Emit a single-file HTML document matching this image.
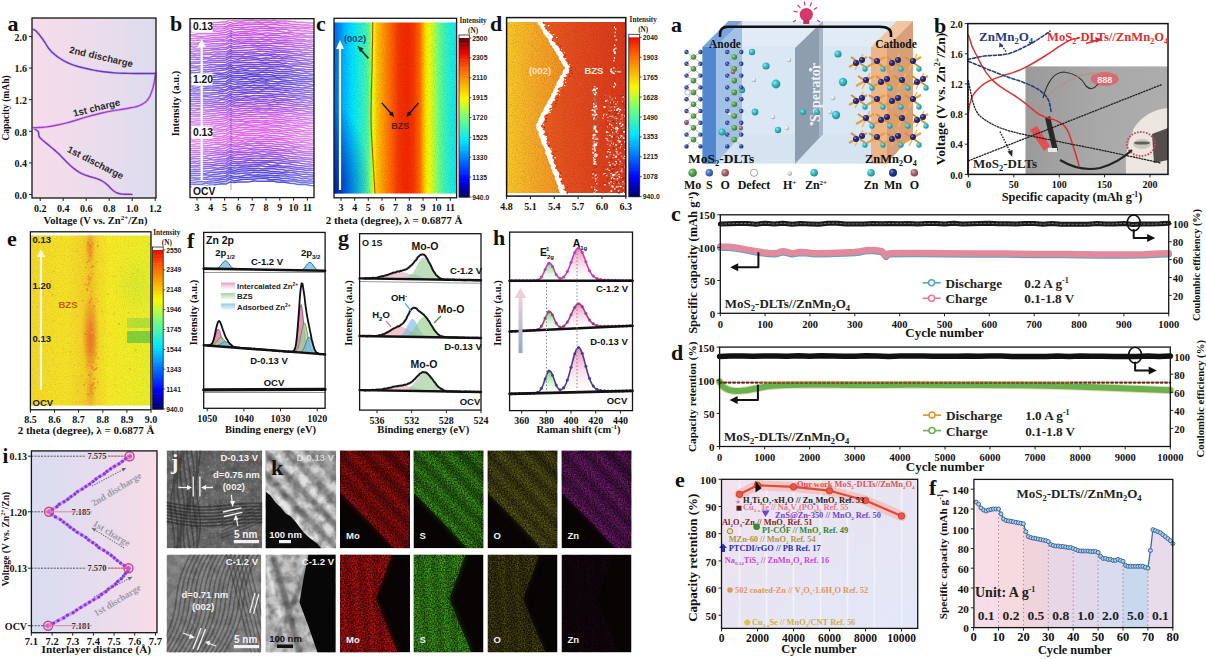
<!DOCTYPE html>
<html><head><meta charset="utf-8"><style>
html,body{margin:0;padding:0;background:#fff;width:1206px;height:659px;overflow:hidden}
svg{display:block}
</style></head><body>
<svg width="1206" height="659" viewBox="0 0 1206 659">
<defs><linearGradient id="ga" x1="0" y1="0" x2="1" y2="0"><stop offset="0.0000" stop-color="#f6dcea"/><stop offset="0.5000" stop-color="#ecdcec"/><stop offset="1.0000" stop-color="#dcdcee"/></linearGradient><clipPath id="cpb"><rect x="190" y="18.7" width="124" height="178.9"/></clipPath><linearGradient id="gbw" x1="0" y1="0" x2="1" y2="0"><stop offset="0" stop-color="#fff" stop-opacity="0.32"/><stop offset="0.4" stop-color="#fff" stop-opacity="0.05"/><stop offset="0.7" stop-color="#fff" stop-opacity="0.05"/><stop offset="1" stop-color="#fff" stop-opacity="0.3"/></linearGradient><filter id="nz" x="0" y="0" width="100%" height="100%"><feTurbulence type="fractalNoise" baseFrequency="0.9" numOctaves="2" seed="3"/><feColorMatrix type="matrix" values="0 0 0 0 0  0 0 0 0 0  0 0 0 0 0  0 0 0 1.2 -0.55"/></filter><filter id="nzw" x="0" y="0" width="100%" height="100%"><feTurbulence type="fractalNoise" baseFrequency="0.9" numOctaves="2" seed="5"/><feColorMatrix type="matrix" values="0 0 0 0 1  0 0 0 0 1  0 0 0 0 1  0 0 0 1.2 -0.6"/></filter><linearGradient id="gc" x1="0" y1="0" x2="1" y2="0"><stop offset="0.0000" stop-color="#007fff"/><stop offset="0.0250" stop-color="#0090ff"/><stop offset="0.0500" stop-color="#00a0ff"/><stop offset="0.0750" stop-color="#00b1ff"/><stop offset="0.1000" stop-color="#00c1ff"/><stop offset="0.1250" stop-color="#00d2ff"/><stop offset="0.1500" stop-color="#00e2ff"/><stop offset="0.1750" stop-color="#0ce8f1"/><stop offset="0.2000" stop-color="#1cebdf"/><stop offset="0.2250" stop-color="#2cefcc"/><stop offset="0.2500" stop-color="#3cf2ba"/><stop offset="0.2750" stop-color="#4cf6a8"/><stop offset="0.3000" stop-color="#8ffe61"/><stop offset="0.3250" stop-color="#faf800"/><stop offset="0.3500" stop-color="#fbc500"/><stop offset="0.3750" stop-color="#fcb000"/><stop offset="0.4000" stop-color="#fc9a00"/><stop offset="0.4250" stop-color="#fd8500"/><stop offset="0.4500" stop-color="#fe7000"/><stop offset="0.4750" stop-color="#fe5d00"/><stop offset="0.5000" stop-color="#fa4a00"/><stop offset="0.5250" stop-color="#f53600"/><stop offset="0.5500" stop-color="#f33000"/><stop offset="0.5750" stop-color="#f22b00"/><stop offset="0.6000" stop-color="#f12a00"/><stop offset="0.6250" stop-color="#f33000"/><stop offset="0.6500" stop-color="#f53800"/><stop offset="0.6750" stop-color="#fc5000"/><stop offset="0.7000" stop-color="#fe6700"/><stop offset="0.7250" stop-color="#fca800"/><stop offset="0.7500" stop-color="#fae400"/><stop offset="0.7750" stop-color="#f2fa06"/><stop offset="0.8000" stop-color="#cefb28"/><stop offset="0.8250" stop-color="#a5fd4e"/><stop offset="0.8500" stop-color="#75fe7a"/><stop offset="0.8750" stop-color="#54f79f"/><stop offset="0.9000" stop-color="#42f3b3"/><stop offset="0.9250" stop-color="#30f0c8"/><stop offset="0.9500" stop-color="#1fecdb"/><stop offset="0.9750" stop-color="#16eae5"/><stop offset="1.0000" stop-color="#0de8ef"/></linearGradient><linearGradient id="gcl" x1="0" y1="0" x2="1" y2="0"><stop offset="0.0000" stop-color="#0020c0"/><stop offset="1.0000" stop-color="#0030d0"/></linearGradient><linearGradient id="gcv" x1="0" y1="0" x2="0" y2="1"><stop offset="0.0000" stop-color="#000080"/><stop offset="0.5000" stop-color="#000080"/><stop offset="1.0000" stop-color="#000080"/></linearGradient><linearGradient id="gcle" x1="0" y1="0" x2="1" y2="0"><stop offset="0" stop-color="#0030d0" stop-opacity="0.35"/><stop offset="1" stop-color="#0030d0" stop-opacity="0"/></linearGradient><linearGradient id="gcb" x1="0" y1="0" x2="0" y2="1"><stop offset="0" stop-color="#0000c0" stop-opacity="0"/><stop offset="1" stop-color="#0000c0" stop-opacity="0.5"/></linearGradient><radialGradient id="gcbl" cx="0" cy="1" r="1"><stop offset="0" stop-color="#0010b0" stop-opacity="0.85"/><stop offset="1" stop-color="#0010b0" stop-opacity="0"/></radialGradient><linearGradient id="gdl" x1="0" y1="0" x2="1" y2="0"><stop offset="0.0000" stop-color="#f8c828"/><stop offset="0.4500" stop-color="#f4aa28"/><stop offset="1.0000" stop-color="#f08c22"/></linearGradient><linearGradient id="gdr" x1="0" y1="0" x2="1" y2="0"><stop offset="0.0000" stop-color="#ea6020"/><stop offset="0.3500" stop-color="#e44e1e"/><stop offset="1.0000" stop-color="#d8381a"/></linearGradient><radialGradient id="bg_3cc8d0" cx="0.35" cy="0.35" r="0.7"><stop offset="0" stop-color="#a7e6e9"/><stop offset="0.35" stop-color="#3cc8d0"/><stop offset="1" stop-color="#278287"/></radialGradient><radialGradient id="bg_e8eef4" cx="0.35" cy="0.35" r="0.7"><stop offset="0" stop-color="#f4f7fa"/><stop offset="0.35" stop-color="#e8eef4"/><stop offset="1" stop-color="#969a9e"/></radialGradient><radialGradient id="bg_2e4eb0" cx="0.35" cy="0.35" r="0.7"><stop offset="0" stop-color="#a0afdb"/><stop offset="0.35" stop-color="#2e4eb0"/><stop offset="1" stop-color="#1d3272"/></radialGradient><radialGradient id="bg_5cb04c" cx="0.35" cy="0.35" r="0.7"><stop offset="0" stop-color="#b5dbae"/><stop offset="0.35" stop-color="#5cb04c"/><stop offset="1" stop-color="#3b7231"/></radialGradient><radialGradient id="bg_b0707a" cx="0.35" cy="0.35" r="0.7"><stop offset="0" stop-color="#dbbec3"/><stop offset="0.35" stop-color="#b0707a"/><stop offset="1" stop-color="#72484f"/></radialGradient><radialGradient id="bg_2a2a8a" cx="0.35" cy="0.35" r="0.7"><stop offset="0" stop-color="#9f9fca"/><stop offset="0.35" stop-color="#2a2a8a"/><stop offset="1" stop-color="#1b1b59"/></radialGradient><radialGradient id="bg_4a78d0" cx="0.35" cy="0.35" r="0.7"><stop offset="0" stop-color="#adc2e9"/><stop offset="0.35" stop-color="#4a78d0"/><stop offset="1" stop-color="#304e87"/></radialGradient><radialGradient id="bg_b86a74" cx="0.35" cy="0.35" r="0.7"><stop offset="0" stop-color="#dfbbc0"/><stop offset="0.35" stop-color="#b86a74"/><stop offset="1" stop-color="#77444b"/></radialGradient><radialGradient id="bg_e0e6ec" cx="0.35" cy="0.35" r="0.7"><stop offset="0" stop-color="#f1f3f6"/><stop offset="0.35" stop-color="#e0e6ec"/><stop offset="1" stop-color="#919599"/></radialGradient><radialGradient id="bg_1e3c9a" cx="0.35" cy="0.35" r="0.7"><stop offset="0" stop-color="#99a7d1"/><stop offset="0.35" stop-color="#1e3c9a"/><stop offset="1" stop-color="#132764"/></radialGradient><linearGradient id="gph" x1="0" y1="0" x2="1" y2="0"><stop offset="0.0000" stop-color="#a2a2a2"/><stop offset="0.5000" stop-color="#b0b0b0"/><stop offset="1.0000" stop-color="#b6b6b6"/></linearGradient><linearGradient id="gph2" x1="0" y1="0" x2="0" y2="1"><stop offset="0" stop-color="#000" stop-opacity="0.05"/><stop offset="1" stop-color="#000" stop-opacity="0.04"/></linearGradient><linearGradient id="gel" x1="0" y1="0" x2="1" y2="0"><stop offset="0.0000" stop-color="#f4d82a"/><stop offset="0.3000" stop-color="#f6e228"/><stop offset="0.4500" stop-color="#f4d028"/><stop offset="0.5000" stop-color="#f2c02a"/><stop offset="0.5500" stop-color="#f4d828"/><stop offset="0.6500" stop-color="#f6ea26"/><stop offset="1.0000" stop-color="#eaee2a"/></linearGradient><radialGradient id="gep" cx="0.5" cy="0.5" r="0.5"><stop offset="0" stop-color="#e8702a" stop-opacity="0.85"/><stop offset="1" stop-color="#e8702a" stop-opacity="0"/></radialGradient><radialGradient id="geg" cx="0.5" cy="0.5" r="0.5"><stop offset="0" stop-color="#a8e040" stop-opacity="0.8"/><stop offset="1" stop-color="#a8e040" stop-opacity="0"/></radialGradient><linearGradient id="lgf0" x1="0" y1="0" x2="0" y2="1"><stop offset="0.0000" stop-color="#e8a0c0"/><stop offset="1.0000" stop-color="#ffffff"/></linearGradient><linearGradient id="lgf1" x1="0" y1="0" x2="0" y2="1"><stop offset="0.0000" stop-color="#a8d0a0"/><stop offset="1.0000" stop-color="#ffffff"/></linearGradient><linearGradient id="lgf2" x1="0" y1="0" x2="0" y2="1"><stop offset="0.0000" stop-color="#90c8e8"/><stop offset="1.0000" stop-color="#ffffff"/></linearGradient><linearGradient id="lh58cc58280" x1="0" y1="0" x2="0" y2="1"><stop offset="0" stop-color="#58cc58"/><stop offset="1" stop-color="#ffffff" stop-opacity="0.3"/></linearGradient><linearGradient id="lhe880b0280" x1="0" y1="0" x2="0" y2="1"><stop offset="0" stop-color="#e880b0"/><stop offset="1" stop-color="#ffffff" stop-opacity="0.3"/></linearGradient><linearGradient id="lh58cc58331" x1="0" y1="0" x2="0" y2="1"><stop offset="0" stop-color="#58cc58"/><stop offset="1" stop-color="#ffffff" stop-opacity="0.3"/></linearGradient><linearGradient id="lhe880b0331" x1="0" y1="0" x2="0" y2="1"><stop offset="0" stop-color="#e880b0"/><stop offset="1" stop-color="#ffffff" stop-opacity="0.3"/></linearGradient><linearGradient id="lh58cc58393" x1="0" y1="0" x2="0" y2="1"><stop offset="0" stop-color="#58cc58"/><stop offset="1" stop-color="#ffffff" stop-opacity="0.3"/></linearGradient><linearGradient id="lhe880b0393" x1="0" y1="0" x2="0" y2="1"><stop offset="0" stop-color="#e880b0"/><stop offset="1" stop-color="#ffffff" stop-opacity="0.3"/></linearGradient><linearGradient id="harr" x1="0" y1="1" x2="0" y2="0"><stop offset="0" stop-color="#90a8d0"/><stop offset="1" stop-color="#f0d0d8"/></linearGradient><linearGradient id="gi" x1="0" y1="0" x2="1" y2="0"><stop offset="0.0000" stop-color="#d8dcf0"/><stop offset="0.5000" stop-color="#e6dcee"/><stop offset="1.0000" stop-color="#f8dce6"/></linearGradient><filter id="temn" x="0" y="0" width="100%" height="100%"><feTurbulence type="fractalNoise" baseFrequency="0.35" numOctaves="3" seed="11"/><feColorMatrix type="matrix" values="0 0 0 0 0.5  0 0 0 0 0.5  0 0 0 0 0.5  0.9 0.9 0 0 -0.9"/></filter><filter id="temw" x="0" y="0" width="100%" height="100%"><feTurbulence type="fractalNoise" baseFrequency="0.12" numOctaves="3" seed="4"/><feColorMatrix type="matrix" values="0 0 0 0 0  0 0 0 0 0  0 0 0 0 0  1.6 0 0 0 -0.55"/></filter><filter id="speck" x="0" y="0" width="100%" height="100%"><feTurbulence type="fractalNoise" baseFrequency="0.7" numOctaves="2" seed="9" result="n"/><feColorMatrix in="n" type="matrix" values="0 0 0 0 0  0 0 0 0 0  0 0 0 0 0  2.0 0 0 0 -0.6" result="a"/><feComposite in="SourceGraphic" in2="a" operator="in"/></filter><filter id="blur1"><feGaussianBlur stdDeviation="1.2"/></filter><filter id="blur07"><feGaussianBlur stdDeviation="0.6"/></filter><filter id="blur3"><feGaussianBlur stdDeviation="3"/></filter><clipPath id="cjt"><rect x="166.7" y="450.4" width="95.5" height="97.8"/></clipPath><clipPath id="cjb"><rect x="166.6" y="554.6" width="94.6" height="97.9"/></clipPath><clipPath id="ckt"><rect x="265.5" y="450.4" width="70.6" height="97.8"/></clipPath><clipPath id="ckb"><rect x="265.5" y="554.6" width="70.1" height="97.9"/></clipPath><clipPath id="ce00"><rect x="340" y="450.5" width="70" height="97.8"/></clipPath><clipPath id="ce01"><rect x="340" y="554.6" width="70" height="97.8"/></clipPath><clipPath id="ce10"><rect x="413.5" y="450.5" width="70" height="97.8"/></clipPath><clipPath id="ce11"><rect x="413.5" y="554.6" width="70" height="97.8"/></clipPath><clipPath id="ce20"><rect x="487.5" y="450.5" width="70" height="97.8"/></clipPath><clipPath id="ce21"><rect x="487.5" y="554.6" width="70" height="97.8"/></clipPath><clipPath id="ce30"><rect x="561.5" y="450.5" width="70" height="97.8"/></clipPath><clipPath id="ce31"><rect x="561.5" y="554.6" width="70" height="97.8"/></clipPath><linearGradient id="ger" x1="0" y1="0" x2="1" y2="1"><stop offset="0" stop-color="#f2e2ee"/><stop offset="0.45" stop-color="#e8e4f2"/><stop offset="1" stop-color="#e2e8f8"/></linearGradient></defs>
<rect width="1206" height="659" fill="#ffffff"/>
<rect x="32" y="18" width="124" height="180" fill="url(#ga)"/>
<polyline points="33.4,127.9 34.4,128.6 35.8,129.6 37.3,130.7 38.4,131.9 38.8,133.1 38.7,134.3 38.8,135.6 39.4,137 40.7,138.5 42.4,140 44.5,141.7 46.8,143.6 49.4,145.8 52.4,148.3 55.5,150.9 58.5,153.6 61.4,156.5 64.3,159.6 67.2,162.6 70.1,165.3 72.9,167.7 75.7,169.9 78.6,171.9 81.8,173.7 85.5,175.2 89.6,176.5 93.5,177.6 96.9,178.7 99.4,179.7 101.3,180.5 103,181.5 105.2,183 107.8,185.3 110.6,188.2 113.7,191 116.9,193 120.8,194 125.1,194.3 129.1,194.3 131.9,194.4" fill="none" stroke="#f0a8f4" stroke-width="2.8" stroke-linejoin="round" stroke-linecap="round" opacity="0.8"/>
<polyline points="33.4,127.9 34.4,128.6 35.8,129.6 37.3,130.7 38.4,131.9 38.8,133.1 38.7,134.3 38.8,135.6 39.4,137 40.7,138.5 42.4,140 44.5,141.7 46.8,143.6 49.4,145.8 52.4,148.3 55.5,150.9 58.5,153.6 61.4,156.5 64.3,159.6 67.2,162.6 70.1,165.3 72.9,167.7 75.7,169.9 78.6,171.9 81.8,173.7 85.5,175.2 89.6,176.5 93.5,177.6 96.9,178.7 99.4,179.7 101.3,180.5 103,181.5 105.2,183 107.8,185.3 110.6,188.2 113.7,191 116.9,193 120.8,194 125.1,194.3 129.1,194.3 131.9,194.4" fill="none" stroke="#6a40b8" stroke-width="1.4" stroke-linejoin="round" stroke-linecap="round"/>
<polyline points="33.4,127.6 35.7,127.6 38.9,127.5 42.7,127.3 46.8,126.9 51.3,126.2 56.4,125.2 61.6,124.1 66.8,122.9 71.8,121.5 76.8,120 81.8,118.4 86.8,116.9 91.8,115.5 96.9,114.2 101.9,113 106.9,111.9 112.1,110.9 117.3,110.1 122.4,109.3 126.9,108.5 130.8,107.7 134.3,107.1 137.5,106.3 140.3,105.2 142.8,103.9 145,102.5 146.9,100.7 148.6,98.5 150.2,95.6 151.5,92.2 152.7,88.6 153.6,85.2 154.3,81.9 154.8,78.5 155.1,75.6 155.3,73.5" fill="none" stroke="#f0a8f4" stroke-width="2.8" stroke-linejoin="round" stroke-linecap="round" opacity="0.8"/>
<polyline points="33.4,127.6 35.7,127.6 38.9,127.5 42.7,127.3 46.8,126.9 51.3,126.2 56.4,125.2 61.6,124.1 66.8,122.9 71.8,121.5 76.8,120 81.8,118.4 86.8,116.9 91.8,115.5 96.9,114.2 101.9,113 106.9,111.9 112.1,110.9 117.3,110.1 122.4,109.3 126.9,108.5 130.8,107.7 134.3,107.1 137.5,106.3 140.3,105.2 142.8,103.9 145,102.5 146.9,100.7 148.6,98.5 150.2,95.6 151.5,92.2 152.7,88.6 153.6,85.2 154.3,81.9 154.8,78.5 155.1,75.6 155.3,73.5" fill="none" stroke="#9448d0" stroke-width="1.4" stroke-linejoin="round" stroke-linecap="round"/>
<polyline points="33.4,29.4 33.9,29.7 34.6,30 35.6,30.6 36.7,31.7 38.1,33.3 39.8,35.4 41.6,37.7 43.4,40.1 45,42.5 46.5,45.1 48.2,47.7 50.1,50.1 52.3,52.4 54.7,54.5 57.3,56.6 60.1,58.5 63.1,60.3 66.2,62 69.6,63.6 73.5,65.1 78,66.5 83.1,67.8 88.3,69 93.5,70.1 98.5,71 103.5,71.7 108.6,72.3 113.6,72.8 118.6,73.1 123.5,73.3 128.5,73.4 133.6,73.5 139.4,73.5 145.7,73.5 151.4,73.5 155.3,73.5" fill="none" stroke="#f0a8f4" stroke-width="2.8" stroke-linejoin="round" stroke-linecap="round" opacity="0.8"/>
<polyline points="33.4,29.4 33.9,29.7 34.6,30 35.6,30.6 36.7,31.7 38.1,33.3 39.8,35.4 41.6,37.7 43.4,40.1 45,42.5 46.5,45.1 48.2,47.7 50.1,50.1 52.3,52.4 54.7,54.5 57.3,56.6 60.1,58.5 63.1,60.3 66.2,62 69.6,63.6 73.5,65.1 78,66.5 83.1,67.8 88.3,69 93.5,70.1 98.5,71 103.5,71.7 108.6,72.3 113.6,72.8 118.6,73.1 123.5,73.3 128.5,73.4 133.6,73.5 139.4,73.5 145.7,73.5 151.4,73.5 155.3,73.5" fill="none" stroke="#4c48b8" stroke-width="1.4" stroke-linejoin="round" stroke-linecap="round"/>
<text x="100.4" y="60" font-family="'Liberation Sans', sans-serif" font-size="9.6" font-weight="bold" text-anchor="middle" fill="#2a2a2a" transform="rotate(13 100.4 60)">2nd discharge</text>
<text x="97.4" y="111" font-family="'Liberation Sans', sans-serif" font-size="9.6" font-weight="bold" text-anchor="middle" fill="#2a2a2a" transform="rotate(-14 97.4 111)">1st charge</text>
<text x="94" y="165.5" font-family="'Liberation Sans', sans-serif" font-size="9.6" font-weight="bold" text-anchor="middle" fill="#2a2a2a" transform="rotate(27 94 165.5)">1st discharge</text>
<rect x="32" y="18" width="124" height="180" fill="none" stroke="#151515" stroke-width="1.3"/>
<line x1="29" y1="194.5" x2="32" y2="194.5" stroke="#222" stroke-width="1"/>
<text x="27" y="198.7" font-family="'Liberation Serif', serif" font-size="10" font-weight="bold" text-anchor="end" fill="#111">0.0</text>
<line x1="29" y1="162.9" x2="32" y2="162.9" stroke="#222" stroke-width="1"/>
<text x="27" y="167.1" font-family="'Liberation Serif', serif" font-size="10" font-weight="bold" text-anchor="end" fill="#111">0.4</text>
<line x1="29" y1="131.3" x2="32" y2="131.3" stroke="#222" stroke-width="1"/>
<text x="27" y="135.5" font-family="'Liberation Serif', serif" font-size="10" font-weight="bold" text-anchor="end" fill="#111">0.8</text>
<line x1="29" y1="99.7" x2="32" y2="99.7" stroke="#222" stroke-width="1"/>
<text x="27" y="103.9" font-family="'Liberation Serif', serif" font-size="10" font-weight="bold" text-anchor="end" fill="#111">1.2</text>
<line x1="29" y1="68.1" x2="32" y2="68.1" stroke="#222" stroke-width="1"/>
<text x="27" y="72.3" font-family="'Liberation Serif', serif" font-size="10" font-weight="bold" text-anchor="end" fill="#111">1.6</text>
<line x1="29" y1="36.5" x2="32" y2="36.5" stroke="#222" stroke-width="1"/>
<text x="27" y="40.7" font-family="'Liberation Serif', serif" font-size="10" font-weight="bold" text-anchor="end" fill="#111">2.0</text>
<line x1="40.2" y1="198" x2="40.2" y2="201" stroke="#222" stroke-width="1"/>
<text x="40.2" y="211.5" font-family="'Liberation Serif', serif" font-size="10" font-weight="bold" text-anchor="middle" fill="#111">0.2</text>
<line x1="63.2" y1="198" x2="63.2" y2="201" stroke="#222" stroke-width="1"/>
<text x="63.2" y="211.5" font-family="'Liberation Serif', serif" font-size="10" font-weight="bold" text-anchor="middle" fill="#111">0.4</text>
<line x1="86.2" y1="198" x2="86.2" y2="201" stroke="#222" stroke-width="1"/>
<text x="86.2" y="211.5" font-family="'Liberation Serif', serif" font-size="10" font-weight="bold" text-anchor="middle" fill="#111">0.6</text>
<line x1="109.2" y1="198" x2="109.2" y2="201" stroke="#222" stroke-width="1"/>
<text x="109.2" y="211.5" font-family="'Liberation Serif', serif" font-size="10" font-weight="bold" text-anchor="middle" fill="#111">0.8</text>
<line x1="132.2" y1="198" x2="132.2" y2="201" stroke="#222" stroke-width="1"/>
<text x="132.2" y="211.5" font-family="'Liberation Serif', serif" font-size="10" font-weight="bold" text-anchor="middle" fill="#111">1.0</text>
<line x1="155.2" y1="198" x2="155.2" y2="201" stroke="#222" stroke-width="1"/>
<text x="155.2" y="211.5" font-family="'Liberation Serif', serif" font-size="10" font-weight="bold" text-anchor="middle" fill="#111">1.2</text>
<text x="95.5" y="223.5" font-family="'Liberation Serif', serif" font-size="10.5" font-weight="bold" text-anchor="middle" fill="#111">Voltage (V vs. Zn<tspan font-size="7" dy="-4">2+</tspan><tspan dy="4">/Zn)</tspan></text>
<text x="9" y="108" font-family="'Liberation Serif', serif" font-size="9.5" font-weight="bold" text-anchor="middle" fill="#111" transform="rotate(-90 9 108)">Capacity (mAh)</text>
<text x="7.5" y="30.5" font-family="'Liberation Serif', serif" font-size="22" font-weight="bold" text-anchor="start" fill="#111">a</text>
<rect x="190" y="18.7" width="124" height="178.9" fill="#ffffff"/>
<g clip-path="url(#cpb)">
<polyline points="190,23.5 194,23.3 198,23.7 202,22.9 206,23.3 210,22.9 214,22.4 218,22.6 222,21.9 226,22 230,19.6 234,21 238,21.1 242,21.3 246,20.4 250,20.3 254,20.6 258,20.9 262,20.5 266,20.4 270,21 274,20.3 278,21.3 282,21 286,21.1 290,21.3 294,21.8 298,22.6 302,22.2 306,22.8 310,23.1 314,23" fill="none" stroke="#d858e0" stroke-width="1.5" stroke-linejoin="round" stroke-linecap="round"/>
<polyline points="190,25.9 194,25.3 198,25.2 202,25.2 206,25.5 210,25.1 214,24.7 218,24.8 222,24.4 226,23.9 230,22.4 234,23.7 238,23.1 242,23.1 246,22.9 250,23.1 254,22.8 258,22.3 262,23 266,22.2 270,22.6 274,23.1 278,22.7 282,23.2 286,23.1 290,24 294,24.3 298,24.4 302,25 306,24.7 310,25.3 314,25.4" fill="none" stroke="#d456e0" stroke-width="1.5" stroke-linejoin="round" stroke-linecap="round"/>
<polyline points="190,28 194,27.8 198,28.1 202,28 206,27.4 210,27.4 214,26.6 218,27 222,26.7 226,26.7 230,24.5 234,25.4 238,25.3 242,25.3 246,24.5 250,24.7 254,24.3 258,24.2 262,24.1 266,24.9 270,24.4 274,24.6 278,25 282,25.7 286,25.2 290,25.8 294,26.2 298,26.8 302,27 306,27.3 310,27 314,27.3" fill="none" stroke="#d155e0" stroke-width="1.5" stroke-linejoin="round" stroke-linecap="round"/>
<polyline points="190,29.9 194,30.4 198,30.3 202,29.4 206,29.2 210,29.1 214,28.9 218,28.9 222,28.7 226,28.1 230,25.8 234,27.6 238,27.4 242,27.3 246,27.5 250,27 254,26.8 258,26.8 262,26.8 266,26.3 270,27.2 274,27.3 278,27.6 282,27.7 286,27.6 290,27.9 294,27.9 298,28.7 302,28.4 306,28.6 310,29 314,29.2" fill="none" stroke="#ce54e0" stroke-width="1.5" stroke-linejoin="round" stroke-linecap="round"/>
<polyline points="190,32 194,31.6 198,31.5 202,31.5 206,31.3 210,31.3 214,30.8 218,31.4 222,30.8 226,30.1 230,28.2 234,29.7 238,29.5 242,29 246,29.5 250,29.4 254,28.8 258,28.7 262,28.3 266,28.4 270,28.8 274,28.8 278,29.6 282,29.2 286,29.3 290,30.5 294,30.4 298,30.3 302,31 306,30.7 310,31.4 314,32.1" fill="none" stroke="#cb53e0" stroke-width="1.5" stroke-linejoin="round" stroke-linecap="round"/>
<polyline points="190,34.7 194,34.4 198,33.8 202,33.8 206,33.4 210,33.8 214,33.4 218,33.4 222,32.7 226,32.3 230,30.8 234,32.4 238,32 242,31.7 246,31.5 250,31.3 254,30.6 258,30.9 262,30.7 266,30.4 270,30.5 274,30.9 278,31.1 282,31.8 286,32.4 290,32.1 294,32.9 298,33.2 302,33.5 306,33.2 310,33.2 314,33.4" fill="none" stroke="#c852e0" stroke-width="1.5" stroke-linejoin="round" stroke-linecap="round"/>
<polyline points="190,36.1 194,36 198,36.3 202,36.4 206,36.2 210,35.7 214,35.6 218,35.5 222,34.5 226,34.8 230,33 234,34.3 238,34 242,33.5 246,33 250,33.4 254,32.8 258,33.2 262,33.4 266,32.9 270,33 274,33.7 278,33.7 282,33.4 286,33.6 290,33.9 294,35 298,35.2 302,34.8 306,35.7 310,36.1 314,36" fill="none" stroke="#c551e0" stroke-width="1.5" stroke-linejoin="round" stroke-linecap="round"/>
<polyline points="190,38.4 194,38.5 198,37.9 202,37.7 206,38.5 210,37.9 214,37.6 218,37.7 222,37 226,37.1 230,35 234,35.8 238,35.6 242,35.4 246,35.1 250,35.3 254,34.8 258,34.9 262,34.6 266,35.5 270,35 274,35.3 278,35.6 282,36.2 286,36 290,36.8 294,36.7 298,37 302,37.3 306,37 310,37.7 314,37.6" fill="none" stroke="#c250e0" stroke-width="1.5" stroke-linejoin="round" stroke-linecap="round"/>
<polyline points="190,40.1 194,40.8 198,40.1 202,40.2 206,40.3 210,39.9 214,39.5 218,39.4 222,39.2 226,39.1 230,36.4 234,38.3 238,37.7 242,37.5 246,37.8 250,37.3 254,37.2 258,37.4 262,37.5 266,37.1 270,37.4 274,37.4 278,37.7 282,38.1 286,38.1 290,38.5 294,38.7 298,39.5 302,39.5 306,40 310,40.3 314,39.8" fill="none" stroke="#bd4fdf" stroke-width="1.5" stroke-linejoin="round" stroke-linecap="round"/>
<polyline points="190,42.8 194,43.1 198,42.9 202,42 206,41.8 210,41.9 214,41.3 218,41.3 222,40.8 226,41.1 230,39.2 234,40.7 238,39.7 242,40 246,39.7 250,39 254,39.6 258,39.7 262,38.9 266,39.7 270,39.2 274,39.5 278,40.2 282,40.3 286,39.9 290,40.5 294,40.9 298,41 302,41.1 306,41.5 310,42.2 314,41.7" fill="none" stroke="#b64dde" stroke-width="1.5" stroke-linejoin="round" stroke-linecap="round"/>
<polyline points="190,44.9 194,44.7 198,44.2 202,44.3 206,44.4 210,44.1 214,43.4 218,44.1 222,43.6 226,43.5 230,40.6 234,42.2 238,41.7 242,42.2 246,41.4 250,41.1 254,41.3 258,41.7 262,41.6 266,41.1 270,41.1 274,42 278,41.9 282,42.3 286,42 290,42.2 294,43.2 298,43.2 302,43.1 306,44.3 310,44.2 314,44.6" fill="none" stroke="#b04cde" stroke-width="1.5" stroke-linejoin="round" stroke-linecap="round"/>
<polyline points="190,46.6 194,47.2 198,46.3 202,47 206,46.4 210,46.1 214,46 218,46.1 222,45.2 226,44.8 230,43.1 234,44.2 238,43.9 242,43.6 246,43.3 250,43.3 254,43.2 258,43.2 262,43.6 266,43.2 270,43.5 274,43.4 278,43.8 282,43.7 286,44.2 290,44.3 294,45.3 298,45.4 302,45.3 306,45.9 310,46.6 314,46" fill="none" stroke="#a94add" stroke-width="1.5" stroke-linejoin="round" stroke-linecap="round"/>
<polyline points="190,49.4 194,48.9 198,48.9 202,49 206,48.4 210,48.3 214,48.3 218,48.3 222,47.4 226,47.6 230,45.4 234,46.7 238,46.2 242,45.9 246,45.4 250,45.3 254,45.1 258,45.7 262,45.2 266,45.2 270,45.2 274,46.1 278,46.4 282,46.4 286,46.3 290,46.6 294,47 298,47.4 302,47.4 306,48 310,48 314,48.9" fill="none" stroke="#a248dc" stroke-width="1.5" stroke-linejoin="round" stroke-linecap="round"/>
<polyline points="190,51.7 194,51.2 198,50.7 202,51.3 206,50.5 210,50.3 214,49.7 218,49.8 222,49.6 226,49.3 230,47 234,48.7 238,47.9 242,47.9 246,47.5 250,47.6 254,47.1 258,47 262,47.3 266,47.3 270,47.8 274,47.9 278,48.3 282,48.5 286,48.9 290,49.3 294,49.2 298,49.4 302,50.3 306,49.8 310,50.6 314,50.7" fill="none" stroke="#9b46db" stroke-width="1.5" stroke-linejoin="round" stroke-linecap="round"/>
<polyline points="190,52.9 194,53.6 198,53.5 202,53.1 206,53 210,52.9 214,51.9 218,52.1 222,51.8 226,51.8 230,49.7 234,51.1 238,50.6 242,50.6 246,50.2 250,50 254,49.4 258,49.1 262,49.2 266,49.5 270,49.4 274,50.3 278,50.2 282,50.6 286,50.9 290,51.2 294,51.4 298,51.2 302,52.3 306,52.5 310,52.5 314,52.7" fill="none" stroke="#9445da" stroke-width="1.5" stroke-linejoin="round" stroke-linecap="round"/>
<polyline points="190,55.6 194,54.9 198,55.4 202,54.8 206,54.4 210,54.4 214,54.6 218,53.8 222,54.1 226,54 230,51.5 234,52.7 238,52.6 242,52.5 246,52.4 250,52 254,51.9 258,51.3 262,51.3 266,51.5 270,52.1 274,51.9 278,52.3 282,52.1 286,52.4 290,52.9 294,53.6 298,54 302,54.2 306,54.1 310,54.6 314,54.8" fill="none" stroke="#8d43d9" stroke-width="1.5" stroke-linejoin="round" stroke-linecap="round"/>
<polyline points="190,57.5 194,57.1 198,57.7 202,56.9 206,57.5 210,57.2 214,56 218,56.2 222,56.3 226,56.1 230,53.5 234,54.7 238,54.4 242,54.9 246,53.9 250,54.1 254,53.5 258,53.8 262,54.2 266,53.5 270,54.3 274,54.1 278,54.8 282,54.8 286,54.7 290,55.6 294,55.6 298,55.4 302,55.7 306,56.4 310,56.7 314,56.7" fill="none" stroke="#8641d8" stroke-width="1.5" stroke-linejoin="round" stroke-linecap="round"/>
<polyline points="190,59.3 194,59.4 198,59.2 202,59.6 206,58.6 210,59.1 214,59 218,58 222,58.5 226,58 230,56.1 234,56.8 238,56.7 242,56.4 246,56.8 250,56.2 254,55.8 258,55.8 262,55.6 266,55.5 270,55.6 274,56.6 278,56.2 282,57.2 286,56.8 290,57.1 294,57.7 298,57.7 302,58.2 306,59 310,59.2 314,59.3" fill="none" stroke="#7f3fd7" stroke-width="1.5" stroke-linejoin="round" stroke-linecap="round"/>
<polyline points="190,61.9 194,62.1 198,62 202,61.4 206,61.4 210,60.5 214,61 218,60.4 222,60.4 226,60 230,57.6 234,58.7 238,59.3 242,58.2 246,58.3 250,58 254,57.8 258,58.2 262,58.4 266,57.8 270,58.3 274,58.1 278,58.6 282,58.7 286,58.8 290,59.1 294,59.5 298,60.5 302,60.4 306,60.4 310,61.3 314,61.6" fill="none" stroke="#7a3fd7" stroke-width="1.5" stroke-linejoin="round" stroke-linecap="round"/>
<polyline points="190,63.8 194,63.4 198,63.3 202,63.1 206,63.1 210,62.7 214,62.6 218,62.3 222,62.3 226,62.3 230,60.1 234,61.2 238,60.9 242,60.7 246,60.3 250,60.1 254,59.7 258,59.8 262,60.5 266,59.7 270,60.2 274,60.5 278,61 282,60.6 286,61 290,61.3 294,61.8 298,62.1 302,62.9 306,63.1 310,63.4 314,62.8" fill="none" stroke="#763ed6" stroke-width="1.5" stroke-linejoin="round" stroke-linecap="round"/>
<polyline points="190,65.5 194,66.1 198,66.2 202,65.6 206,65.5 210,64.7 214,64.8 218,65.1 222,64.7 226,64.4 230,62.5 234,63.1 238,62.7 242,62.4 246,62.6 250,62.5 254,62.6 258,62.3 262,62.3 266,62.4 270,62.3 274,62.5 278,62.3 282,63.3 286,63 290,64.1 294,64.1 298,64.1 302,64.2 306,64.6 310,65.3 314,65.6" fill="none" stroke="#713dd5" stroke-width="1.5" stroke-linejoin="round" stroke-linecap="round"/>
<polyline points="190,67.7 194,67.6 198,67.9 202,67.8 206,67.4 210,67 214,67.2 218,66.3 222,66.3 226,66.1 230,64.5 234,65.6 238,65.6 242,64.9 246,64.4 250,64.2 254,64.8 258,64.4 262,64 266,63.8 270,64.4 274,64.8 278,64.7 282,64.9 286,65.6 290,66.2 294,65.8 298,65.9 302,66.5 306,66.9 310,67.4 314,67.2" fill="none" stroke="#6c3cd4" stroke-width="1.5" stroke-linejoin="round" stroke-linecap="round"/>
<polyline points="190,70.5 194,70.4 198,70 202,69.5 206,70.1 210,69.2 214,69.5 218,68.6 222,68.3 226,68.5 230,66 234,68 238,67.3 242,66.7 246,66.4 250,66.4 254,66.5 258,66.7 262,65.9 266,66.2 270,66.2 274,67.1 278,66.6 282,66.7 286,67.1 290,67.7 294,68.6 298,68.9 302,69 306,69.6 310,69.8 314,69.4" fill="none" stroke="#673bd3" stroke-width="1.5" stroke-linejoin="round" stroke-linecap="round"/>
<polyline points="190,72 194,72.7 198,72.4 202,71.5 206,71.9 210,71.4 214,71.1 218,70.8 222,70.3 226,69.8 230,68.1 234,69.5 238,69.8 242,68.7 246,69.3 250,68.3 254,68.3 258,68.7 262,68.7 266,68.4 270,68.1 274,68.7 278,68.9 282,69.7 286,69.3 290,69.8 294,70.7 298,70.1 302,70.8 306,71.5 310,71.7 314,71.2" fill="none" stroke="#623bd3" stroke-width="1.5" stroke-linejoin="round" stroke-linecap="round"/>
<polyline points="190,74 194,73.9 198,74.6 202,73.8 206,74.1 210,74 214,73.2 218,72.9 222,73.2 226,72.6 230,70.1 234,71.9 238,71.3 242,70.9 246,70.4 250,71 254,71 258,70.6 262,70.9 266,70 270,70.4 274,70.8 278,71.5 282,71.8 286,71.6 290,71.8 294,72.3 298,72.7 302,73.4 306,73 310,73.9 314,74" fill="none" stroke="#5e3ad2" stroke-width="1.5" stroke-linejoin="round" stroke-linecap="round"/>
<polyline points="190,76.9 194,76.7 198,76.4 202,76 206,75.8 210,75.6 214,75.8 218,74.8 222,74.6 226,74.8 230,72.2 234,73.4 238,73.1 242,73.3 246,72.8 250,73.3 254,73 258,73 262,72.3 266,72.2 270,72.3 274,72.9 278,73.4 282,73.4 286,73.5 290,74 294,74.6 298,75 302,75.4 306,75.8 310,75.8 314,75.5" fill="none" stroke="#5939d1" stroke-width="1.5" stroke-linejoin="round" stroke-linecap="round"/>
<polyline points="190,79 194,78.4 198,78.5 202,78.1 206,78.3 210,77.5 214,77.3 218,77 222,76.6 226,77 230,74.6 234,75.7 238,75.5 242,75.8 246,75.1 250,74.6 254,75 258,74.8 262,75.1 266,74.3 270,74.8 274,75.3 278,75.6 282,76 286,75.4 290,76 294,76.2 298,76.6 302,77.7 306,77.6 310,78.2 314,77.9" fill="none" stroke="#5438d0" stroke-width="1.5" stroke-linejoin="round" stroke-linecap="round"/>
<polyline points="190,81.2 194,80.6 198,80.3 202,80.7 206,80.6 210,79.6 214,79.8 218,79.5 222,78.8 226,78.6 230,76.3 234,77.7 238,77.5 242,77.5 246,77.3 250,76.7 254,76.3 258,76.6 262,76.9 266,76.5 270,76.7 274,76.8 278,77.7 282,77.7 286,77.5 290,77.9 294,78.6 298,79 302,79.5 306,79.2 310,79.6 314,80.3" fill="none" stroke="#5038d0" stroke-width="1.5" stroke-linejoin="round" stroke-linecap="round"/>
<polyline points="190,82.8 194,82.6 198,82.5 202,83 206,82.1 210,82.1 214,81.7 218,81.4 222,81.5 226,81.3 230,78.6 234,79.8 238,80 242,79.2 246,78.8 250,79.4 254,78.8 258,79.1 262,78.7 266,79.3 270,79 274,78.9 278,79 282,79.8 286,80.2 290,80.8 294,80.3 298,81.2 302,81.3 306,81.7 310,81.6 314,82" fill="none" stroke="#5438d0" stroke-width="1.5" stroke-linejoin="round" stroke-linecap="round"/>
<polyline points="190,85.1 194,85.3 198,84.4 202,84.6 206,84.7 210,84.6 214,83.6 218,83.2 222,83.7 226,83.4 230,80.8 234,81.7 238,82.3 242,81.5 246,81.7 250,81.3 254,81.3 258,80.6 262,81.2 266,80.7 270,81 274,81.6 278,81.9 282,81.5 286,81.9 290,82.4 294,82.9 298,83.1 302,83.2 306,83.6 310,84.3 314,84.8" fill="none" stroke="#5839d1" stroke-width="1.5" stroke-linejoin="round" stroke-linecap="round"/>
<polyline points="190,86.7 194,87.1 198,87.2 202,86.3 206,86.9 210,85.9 214,86.1 218,85.8 222,85.5 226,84.8 230,82.9 234,84.4 238,83.9 242,83.9 246,83.4 250,83.2 254,82.6 258,83.1 262,83 266,82.8 270,83.4 274,83.7 278,83.6 282,83.6 286,84.2 290,84.2 294,84.6 298,85.2 302,85.2 306,85.9 310,86.2 314,86" fill="none" stroke="#5c3ad2" stroke-width="1.5" stroke-linejoin="round" stroke-linecap="round"/>
<polyline points="190,89.4 194,88.7 198,89.2 202,89.1 206,88.6 210,87.9 214,88.1 218,87.7 222,87.9 226,86.8 230,85.4 234,86.9 238,86.3 242,86.1 246,85.2 250,85.8 254,85.1 258,85.5 262,85.5 266,84.8 270,85.6 274,85.9 278,85.3 282,85.9 286,86.6 290,86.4 294,87.5 298,87.2 302,88.1 306,87.7 310,88.3 314,89" fill="none" stroke="#603bd3" stroke-width="1.5" stroke-linejoin="round" stroke-linecap="round"/>
<polyline points="190,91.1 194,91 198,91.1 202,90.8 206,90.3 210,90.2 214,89.9 218,90.4 222,89.8 226,89.6 230,86.8 234,88.8 238,87.8 242,87.9 246,87.7 250,87.3 254,87.6 258,87.2 262,87.2 266,87.6 270,87 274,88 278,87.9 282,88 286,88.7 290,88.6 294,89.6 298,89.6 302,89.7 306,90.4 310,90.4 314,90.4" fill="none" stroke="#653cd4" stroke-width="1.5" stroke-linejoin="round" stroke-linecap="round"/>
<polyline points="190,93.7 194,92.9 198,93.6 202,92.8 206,93 210,93.1 214,92.4 218,92.2 222,91.5 226,90.8 230,88.8 234,90.2 238,90.4 242,89.9 246,89.7 250,89.9 254,89 258,89 262,89.4 266,88.8 270,88.9 274,89.5 278,89.5 282,90.1 286,90.3 290,91 294,91.3 298,91.3 302,92.1 306,92.2 310,92.2 314,93.2" fill="none" stroke="#693cd4" stroke-width="1.5" stroke-linejoin="round" stroke-linecap="round"/>
<polyline points="190,95.4 194,95.1 198,94.9 202,95.3 206,95.3 210,95 214,94.3 218,93.9 222,93.3 226,93.6 230,91.4 234,92.5 238,92.5 242,92 246,92.2 250,91.8 254,91.2 258,91.7 262,90.9 266,91.4 270,91.4 274,91.5 278,91.6 282,92.6 286,92.1 290,93 294,93.8 298,93.4 302,93.7 306,94.5 310,94.7 314,95" fill="none" stroke="#6d3dd5" stroke-width="1.5" stroke-linejoin="round" stroke-linecap="round"/>
<polyline points="190,98 194,97.3 198,97.3 202,97.1 206,96.6 210,97.2 214,96.8 218,96.4 222,95.4 226,95.9 230,93.7 234,94.7 238,94.7 242,94.1 246,93.6 250,93.3 254,93.2 258,93 262,93.2 266,93.7 270,93.8 274,94.2 278,94.3 282,94.2 286,94.8 290,95 294,95.7 298,95.8 302,95.9 306,96.6 310,97.2 314,96.7" fill="none" stroke="#713ed6" stroke-width="1.5" stroke-linejoin="round" stroke-linecap="round"/>
<polyline points="190,100.2 194,99.2 198,99.3 202,99.1 206,99.4 210,99.4 214,98.9 218,98.2 222,98.4 226,97.5 230,95.3 234,97.3 238,96.7 242,96.4 246,96.1 250,96.2 254,95.6 258,95.8 262,95.7 266,95.9 270,95.6 274,96.1 278,96.2 282,96.3 286,96.5 290,97.3 294,97.1 298,98.3 302,97.9 306,98.1 310,98.5 314,99.5" fill="none" stroke="#753fd7" stroke-width="1.5" stroke-linejoin="round" stroke-linecap="round"/>
<polyline points="190,101.8 194,101.5 198,101.2 202,101 206,101.5 210,101.2 214,101 218,100.7 222,99.7 226,99.8 230,97.5 234,99.3 238,99 242,98.7 246,97.6 250,98.2 254,98.1 258,98 262,97.2 266,97.4 270,97.4 274,97.5 278,98.6 282,98.9 286,99.1 290,99.6 294,99.8 298,99.8 302,100 306,100.3 310,101.2 314,100.9" fill="none" stroke="#7a40d8" stroke-width="1.5" stroke-linejoin="round" stroke-linecap="round"/>
<polyline points="190,103.9 194,103.9 198,103.3 202,103.4 206,103.2 210,103.4 214,102.7 218,102.4 222,102.7 226,101.8 230,100.1 234,101.2 238,100.3 242,100.3 246,100.1 250,100.2 254,99.6 258,99.9 262,99.7 266,99.4 270,100.2 274,99.7 278,100.7 282,100.3 286,100.5 290,101.1 294,102 298,102.6 302,102 306,102.8 310,103.1 314,103.6" fill="none" stroke="#8342d9" stroke-width="1.5" stroke-linejoin="round" stroke-linecap="round"/>
<polyline points="190,105.9 194,106.1 198,105.8 202,106.1 206,105.3 210,105.7 214,104.8 218,104.4 222,104.5 226,103.9 230,101.4 234,103.3 238,102.4 242,102.8 246,102.4 250,102.3 254,102 258,101.6 262,101.6 266,101.7 270,102.4 274,101.8 278,102.8 282,102.3 286,102.8 290,103.2 294,104.3 298,104.2 302,104.4 306,105.3 310,104.9 314,105.4" fill="none" stroke="#8c45db" stroke-width="1.5" stroke-linejoin="round" stroke-linecap="round"/>
<polyline points="190,108.3 194,108.4 198,108.3 202,108 206,107.5 210,107.2 214,106.7 218,107.1 222,106.6 226,106.3 230,103.6 234,105.2 238,105.2 242,104.7 246,103.9 250,104.1 254,104.3 258,103.6 262,103.5 266,103.7 270,104.3 274,104.6 278,104.2 282,104.5 286,105 290,105.4 294,106 298,106 302,106.5 306,106.7 310,107.8 314,107.8" fill="none" stroke="#9647dd" stroke-width="1.5" stroke-linejoin="round" stroke-linecap="round"/>
<polyline points="190,110 194,110.7 198,109.7 202,109.8 206,110.2 210,109.8 214,109.4 218,108.8 222,108.2 226,108.3 230,105.6 234,107 238,106.9 242,106.2 246,106.3 250,106.5 254,106.2 258,105.9 262,106.1 266,106 270,105.8 274,106.5 278,106.5 282,107.2 286,107.7 290,107.6 294,108.1 298,108.7 302,108.7 306,108.8 310,109.6 314,110" fill="none" stroke="#9f4ade" stroke-width="1.5" stroke-linejoin="round" stroke-linecap="round"/>
<polyline points="190,112.8 194,112.6 198,112.6 202,112.2 206,112 210,111.5 214,111.1 218,111.1 222,110.2 226,110.2 230,108.4 234,109.6 238,109.3 242,108.5 246,108.4 250,108.2 254,108.2 258,107.9 262,108.2 266,108.5 270,107.9 274,108.6 278,109 282,108.9 286,109.4 290,110.2 294,109.7 298,110.6 302,110.5 306,111.5 310,112 314,111.8" fill="none" stroke="#a84de0" stroke-width="1.5" stroke-linejoin="round" stroke-linecap="round"/>
<polyline points="190,114.2 194,114.6 198,114.4 202,114.4 206,114 210,113.8 214,113.7 218,113.1 222,112.6 226,112.8 230,109.9 234,111.7 238,111.1 242,111.1 246,110.2 250,110.8 254,110 258,109.7 262,109.9 266,110.1 270,109.8 274,110.4 278,110.7 282,111.3 286,111.3 290,111.6 294,112 298,112.9 302,113.4 306,113.3 310,113.3 314,114.2" fill="none" stroke="#b24fe2" stroke-width="1.5" stroke-linejoin="round" stroke-linecap="round"/>
<polyline points="190,116.6 194,116.3 198,116.1 202,116.6 206,116.4 210,115.9 214,115.5 218,115.2 222,114.5 226,114.9 230,112.2 234,113.8 238,113.6 242,113.3 246,112.6 250,112.2 254,112.3 258,111.8 262,112.5 266,112.1 270,112.7 274,112.4 278,112.8 282,113 286,113.5 290,113.6 294,113.9 298,114.9 302,114.9 306,115.2 310,115.5 314,116" fill="none" stroke="#bb52e4" stroke-width="1.5" stroke-linejoin="round" stroke-linecap="round"/>
<polyline points="190,118.8 194,118.9 198,118.7 202,118.3 206,118.6 210,118.3 214,117.2 218,117.6 222,117.3 226,116.8 230,114.1 234,116 238,115.5 242,114.6 246,114.3 250,115 254,114.5 258,114 262,113.9 266,114 270,114.2 274,115 278,114.8 282,115 286,116.1 290,116.4 294,116.1 298,117.2 302,117.3 306,117.8 310,118 314,118.5" fill="none" stroke="#c454e5" stroke-width="1.5" stroke-linejoin="round" stroke-linecap="round"/>
<polyline points="190,121.3 194,121.2 198,120.4 202,120.7 206,120.3 210,120.3 214,119.7 218,119.8 222,119.1 226,118.4 230,116.3 234,117.4 238,117.5 242,116.7 246,116.8 250,116.3 254,116.4 258,116.4 262,116.4 266,116.8 270,116.1 274,117.1 278,117 282,117.5 286,117.9 290,118.5 294,118.4 298,118.8 302,119.8 306,119.2 310,120.1 314,120.4" fill="none" stroke="#ce57e7" stroke-width="1.5" stroke-linejoin="round" stroke-linecap="round"/>
<polyline points="190,122.6 194,123.1 198,123 202,123 206,122.2 210,122.6 214,121.8 218,121.5 222,121.5 226,120.3 230,118.8 234,120 238,119.4 242,119.6 246,118.8 250,118.7 254,118.6 258,118.7 262,118.1 266,118.4 270,118.6 274,118.9 278,119.5 282,119.3 286,120.2 290,120.2 294,120.7 298,120.8 302,121.4 306,122.2 310,122.2 314,122.6" fill="none" stroke="#d158e8" stroke-width="1.5" stroke-linejoin="round" stroke-linecap="round"/>
<polyline points="190,125 194,124.9 198,124.7 202,124.8 206,124.6 210,124.5 214,123.5 218,123.8 222,123.6 226,122.9 230,120.3 234,121.8 238,121.2 242,121 246,121.5 250,120.9 254,120.8 258,120.8 262,120.9 266,120.7 270,120.9 274,121.1 278,121.5 282,121.7 286,122.1 290,122.1 294,122.9 298,123.1 302,123.8 306,123.5 310,123.8 314,124" fill="none" stroke="#d359e8" stroke-width="1.5" stroke-linejoin="round" stroke-linecap="round"/>
<polyline points="190,127.6 194,127.6 198,127.2 202,126.7 206,126.9 210,126.6 214,126.1 218,125.5 222,125.1 226,124.9 230,122.6 234,124 238,123.9 242,123.9 246,122.7 250,122.9 254,122.2 258,122.2 262,122.9 266,122.8 270,123.3 274,123 278,122.9 282,123.6 286,124.1 290,124.9 294,125.3 298,125.2 302,125.5 306,125.6 310,126.4 314,126.3" fill="none" stroke="#d45ae8" stroke-width="1.5" stroke-linejoin="round" stroke-linecap="round"/>
<polyline points="190,129.1 194,128.8 198,128.7 202,129.1 206,128.3 210,128.9 214,127.7 218,128.2 222,127.1 226,126.6 230,125.1 234,125.9 238,126.1 242,125.2 246,124.8 250,125.2 254,125 258,125.1 262,124.9 266,124.3 270,125 274,125.4 278,125.4 282,126.2 286,125.9 290,127 294,127.2 298,126.8 302,127.2 306,128.2 310,128.7 314,128.2" fill="none" stroke="#d65be8" stroke-width="1.5" stroke-linejoin="round" stroke-linecap="round"/>
<polyline points="190,131.4 194,131.7 198,130.9 202,131.4 206,130.8 210,130.1 214,130.1 218,130 222,129.5 226,129.3 230,126.7 234,128.6 238,127.8 242,127.8 246,127.4 250,127 254,126.8 258,127.1 262,127.2 266,127.1 270,127.1 274,127 278,127.1 282,128.3 286,128.4 290,129 294,128.9 298,129.5 302,130.3 306,130.5 310,130.6 314,130.6" fill="none" stroke="#d85ce8" stroke-width="1.5" stroke-linejoin="round" stroke-linecap="round"/>
<polyline points="190,133.6 194,133.9 198,133.2 202,133.4 206,133 210,133.1 214,132.7 218,131.8 222,131.1 226,131 230,129 234,130.5 238,130.4 242,130.1 246,128.9 250,129.5 254,129.3 258,129.2 262,128.9 266,128.7 270,129.4 274,129.6 278,129.8 282,130.4 286,130.2 290,130.3 294,131.2 298,131.8 302,131.6 306,132.5 310,133 314,132.6" fill="none" stroke="#da5de8" stroke-width="1.5" stroke-linejoin="round" stroke-linecap="round"/>
<polyline points="190,135.9 194,135.8 198,135.5 202,135 206,134.8 210,135 214,134.8 218,134.1 222,133.3 226,133.6 230,131.5 234,132.2 238,132.2 242,132.2 246,131.9 250,131.3 254,131 258,131 262,130.6 266,130.7 270,130.9 274,131.6 278,131.6 282,132.1 286,132.3 290,132.9 294,132.9 298,133.2 302,134.5 306,134.3 310,134.3 314,135.1" fill="none" stroke="#db5de8" stroke-width="1.5" stroke-linejoin="round" stroke-linecap="round"/>
<polyline points="190,138.2 194,137.4 198,137.7 202,137.2 206,137.2 210,136.4 214,136.1 218,136.7 222,136.2 226,135.4 230,133.4 234,134.3 238,134.5 242,133.8 246,134 250,133.6 254,133.5 258,133.5 262,132.8 266,132.6 270,133 274,133.2 278,133.4 282,133.7 286,134.6 290,135.3 294,135.3 298,136.2 302,136.5 306,136.1 310,136.9 314,137" fill="none" stroke="#dd5ee8" stroke-width="1.5" stroke-linejoin="round" stroke-linecap="round"/>
<polyline points="190,139.6 194,140.3 198,139.5 202,139.6 206,139.4 210,139.4 214,138.8 218,138.2 222,137.9 226,137.2 230,135.9 234,137.2 238,136 242,135.5 246,135.4 250,135.3 254,135.6 258,135.5 262,135.5 266,134.7 270,135.6 274,135.8 278,136 282,136.7 286,136.2 290,136.7 294,137.7 298,138.3 302,138.4 306,138.4 310,139 314,139.5" fill="none" stroke="#df5fe8" stroke-width="1.5" stroke-linejoin="round" stroke-linecap="round"/>
<polyline points="190,141.7 194,141.8 198,141.6 202,141.2 206,141.4 210,140.8 214,140.5 218,140.1 222,140.2 226,139.2 230,137.7 234,138.5 238,138 242,138.5 246,137.5 250,137.9 254,137.7 258,137.6 262,136.8 266,137.2 270,137 274,138.1 278,138.3 282,138.5 286,138.7 290,139 294,139.9 298,139.9 302,140.5 306,140.3 310,140.7 314,140.9" fill="none" stroke="#db5ee7" stroke-width="1.5" stroke-linejoin="round" stroke-linecap="round"/>
<polyline points="190,144.5 194,144.2 198,143.6 202,144.1 206,143.3 210,143.1 214,142.5 218,142.3 222,142.5 226,141.6 230,139.3 234,140.8 238,140.3 242,140.6 246,139.4 250,140.1 254,139 258,139.7 262,139.5 266,139.1 270,139.5 274,139.6 278,139.8 282,140.1 286,140.7 290,141.7 294,142.1 298,142.5 302,142 306,142.6 310,143.5 314,143" fill="none" stroke="#d35be6" stroke-width="1.5" stroke-linejoin="round" stroke-linecap="round"/>
<polyline points="190,146.6 194,146 198,146.5 202,145.4 206,145.9 210,145.2 214,144.6 218,144.1 222,144.6 226,143.9 230,141.4 234,142.9 238,143 242,142 246,142 250,141.3 254,141.2 258,141.7 262,141.6 266,141.2 270,141.2 274,141.4 278,142.3 282,142.5 286,142.7 290,143 294,143.9 298,144.4 302,144.9 306,145 310,144.9 314,145.1" fill="none" stroke="#ca58e5" stroke-width="1.5" stroke-linejoin="round" stroke-linecap="round"/>
<polyline points="190,148.7 194,148.2 198,148.4 202,147.5 206,148 210,147.3 214,147.4 218,147.1 222,146.3 226,145.5 230,144.2 234,145 238,145.1 242,144.1 246,143.7 250,144.1 254,143.4 258,143.1 262,143.3 266,143.6 270,143.2 274,144 278,144.2 282,144.6 286,144.6 290,145.6 294,146.2 298,146.6 302,146.5 306,147.2 310,147.2 314,147.9" fill="none" stroke="#c254e4" stroke-width="1.5" stroke-linejoin="round" stroke-linecap="round"/>
<polyline points="190,150.1 194,150.8 198,150.7 202,150.1 206,149.8 210,149.6 214,149.2 218,148.4 222,148.9 226,147.8 230,145.6 234,146.7 238,146.5 242,146.7 246,145.6 250,145.4 254,145.9 258,145.3 262,145.1 266,145.7 270,145.9 274,146.1 278,146.5 282,146.3 286,147.5 290,147.7 294,147.5 298,148 302,148.7 306,149.1 310,149.2 314,149.4" fill="none" stroke="#ba51e3" stroke-width="1.5" stroke-linejoin="round" stroke-linecap="round"/>
<polyline points="190,152.6 194,152.2 198,152.5 202,152.5 206,151.6 210,151.7 214,151.6 218,150.6 222,150.9 226,150.6 230,147.9 234,149.2 238,149.2 242,148.5 246,148.1 250,148.4 254,148 258,147.5 262,147.4 266,147.5 270,147.8 274,148.6 278,148.7 282,149.2 286,149.5 290,150 294,149.6 298,150.5 302,151.3 306,151.7 310,151.3 314,151.8" fill="none" stroke="#b14ee2" stroke-width="1.5" stroke-linejoin="round" stroke-linecap="round"/>
<polyline points="190,154.9 194,154.5 198,154.5 202,153.9 206,154 210,153.8 214,152.9 218,152.7 222,153.1 226,152.5 230,150.5 234,151.5 238,151.3 242,151 246,150.7 250,149.6 254,150 258,149.5 262,149.9 266,149.6 270,150 274,150.6 278,150.6 282,150.6 286,151.3 290,151.6 294,152.6 298,152.3 302,152.8 306,153.5 310,153.3 314,154.1" fill="none" stroke="#a94be1" stroke-width="1.5" stroke-linejoin="round" stroke-linecap="round"/>
<polyline points="190,157.4 194,156.8 198,156.4 202,156.4 206,156.2 210,155.5 214,155.2 218,154.8 222,154.6 226,154.2 230,152 234,153.2 238,152.7 242,152.7 246,152.7 250,152.2 254,152 258,152 262,151.5 266,152.1 270,152 274,152.3 278,152.7 282,152.9 286,153.2 290,153.5 294,154 298,154.7 302,154.9 306,155.5 310,155.3 314,155.9" fill="none" stroke="#a148e0" stroke-width="1.5" stroke-linejoin="round" stroke-linecap="round"/>
<polyline points="190,159.4 194,158.6 198,158.8 202,158.5 206,158 210,158.5 214,157.4 218,157.5 222,156.5 226,156 230,154.6 234,155.5 238,154.7 242,154.7 246,154.4 250,154.4 254,153.6 258,153.6 262,154.4 266,154.2 270,153.8 274,154.2 278,154.6 282,155.2 286,155.6 290,156.3 294,156.7 298,156.8 302,157.4 306,157.8 310,158.1 314,158.2" fill="none" stroke="#9747df" stroke-width="1.5" stroke-linejoin="round" stroke-linecap="round"/>
<polyline points="190,161.4 194,161.2 198,161.3 202,160.3 206,160.7 210,159.6 214,160 218,159.5 222,159 226,159 230,156.4 234,157.5 238,157.5 242,157.2 246,156.7 250,156.2 254,156 258,155.9 262,156.2 266,155.9 270,156.1 274,156.5 278,156.7 282,157 286,157.9 290,158.3 294,158.4 298,158.8 302,159 306,159.5 310,159.6 314,160.4" fill="none" stroke="#8e46de" stroke-width="1.5" stroke-linejoin="round" stroke-linecap="round"/>
<polyline points="190,163.4 194,162.7 198,163.4 202,162.6 206,162.8 210,162.5 214,162.3 218,161.2 222,161 226,161 230,158 234,159.3 238,159.4 242,159 246,159.1 250,158.6 254,158.2 258,158.6 262,158.1 266,158.2 270,158.5 274,158.5 278,158.7 282,159.3 286,159.5 290,160.5 294,160.7 298,161 302,161 306,161.6 310,162 314,162.5" fill="none" stroke="#8545dd" stroke-width="1.5" stroke-linejoin="round" stroke-linecap="round"/>
<polyline points="190,165.5 194,165.6 198,165.5 202,164.8 206,164.5 210,164.4 214,164.4 218,163.4 222,163.2 226,163.1 230,160.2 234,161.6 238,161.9 242,161.4 246,160.7 250,160.1 254,160.7 258,160.4 262,160.5 266,160.7 270,160.8 274,160.6 278,160.6 282,161.1 286,161.8 290,162.2 294,162.3 298,162.7 302,163.6 306,164 310,164.1 314,165" fill="none" stroke="#7b43db" stroke-width="1.5" stroke-linejoin="round" stroke-linecap="round"/>
<polyline points="190,167.6 194,166.9 198,167.1 202,167.2 206,166.5 210,166.6 214,165.6 218,165.5 222,165.6 226,164.9 230,162.8 234,163.6 238,163.5 242,163.2 246,162.6 250,162.7 254,162.4 258,162.7 262,162.3 266,162.2 270,162.1 274,162.4 278,163.3 282,163 286,163.5 290,164 294,164.8 298,165.5 302,165.7 306,166.3 310,165.9 314,166.1" fill="none" stroke="#7242da" stroke-width="1.5" stroke-linejoin="round" stroke-linecap="round"/>
<polyline points="190,169.9 194,169.3 198,169.5 202,168.9 206,168.5 210,168.3 214,167.8 218,168.2 222,167.5 226,166.8 230,164.7 234,165.9 238,165.2 242,165.6 246,165 250,165.1 254,164.4 258,164.5 262,164.1 266,163.9 270,165 274,165.2 278,165 282,165.9 286,166.3 290,166.2 294,166.9 298,167.7 302,167.7 306,168.5 310,168.2 314,168.6" fill="none" stroke="#6941d9" stroke-width="1.5" stroke-linejoin="round" stroke-linecap="round"/>
<polyline points="190,171.9 194,171.3 198,171.2 202,171.6 206,170.9 210,170.9 214,170 218,169.6 222,169.3 226,168.7 230,167.3 234,167.9 238,167.8 242,166.9 246,167 250,166.6 254,166.4 258,166 262,166 266,166.8 270,166.5 274,166.7 278,166.9 282,167.4 286,167.8 290,168 294,169.1 298,169.2 302,169.4 306,170.4 310,170.1 314,170.6" fill="none" stroke="#5f40d8" stroke-width="1.5" stroke-linejoin="round" stroke-linecap="round"/>
<polyline points="190,174.2 194,173.3 198,173.5 202,173.6 206,173.3 210,172.4 214,172.2 218,172.2 222,171.5 226,171.6 230,168.7 234,170.6 238,169.8 242,169.1 246,169 250,168.4 254,168.8 258,168.3 262,168.9 266,168.7 270,168.6 274,168.8 278,169.4 282,169.4 286,170.5 290,170.2 294,171 298,171.5 302,171.7 306,172.6 310,172.5 314,173.1" fill="none" stroke="#5740d8" stroke-width="1.5" stroke-linejoin="round" stroke-linecap="round"/>
<polyline points="190,176 194,175.6 198,175.5 202,175 206,174.8 210,175.2 214,174.3 218,174.3 222,173.3 226,173.3 230,170.9 234,172.3 238,171.7 242,171.1 246,171 250,170.6 254,170.3 258,170.8 262,170.4 266,170.6 270,171.2 274,171.4 278,171.8 282,172.2 286,171.9 290,172.5 294,172.7 298,173.8 302,174.2 306,174.2 310,174.7 314,175.2" fill="none" stroke="#5441d8" stroke-width="1.5" stroke-linejoin="round" stroke-linecap="round"/>
<polyline points="190,178.3 194,177.7 198,178.1 202,177.4 206,177.4 210,176.6 214,176.2 218,176.6 222,176 226,175.6 230,172.7 234,173.9 238,173.7 242,173.3 246,173.1 250,172.9 254,172.3 258,172.5 262,172.8 266,172.4 270,173.3 274,173.3 278,173.7 282,173.7 286,174.3 290,175 294,175.1 298,175.2 302,176.4 306,176.8 310,176.6 314,176.7" fill="none" stroke="#5242d8" stroke-width="1.5" stroke-linejoin="round" stroke-linecap="round"/>
<polyline points="190,180.5 194,180.1 198,179.4 202,179.4 206,179 210,179.3 214,178.4 218,178.7 222,178.1 226,177 230,175.4 234,176.4 238,176.3 242,176 246,175.1 250,174.7 254,175.3 258,174.7 262,175.2 266,175 270,175.2 274,175.6 278,175.7 282,175.9 286,176 290,177.1 294,177.3 298,177.8 302,178.6 306,178.2 310,179.2 314,178.8" fill="none" stroke="#4f44d8" stroke-width="1.5" stroke-linejoin="round" stroke-linecap="round"/>
<polyline points="190,182.5 194,182.5 198,181.7 202,181.8 206,181.9 210,181.3 214,180.8 218,180.2 222,179.5 226,179.4 230,177.3 234,178.3 238,178 242,177.4 246,177.6 250,177.3 254,176.7 258,176.6 262,176.9 266,176.9 270,177.5 274,177.2 278,177.5 282,178.5 286,178.2 290,179 294,179.3 298,180.2 302,180.4 306,181 310,180.7 314,181.6" fill="none" stroke="#4d45d8" stroke-width="1.5" stroke-linejoin="round" stroke-linecap="round"/>
<polyline points="190,184.5 194,184.2 198,184.3 202,184.2 206,183.2 210,183.1 214,182.8 218,182.2 222,181.7 226,181.4 230,179.1 234,180.9 238,180.2 242,179.5 246,179.3 250,179.2 254,178.9 258,178.6 262,178.5 266,178.5 270,179.7 274,179.7 278,179.4 282,180.4 286,181.1 290,181.1 294,181.1 298,182 302,182.4 306,182.5 310,183.2 314,183" fill="none" stroke="#4a46d8" stroke-width="1.5" stroke-linejoin="round" stroke-linecap="round"/>
<polyline points="190,186.9 194,186.5 198,186.3 202,186.4 206,185.8 210,185.1 214,184.8 218,184.3 222,183.7 226,184 230,181.9 234,182.6 238,182.1 242,182.1 246,182 250,181.8 254,180.8 258,181.3 262,181.3 266,181.3 270,181.1 274,181.2 278,182.2 282,182.1 286,182.6 290,183.2 294,183.5 298,184.4 302,184.3 306,184.5 310,185.4 314,185.7" fill="none" stroke="#4848d8" stroke-width="1.5" stroke-linejoin="round" stroke-linecap="round"/>
<polygon points="190,197.6 190,193.5 194,193.3 198,193.1 202,192.9 206,192.6 210,192.2 214,191.9 218,191.4 222,191 226,190.5 230,190 234,189.5 238,189 242,188.5 246,188.2 250,187.9 254,187.6 258,187.5 262,187.5 266,187.6 270,187.8 274,188.1 278,188.4 282,188.9 286,189.3 290,189.8 294,190.3 298,190.8 302,191.3 306,191.8 310,192.2 314,192.5 314,192.5 314,197.6" fill="#ffffff"/>
<polygon points="190,18.7 190,22.2 194,22.1 198,22 202,21.9 206,21.7 210,21.6 214,21.3 218,21.1 222,20.9 226,20.6 230,20.3 234,20.1 238,19.8 242,19.6 246,19.4 250,19.2 254,19.1 258,19 262,19 266,19.1 270,19.2 274,19.3 278,19.5 282,19.7 286,20 290,20.3 294,20.5 298,20.8 302,21.1 306,21.3 310,21.5 314,21.7 314,21.7 314,18.7" fill="#ffffff"/>
<line x1="231" y1="30" x2="231" y2="190" stroke="#3020a0" stroke-width="0.8" opacity="0.6"/>
<rect x="190" y="18.7" width="124" height="178.9" fill="url(#gbw)"/>
</g>
<line x1="201.7" y1="180" x2="201.7" y2="46" stroke="#ffffff" stroke-width="2.2"/>
<polygon points="197.7,47 205.7,47 201.7,39" fill="#ffffff"/>
<rect x="191.5" y="20" width="21" height="12" fill="#ffffff"/>
<text x="193" y="29.9" font-family="'Liberation Sans', sans-serif" font-size="10.3" font-weight="bold" text-anchor="start" fill="#111">0.13</text>
<rect x="191.5" y="73.4" width="21" height="12" fill="#ffffff"/>
<text x="193" y="83.3" font-family="'Liberation Sans', sans-serif" font-size="10.3" font-weight="bold" text-anchor="start" fill="#111">1.20</text>
<rect x="191.5" y="126.5" width="21" height="12" fill="#ffffff"/>
<text x="193" y="136.4" font-family="'Liberation Sans', sans-serif" font-size="10.3" font-weight="bold" text-anchor="start" fill="#111">0.13</text>
<rect x="191.5" y="185.5" width="22" height="12" fill="#ffffff"/>
<text x="193" y="195.4" font-family="'Liberation Sans', sans-serif" font-size="10.3" font-weight="bold" text-anchor="start" fill="#111">OCV</text>
<rect x="190" y="18.7" width="124" height="178.9" fill="none" stroke="#151515" stroke-width="1.3"/>
<line x1="197" y1="197.6" x2="197" y2="200.6" stroke="#222" stroke-width="1"/>
<text x="197" y="211.1" font-family="'Liberation Serif', serif" font-size="10" font-weight="bold" text-anchor="middle" fill="#111">3</text>
<line x1="210.8" y1="197.6" x2="210.8" y2="200.6" stroke="#222" stroke-width="1"/>
<text x="210.8" y="211.1" font-family="'Liberation Serif', serif" font-size="10" font-weight="bold" text-anchor="middle" fill="#111">4</text>
<line x1="224.6" y1="197.6" x2="224.6" y2="200.6" stroke="#222" stroke-width="1"/>
<text x="224.6" y="211.1" font-family="'Liberation Serif', serif" font-size="10" font-weight="bold" text-anchor="middle" fill="#111">5</text>
<line x1="238.4" y1="197.6" x2="238.4" y2="200.6" stroke="#222" stroke-width="1"/>
<text x="238.4" y="211.1" font-family="'Liberation Serif', serif" font-size="10" font-weight="bold" text-anchor="middle" fill="#111">6</text>
<line x1="252.2" y1="197.6" x2="252.2" y2="200.6" stroke="#222" stroke-width="1"/>
<text x="252.2" y="211.1" font-family="'Liberation Serif', serif" font-size="10" font-weight="bold" text-anchor="middle" fill="#111">7</text>
<line x1="266" y1="197.6" x2="266" y2="200.6" stroke="#222" stroke-width="1"/>
<text x="266" y="211.1" font-family="'Liberation Serif', serif" font-size="10" font-weight="bold" text-anchor="middle" fill="#111">8</text>
<line x1="279.8" y1="197.6" x2="279.8" y2="200.6" stroke="#222" stroke-width="1"/>
<text x="279.8" y="211.1" font-family="'Liberation Serif', serif" font-size="10" font-weight="bold" text-anchor="middle" fill="#111">9</text>
<line x1="293.6" y1="197.6" x2="293.6" y2="200.6" stroke="#222" stroke-width="1"/>
<text x="293.6" y="211.1" font-family="'Liberation Serif', serif" font-size="10" font-weight="bold" text-anchor="middle" fill="#111">10</text>
<line x1="307.4" y1="197.6" x2="307.4" y2="200.6" stroke="#222" stroke-width="1"/>
<text x="307.4" y="211.1" font-family="'Liberation Serif', serif" font-size="10" font-weight="bold" text-anchor="middle" fill="#111">11</text>
<text x="178.5" y="103.5" font-family="'Liberation Serif', serif" font-size="10.5" font-weight="bold" text-anchor="middle" fill="#111" transform="rotate(-90 178.5 103.5)">Intensity (a.u.)</text>
<text x="170" y="31" font-family="'Liberation Serif', serif" font-size="22" font-weight="bold" text-anchor="start" fill="#111">b</text>
<rect x="334" y="18.3" width="122.6" height="179.5" fill="#ffffff"/>
<rect x="334" y="22.5" width="122.6" height="171" fill="url(#gc)"/>
<rect x="334" y="22.5" width="10" height="171" fill="url(#gcle)"/>
<rect x="334" y="103.5" width="36" height="90" fill="url(#gcbl)"/>
<rect x="334" y="22.5" width="122.6" height="1.6" fill="#fff" opacity="0"/>
<rect x="334" y="27" width="122.6" height="1.3" fill="#fff" opacity="0"/>
<rect x="334" y="31.6" width="122.6" height="1.4" fill="#000" opacity="0"/>
<rect x="334" y="35" width="122.6" height="0.9" fill="#fff" opacity="0"/>
<rect x="334" y="38" width="122.6" height="1.2" fill="#000" opacity="0"/>
<rect x="334" y="41.6" width="122.6" height="0.8" fill="#fff" opacity="0"/>
<rect x="334" y="44.7" width="122.6" height="0.9" fill="#fff" opacity="0"/>
<rect x="334" y="47.8" width="122.6" height="0.8" fill="#000" opacity="0"/>
<rect x="334" y="51.1" width="122.6" height="1.1" fill="#fff" opacity="0"/>
<rect x="334" y="55.2" width="122.6" height="1.4" fill="#fff" opacity="0"/>
<rect x="334" y="58.7" width="122.6" height="1.3" fill="#000" opacity="0"/>
<rect x="334" y="63.2" width="122.6" height="1.4" fill="#000" opacity="0"/>
<rect x="334" y="66.8" width="122.6" height="1.5" fill="#fff" opacity="0"/>
<rect x="334" y="70.5" width="122.6" height="1.4" fill="#fff" opacity="0"/>
<rect x="334" y="74.4" width="122.6" height="1.4" fill="#000" opacity="0"/>
<rect x="334" y="78.6" width="122.6" height="1.5" fill="#000" opacity="0"/>
<rect x="334" y="82.2" width="122.6" height="1.4" fill="#fff" opacity="0"/>
<rect x="334" y="85.6" width="122.6" height="1.2" fill="#fff" opacity="0"/>
<rect x="334" y="88.8" width="122.6" height="1.7" fill="#000" opacity="0"/>
<rect x="334" y="93.2" width="122.6" height="1.4" fill="#000" opacity="0"/>
<rect x="334" y="96.6" width="122.6" height="1.3" fill="#fff" opacity="0"/>
<rect x="334" y="100.5" width="122.6" height="0.9" fill="#000" opacity="0"/>
<rect x="334" y="104.6" width="122.6" height="1.6" fill="#000" opacity="0"/>
<rect x="334" y="108.5" width="122.6" height="1.5" fill="#000" opacity="0"/>
<rect x="334" y="113" width="122.6" height="1.3" fill="#fff" opacity="0"/>
<rect x="334" y="116.6" width="122.6" height="1" fill="#000" opacity="0"/>
<rect x="334" y="120.9" width="122.6" height="0.9" fill="#000" opacity="0"/>
<rect x="334" y="124" width="122.6" height="0.8" fill="#000" opacity="0"/>
<rect x="334" y="127.1" width="122.6" height="0.9" fill="#000" opacity="0"/>
<rect x="334" y="131.5" width="122.6" height="1.4" fill="#fff" opacity="0"/>
<rect x="334" y="135.7" width="122.6" height="1.1" fill="#000" opacity="0"/>
<rect x="334" y="138.9" width="122.6" height="1.2" fill="#fff" opacity="0"/>
<rect x="334" y="142" width="122.6" height="1.4" fill="#000" opacity="0"/>
<rect x="334" y="145.5" width="122.6" height="1.4" fill="#000" opacity="0"/>
<rect x="334" y="149.6" width="122.6" height="1.1" fill="#000" opacity="0"/>
<rect x="334" y="152.6" width="122.6" height="1.8" fill="#fff" opacity="0"/>
<rect x="334" y="155.7" width="122.6" height="0.9" fill="#fff" opacity="0"/>
<rect x="334" y="159.6" width="122.6" height="1.1" fill="#fff" opacity="0"/>
<rect x="334" y="163.5" width="122.6" height="1.1" fill="#fff" opacity="0"/>
<rect x="334" y="166.5" width="122.6" height="1.1" fill="#000" opacity="0"/>
<rect x="334" y="170.3" width="122.6" height="0.8" fill="#000" opacity="0"/>
<rect x="334" y="174.3" width="122.6" height="1.4" fill="#fff" opacity="0"/>
<rect x="334" y="178.8" width="122.6" height="1.5" fill="#fff" opacity="0"/>
<rect x="334" y="183.2" width="122.6" height="1.4" fill="#000" opacity="0"/>
<rect x="334" y="187.1" width="122.6" height="1.1" fill="#000" opacity="0"/>
<rect x="334" y="190.1" width="122.6" height="1" fill="#fff" opacity="0"/>
<rect x="334" y="22.5" width="122.6" height="171" filter="url(#nz)" opacity="0.25"/>
<polyline points="372.8,22.5 372.7,29.2 372.6,38.8 372.4,49.6 372.2,60 372,70.2 371.7,80.8 371.4,91 371.2,100 371.1,107.1 371,112.8 371,118.4 371.1,125 371.4,133.1 371.9,142 372.5,151.2 373,160 373.5,169.2 374.1,178.7 374.6,187.1 375,193" fill="none" stroke="#a03a10" stroke-width="1.1" stroke-linejoin="round" stroke-linecap="round" opacity="0.85"/>
<rect x="334" y="18.3" width="122.6" height="179.5" fill="none" stroke="#151515" stroke-width="1.3"/>
<line x1="340" y1="190" x2="340" y2="48" stroke="#ffffff" stroke-width="2.2"/>
<polygon points="336,49 344,49 340,40" fill="#ffffff"/>
<text x="355" y="41.5" font-family="'Liberation Sans', sans-serif" font-size="9.5" font-weight="bold" text-anchor="middle" fill="#1a4a70">(002)</text>
<line x1="360.5" y1="49.5" x2="368.4" y2="58.4" stroke="#103010" stroke-width="1.6"/>
<polygon points="357.5,46 363.5,48.5 360,52" fill="#103010"/>
<text x="400.2" y="129" font-family="'Liberation Sans', sans-serif" font-size="9" font-weight="bold" text-anchor="middle" fill="#5a1a10">BZS</text>
<line x1="381.8" y1="102.9" x2="392" y2="114.5" stroke="#111" stroke-width="1.4"/>
<polygon points="394.1,117 389,114.5 392.5,111.5" fill="#111"/>
<line x1="418.5" y1="102.9" x2="408.5" y2="114.5" stroke="#111" stroke-width="1.4"/>
<polygon points="406.3,117 411.5,114.5 408,111.5" fill="#111"/>
<line x1="341" y1="197.8" x2="341" y2="200.8" stroke="#222" stroke-width="1"/>
<text x="341" y="211.3" font-family="'Liberation Serif', serif" font-size="10" font-weight="bold" text-anchor="middle" fill="#111">3</text>
<line x1="354.7" y1="197.8" x2="354.7" y2="200.8" stroke="#222" stroke-width="1"/>
<text x="354.7" y="211.3" font-family="'Liberation Serif', serif" font-size="10" font-weight="bold" text-anchor="middle" fill="#111">4</text>
<line x1="368.3" y1="197.8" x2="368.3" y2="200.8" stroke="#222" stroke-width="1"/>
<text x="368.3" y="211.3" font-family="'Liberation Serif', serif" font-size="10" font-weight="bold" text-anchor="middle" fill="#111">5</text>
<line x1="382" y1="197.8" x2="382" y2="200.8" stroke="#222" stroke-width="1"/>
<text x="382" y="211.3" font-family="'Liberation Serif', serif" font-size="10" font-weight="bold" text-anchor="middle" fill="#111">6</text>
<line x1="395.6" y1="197.8" x2="395.6" y2="200.8" stroke="#222" stroke-width="1"/>
<text x="395.6" y="211.3" font-family="'Liberation Serif', serif" font-size="10" font-weight="bold" text-anchor="middle" fill="#111">7</text>
<line x1="409.3" y1="197.8" x2="409.3" y2="200.8" stroke="#222" stroke-width="1"/>
<text x="409.3" y="211.3" font-family="'Liberation Serif', serif" font-size="10" font-weight="bold" text-anchor="middle" fill="#111">8</text>
<line x1="423" y1="197.8" x2="423" y2="200.8" stroke="#222" stroke-width="1"/>
<text x="423" y="211.3" font-family="'Liberation Serif', serif" font-size="10" font-weight="bold" text-anchor="middle" fill="#111">9</text>
<line x1="436.6" y1="197.8" x2="436.6" y2="200.8" stroke="#222" stroke-width="1"/>
<text x="436.6" y="211.3" font-family="'Liberation Serif', serif" font-size="10" font-weight="bold" text-anchor="middle" fill="#111">10</text>
<line x1="450.3" y1="197.8" x2="450.3" y2="200.8" stroke="#222" stroke-width="1"/>
<text x="450.3" y="211.3" font-family="'Liberation Serif', serif" font-size="10" font-weight="bold" text-anchor="middle" fill="#111">11</text>
<text x="394" y="224" font-family="'Liberation Serif', serif" font-size="11" font-weight="bold" text-anchor="middle" fill="#111">2 theta (degree), &#955; = 0.6877 &#197;</text>
<rect x="459" y="35" width="10.3" height="3" fill="#ffffff"/>
<rect x="459" y="38" width="10.3" height="3.2" fill="#6e0000"/>
<rect x="459" y="40.6" width="10.3" height="3.2" fill="#870000"/>
<rect x="459" y="43.3" width="10.3" height="3.2" fill="#a00000"/>
<rect x="459" y="46" width="10.3" height="3.2" fill="#ba0000"/>
<rect x="459" y="48.6" width="10.3" height="3.2" fill="#d30000"/>
<rect x="459" y="51.2" width="10.3" height="3.2" fill="#e70400"/>
<rect x="459" y="53.9" width="10.3" height="3.2" fill="#eb1300"/>
<rect x="459" y="56.5" width="10.3" height="3.2" fill="#ef2200"/>
<rect x="459" y="59.2" width="10.3" height="3.2" fill="#f33200"/>
<rect x="459" y="61.8" width="10.3" height="3.2" fill="#f84100"/>
<rect x="459" y="64.5" width="10.3" height="3.2" fill="#fc5000"/>
<rect x="459" y="67.2" width="10.3" height="3.2" fill="#fe5f00"/>
<rect x="459" y="69.8" width="10.3" height="3.2" fill="#fe6c00"/>
<rect x="459" y="72.4" width="10.3" height="3.2" fill="#fd7a00"/>
<rect x="459" y="75.1" width="10.3" height="3.2" fill="#fd8700"/>
<rect x="459" y="77.8" width="10.3" height="3.2" fill="#fd9500"/>
<rect x="459" y="80.4" width="10.3" height="3.2" fill="#fca200"/>
<rect x="459" y="83" width="10.3" height="3.2" fill="#fcb000"/>
<rect x="459" y="85.7" width="10.3" height="3.2" fill="#fbbe00"/>
<rect x="459" y="88.3" width="10.3" height="3.2" fill="#fbcb00"/>
<rect x="459" y="91" width="10.3" height="3.2" fill="#fbd900"/>
<rect x="459" y="93.7" width="10.3" height="3.2" fill="#fae600"/>
<rect x="459" y="96.3" width="10.3" height="3.2" fill="#faf400"/>
<rect x="459" y="98.9" width="10.3" height="3.2" fill="#effa09"/>
<rect x="459" y="101.6" width="10.3" height="3.2" fill="#dcfb1a"/>
<rect x="459" y="104.2" width="10.3" height="3.2" fill="#cafb2b"/>
<rect x="459" y="106.9" width="10.3" height="3.2" fill="#b8fc3c"/>
<rect x="459" y="109.5" width="10.3" height="3.2" fill="#a5fd4d"/>
<rect x="459" y="112.2" width="10.3" height="3.2" fill="#93fd5e"/>
<rect x="459" y="114.8" width="10.3" height="3.2" fill="#81fe6f"/>
<rect x="459" y="117.5" width="10.3" height="3.2" fill="#71fd7f"/>
<rect x="459" y="120.1" width="10.3" height="3.2" fill="#63fa8e"/>
<rect x="459" y="122.8" width="10.3" height="3.2" fill="#56f79e"/>
<rect x="459" y="125.5" width="10.3" height="3.2" fill="#48f5ad"/>
<rect x="459" y="128.1" width="10.3" height="3.2" fill="#3af2bc"/>
<rect x="459" y="130.8" width="10.3" height="3.2" fill="#2defcb"/>
<rect x="459" y="133.4" width="10.3" height="3.2" fill="#1fecdb"/>
<rect x="459" y="136.1" width="10.3" height="3.2" fill="#12e9ea"/>
<rect x="459" y="138.7" width="10.3" height="3.2" fill="#04e6f9"/>
<rect x="459" y="141.3" width="10.3" height="3.2" fill="#00dbff"/>
<rect x="459" y="144" width="10.3" height="3.2" fill="#00ccff"/>
<rect x="459" y="146.6" width="10.3" height="3.2" fill="#00bcff"/>
<rect x="459" y="149.3" width="10.3" height="3.2" fill="#00adff"/>
<rect x="459" y="151.9" width="10.3" height="3.2" fill="#009dff"/>
<rect x="459" y="154.6" width="10.3" height="3.2" fill="#008dff"/>
<rect x="459" y="157.2" width="10.3" height="3.2" fill="#007eff"/>
<rect x="459" y="159.9" width="10.3" height="3.2" fill="#006eff"/>
<rect x="459" y="162.6" width="10.3" height="3.2" fill="#005fff"/>
<rect x="459" y="165.2" width="10.3" height="3.2" fill="#004fff"/>
<rect x="459" y="167.8" width="10.3" height="3.2" fill="#003fff"/>
<rect x="459" y="170.5" width="10.3" height="3.2" fill="#0030ff"/>
<rect x="459" y="173.2" width="10.3" height="3.2" fill="#0020ff"/>
<rect x="459" y="175.8" width="10.3" height="3.2" fill="#0011ff"/>
<rect x="459" y="178.4" width="10.3" height="3.2" fill="#0001ff"/>
<rect x="459" y="181.1" width="10.3" height="3.2" fill="#0000e8"/>
<rect x="459" y="183.8" width="10.3" height="3.2" fill="#0000d0"/>
<rect x="459" y="186.4" width="10.3" height="3.2" fill="#0000b7"/>
<rect x="459" y="189" width="10.3" height="3.2" fill="#00009f"/>
<rect x="459" y="191.7" width="10.3" height="3.2" fill="#000086"/>
<rect x="459" y="194.3" width="10.3" height="3.2" fill="#00006e"/>
<rect x="459" y="35" width="10.3" height="162" fill="none" stroke="#222" stroke-width="0.8"/>
<line x1="469.3" y1="38" x2="471.3" y2="38" stroke="#222" stroke-width="0.8"/>
<text x="472.3" y="40.5" font-family="'Liberation Sans', sans-serif" font-size="6.8" font-weight="bold" text-anchor="start" fill="#222">2500</text>
<line x1="469.3" y1="57.9" x2="471.3" y2="57.9" stroke="#222" stroke-width="0.8"/>
<text x="472.3" y="60.4" font-family="'Liberation Sans', sans-serif" font-size="6.8" font-weight="bold" text-anchor="start" fill="#222">2305</text>
<line x1="469.3" y1="77.8" x2="471.3" y2="77.8" stroke="#222" stroke-width="0.8"/>
<text x="472.3" y="80.2" font-family="'Liberation Sans', sans-serif" font-size="6.8" font-weight="bold" text-anchor="start" fill="#222">2110</text>
<line x1="469.3" y1="97.6" x2="471.3" y2="97.6" stroke="#222" stroke-width="0.8"/>
<text x="472.3" y="100.1" font-family="'Liberation Sans', sans-serif" font-size="6.8" font-weight="bold" text-anchor="start" fill="#222">1915</text>
<line x1="469.3" y1="117.5" x2="471.3" y2="117.5" stroke="#222" stroke-width="0.8"/>
<text x="472.3" y="120" font-family="'Liberation Sans', sans-serif" font-size="6.8" font-weight="bold" text-anchor="start" fill="#222">1720</text>
<line x1="469.3" y1="137.4" x2="471.3" y2="137.4" stroke="#222" stroke-width="0.8"/>
<text x="472.3" y="139.9" font-family="'Liberation Sans', sans-serif" font-size="6.8" font-weight="bold" text-anchor="start" fill="#222">1525</text>
<line x1="469.3" y1="157.2" x2="471.3" y2="157.2" stroke="#222" stroke-width="0.8"/>
<text x="472.3" y="159.8" font-family="'Liberation Sans', sans-serif" font-size="6.8" font-weight="bold" text-anchor="start" fill="#222">1330</text>
<line x1="469.3" y1="177.1" x2="471.3" y2="177.1" stroke="#222" stroke-width="0.8"/>
<text x="472.3" y="179.6" font-family="'Liberation Sans', sans-serif" font-size="6.8" font-weight="bold" text-anchor="start" fill="#222">1135</text>
<line x1="469.3" y1="197" x2="471.3" y2="197" stroke="#222" stroke-width="0.8"/>
<text x="472.3" y="199.5" font-family="'Liberation Sans', sans-serif" font-size="6.8" font-weight="bold" text-anchor="start" fill="#222">940.0</text>
<text x="473.1" y="22.7" font-family="'Liberation Serif', serif" font-size="7.2" font-weight="bold" text-anchor="middle" fill="#222">Intensity</text>
<text x="473.1" y="32.5" font-family="'Liberation Serif', serif" font-size="7.2" font-weight="bold" text-anchor="middle" fill="#222">(N)</text>
<text x="316" y="31" font-family="'Liberation Serif', serif" font-size="22" font-weight="bold" text-anchor="start" fill="#111">c</text>
<rect x="506.6" y="17.6" width="119.2" height="178.5" fill="#ffffff"/>
<polygon points="506.6,22 539.5,22 566.9,67.7 538,125.5 562.3,193 506.6,193" fill="url(#gdl)"/>
<polygon points="539.5,22 566.9,67.7 538,125.5 562.3,193 625.8,193 625.8,22" fill="url(#gdr)"/>
<rect x="506.6" y="22" width="119.2" height="1.3" fill="#fff" opacity="0"/>
<rect x="506.6" y="25.5" width="119.2" height="1.3" fill="#000" opacity="0"/>
<rect x="506.6" y="29.3" width="119.2" height="1.8" fill="#000" opacity="0"/>
<rect x="506.6" y="33.4" width="119.2" height="0.9" fill="#fff" opacity="0"/>
<rect x="506.6" y="37.2" width="119.2" height="1.1" fill="#000" opacity="0"/>
<rect x="506.6" y="40.3" width="119.2" height="1.4" fill="#000" opacity="0"/>
<rect x="506.6" y="44.5" width="119.2" height="1.4" fill="#000" opacity="0"/>
<rect x="506.6" y="48" width="119.2" height="1.6" fill="#000" opacity="0"/>
<rect x="506.6" y="51.5" width="119.2" height="1.6" fill="#fff" opacity="0"/>
<rect x="506.6" y="55.5" width="119.2" height="1.2" fill="#fff" opacity="0"/>
<rect x="506.6" y="59.6" width="119.2" height="1.5" fill="#fff" opacity="0"/>
<rect x="506.6" y="64" width="119.2" height="1.6" fill="#fff" opacity="0"/>
<rect x="506.6" y="67.4" width="119.2" height="1.7" fill="#fff" opacity="0"/>
<rect x="506.6" y="71" width="119.2" height="1.6" fill="#000" opacity="0"/>
<rect x="506.6" y="74.2" width="119.2" height="1.5" fill="#fff" opacity="0"/>
<rect x="506.6" y="78.1" width="119.2" height="1.7" fill="#fff" opacity="0"/>
<rect x="506.6" y="81.4" width="119.2" height="1.7" fill="#000" opacity="0"/>
<rect x="506.6" y="85" width="119.2" height="1.3" fill="#fff" opacity="0"/>
<rect x="506.6" y="89.5" width="119.2" height="1.6" fill="#fff" opacity="0"/>
<rect x="506.6" y="92.9" width="119.2" height="1.1" fill="#000" opacity="0"/>
<rect x="506.6" y="96.9" width="119.2" height="1" fill="#000" opacity="0"/>
<rect x="506.6" y="100.5" width="119.2" height="1" fill="#fff" opacity="0"/>
<rect x="506.6" y="104.6" width="119.2" height="1" fill="#000" opacity="0"/>
<rect x="506.6" y="108.5" width="119.2" height="0.9" fill="#fff" opacity="0"/>
<rect x="506.6" y="111.5" width="119.2" height="1.1" fill="#000" opacity="0"/>
<rect x="506.6" y="116" width="119.2" height="1" fill="#fff" opacity="0"/>
<rect x="506.6" y="119.1" width="119.2" height="1.3" fill="#fff" opacity="0"/>
<rect x="506.6" y="123.4" width="119.2" height="1.6" fill="#000" opacity="0"/>
<rect x="506.6" y="127" width="119.2" height="1.3" fill="#fff" opacity="0"/>
<rect x="506.6" y="130.7" width="119.2" height="0.8" fill="#fff" opacity="0"/>
<rect x="506.6" y="135.3" width="119.2" height="0.9" fill="#fff" opacity="0"/>
<rect x="506.6" y="138.3" width="119.2" height="1" fill="#000" opacity="0"/>
<rect x="506.6" y="141.9" width="119.2" height="1.1" fill="#000" opacity="0"/>
<rect x="506.6" y="145.9" width="119.2" height="1.1" fill="#fff" opacity="0"/>
<rect x="506.6" y="149.6" width="119.2" height="0.8" fill="#fff" opacity="0"/>
<rect x="506.6" y="153.5" width="119.2" height="1.5" fill="#fff" opacity="0"/>
<rect x="506.6" y="157.4" width="119.2" height="1.1" fill="#fff" opacity="0"/>
<rect x="506.6" y="161.1" width="119.2" height="1.5" fill="#fff" opacity="0"/>
<rect x="506.6" y="165.1" width="119.2" height="1.2" fill="#000" opacity="0"/>
<rect x="506.6" y="169.1" width="119.2" height="0.9" fill="#000" opacity="0"/>
<rect x="506.6" y="172.4" width="119.2" height="1.7" fill="#fff" opacity="0"/>
<rect x="506.6" y="176.9" width="119.2" height="1.7" fill="#000" opacity="0"/>
<rect x="506.6" y="180.4" width="119.2" height="1.5" fill="#fff" opacity="0"/>
<rect x="506.6" y="184.2" width="119.2" height="1.4" fill="#fff" opacity="0"/>
<rect x="506.6" y="187.9" width="119.2" height="1" fill="#000" opacity="0"/>
<rect x="506.6" y="192" width="119.2" height="0.9" fill="#fff" opacity="0"/>
<rect x="506.6" y="22" width="119.2" height="171" filter="url(#nz)" opacity="0.3"/>
<polygon points="537.7,22 537.5,23.5 538.8,25 540.7,26.5 540.6,28 542,29.5 542.8,31 543,32.5 543.7,34 545.4,35.5 545.9,37 547.8,38.5 548.8,40 548.4,41.5 550.2,43 550.1,44.5 552.4,46 552,47.5 554.2,49 554.5,50.5 555.9,52 555.9,53.5 557.6,55 558.6,56.5 558.9,58 559.4,59.5 560.8,61 561.4,62.5 562.6,64 562.7,65.5 564.8,67 565.1,68.5 563.4,70 562.5,71.5 562.8,73 562,74.5 559.8,76 559.8,77.5 559.5,79 558.1,80.5 556.8,82 556.3,83.5 556.7,85 554.7,86.5 555,88 553.5,89.5 553.4,91 552.8,92.5 551.1,94 551.2,95.5 550.8,97 549.6,98.5 548.7,100 547.4,101.5 547.2,103 546.5,104.5 545.1,106 544.3,107.5 543.8,109 543.3,110.5 542.2,112 541,113.5 540.8,115 540.1,116.5 539.2,118 538.7,119.5 538.1,121 537.4,122.5 536.6,124 535.8,125.5 536.3,127 536.4,128.5 536.8,130 538.7,131.5 538.9,133 538.5,134.5 539.1,136 539.4,137.5 541,139 540.6,140.5 541.6,142 541.5,143.5 542.4,145 543.8,146.5 544.1,148 545,149.5 545.5,151 545,152.5 545.4,154 546.8,155.5 547.3,157 547.4,158.5 548.4,160 548.7,161.5 549,163 550.2,164.5 551,166 550.6,167.5 551.4,169 552.6,170.5 552.3,172 553,173.5 554,175 555,176.5 554.6,178 555.2,179.5 556.2,181 556.4,182.5 556.9,184 558,185.5 558.3,187 557.8,188.5 559.2,190 559.2,191.5 560.2,193 565.9,193 566.7,191.5 562.8,190 564.7,188.5 564.4,187 564.5,185.5 560.8,184 561.8,182.5 560.3,181 562.1,179.5 559.4,178 558.7,176.5 559.2,175 559.6,173.5 558.4,172 557.4,170.5 555.1,169 555.1,167.5 556.3,166 555,164.5 553.9,163 553.4,161.5 554.2,160 552.6,158.5 552.2,157 553.3,155.5 550.8,154 551.5,152.5 552,151 550.4,149.5 549.9,148 547.6,146.5 547.7,145 546.1,143.5 547.4,142 546.1,140.5 547.3,139 546.5,137.5 545.6,136 542.9,134.5 544.5,133 545.1,131.5 542.3,130 543.3,128.5 541.3,127 540.6,125.5 542.5,124 543,122.5 544.1,121 544.9,119.5 544.6,118 544,116.5 545,115 548.4,113.5 548.8,112 550.5,110.5 548.5,109 551.6,107.5 552.3,106 550.4,104.5 552.6,103 552.4,101.5 555.7,100 554.1,98.5 555.3,97 555.6,95.5 558.6,94 556.1,92.5 560.1,91 557.5,89.5 558.4,88 562.4,86.5 563.1,85 563.8,83.5 563.1,82 563.9,80.5 564.6,79 563.4,77.5 567.6,76 565.3,74.5 568.9,73 569,71.5 569.2,70 568.4,68.5 570.1,67 569.1,65.5 567.3,64 567.6,62.5 565.8,61 565.1,59.5 563.8,58 562.7,56.5 564,55 562.7,53.5 562.3,52 559.6,50.5 559.9,49 558.8,47.5 558.1,46 555.2,44.5 555.7,43 553.5,41.5 551.7,40 551.9,38.5 553.3,37 552.4,35.5 550.9,34 549,32.5 547.3,31 546.6,29.5 545.4,28 543.7,26.5 545.8,25 543.2,23.5 542.3,22" fill="#ffffff"/>
<rect x="543" y="22" width="0.9" height="1.3" fill="#a01c10"/>
<rect x="547.7" y="25" width="1.6" height="1.3" fill="#ffffff"/>
<rect x="545.6" y="28" width="0.9" height="1.3" fill="#a01c10"/>
<rect x="548.6" y="31" width="1.1" height="1" fill="#ffffff"/>
<rect x="552.9" y="34" width="1.4" height="0.8" fill="#ffffff"/>
<rect x="556.1" y="37" width="1.3" height="1" fill="#ffffff"/>
<rect x="552.2" y="40" width="0.8" height="1" fill="#a01c10"/>
<rect x="557.9" y="43" width="0.7" height="0.9" fill="#a01c10"/>
<rect x="559.7" y="46" width="1.5" height="0.9" fill="#a01c10"/>
<rect x="561" y="49" width="1.1" height="0.8" fill="#ffffff"/>
<rect x="564" y="52" width="0.7" height="1" fill="#ffffff"/>
<rect x="564.6" y="55" width="1.1" height="1.3" fill="#a01c10"/>
<rect x="564.8" y="58" width="1.5" height="1.1" fill="#ffffff"/>
<rect x="568.3" y="61" width="0.8" height="1" fill="#a01c10"/>
<rect x="569.2" y="64" width="1" height="0.8" fill="#ffffff"/>
<rect x="570.7" y="67" width="1.2" height="1.1" fill="#a01c10"/>
<rect x="570.4" y="70" width="1.3" height="0.9" fill="#a01c10"/>
<rect x="571.5" y="73" width="1.3" height="0.9" fill="#a01c10"/>
<rect x="568.8" y="76" width="1.1" height="1.1" fill="#a01c10"/>
<rect x="565" y="79" width="0.9" height="1.2" fill="#ffffff"/>
<rect x="565" y="82" width="1.3" height="0.8" fill="#ffffff"/>
<rect x="564.2" y="85" width="1.1" height="1.2" fill="#ffffff"/>
<rect x="560.6" y="88" width="0.7" height="0.7" fill="#ffffff"/>
<rect x="562.6" y="91" width="0.7" height="0.9" fill="#a01c10"/>
<rect x="559.2" y="94" width="0.9" height="1.4" fill="#ffffff"/>
<rect x="556.5" y="97" width="1.4" height="0.8" fill="#a01c10"/>
<rect x="556.3" y="100" width="1.5" height="0.8" fill="#a01c10"/>
<rect x="555.2" y="103" width="1.4" height="1" fill="#a01c10"/>
<rect x="554.5" y="106" width="1.4" height="0.8" fill="#a01c10"/>
<rect x="550.7" y="109" width="1.4" height="1.3" fill="#ffffff"/>
<rect x="549.3" y="112" width="1.4" height="1.2" fill="#ffffff"/>
<rect x="546.4" y="115" width="0.9" height="0.8" fill="#a01c10"/>
<rect x="545.3" y="118" width="1.5" height="1.2" fill="#a01c10"/>
<rect x="545.3" y="121" width="1.5" height="1.3" fill="#a01c10"/>
<rect x="543" y="124" width="1.1" height="1.2" fill="#ffffff"/>
<rect x="543.7" y="127" width="1.3" height="1.2" fill="#a01c10"/>
<rect x="543.1" y="130" width="1.2" height="0.9" fill="#ffffff"/>
<rect x="546.5" y="133" width="0.9" height="1.4" fill="#a01c10"/>
<rect x="546" y="136" width="1" height="1.2" fill="#ffffff"/>
<rect x="547.9" y="139" width="0.8" height="0.8" fill="#a01c10"/>
<rect x="548.6" y="142" width="0.7" height="0.9" fill="#ffffff"/>
<rect x="548.4" y="145" width="1.3" height="1.1" fill="#a01c10"/>
<rect x="551.4" y="148" width="0.7" height="1.2" fill="#ffffff"/>
<rect x="554.7" y="151" width="0.9" height="0.9" fill="#a01c10"/>
<rect x="552.6" y="154" width="1.4" height="0.8" fill="#a01c10"/>
<rect x="554.5" y="157" width="1.4" height="1.3" fill="#ffffff"/>
<rect x="555.1" y="160" width="1.2" height="0.8" fill="#a01c10"/>
<rect x="554.5" y="163" width="0.8" height="0.9" fill="#a01c10"/>
<rect x="557.3" y="166" width="1.1" height="0.9" fill="#a01c10"/>
<rect x="555.4" y="169" width="1.4" height="1.3" fill="#ffffff"/>
<rect x="559.7" y="172" width="1.4" height="0.8" fill="#a01c10"/>
<rect x="560.4" y="175" width="0.7" height="0.7" fill="#ffffff"/>
<rect x="560.6" y="178" width="1.3" height="1" fill="#ffffff"/>
<rect x="560.6" y="181" width="1.4" height="1.2" fill="#a01c10"/>
<rect x="562.8" y="184" width="0.8" height="0.7" fill="#ffffff"/>
<rect x="566.9" y="187" width="1" height="0.9" fill="#a01c10"/>
<rect x="563.5" y="190" width="0.8" height="0.9" fill="#ffffff"/>
<rect x="566.9" y="193" width="0.9" height="1.1" fill="#a01c10"/>
<rect x="595" y="106.2" width="1.6" height="1.8" fill="#9a8080"/>
<rect x="593.7" y="143.4" width="1.5" height="1" fill="#ffffff"/>
<rect x="596.2" y="94.4" width="1.8" height="1" fill="#9a8080"/>
<rect x="594.8" y="92.9" width="1" height="1.6" fill="#9a8080"/>
<rect x="593.6" y="119.5" width="1.6" height="0.9" fill="#9a8080"/>
<rect x="593.6" y="103.2" width="1.1" height="1.6" fill="#ffffff"/>
<rect x="594.2" y="150.7" width="1.3" height="0.9" fill="#ffffff"/>
<rect x="593.5" y="147.1" width="1" height="1.1" fill="#ffffff"/>
<rect x="593.3" y="146" width="1.2" height="1.7" fill="#9a8080"/>
<rect x="593.5" y="88.5" width="1.9" height="0.9" fill="#ffffff"/>
<rect x="594.7" y="99.2" width="1.1" height="1.7" fill="#9a8080"/>
<rect x="591.9" y="142" width="0.9" height="0.8" fill="#9a8080"/>
<rect x="592.9" y="89" width="0.9" height="1.4" fill="#ffffff"/>
<rect x="593.8" y="154.5" width="0.9" height="1.2" fill="#ffffff"/>
<rect x="595.7" y="137.4" width="1.9" height="1.3" fill="#9a8080"/>
<rect x="593.7" y="125.2" width="1.2" height="1.5" fill="#ffffff"/>
<rect x="591.8" y="90.2" width="1.8" height="1" fill="#ffffff"/>
<rect x="594.5" y="136.5" width="2.1" height="1.3" fill="#9a8080"/>
<rect x="593" y="132.9" width="0.9" height="1.6" fill="#9a8080"/>
<rect x="592.5" y="145.3" width="2" height="1" fill="#ffffff"/>
<rect x="595.2" y="130.4" width="2.1" height="1.7" fill="#ffffff"/>
<rect x="592.8" y="138.4" width="1.4" height="1.4" fill="#9a8080"/>
<rect x="591.7" y="113.1" width="1.1" height="1.5" fill="#9a8080"/>
<rect x="596.2" y="138.4" width="2.1" height="1.2" fill="#ffffff"/>
<rect x="591.5" y="109.7" width="2" height="1.3" fill="#ffffff"/>
<rect x="592.1" y="109.7" width="1" height="1.3" fill="#ffffff"/>
<rect x="593.7" y="117.1" width="1.3" height="1.8" fill="#ffffff"/>
<rect x="594.1" y="156.3" width="1.4" height="1.3" fill="#ffffff"/>
<rect x="593.1" y="103.1" width="2.1" height="1.2" fill="#ffffff"/>
<rect x="593.1" y="97.9" width="1" height="1.2" fill="#9a8080"/>
<rect x="595.1" y="155.7" width="1.2" height="1.7" fill="#9a8080"/>
<rect x="593.7" y="133.9" width="2" height="1.8" fill="#ffffff"/>
<rect x="594.4" y="86.7" width="1.1" height="1.4" fill="#9a8080"/>
<rect x="593.5" y="144.2" width="1.7" height="1.8" fill="#9a8080"/>
<rect x="593.6" y="145.5" width="1.9" height="1.1" fill="#ffffff"/>
<rect x="593.4" y="126.6" width="1.3" height="1.1" fill="#ffffff"/>
<rect x="593.5" y="110.1" width="2.1" height="1.6" fill="#ffffff"/>
<rect x="592.1" y="137.7" width="1.5" height="1.5" fill="#ffffff"/>
<rect x="594.5" y="155.1" width="1.3" height="1.1" fill="#ffffff"/>
<rect x="593.6" y="98" width="1.6" height="1.3" fill="#9a8080"/>
<rect x="597" y="124.1" width="1.2" height="1" fill="#9a8080"/>
<rect x="594.1" y="126.1" width="2.2" height="1" fill="#ffffff"/>
<rect x="593.3" y="163.6" width="1.9" height="0.8" fill="#ffffff"/>
<rect x="593.3" y="118.2" width="0.9" height="1.8" fill="#ffffff"/>
<rect x="595.2" y="124.9" width="2.1" height="1.1" fill="#9a8080"/>
<rect x="593.8" y="125.2" width="0.9" height="1.3" fill="#9a8080"/>
<rect x="594.2" y="101.9" width="1.2" height="1.3" fill="#9a8080"/>
<rect x="593.6" y="157.7" width="1.6" height="1.8" fill="#9a8080"/>
<rect x="593.6" y="114.4" width="2" height="1.3" fill="#ffffff"/>
<rect x="593" y="159.3" width="1.4" height="1.5" fill="#ffffff"/>
<rect x="594.4" y="111.3" width="1" height="1.7" fill="#ffffff"/>
<rect x="592.6" y="125.6" width="1.4" height="1" fill="#9a8080"/>
<rect x="593.7" y="89.5" width="1.7" height="1.6" fill="#ffffff"/>
<rect x="595.6" y="92" width="1.3" height="1.5" fill="#ffffff"/>
<rect x="594.4" y="150.1" width="1.4" height="0.8" fill="#ffffff"/>
<rect x="593.5" y="141.1" width="1.2" height="1.4" fill="#ffffff"/>
<rect x="596" y="163.5" width="0.9" height="1.4" fill="#9a8080"/>
<rect x="592.3" y="151.9" width="1.8" height="1.7" fill="#ffffff"/>
<rect x="593.6" y="99.9" width="1" height="1.2" fill="#9a8080"/>
<rect x="591.9" y="148.4" width="2" height="1.2" fill="#ffffff"/>
<rect x="595.4" y="112.6" width="1" height="1.5" fill="#ffffff"/>
<rect x="592.5" y="159.3" width="1.2" height="1" fill="#9a8080"/>
<rect x="594.1" y="159" width="1.6" height="1" fill="#ffffff"/>
<rect x="594" y="102.9" width="1.8" height="1.6" fill="#9a8080"/>
<rect x="594.6" y="153.4" width="2" height="1" fill="#ffffff"/>
<rect x="594.7" y="108.3" width="0.8" height="1.8" fill="#9a8080"/>
<rect x="593.6" y="116.1" width="2" height="1.2" fill="#9a8080"/>
<rect x="595.8" y="142.2" width="1.9" height="1.4" fill="#ffffff"/>
<rect x="594.9" y="134" width="1.3" height="1.4" fill="#9a8080"/>
<rect x="593.4" y="92.2" width="0.8" height="1.3" fill="#ffffff"/>
<rect x="594.3" y="161.4" width="1.9" height="1.2" fill="#ffffff"/>
<rect x="595.4" y="163.2" width="1.6" height="1.4" fill="#ffffff"/>
<rect x="592.5" y="128.5" width="1.2" height="1.7" fill="#9a8080"/>
<rect x="594.3" y="127.9" width="1.1" height="1.4" fill="#9a8080"/>
<rect x="595.7" y="108.3" width="1.8" height="1" fill="#ffffff"/>
<rect x="593.7" y="150.1" width="1.2" height="1.2" fill="#9a8080"/>
<rect x="594.5" y="107.6" width="1.3" height="1.8" fill="#ffffff"/>
<rect x="594.3" y="138.7" width="2" height="0.9" fill="#ffffff"/>
<rect x="593.5" y="128" width="1.7" height="1.4" fill="#ffffff"/>
<rect x="593.2" y="162.6" width="2" height="1.4" fill="#ffffff"/>
<rect x="594.6" y="134.6" width="1.9" height="0.9" fill="#9a8080"/>
<rect x="594.5" y="87.3" width="1.9" height="1.6" fill="#9a8080"/>
<rect x="594.7" y="147.1" width="2" height="1.1" fill="#9a8080"/>
<rect x="596.1" y="87.8" width="1.8" height="1.4" fill="#ffffff"/>
<rect x="591.9" y="114" width="1.7" height="1.5" fill="#ffffff"/>
<rect x="595.2" y="130.1" width="1.7" height="1.4" fill="#ffffff"/>
<rect x="595.7" y="114" width="1.8" height="1.2" fill="#ffffff"/>
<rect x="595.3" y="142.3" width="1.9" height="1.1" fill="#9a8080"/>
<rect x="595.1" y="114.7" width="0.9" height="1.1" fill="#ffffff"/>
<rect x="593" y="156.9" width="2.2" height="1.6" fill="#ffffff"/>
<rect x="593.1" y="105.8" width="1.7" height="1.7" fill="#ffffff"/>
<rect x="594.8" y="108" width="1.9" height="1.3" fill="#9a8080"/>
<rect x="595.5" y="143.3" width="1.4" height="0.9" fill="#ffffff"/>
<rect x="596.3" y="143.5" width="1.5" height="0.8" fill="#9a8080"/>
<rect x="595.9" y="162.9" width="1.1" height="1.4" fill="#9a8080"/>
<rect x="595.2" y="153.8" width="1.3" height="1.4" fill="#ffffff"/>
<rect x="594.1" y="146.7" width="1.1" height="1.2" fill="#9a8080"/>
<rect x="593.9" y="93.7" width="2" height="1.7" fill="#ffffff"/>
<rect x="595.7" y="131.2" width="2.1" height="1.6" fill="#ffffff"/>
<rect x="593.1" y="142.8" width="2" height="1" fill="#9a8080"/>
<rect x="596.1" y="154.1" width="1.5" height="1.7" fill="#ffffff"/>
<rect x="593.9" y="95.4" width="1.5" height="1.2" fill="#9a8080"/>
<rect x="594.1" y="149.2" width="1.6" height="1.5" fill="#ffffff"/>
<rect x="593.9" y="144.3" width="1.7" height="1" fill="#9a8080"/>
<rect x="595.5" y="101.8" width="1.4" height="1.7" fill="#9a8080"/>
<rect x="594" y="147.3" width="0.9" height="1.4" fill="#ffffff"/>
<rect x="595.4" y="118.7" width="1.5" height="1.8" fill="#9a8080"/>
<rect x="594.4" y="155.7" width="0.9" height="0.9" fill="#ffffff"/>
<rect x="593.3" y="134.7" width="2.1" height="1.2" fill="#9a8080"/>
<rect x="595.4" y="91.7" width="0.8" height="1.4" fill="#ffffff"/>
<rect x="592.3" y="130.4" width="1.6" height="1.5" fill="#9a8080"/>
<rect x="592.5" y="134.6" width="1.4" height="1.5" fill="#ffffff"/>
<rect x="594.6" y="102.5" width="2" height="1" fill="#9a8080"/>
<rect x="595.4" y="144.1" width="1.7" height="1.8" fill="#ffffff"/>
<rect x="592.1" y="92.8" width="0.9" height="1" fill="#9a8080"/>
<rect x="593.8" y="163.7" width="0.9" height="1.1" fill="#ffffff"/>
<rect x="592.3" y="109.4" width="1.3" height="1" fill="#ffffff"/>
<rect x="594.1" y="89.4" width="1.8" height="1.6" fill="#ffffff"/>
<rect x="596.9" y="116.4" width="1.6" height="1" fill="#9a8080"/>
<rect x="593.7" y="145.4" width="0.9" height="0.8" fill="#ffffff"/>
<rect x="593.7" y="143.6" width="2.1" height="1.6" fill="#ffffff"/>
<rect x="593.4" y="134.9" width="1.2" height="1.1" fill="#ffffff"/>
<rect x="594.2" y="148.2" width="1.3" height="1" fill="#ffffff"/>
<rect x="593.7" y="160.8" width="1.7" height="1.3" fill="#ffffff"/>
<rect x="594" y="145.5" width="1.9" height="0.8" fill="#ffffff"/>
<rect x="592.8" y="112.9" width="1.6" height="1.2" fill="#9a8080"/>
<rect x="594.1" y="86.1" width="1.3" height="0.9" fill="#ffffff"/>
<rect x="593" y="88.8" width="2" height="1.2" fill="#ffffff"/>
<rect x="595" y="91.1" width="1.1" height="0.9" fill="#9a8080"/>
<rect x="595" y="105.4" width="2.1" height="1.7" fill="#ffffff"/>
<rect x="592.7" y="147.3" width="1.1" height="1.6" fill="#9a8080"/>
<rect x="592.6" y="142.4" width="1.4" height="0.9" fill="#9a8080"/>
<rect x="593.4" y="134.2" width="2.1" height="1.1" fill="#ffffff"/>
<rect x="593.5" y="113" width="2.1" height="0.9" fill="#9a8080"/>
<rect x="592.6" y="136.6" width="1.8" height="0.9" fill="#ffffff"/>
<rect x="592.7" y="91.4" width="1.3" height="0.9" fill="#9a8080"/>
<rect x="594.5" y="128.3" width="1.6" height="1.5" fill="#ffffff"/>
<rect x="594.2" y="126.3" width="2" height="1.7" fill="#ffffff"/>
<rect x="594" y="157.1" width="1.8" height="1" fill="#9a8080"/>
<rect x="595.3" y="155.4" width="2" height="1.3" fill="#ffffff"/>
<rect x="594.4" y="187" width="0.8" height="0.8" fill="#ffffff"/>
<rect x="595.4" y="174.4" width="1.3" height="1.3" fill="#ffffff"/>
<rect x="596.2" y="183.5" width="1" height="0.9" fill="#ffffff"/>
<rect x="595.4" y="178.5" width="1.5" height="0.7" fill="#ffffff"/>
<rect x="595.7" y="166.7" width="1" height="0.9" fill="#8a2a20"/>
<rect x="595.1" y="191.2" width="1" height="1.1" fill="#ffffff"/>
<rect x="592.3" y="175.4" width="0.8" height="1.2" fill="#8a2a20"/>
<rect x="595.8" y="190.5" width="0.8" height="1.2" fill="#8a2a20"/>
<rect x="596.1" y="189.8" width="1.4" height="1.3" fill="#ffffff"/>
<rect x="594.4" y="190" width="0.9" height="0.7" fill="#ffffff"/>
<rect x="593" y="172.9" width="1.1" height="1" fill="#ffffff"/>
<rect x="595" y="180.5" width="1.1" height="1" fill="#ffffff"/>
<rect x="596.9" y="176.9" width="0.8" height="0.8" fill="#ffffff"/>
<rect x="592.5" y="177.4" width="0.9" height="0.9" fill="#ffffff"/>
<rect x="592.3" y="171" width="1.3" height="1.4" fill="#8a2a20"/>
<rect x="593.9" y="175.5" width="0.8" height="1" fill="#ffffff"/>
<rect x="592.2" y="173.9" width="0.8" height="1" fill="#ffffff"/>
<rect x="593.8" y="191.5" width="1.4" height="0.8" fill="#8a2a20"/>
<rect x="593.5" y="172.9" width="1.4" height="0.7" fill="#8a2a20"/>
<rect x="593.5" y="178.3" width="0.9" height="1.1" fill="#8a2a20"/>
<rect x="595.2" y="183" width="1.3" height="0.7" fill="#8a2a20"/>
<rect x="591" y="186.6" width="1.3" height="0.8" fill="#ffffff"/>
<rect x="591.6" y="174" width="0.7" height="1.3" fill="#8a2a20"/>
<rect x="596" y="183.2" width="1.3" height="0.7" fill="#ffffff"/>
<rect x="593.7" y="188.8" width="1" height="1.4" fill="#8a2a20"/>
<rect x="592.4" y="173.5" width="1" height="0.8" fill="#ffffff"/>
<rect x="594.9" y="175.1" width="1.1" height="0.7" fill="#ffffff"/>
<rect x="594.1" y="188.9" width="1.4" height="1.2" fill="#ffffff"/>
<rect x="594.8" y="178.2" width="1" height="1.2" fill="#ffffff"/>
<rect x="593.5" y="192.3" width="1.4" height="0.7" fill="#ffffff"/>
<rect x="614.4" y="164.5" width="1.4" height="1.4" fill="#ffffff"/>
<rect x="622.2" y="95" width="1.5" height="0.9" fill="#8a2a1a"/>
<rect x="615.7" y="148.7" width="1.2" height="0.9" fill="#ffffff"/>
<rect x="611.3" y="135.8" width="1.9" height="1.6" fill="#ffffff"/>
<rect x="617.7" y="181.9" width="0.8" height="0.9" fill="#ffffff"/>
<rect x="605.9" y="175.3" width="1.7" height="0.9" fill="#ffffff"/>
<rect x="622.7" y="188.8" width="1" height="1.5" fill="#8a2a1a"/>
<rect x="606.4" y="137.7" width="1.8" height="1.6" fill="#b09090"/>
<rect x="605.6" y="168.8" width="0.9" height="0.8" fill="#ffffff"/>
<rect x="616.7" y="178.2" width="1.7" height="1.3" fill="#ffffff"/>
<rect x="615.1" y="144" width="1.4" height="1.3" fill="#b09090"/>
<rect x="623.3" y="189.3" width="1" height="0.8" fill="#b09090"/>
<rect x="617.5" y="112.8" width="1.6" height="0.9" fill="#ffffff"/>
<rect x="614.4" y="188.7" width="1" height="1.4" fill="#ffffff"/>
<rect x="618.5" y="141.2" width="1.6" height="1.4" fill="#ffffff"/>
<rect x="615" y="128.3" width="1.7" height="1.6" fill="#ffffff"/>
<rect x="615.5" y="126.8" width="2" height="1.6" fill="#ffffff"/>
<rect x="624.3" y="115.3" width="1.2" height="1.6" fill="#ffffff"/>
<rect x="613.5" y="164.4" width="1.2" height="1.1" fill="#b09090"/>
<rect x="607.4" y="116.8" width="1" height="0.9" fill="#ffffff"/>
<rect x="616.4" y="181.7" width="1.5" height="1.3" fill="#8a2a1a"/>
<rect x="617.8" y="187.4" width="1.5" height="1" fill="#8a2a1a"/>
<rect x="612.2" y="174.5" width="1.6" height="1.3" fill="#ffffff"/>
<rect x="614" y="106.5" width="1.5" height="1" fill="#ffffff"/>
<rect x="618.7" y="164.1" width="2" height="0.9" fill="#b09090"/>
<rect x="619" y="111" width="0.8" height="1.1" fill="#ffffff"/>
<rect x="609.4" y="96.5" width="1.4" height="1.4" fill="#b09090"/>
<rect x="603.9" y="173.2" width="1.8" height="0.8" fill="#ffffff"/>
<rect x="602.5" y="117.5" width="1" height="1.3" fill="#ffffff"/>
<rect x="603.5" y="106.2" width="1.9" height="1.6" fill="#ffffff"/>
<rect x="615.6" y="102.2" width="1.2" height="1" fill="#8a2a1a"/>
<rect x="622.9" y="127.6" width="1.9" height="0.9" fill="#b09090"/>
<rect x="606.3" y="156.2" width="1.6" height="0.9" fill="#b09090"/>
<rect x="612.8" y="143.2" width="0.9" height="1.5" fill="#ffffff"/>
<rect x="620.8" y="177.2" width="1.2" height="1" fill="#ffffff"/>
<rect x="610.2" y="173.1" width="1.7" height="0.8" fill="#ffffff"/>
<rect x="609.2" y="164.4" width="1.7" height="1.4" fill="#ffffff"/>
<rect x="618.5" y="175.8" width="1.3" height="1.1" fill="#ffffff"/>
<rect x="609.3" y="152.1" width="0.8" height="1.3" fill="#ffffff"/>
<rect x="620.8" y="144.1" width="1.4" height="1" fill="#ffffff"/>
<rect x="604" y="166" width="1" height="1" fill="#8a2a1a"/>
<rect x="618.4" y="183.4" width="1" height="1" fill="#b09090"/>
<rect x="607.6" y="101.1" width="1.3" height="1" fill="#b09090"/>
<rect x="614" y="146.2" width="1.1" height="1.4" fill="#b09090"/>
<rect x="606.2" y="99.8" width="1.4" height="0.8" fill="#ffffff"/>
<rect x="615.4" y="114.4" width="0.9" height="1.2" fill="#b09090"/>
<rect x="619.7" y="141.7" width="1.1" height="0.8" fill="#ffffff"/>
<rect x="618.5" y="137.9" width="0.8" height="1.4" fill="#ffffff"/>
<rect x="615.1" y="178.5" width="1.9" height="1.1" fill="#b09090"/>
<rect x="616.8" y="171.4" width="1.6" height="1" fill="#ffffff"/>
<rect x="606.7" y="139.7" width="1.5" height="1" fill="#ffffff"/>
<rect x="622.7" y="187.5" width="1.4" height="0.8" fill="#ffffff"/>
<rect x="611.9" y="101.7" width="1.7" height="1.4" fill="#8a2a1a"/>
<rect x="616.5" y="109.2" width="1.6" height="1.3" fill="#ffffff"/>
<rect x="604.1" y="184.2" width="1.6" height="1.2" fill="#ffffff"/>
<rect x="612.3" y="175.2" width="1.5" height="1.1" fill="#ffffff"/>
<rect x="608.8" y="170" width="1.3" height="1" fill="#ffffff"/>
<rect x="623.2" y="139.9" width="1.4" height="0.8" fill="#8a2a1a"/>
<rect x="615.6" y="188.7" width="1.5" height="1" fill="#8a2a1a"/>
<rect x="614" y="114.8" width="1.7" height="1.4" fill="#8a2a1a"/>
<rect x="606.8" y="174.7" width="1.1" height="0.9" fill="#b09090"/>
<rect x="616.4" y="174.8" width="1.6" height="1.6" fill="#b09090"/>
<rect x="612.2" y="166.5" width="1.8" height="1.3" fill="#8a2a1a"/>
<rect x="605.1" y="95" width="1" height="1" fill="#b09090"/>
<rect x="618.2" y="183.1" width="1.9" height="1" fill="#b09090"/>
<rect x="622" y="121.1" width="1.2" height="1" fill="#b09090"/>
<rect x="614" y="122.8" width="1.9" height="0.7" fill="#8a2a1a"/>
<rect x="620.9" y="170.4" width="1.4" height="1.5" fill="#ffffff"/>
<rect x="624.8" y="166.4" width="1.7" height="1.4" fill="#b09090"/>
<rect x="616.2" y="126.9" width="1.3" height="1" fill="#ffffff"/>
<rect x="616.9" y="128" width="1.8" height="1" fill="#ffffff"/>
<rect x="622.5" y="181.1" width="0.9" height="1.5" fill="#ffffff"/>
<rect x="621.6" y="177.6" width="2" height="1.6" fill="#8a2a1a"/>
<rect x="621.4" y="171.7" width="1.8" height="0.9" fill="#b09090"/>
<rect x="613.3" y="101.3" width="0.9" height="1.5" fill="#ffffff"/>
<rect x="610.1" y="101.9" width="0.8" height="1.4" fill="#ffffff"/>
<rect x="622.7" y="157.7" width="1.1" height="1.1" fill="#8a2a1a"/>
<rect x="612.1" y="157" width="1.9" height="1.1" fill="#b09090"/>
<rect x="620.5" y="125.5" width="1.8" height="1.2" fill="#ffffff"/>
<rect x="618.1" y="192.8" width="1.9" height="0.8" fill="#8a2a1a"/>
<rect x="614.5" y="181.3" width="1.6" height="0.9" fill="#b09090"/>
<rect x="617" y="185.9" width="1.6" height="1.5" fill="#ffffff"/>
<rect x="615.4" y="150.8" width="0.7" height="0.8" fill="#ffffff"/>
<rect x="609" y="123.5" width="1.4" height="1.4" fill="#ffffff"/>
<rect x="610" y="168" width="1.7" height="0.9" fill="#8a2a1a"/>
<rect x="608.3" y="157.4" width="0.8" height="1.1" fill="#b09090"/>
<rect x="611.9" y="127.2" width="1.7" height="0.9" fill="#ffffff"/>
<rect x="619.3" y="109" width="1.9" height="1.6" fill="#ffffff"/>
<rect x="609" y="184.2" width="1.4" height="1.4" fill="#b09090"/>
<rect x="605" y="100.4" width="1.4" height="1.5" fill="#ffffff"/>
<rect x="616.4" y="186.4" width="1.4" height="0.8" fill="#8a2a1a"/>
<rect x="621.7" y="136.5" width="1.5" height="0.9" fill="#b09090"/>
<rect x="610.3" y="116.2" width="1.5" height="0.7" fill="#ffffff"/>
<rect x="621.7" y="183.5" width="0.9" height="1.4" fill="#b09090"/>
<rect x="610.3" y="175.5" width="1" height="0.9" fill="#ffffff"/>
<rect x="624.6" y="165.7" width="0.8" height="1.1" fill="#ffffff"/>
<rect x="611.3" y="177.2" width="1.9" height="0.7" fill="#ffffff"/>
<rect x="615" y="103.5" width="0.8" height="1.4" fill="#8a2a1a"/>
<rect x="607.9" y="140.1" width="1.5" height="1.6" fill="#b09090"/>
<rect x="614.3" y="165.7" width="2" height="0.9" fill="#8a2a1a"/>
<rect x="613.2" y="137.7" width="1.1" height="1.3" fill="#8a2a1a"/>
<rect x="606.1" y="113.9" width="1.1" height="1.2" fill="#ffffff"/>
<rect x="614.5" y="177.3" width="1.7" height="1.2" fill="#8a2a1a"/>
<rect x="624.1" y="141.2" width="1" height="1.2" fill="#ffffff"/>
<rect x="616.2" y="117.8" width="1.2" height="1" fill="#ffffff"/>
<rect x="614.2" y="129.7" width="1.3" height="1" fill="#8a2a1a"/>
<rect x="618.9" y="140.6" width="1.8" height="1.2" fill="#ffffff"/>
<rect x="622.5" y="166.4" width="1.2" height="1.3" fill="#8a2a1a"/>
<rect x="624.2" y="155.7" width="0.9" height="1.3" fill="#ffffff"/>
<rect x="624.2" y="109.2" width="1.2" height="1.5" fill="#b09090"/>
<rect x="617.9" y="161.4" width="1.1" height="1.6" fill="#8a2a1a"/>
<rect x="619" y="123" width="0.9" height="1.5" fill="#ffffff"/>
<rect x="618.4" y="174" width="1.3" height="0.9" fill="#ffffff"/>
<rect x="613" y="147.1" width="1.9" height="1.3" fill="#8a2a1a"/>
<rect x="607.1" y="119.9" width="1.5" height="1.2" fill="#b09090"/>
<rect x="603.3" y="173.4" width="0.8" height="1.4" fill="#ffffff"/>
<rect x="611.3" y="127.6" width="1.8" height="0.8" fill="#8a2a1a"/>
<rect x="603.6" y="113.9" width="0.8" height="1.4" fill="#ffffff"/>
<rect x="612.2" y="116.5" width="1.3" height="0.8" fill="#ffffff"/>
<rect x="624.1" y="149" width="1.9" height="0.8" fill="#ffffff"/>
<rect x="614.8" y="113.9" width="1.7" height="1.5" fill="#8a2a1a"/>
<rect x="614.6" y="156.7" width="1.6" height="0.9" fill="#ffffff"/>
<rect x="624.6" y="98.7" width="0.8" height="0.8" fill="#ffffff"/>
<rect x="612.5" y="163.1" width="0.9" height="1.1" fill="#ffffff"/>
<rect x="608.9" y="154.7" width="1.6" height="1.6" fill="#b09090"/>
<rect x="607.2" y="179" width="1.1" height="1.1" fill="#8a2a1a"/>
<rect x="610.3" y="190.5" width="2" height="1.3" fill="#ffffff"/>
<rect x="608.5" y="182.5" width="1.7" height="1.3" fill="#ffffff"/>
<rect x="615.1" y="156" width="1.9" height="1.4" fill="#ffffff"/>
<rect x="615.2" y="181.4" width="1.5" height="1" fill="#8a2a1a"/>
<rect x="616.4" y="109.5" width="0.8" height="1.4" fill="#ffffff"/>
<rect x="616.1" y="162.5" width="0.9" height="1.3" fill="#ffffff"/>
<rect x="622.4" y="130.5" width="1.6" height="0.9" fill="#8a2a1a"/>
<rect x="620.4" y="135.1" width="1.9" height="1.6" fill="#ffffff"/>
<rect x="612.3" y="131.9" width="1" height="1.5" fill="#ffffff"/>
<rect x="624.9" y="162.4" width="1.1" height="1.4" fill="#b09090"/>
<rect x="621.7" y="128" width="1.4" height="1.2" fill="#b09090"/>
<rect x="622.7" y="191.9" width="1.3" height="1.4" fill="#ffffff"/>
<rect x="608.1" y="169.6" width="1.4" height="1.5" fill="#8a2a1a"/>
<rect x="620" y="95.4" width="1.5" height="0.8" fill="#8a2a1a"/>
<rect x="611.4" y="106.1" width="1.8" height="1.1" fill="#b09090"/>
<rect x="606" y="139" width="1.2" height="0.7" fill="#b09090"/>
<rect x="609.8" y="159.1" width="1.1" height="1" fill="#8a2a1a"/>
<rect x="621.1" y="162.9" width="1.5" height="0.9" fill="#b09090"/>
<rect x="614.1" y="188.1" width="1.3" height="0.8" fill="#ffffff"/>
<rect x="621.9" y="123.9" width="1.5" height="1.5" fill="#ffffff"/>
<rect x="613.1" y="178.4" width="1.8" height="0.9" fill="#ffffff"/>
<rect x="615" y="97.5" width="0.8" height="1.4" fill="#ffffff"/>
<rect x="609.9" y="153.9" width="1.8" height="0.8" fill="#b09090"/>
<rect x="612.9" y="186.4" width="0.9" height="0.8" fill="#ffffff"/>
<rect x="618.9" y="177.2" width="1" height="0.8" fill="#ffffff"/>
<rect x="615.6" y="172" width="1" height="1.5" fill="#ffffff"/>
<rect x="608.4" y="192.7" width="1.1" height="1.6" fill="#ffffff"/>
<rect x="618.7" y="147.2" width="1.8" height="1.1" fill="#ffffff"/>
<rect x="614.5" y="141" width="1.1" height="0.8" fill="#8a2a1a"/>
<rect x="610.3" y="140.4" width="1.8" height="1.6" fill="#b09090"/>
<rect x="608.4" y="162" width="1.4" height="1.1" fill="#ffffff"/>
<rect x="623.6" y="183.1" width="1.3" height="1.5" fill="#b09090"/>
<rect x="606.6" y="143.8" width="2" height="1" fill="#b09090"/>
<rect x="623.1" y="131" width="1.9" height="1.6" fill="#ffffff"/>
<rect x="616.1" y="122.7" width="1.1" height="1.2" fill="#ffffff"/>
<rect x="612.2" y="97.8" width="1" height="0.8" fill="#b09090"/>
<rect x="615.3" y="131.2" width="1.7" height="1.5" fill="#b09090"/>
<rect x="615.8" y="186.1" width="1" height="1.6" fill="#ffffff"/>
<rect x="613.3" y="154.3" width="1.1" height="1.6" fill="#ffffff"/>
<rect x="620.1" y="152.5" width="1.2" height="0.9" fill="#ffffff"/>
<rect x="609.6" y="144.7" width="0.9" height="1.5" fill="#ffffff"/>
<rect x="619.6" y="185.8" width="2" height="1.3" fill="#ffffff"/>
<rect x="611.1" y="190.5" width="0.8" height="1" fill="#ffffff"/>
<rect x="616.5" y="129.3" width="1.6" height="1.2" fill="#ffffff"/>
<rect x="603.1" y="114.9" width="0.9" height="1.4" fill="#ffffff"/>
<rect x="609.7" y="106.9" width="1.5" height="1.4" fill="#b09090"/>
<rect x="619.5" y="132.6" width="2" height="0.7" fill="#8a2a1a"/>
<rect x="606.9" y="168.1" width="1.1" height="0.8" fill="#b09090"/>
<rect x="622.9" y="97.2" width="0.7" height="0.7" fill="#8a2a1a"/>
<rect x="618.5" y="159" width="0.9" height="1.4" fill="#ffffff"/>
<rect x="613.2" y="183.2" width="1" height="0.8" fill="#ffffff"/>
<rect x="608.1" y="105.8" width="1.7" height="0.8" fill="#b09090"/>
<rect x="616.2" y="151.3" width="1.4" height="1.1" fill="#ffffff"/>
<rect x="620.4" y="118.1" width="0.9" height="1.5" fill="#ffffff"/>
<rect x="610.5" y="175.7" width="1" height="0.8" fill="#8a2a1a"/>
<rect x="617.9" y="137.1" width="1.3" height="0.7" fill="#ffffff"/>
<rect x="615.2" y="144.3" width="1.9" height="1.2" fill="#ffffff"/>
<rect x="609.4" y="120.5" width="1.7" height="1.4" fill="#b09090"/>
<rect x="619" y="136.5" width="1.1" height="1.2" fill="#8a2a1a"/>
<rect x="610.6" y="110.2" width="1.1" height="1" fill="#ffffff"/>
<rect x="620" y="137" width="0.9" height="0.7" fill="#ffffff"/>
<rect x="624.8" y="167" width="1.7" height="1.4" fill="#ffffff"/>
<rect x="611.6" y="98.9" width="0.8" height="1.2" fill="#ffffff"/>
<rect x="616.4" y="111.5" width="1.6" height="1.1" fill="#8a2a1a"/>
<rect x="606.3" y="183.5" width="0.7" height="0.9" fill="#8a2a1a"/>
<rect x="606.6" y="135" width="1.4" height="1" fill="#b09090"/>
<rect x="612.7" y="121.1" width="1.6" height="0.9" fill="#8a2a1a"/>
<rect x="614.5" y="177.8" width="0.8" height="0.8" fill="#ffffff"/>
<rect x="617" y="192.1" width="1.9" height="0.8" fill="#8a2a1a"/>
<rect x="610.8" y="104.7" width="1.9" height="1.2" fill="#8a2a1a"/>
<rect x="611.7" y="186.5" width="1.8" height="1.1" fill="#ffffff"/>
<rect x="605.5" y="137.9" width="1.6" height="0.7" fill="#ffffff"/>
<rect x="617.7" y="190.7" width="0.8" height="1.3" fill="#ffffff"/>
<rect x="607" y="126.6" width="0.8" height="1.2" fill="#b09090"/>
<rect x="613" y="163.2" width="1.2" height="1.3" fill="#b09090"/>
<rect x="608.4" y="137.9" width="0.9" height="0.8" fill="#8a2a1a"/>
<rect x="622.8" y="157.4" width="0.9" height="1.5" fill="#ffffff"/>
<rect x="607.1" y="132.3" width="1.6" height="0.7" fill="#ffffff"/>
<rect x="622.9" y="103.3" width="1.1" height="1.2" fill="#8a2a1a"/>
<rect x="624.5" y="158.1" width="1.9" height="1.2" fill="#ffffff"/>
<rect x="612.2" y="115" width="1.6" height="0.8" fill="#b09090"/>
<rect x="616.4" y="152.6" width="1" height="0.9" fill="#ffffff"/>
<rect x="616.2" y="136" width="1.6" height="0.9" fill="#b09090"/>
<rect x="611.3" y="170.5" width="1.6" height="1.4" fill="#8a2a1a"/>
<rect x="610.7" y="185.7" width="1.4" height="1" fill="#b09090"/>
<rect x="611.7" y="176.3" width="0.7" height="0.9" fill="#b09090"/>
<rect x="620.5" y="115.9" width="1.3" height="1" fill="#b09090"/>
<rect x="615.3" y="103.4" width="1.2" height="1.3" fill="#ffffff"/>
<rect x="624.7" y="137.4" width="1.7" height="0.9" fill="#b09090"/>
<rect x="619.8" y="121.7" width="0.8" height="1" fill="#ffffff"/>
<rect x="614.9" y="154.6" width="1.9" height="1.5" fill="#b09090"/>
<rect x="621.7" y="117.5" width="1.1" height="0.8" fill="#ffffff"/>
<rect x="615.9" y="131.2" width="1.1" height="1.1" fill="#ffffff"/>
<rect x="623.3" y="178.2" width="1.8" height="1.1" fill="#8a2a1a"/>
<rect x="608.2" y="110.1" width="1.5" height="1.3" fill="#b09090"/>
<rect x="611.5" y="185.4" width="1.8" height="1" fill="#ffffff"/>
<rect x="623.2" y="136.9" width="0.9" height="1.4" fill="#b09090"/>
<rect x="616.3" y="105.9" width="1.1" height="1.2" fill="#b09090"/>
<rect x="624.8" y="133.4" width="0.9" height="1.4" fill="#b09090"/>
<rect x="607" y="126.5" width="0.9" height="0.7" fill="#ffffff"/>
<rect x="609.6" y="151.8" width="1.4" height="0.9" fill="#ffffff"/>
<rect x="609.5" y="178.8" width="1.9" height="0.9" fill="#b09090"/>
<rect x="607.3" y="151" width="1.4" height="1.5" fill="#ffffff"/>
<rect x="616.4" y="107" width="1" height="1" fill="#8a2a1a"/>
<rect x="623.6" y="96.5" width="1" height="1" fill="#8a2a1a"/>
<rect x="610.5" y="178.9" width="1" height="1.2" fill="#8a2a1a"/>
<rect x="618.7" y="145.9" width="1.4" height="1" fill="#8a2a1a"/>
<rect x="621.3" y="142" width="2" height="0.7" fill="#8a2a1a"/>
<rect x="615.4" y="153.7" width="0.9" height="1.2" fill="#8a2a1a"/>
<rect x="617.1" y="132.9" width="1.7" height="0.8" fill="#b09090"/>
<rect x="621" y="168.3" width="1.9" height="1.5" fill="#b09090"/>
<rect x="615.4" y="115.8" width="0.7" height="0.8" fill="#ffffff"/>
<rect x="609" y="95.5" width="1.2" height="1.1" fill="#b09090"/>
<rect x="616.5" y="191.2" width="0.9" height="1.2" fill="#8a2a1a"/>
<rect x="607" y="123.4" width="1.4" height="0.9" fill="#8a2a1a"/>
<rect x="613.2" y="127.9" width="1.5" height="1.2" fill="#b09090"/>
<rect x="621" y="155.6" width="1.6" height="1.5" fill="#b09090"/>
<rect x="619.1" y="147.1" width="1.1" height="1" fill="#ffffff"/>
<rect x="612.8" y="135.9" width="1.9" height="1" fill="#8a2a1a"/>
<rect x="602.5" y="192.8" width="1" height="1.2" fill="#b09090"/>
<rect x="614.2" y="117.8" width="1.7" height="1.1" fill="#b09090"/>
<rect x="621.9" y="100.7" width="1.2" height="1.5" fill="#b09090"/>
<rect x="619.6" y="161.2" width="1.3" height="1.1" fill="#ffffff"/>
<rect x="617" y="101.6" width="0.9" height="0.9" fill="#ffffff"/>
<rect x="620" y="170.5" width="1.6" height="1.5" fill="#b09090"/>
<rect x="617.1" y="108.1" width="1.3" height="1.3" fill="#ffffff"/>
<rect x="611.3" y="124.5" width="1" height="1.6" fill="#ffffff"/>
<rect x="619.4" y="167.8" width="1.1" height="0.8" fill="#b09090"/>
<rect x="616" y="148.9" width="0.9" height="0.8" fill="#ffffff"/>
<rect x="606" y="156.2" width="1.5" height="1.3" fill="#ffffff"/>
<rect x="611.1" y="177.9" width="0.9" height="1.4" fill="#ffffff"/>
<rect x="603.3" y="182.2" width="1.3" height="1.4" fill="#8a2a1a"/>
<rect x="616.8" y="179.5" width="1" height="1.5" fill="#b09090"/>
<rect x="618.1" y="107.9" width="1.2" height="1.5" fill="#ffffff"/>
<rect x="618.5" y="106.8" width="0.9" height="1" fill="#b09090"/>
<rect x="611.9" y="167" width="0.8" height="0.9" fill="#8a2a1a"/>
<rect x="618.1" y="190.1" width="1.4" height="0.7" fill="#ffffff"/>
<rect x="620.5" y="117.3" width="0.8" height="1.5" fill="#8a2a1a"/>
<rect x="618.3" y="179.5" width="0.9" height="1.3" fill="#8a2a1a"/>
<rect x="613.6" y="174" width="1.8" height="1.5" fill="#ffffff"/>
<rect x="611.5" y="168" width="1.8" height="0.9" fill="#b09090"/>
<rect x="614" y="117" width="1" height="1.6" fill="#b09090"/>
<rect x="615.4" y="129.1" width="1.3" height="1.3" fill="#b09090"/>
<rect x="614.1" y="110.7" width="1.3" height="1.5" fill="#8a2a1a"/>
<rect x="608.3" y="169.9" width="1.3" height="0.9" fill="#ffffff"/>
<rect x="621.4" y="114.4" width="1.6" height="1" fill="#ffffff"/>
<rect x="611" y="129.2" width="0.9" height="1" fill="#ffffff"/>
<rect x="612.3" y="174.1" width="1.8" height="1" fill="#ffffff"/>
<rect x="617.2" y="153.9" width="1.5" height="0.8" fill="#ffffff"/>
<rect x="611.7" y="179.6" width="1.7" height="1.3" fill="#8a2a1a"/>
<rect x="614.9" y="161" width="1.9" height="0.9" fill="#ffffff"/>
<rect x="608.3" y="111.9" width="1.9" height="1" fill="#8a2a1a"/>
<rect x="613.9" y="109.6" width="0.9" height="1.2" fill="#ffffff"/>
<rect x="608.4" y="152.5" width="1" height="1.3" fill="#8a2a1a"/>
<rect x="622.3" y="96.6" width="1.9" height="0.9" fill="#ffffff"/>
<rect x="623.2" y="158.3" width="0.8" height="1.1" fill="#b09090"/>
<rect x="618.7" y="153.3" width="1.9" height="0.9" fill="#b09090"/>
<rect x="613.5" y="142" width="0.8" height="1.3" fill="#b09090"/>
<rect x="608.2" y="149" width="1.7" height="0.8" fill="#ffffff"/>
<rect x="609.4" y="115.2" width="1" height="1.5" fill="#b09090"/>
<rect x="615.9" y="119.5" width="1.1" height="1.1" fill="#b09090"/>
<rect x="610.5" y="181.1" width="1.2" height="1.4" fill="#ffffff"/>
<rect x="607" y="168.5" width="1.3" height="1.1" fill="#ffffff"/>
<rect x="624.9" y="115.5" width="0.7" height="1.4" fill="#8a2a1a"/>
<rect x="619" y="147.3" width="1" height="1.1" fill="#8a2a1a"/>
<rect x="619.5" y="152.3" width="1.4" height="1.4" fill="#b09090"/>
<rect x="608.9" y="134.8" width="1.9" height="1.1" fill="#ffffff"/>
<rect x="617.3" y="140.2" width="1.4" height="0.9" fill="#ffffff"/>
<rect x="605.9" y="131.2" width="1.8" height="1.6" fill="#ffffff"/>
<rect x="610.9" y="142.8" width="0.9" height="0.9" fill="#ffffff"/>
<rect x="622.9" y="137.5" width="1.5" height="1.5" fill="#ffffff"/>
<rect x="618.9" y="159.4" width="1.6" height="0.7" fill="#8a2a1a"/>
<rect x="620.3" y="145.9" width="1" height="0.8" fill="#ffffff"/>
<rect x="619.4" y="123.1" width="1.7" height="1" fill="#ffffff"/>
<rect x="615" y="28.4" width="1.2" height="1.5" fill="#ffffff"/>
<rect x="614.9" y="83.9" width="1.2" height="1.5" fill="#ffffff"/>
<rect x="615.3" y="47.6" width="1.2" height="1.5" fill="#ffffff"/>
<rect x="614.2" y="35.5" width="1.2" height="1.5" fill="#ffffff"/>
<rect x="613.3" y="50.6" width="1.2" height="1.5" fill="#ffffff"/>
<rect x="614.6" y="31.8" width="1.2" height="1.5" fill="#ffffff"/>
<rect x="613.3" y="85.9" width="1.2" height="1.5" fill="#ffffff"/>
<rect x="613.9" y="48.5" width="1.2" height="1.5" fill="#ffffff"/>
<rect x="613.5" y="86" width="1.2" height="1.5" fill="#ffffff"/>
<rect x="614.2" y="44.6" width="1.2" height="1.5" fill="#ffffff"/>
<rect x="613.1" y="49.2" width="1.2" height="1.5" fill="#ffffff"/>
<rect x="612.8" y="72.3" width="1.2" height="1.5" fill="#ffffff"/>
<rect x="613.9" y="26.7" width="1.2" height="1.5" fill="#ffffff"/>
<rect x="614.4" y="52.7" width="1.2" height="1.5" fill="#ffffff"/>
<rect x="614.4" y="52.2" width="1.2" height="1.5" fill="#ffffff"/>
<rect x="613.6" y="72.8" width="1.2" height="1.5" fill="#ffffff"/>
<rect x="613.9" y="57.2" width="1.2" height="1.5" fill="#ffffff"/>
<rect x="614.5" y="51.2" width="1.2" height="1.5" fill="#ffffff"/>
<rect x="615.6" y="39.2" width="1.2" height="1.5" fill="#ffffff"/>
<rect x="613.4" y="59.9" width="1.2" height="1.5" fill="#ffffff"/>
<rect x="613.8" y="52.4" width="1.2" height="1.5" fill="#ffffff"/>
<rect x="614.1" y="82.6" width="1.2" height="1.5" fill="#ffffff"/>
<rect x="613" y="67.3" width="1.5" height="1.2" fill="#ffffff"/>
<rect x="610.6" y="68.4" width="1.5" height="1.2" fill="#ffffff"/>
<rect x="619.2" y="71.3" width="1.5" height="1.2" fill="#ffffff"/>
<rect x="617.2" y="71.1" width="1.5" height="1.2" fill="#ffffff"/>
<rect x="610.2" y="69.3" width="1.5" height="1.2" fill="#ffffff"/>
<rect x="614.7" y="70.7" width="1.5" height="1.2" fill="#ffffff"/>
<rect x="610.2" y="70.8" width="1.5" height="1.2" fill="#ffffff"/>
<rect x="610.8" y="71.2" width="1.5" height="1.2" fill="#ffffff"/>
<rect x="610.9" y="70.8" width="1.5" height="1.2" fill="#ffffff"/>
<rect x="611.4" y="72.3" width="1.5" height="1.2" fill="#ffffff"/>
<rect x="506.6" y="17.6" width="119.2" height="178.5" fill="none" stroke="#151515" stroke-width="1.5"/>
<text x="540" y="73.5" font-family="'Liberation Sans', sans-serif" font-size="9.5" font-weight="bold" text-anchor="middle" fill="#ffe0c0">(002)</text>
<text x="593.9" y="73.5" font-family="'Liberation Sans', sans-serif" font-size="9.5" font-weight="bold" text-anchor="middle" fill="#ffe8e0">BZS</text>
<line x1="506.6" y1="196.1" x2="506.6" y2="199.1" stroke="#222" stroke-width="1"/>
<text x="506.6" y="209.6" font-family="'Liberation Serif', serif" font-size="10" font-weight="bold" text-anchor="middle" fill="#111">4.8</text>
<line x1="530.4" y1="196.1" x2="530.4" y2="199.1" stroke="#222" stroke-width="1"/>
<text x="530.4" y="209.6" font-family="'Liberation Serif', serif" font-size="10" font-weight="bold" text-anchor="middle" fill="#111">5.1</text>
<line x1="554.3" y1="196.1" x2="554.3" y2="199.1" stroke="#222" stroke-width="1"/>
<text x="554.3" y="209.6" font-family="'Liberation Serif', serif" font-size="10" font-weight="bold" text-anchor="middle" fill="#111">5.4</text>
<line x1="578.1" y1="196.1" x2="578.1" y2="199.1" stroke="#222" stroke-width="1"/>
<text x="578.1" y="209.6" font-family="'Liberation Serif', serif" font-size="10" font-weight="bold" text-anchor="middle" fill="#111">5.7</text>
<line x1="602" y1="196.1" x2="602" y2="199.1" stroke="#222" stroke-width="1"/>
<text x="602" y="209.6" font-family="'Liberation Serif', serif" font-size="10" font-weight="bold" text-anchor="middle" fill="#111">6.0</text>
<line x1="625.8" y1="196.1" x2="625.8" y2="199.1" stroke="#222" stroke-width="1"/>
<text x="625.8" y="209.6" font-family="'Liberation Serif', serif" font-size="10" font-weight="bold" text-anchor="middle" fill="#111">6.3</text>
<rect x="628.8" y="34.3" width="10.9" height="3" fill="#ffffff"/>
<rect x="628.8" y="37.3" width="10.9" height="3.3" fill="#eb1200"/>
<rect x="628.8" y="40" width="10.9" height="3.3" fill="#ee1f00"/>
<rect x="628.8" y="42.6" width="10.9" height="3.3" fill="#f22d00"/>
<rect x="628.8" y="45.3" width="10.9" height="3.3" fill="#f63b00"/>
<rect x="628.8" y="47.9" width="10.9" height="3.3" fill="#fa4800"/>
<rect x="628.8" y="50.6" width="10.9" height="3.3" fill="#fe5600"/>
<rect x="628.8" y="53.2" width="10.9" height="3.3" fill="#fe6300"/>
<rect x="628.8" y="55.9" width="10.9" height="3.3" fill="#fe6f00"/>
<rect x="628.8" y="58.5" width="10.9" height="3.3" fill="#fd7b00"/>
<rect x="628.8" y="61.2" width="10.9" height="3.3" fill="#fd8700"/>
<rect x="628.8" y="63.9" width="10.9" height="3.3" fill="#fd9400"/>
<rect x="628.8" y="66.5" width="10.9" height="3.3" fill="#fca000"/>
<rect x="628.8" y="69.2" width="10.9" height="3.3" fill="#fcac00"/>
<rect x="628.8" y="71.8" width="10.9" height="3.3" fill="#fcb800"/>
<rect x="628.8" y="74.5" width="10.9" height="3.3" fill="#fbc400"/>
<rect x="628.8" y="77.1" width="10.9" height="3.3" fill="#fbd100"/>
<rect x="628.8" y="79.8" width="10.9" height="3.3" fill="#fadd00"/>
<rect x="628.8" y="82.4" width="10.9" height="3.3" fill="#fae900"/>
<rect x="628.8" y="85.1" width="10.9" height="3.3" fill="#faf500"/>
<rect x="628.8" y="87.7" width="10.9" height="3.3" fill="#effa09"/>
<rect x="628.8" y="90.4" width="10.9" height="3.3" fill="#defb19"/>
<rect x="628.8" y="93.1" width="10.9" height="3.3" fill="#cefb28"/>
<rect x="628.8" y="95.7" width="10.9" height="3.3" fill="#bdfc37"/>
<rect x="628.8" y="98.4" width="10.9" height="3.3" fill="#adfc46"/>
<rect x="628.8" y="101" width="10.9" height="3.3" fill="#9cfd56"/>
<rect x="628.8" y="103.7" width="10.9" height="3.3" fill="#8cfe65"/>
<rect x="628.8" y="106.3" width="10.9" height="3.3" fill="#7bfe74"/>
<rect x="628.8" y="109" width="10.9" height="3.3" fill="#6efd82"/>
<rect x="628.8" y="111.6" width="10.9" height="3.3" fill="#62fa90"/>
<rect x="628.8" y="114.3" width="10.9" height="3.3" fill="#56f79e"/>
<rect x="628.8" y="117" width="10.9" height="3.3" fill="#49f5ab"/>
<rect x="628.8" y="119.6" width="10.9" height="3.3" fill="#3df2b9"/>
<rect x="628.8" y="122.3" width="10.9" height="3.3" fill="#31f0c7"/>
<rect x="628.8" y="124.9" width="10.9" height="3.3" fill="#25edd5"/>
<rect x="628.8" y="127.6" width="10.9" height="3.3" fill="#19ebe2"/>
<rect x="628.8" y="130.2" width="10.9" height="3.3" fill="#0ce8f0"/>
<rect x="628.8" y="132.9" width="10.9" height="3.3" fill="#00e6fe"/>
<rect x="628.8" y="135.5" width="10.9" height="3.3" fill="#00d8ff"/>
<rect x="628.8" y="138.2" width="10.9" height="3.3" fill="#00caff"/>
<rect x="628.8" y="140.8" width="10.9" height="3.3" fill="#00bcff"/>
<rect x="628.8" y="143.5" width="10.9" height="3.3" fill="#00aeff"/>
<rect x="628.8" y="146.2" width="10.9" height="3.3" fill="#00a0ff"/>
<rect x="628.8" y="148.8" width="10.9" height="3.3" fill="#0092ff"/>
<rect x="628.8" y="151.5" width="10.9" height="3.3" fill="#0084ff"/>
<rect x="628.8" y="154.1" width="10.9" height="3.3" fill="#0076ff"/>
<rect x="628.8" y="156.8" width="10.9" height="3.3" fill="#0068ff"/>
<rect x="628.8" y="159.4" width="10.9" height="3.3" fill="#005aff"/>
<rect x="628.8" y="162.1" width="10.9" height="3.3" fill="#004cff"/>
<rect x="628.8" y="164.7" width="10.9" height="3.3" fill="#003eff"/>
<rect x="628.8" y="167.4" width="10.9" height="3.3" fill="#0030ff"/>
<rect x="628.8" y="170.1" width="10.9" height="3.3" fill="#0022ff"/>
<rect x="628.8" y="172.7" width="10.9" height="3.3" fill="#0014ff"/>
<rect x="628.8" y="175.4" width="10.9" height="3.3" fill="#0006ff"/>
<rect x="628.8" y="178" width="10.9" height="3.3" fill="#0000f2"/>
<rect x="628.8" y="180.7" width="10.9" height="3.3" fill="#0000dc"/>
<rect x="628.8" y="183.3" width="10.9" height="3.3" fill="#0000c6"/>
<rect x="628.8" y="186" width="10.9" height="3.3" fill="#0000b0"/>
<rect x="628.8" y="188.6" width="10.9" height="3.3" fill="#00009a"/>
<rect x="628.8" y="191.3" width="10.9" height="3.3" fill="#000084"/>
<rect x="628.8" y="193.9" width="10.9" height="3.3" fill="#00006e"/>
<rect x="628.8" y="34.3" width="10.9" height="162.3" fill="none" stroke="#222" stroke-width="0.8"/>
<line x1="639.7" y1="37.3" x2="641.7" y2="37.3" stroke="#222" stroke-width="0.8"/>
<text x="642.7" y="39.8" font-family="'Liberation Sans', sans-serif" font-size="6.8" font-weight="bold" text-anchor="start" fill="#222">2040</text>
<line x1="639.7" y1="57.2" x2="641.7" y2="57.2" stroke="#222" stroke-width="0.8"/>
<text x="642.7" y="59.7" font-family="'Liberation Sans', sans-serif" font-size="6.8" font-weight="bold" text-anchor="start" fill="#222">1903</text>
<line x1="639.7" y1="77.1" x2="641.7" y2="77.1" stroke="#222" stroke-width="0.8"/>
<text x="642.7" y="79.6" font-family="'Liberation Sans', sans-serif" font-size="6.8" font-weight="bold" text-anchor="start" fill="#222">1765</text>
<line x1="639.7" y1="97" x2="641.7" y2="97" stroke="#222" stroke-width="0.8"/>
<text x="642.7" y="99.5" font-family="'Liberation Sans', sans-serif" font-size="6.8" font-weight="bold" text-anchor="start" fill="#222">1628</text>
<line x1="639.7" y1="117" x2="641.7" y2="117" stroke="#222" stroke-width="0.8"/>
<text x="642.7" y="119.5" font-family="'Liberation Sans', sans-serif" font-size="6.8" font-weight="bold" text-anchor="start" fill="#222">1490</text>
<line x1="639.7" y1="136.9" x2="641.7" y2="136.9" stroke="#222" stroke-width="0.8"/>
<text x="642.7" y="139.4" font-family="'Liberation Sans', sans-serif" font-size="6.8" font-weight="bold" text-anchor="start" fill="#222">1353</text>
<line x1="639.7" y1="156.8" x2="641.7" y2="156.8" stroke="#222" stroke-width="0.8"/>
<text x="642.7" y="159.3" font-family="'Liberation Sans', sans-serif" font-size="6.8" font-weight="bold" text-anchor="start" fill="#222">1215</text>
<line x1="639.7" y1="176.7" x2="641.7" y2="176.7" stroke="#222" stroke-width="0.8"/>
<text x="642.7" y="179.2" font-family="'Liberation Sans', sans-serif" font-size="6.8" font-weight="bold" text-anchor="start" fill="#222">1078</text>
<line x1="639.7" y1="196.6" x2="641.7" y2="196.6" stroke="#222" stroke-width="0.8"/>
<text x="642.7" y="199.1" font-family="'Liberation Sans', sans-serif" font-size="6.8" font-weight="bold" text-anchor="start" fill="#222">940.0</text>
<text x="643.2" y="22" font-family="'Liberation Serif', serif" font-size="7.2" font-weight="bold" text-anchor="middle" fill="#222">Intensity</text>
<text x="643.2" y="31.8" font-family="'Liberation Serif', serif" font-size="7.2" font-weight="bold" text-anchor="middle" fill="#222">(N)</text>
<text x="490" y="31" font-family="'Liberation Serif', serif" font-size="22" font-weight="bold" text-anchor="start" fill="#111">d</text>
<polygon points="702,47 728,21 913,21 887,47" fill="#e2ecf6"/>
<rect x="702" y="47" width="185" height="116.7" fill="#d6e4f2"/>
<polygon points="887,47 913,21 913,134 887,163.7" fill="#d0e0f0"/>
<rect x="742" y="21" width="171" height="113" fill="#dde9f5" opacity="0.5"/>
<polygon points="702.5,47 728.5,21 742,21 716,47" fill="#78a6dc"/>
<polygon points="716,47 742,21 742,134 716,163.7" fill="#9cbde4" opacity="0.9"/>
<rect x="702.5" y="47" width="13.5" height="116.7" fill="#5088d0"/>
<polygon points="795,48 823,21 823,134 795,163.7" fill="#8f9eae"/>
<polygon points="819,25 823,21 823,134 819,138" fill="#a8b6c4"/>
<text x="819.5" y="92.5" font-family="'Liberation Serif', serif" font-size="14" font-weight="bold" text-anchor="middle" fill="#eef2f6" transform="rotate(-90 819.5 92.5)">Seperator</text>
<polygon points="871,47 897,21 913,21 887,47" fill="#f2c4a0"/>
<polygon points="887,47 913,21 913,134 887,163.7" fill="#d8a07a"/>
<rect x="871" y="47" width="16" height="116.7" fill="#eeb48a"/>
<circle cx="752" cy="52" r="3.2" fill="url(#bg_3cc8d0)"/>
<circle cx="766" cy="66" r="3.6" fill="url(#bg_3cc8d0)"/>
<circle cx="776" cy="84" r="4.4" fill="url(#bg_3cc8d0)"/>
<circle cx="755" cy="112" r="3.4" fill="url(#bg_3cc8d0)"/>
<circle cx="778" cy="130" r="3.2" fill="url(#bg_3cc8d0)"/>
<circle cx="803" cy="112" r="3" fill="url(#bg_3cc8d0)"/>
<circle cx="838" cy="54" r="3.6" fill="url(#bg_3cc8d0)"/>
<circle cx="843" cy="82" r="4.2" fill="url(#bg_3cc8d0)"/>
<circle cx="836" cy="115" r="4.2" fill="url(#bg_3cc8d0)"/>
<circle cx="742" cy="90" r="3.2" fill="url(#bg_3cc8d0)"/>
<circle cx="722" cy="132" r="3.6" fill="url(#bg_3cc8d0)"/>
<circle cx="789" cy="60" r="2.2" fill="url(#bg_e8eef4)"/>
<circle cx="811" cy="70" r="2.2" fill="url(#bg_e8eef4)"/>
<circle cx="812" cy="124" r="2.2" fill="url(#bg_e8eef4)"/>
<circle cx="833" cy="98" r="2.2" fill="url(#bg_e8eef4)"/>
<circle cx="787" cy="128" r="2.2" fill="url(#bg_e8eef4)"/>
<circle cx="830" cy="112" r="2.2" fill="url(#bg_e8eef4)"/>
<circle cx="773" cy="117" r="2.2" fill="url(#bg_e8eef4)"/>
<circle cx="730" cy="114" r="2.2" fill="url(#bg_e8eef4)"/>
<circle cx="754" cy="80" r="2.2" fill="url(#bg_e8eef4)"/>
<circle cx="817" cy="112" r="3" fill="url(#bg_3cc8d0)"/>
<circle cx="686.5" cy="52" r="2.2" fill="url(#bg_2e4eb0)"/>
<circle cx="700.5" cy="52" r="2.2" fill="url(#bg_2e4eb0)"/>
<line x1="686.5" y1="52" x2="693.5" y2="57" stroke="#b8a0a8" stroke-width="0.8"/>
<line x1="700.5" y1="52" x2="693.5" y2="57" stroke="#b8a0a8" stroke-width="0.8"/>
<line x1="686.5" y1="63" x2="693.5" y2="57" stroke="#b8a0a8" stroke-width="0.8"/>
<line x1="700.5" y1="63" x2="693.5" y2="57" stroke="#b8a0a8" stroke-width="0.8"/>
<circle cx="693.5" cy="57" r="2.8" fill="url(#bg_5cb04c)"/>
<circle cx="686.5" cy="63.8" r="2.2" fill="url(#bg_2e4eb0)"/>
<circle cx="700.5" cy="63.8" r="2.2" fill="url(#bg_2e4eb0)"/>
<line x1="686.5" y1="63.8" x2="693.5" y2="68.8" stroke="#b8a0a8" stroke-width="0.8"/>
<line x1="700.5" y1="63.8" x2="693.5" y2="68.8" stroke="#b8a0a8" stroke-width="0.8"/>
<line x1="686.5" y1="74.8" x2="693.5" y2="68.8" stroke="#b8a0a8" stroke-width="0.8"/>
<line x1="700.5" y1="74.8" x2="693.5" y2="68.8" stroke="#b8a0a8" stroke-width="0.8"/>
<circle cx="693.5" cy="68.8" r="2.8" fill="url(#bg_5cb04c)"/>
<circle cx="686.5" cy="75.6" r="2.2" fill="url(#bg_2e4eb0)"/>
<circle cx="700.5" cy="75.6" r="2.2" fill="url(#bg_2e4eb0)"/>
<line x1="686.5" y1="75.6" x2="693.5" y2="80.6" stroke="#b8a0a8" stroke-width="0.8"/>
<line x1="700.5" y1="75.6" x2="693.5" y2="80.6" stroke="#b8a0a8" stroke-width="0.8"/>
<line x1="686.5" y1="86.6" x2="693.5" y2="80.6" stroke="#b8a0a8" stroke-width="0.8"/>
<line x1="700.5" y1="86.6" x2="693.5" y2="80.6" stroke="#b8a0a8" stroke-width="0.8"/>
<circle cx="693.5" cy="80.6" r="2.8" fill="url(#bg_5cb04c)"/>
<circle cx="687.5" cy="92.4" r="2.6" fill="#ffffff" stroke="#9aa" stroke-width="0.8"/>
<circle cx="686.5" cy="87.4" r="2.2" fill="url(#bg_2e4eb0)"/>
<circle cx="700.5" cy="87.4" r="2.2" fill="url(#bg_2e4eb0)"/>
<line x1="686.5" y1="87.4" x2="693.5" y2="92.4" stroke="#b8a0a8" stroke-width="0.8"/>
<line x1="700.5" y1="87.4" x2="693.5" y2="92.4" stroke="#b8a0a8" stroke-width="0.8"/>
<line x1="686.5" y1="98.4" x2="693.5" y2="92.4" stroke="#b8a0a8" stroke-width="0.8"/>
<line x1="700.5" y1="98.4" x2="693.5" y2="92.4" stroke="#b8a0a8" stroke-width="0.8"/>
<circle cx="693.5" cy="92.4" r="2.8" fill="url(#bg_5cb04c)"/>
<circle cx="686.5" cy="99.2" r="2.2" fill="url(#bg_2e4eb0)"/>
<circle cx="700.5" cy="99.2" r="2.2" fill="url(#bg_2e4eb0)"/>
<line x1="686.5" y1="99.2" x2="693.5" y2="104.2" stroke="#b8a0a8" stroke-width="0.8"/>
<line x1="700.5" y1="99.2" x2="693.5" y2="104.2" stroke="#b8a0a8" stroke-width="0.8"/>
<line x1="686.5" y1="110.2" x2="693.5" y2="104.2" stroke="#b8a0a8" stroke-width="0.8"/>
<line x1="700.5" y1="110.2" x2="693.5" y2="104.2" stroke="#b8a0a8" stroke-width="0.8"/>
<circle cx="693.5" cy="104.2" r="2.8" fill="url(#bg_5cb04c)"/>
<circle cx="686.5" cy="111" r="2.2" fill="url(#bg_2e4eb0)"/>
<circle cx="700.5" cy="111" r="2.2" fill="url(#bg_2e4eb0)"/>
<line x1="686.5" y1="111" x2="693.5" y2="116" stroke="#b8a0a8" stroke-width="0.8"/>
<line x1="700.5" y1="111" x2="693.5" y2="116" stroke="#b8a0a8" stroke-width="0.8"/>
<line x1="686.5" y1="122" x2="693.5" y2="116" stroke="#b8a0a8" stroke-width="0.8"/>
<line x1="700.5" y1="122" x2="693.5" y2="116" stroke="#b8a0a8" stroke-width="0.8"/>
<circle cx="693.5" cy="116" r="2.8" fill="url(#bg_5cb04c)"/>
<circle cx="686.5" cy="122.8" r="2.2" fill="url(#bg_2e4eb0)"/>
<circle cx="700.5" cy="122.8" r="2.2" fill="url(#bg_2e4eb0)"/>
<line x1="686.5" y1="122.8" x2="693.5" y2="127.8" stroke="#b8a0a8" stroke-width="0.8"/>
<line x1="700.5" y1="122.8" x2="693.5" y2="127.8" stroke="#b8a0a8" stroke-width="0.8"/>
<line x1="686.5" y1="133.8" x2="693.5" y2="127.8" stroke="#b8a0a8" stroke-width="0.8"/>
<line x1="700.5" y1="133.8" x2="693.5" y2="127.8" stroke="#b8a0a8" stroke-width="0.8"/>
<circle cx="693.5" cy="127.8" r="2.8" fill="url(#bg_5cb04c)"/>
<circle cx="686.5" cy="134.6" r="2.2" fill="url(#bg_2e4eb0)"/>
<circle cx="700.5" cy="134.6" r="2.2" fill="url(#bg_2e4eb0)"/>
<line x1="686.5" y1="134.6" x2="693.5" y2="139.6" stroke="#b8a0a8" stroke-width="0.8"/>
<line x1="700.5" y1="134.6" x2="693.5" y2="139.6" stroke="#b8a0a8" stroke-width="0.8"/>
<line x1="686.5" y1="145.6" x2="693.5" y2="139.6" stroke="#b8a0a8" stroke-width="0.8"/>
<line x1="700.5" y1="145.6" x2="693.5" y2="139.6" stroke="#b8a0a8" stroke-width="0.8"/>
<circle cx="693.5" cy="139.6" r="2.8" fill="url(#bg_5cb04c)"/>
<circle cx="686.5" cy="146.4" r="2.2" fill="url(#bg_2e4eb0)"/>
<circle cx="700.5" cy="146.4" r="2.2" fill="url(#bg_2e4eb0)"/>
<circle cx="727.3" cy="52" r="2.2" fill="url(#bg_2e4eb0)"/>
<circle cx="741.3" cy="52" r="2.2" fill="url(#bg_2e4eb0)"/>
<line x1="727.3" y1="52" x2="734.3" y2="57" stroke="#b8a0a8" stroke-width="0.8"/>
<line x1="741.3" y1="52" x2="734.3" y2="57" stroke="#b8a0a8" stroke-width="0.8"/>
<line x1="727.3" y1="63" x2="734.3" y2="57" stroke="#b8a0a8" stroke-width="0.8"/>
<line x1="741.3" y1="63" x2="734.3" y2="57" stroke="#b8a0a8" stroke-width="0.8"/>
<circle cx="734.3" cy="57" r="2.8" fill="url(#bg_5cb04c)"/>
<circle cx="727.3" cy="63.8" r="2.2" fill="url(#bg_2e4eb0)"/>
<circle cx="741.3" cy="63.8" r="2.2" fill="url(#bg_2e4eb0)"/>
<line x1="727.3" y1="63.8" x2="734.3" y2="68.8" stroke="#b8a0a8" stroke-width="0.8"/>
<line x1="741.3" y1="63.8" x2="734.3" y2="68.8" stroke="#b8a0a8" stroke-width="0.8"/>
<line x1="727.3" y1="74.8" x2="734.3" y2="68.8" stroke="#b8a0a8" stroke-width="0.8"/>
<line x1="741.3" y1="74.8" x2="734.3" y2="68.8" stroke="#b8a0a8" stroke-width="0.8"/>
<circle cx="734.3" cy="68.8" r="2.8" fill="url(#bg_5cb04c)"/>
<circle cx="727.3" cy="75.6" r="2.2" fill="url(#bg_2e4eb0)"/>
<circle cx="741.3" cy="75.6" r="2.2" fill="url(#bg_2e4eb0)"/>
<line x1="727.3" y1="75.6" x2="734.3" y2="80.6" stroke="#b8a0a8" stroke-width="0.8"/>
<line x1="741.3" y1="75.6" x2="734.3" y2="80.6" stroke="#b8a0a8" stroke-width="0.8"/>
<line x1="727.3" y1="86.6" x2="734.3" y2="80.6" stroke="#b8a0a8" stroke-width="0.8"/>
<line x1="741.3" y1="86.6" x2="734.3" y2="80.6" stroke="#b8a0a8" stroke-width="0.8"/>
<circle cx="734.3" cy="80.6" r="2.8" fill="url(#bg_5cb04c)"/>
<circle cx="727.3" cy="87.4" r="2.2" fill="url(#bg_2e4eb0)"/>
<circle cx="741.3" cy="87.4" r="2.2" fill="url(#bg_2e4eb0)"/>
<line x1="727.3" y1="87.4" x2="734.3" y2="92.4" stroke="#b8a0a8" stroke-width="0.8"/>
<line x1="741.3" y1="87.4" x2="734.3" y2="92.4" stroke="#b8a0a8" stroke-width="0.8"/>
<line x1="727.3" y1="98.4" x2="734.3" y2="92.4" stroke="#b8a0a8" stroke-width="0.8"/>
<line x1="741.3" y1="98.4" x2="734.3" y2="92.4" stroke="#b8a0a8" stroke-width="0.8"/>
<circle cx="734.3" cy="92.4" r="2.8" fill="url(#bg_5cb04c)"/>
<circle cx="727.3" cy="99.2" r="2.2" fill="url(#bg_2e4eb0)"/>
<circle cx="741.3" cy="99.2" r="2.2" fill="url(#bg_2e4eb0)"/>
<line x1="727.3" y1="99.2" x2="734.3" y2="104.2" stroke="#b8a0a8" stroke-width="0.8"/>
<line x1="741.3" y1="99.2" x2="734.3" y2="104.2" stroke="#b8a0a8" stroke-width="0.8"/>
<line x1="727.3" y1="110.2" x2="734.3" y2="104.2" stroke="#b8a0a8" stroke-width="0.8"/>
<line x1="741.3" y1="110.2" x2="734.3" y2="104.2" stroke="#b8a0a8" stroke-width="0.8"/>
<circle cx="734.3" cy="104.2" r="2.8" fill="url(#bg_5cb04c)"/>
<circle cx="727.3" cy="111" r="2.2" fill="url(#bg_2e4eb0)"/>
<circle cx="741.3" cy="111" r="2.2" fill="url(#bg_2e4eb0)"/>
<line x1="727.3" y1="111" x2="734.3" y2="116" stroke="#b8a0a8" stroke-width="0.8"/>
<line x1="741.3" y1="111" x2="734.3" y2="116" stroke="#b8a0a8" stroke-width="0.8"/>
<line x1="727.3" y1="122" x2="734.3" y2="116" stroke="#b8a0a8" stroke-width="0.8"/>
<line x1="741.3" y1="122" x2="734.3" y2="116" stroke="#b8a0a8" stroke-width="0.8"/>
<circle cx="734.3" cy="116" r="2.8" fill="url(#bg_5cb04c)"/>
<circle cx="727.3" cy="122.8" r="2.2" fill="url(#bg_2e4eb0)"/>
<circle cx="741.3" cy="122.8" r="2.2" fill="url(#bg_2e4eb0)"/>
<line x1="727.3" y1="122.8" x2="734.3" y2="127.8" stroke="#b8a0a8" stroke-width="0.8"/>
<line x1="741.3" y1="122.8" x2="734.3" y2="127.8" stroke="#b8a0a8" stroke-width="0.8"/>
<line x1="727.3" y1="133.8" x2="734.3" y2="127.8" stroke="#b8a0a8" stroke-width="0.8"/>
<line x1="741.3" y1="133.8" x2="734.3" y2="127.8" stroke="#b8a0a8" stroke-width="0.8"/>
<circle cx="734.3" cy="127.8" r="2.8" fill="url(#bg_5cb04c)"/>
<circle cx="727.3" cy="134.6" r="2.2" fill="url(#bg_2e4eb0)"/>
<circle cx="741.3" cy="134.6" r="2.2" fill="url(#bg_2e4eb0)"/>
<line x1="727.3" y1="134.6" x2="734.3" y2="139.6" stroke="#b8a0a8" stroke-width="0.8"/>
<line x1="741.3" y1="134.6" x2="734.3" y2="139.6" stroke="#b8a0a8" stroke-width="0.8"/>
<line x1="727.3" y1="145.6" x2="734.3" y2="139.6" stroke="#b8a0a8" stroke-width="0.8"/>
<line x1="741.3" y1="145.6" x2="734.3" y2="139.6" stroke="#b8a0a8" stroke-width="0.8"/>
<circle cx="734.3" cy="139.6" r="2.8" fill="url(#bg_5cb04c)"/>
<circle cx="727.3" cy="146.4" r="2.2" fill="url(#bg_2e4eb0)"/>
<circle cx="741.3" cy="146.4" r="2.2" fill="url(#bg_2e4eb0)"/>
<circle cx="686.5" cy="122" r="2.2" fill="url(#bg_b0707a)"/>
<circle cx="733" cy="72" r="2.2" fill="url(#bg_b0707a)"/>
<circle cx="741" cy="128" r="2.2" fill="url(#bg_b0707a)"/>
<line x1="849" y1="67" x2="867" y2="57" stroke="#e8a040" stroke-width="2.4"/>
<line x1="851" y1="57" x2="867" y2="68" stroke="#d89030" stroke-width="2"/>
<line x1="855" y1="70" x2="863" y2="54" stroke="#f0b860" stroke-width="1.6"/>
<circle cx="856" cy="63" r="3" fill="url(#bg_2a2a8a)"/>
<circle cx="862" cy="60" r="3" fill="url(#bg_2a2a8a)"/>
<circle cx="865" cy="69" r="2.7" fill="url(#bg_3cc8d0)"/>
<line x1="867" y1="67" x2="885" y2="57" stroke="#e8a040" stroke-width="2.4"/>
<line x1="869" y1="57" x2="885" y2="68" stroke="#d89030" stroke-width="2"/>
<line x1="873" y1="70" x2="881" y2="54" stroke="#f0b860" stroke-width="1.6"/>
<circle cx="877" cy="61" r="3" fill="url(#bg_2a2a8a)"/>
<circle cx="883" cy="69" r="2.7" fill="url(#bg_3cc8d0)"/>
<line x1="885" y1="67" x2="903" y2="57" stroke="#e8a040" stroke-width="2.4"/>
<line x1="887" y1="57" x2="903" y2="68" stroke="#d89030" stroke-width="2"/>
<line x1="891" y1="70" x2="899" y2="54" stroke="#f0b860" stroke-width="1.6"/>
<circle cx="892" cy="63" r="3" fill="url(#bg_2a2a8a)"/>
<circle cx="898" cy="60" r="3" fill="url(#bg_2a2a8a)"/>
<circle cx="901" cy="69" r="2.7" fill="url(#bg_3cc8d0)"/>
<line x1="903" y1="67" x2="921" y2="57" stroke="#e8a040" stroke-width="2.4"/>
<line x1="905" y1="57" x2="921" y2="68" stroke="#d89030" stroke-width="2"/>
<line x1="909" y1="70" x2="917" y2="54" stroke="#f0b860" stroke-width="1.6"/>
<circle cx="913" cy="61" r="3" fill="url(#bg_2a2a8a)"/>
<circle cx="919" cy="69" r="2.7" fill="url(#bg_3cc8d0)"/>
<line x1="856" y1="86" x2="874" y2="76" stroke="#e8a040" stroke-width="2.4"/>
<line x1="858" y1="76" x2="874" y2="87" stroke="#d89030" stroke-width="2"/>
<line x1="862" y1="89" x2="870" y2="73" stroke="#f0b860" stroke-width="1.6"/>
<circle cx="866" cy="80" r="3" fill="url(#bg_2a2a8a)"/>
<circle cx="872" cy="88" r="2.7" fill="url(#bg_3cc8d0)"/>
<line x1="874" y1="86" x2="892" y2="76" stroke="#e8a040" stroke-width="2.4"/>
<line x1="876" y1="76" x2="892" y2="87" stroke="#d89030" stroke-width="2"/>
<line x1="880" y1="89" x2="888" y2="73" stroke="#f0b860" stroke-width="1.6"/>
<circle cx="881" cy="82" r="3" fill="url(#bg_2a2a8a)"/>
<circle cx="887" cy="79" r="3" fill="url(#bg_2a2a8a)"/>
<circle cx="890" cy="88" r="2.7" fill="url(#bg_3cc8d0)"/>
<line x1="892" y1="86" x2="910" y2="76" stroke="#e8a040" stroke-width="2.4"/>
<line x1="894" y1="76" x2="910" y2="87" stroke="#d89030" stroke-width="2"/>
<line x1="898" y1="89" x2="906" y2="73" stroke="#f0b860" stroke-width="1.6"/>
<circle cx="902" cy="80" r="3" fill="url(#bg_2a2a8a)"/>
<circle cx="908" cy="88" r="2.7" fill="url(#bg_3cc8d0)"/>
<line x1="910" y1="86" x2="928" y2="76" stroke="#e8a040" stroke-width="2.4"/>
<line x1="912" y1="76" x2="928" y2="87" stroke="#d89030" stroke-width="2"/>
<line x1="916" y1="89" x2="924" y2="73" stroke="#f0b860" stroke-width="1.6"/>
<circle cx="917" cy="82" r="3" fill="url(#bg_2a2a8a)"/>
<circle cx="923" cy="79" r="3" fill="url(#bg_2a2a8a)"/>
<circle cx="926" cy="88" r="2.7" fill="url(#bg_3cc8d0)"/>
<line x1="849" y1="105" x2="867" y2="95" stroke="#e8a040" stroke-width="2.4"/>
<line x1="851" y1="95" x2="867" y2="106" stroke="#d89030" stroke-width="2"/>
<line x1="855" y1="108" x2="863" y2="92" stroke="#f0b860" stroke-width="1.6"/>
<circle cx="856" cy="101" r="3" fill="url(#bg_2a2a8a)"/>
<circle cx="862" cy="98" r="3" fill="url(#bg_2a2a8a)"/>
<circle cx="865" cy="107" r="2.7" fill="url(#bg_3cc8d0)"/>
<line x1="867" y1="105" x2="885" y2="95" stroke="#e8a040" stroke-width="2.4"/>
<line x1="869" y1="95" x2="885" y2="106" stroke="#d89030" stroke-width="2"/>
<line x1="873" y1="108" x2="881" y2="92" stroke="#f0b860" stroke-width="1.6"/>
<circle cx="877" cy="99" r="3" fill="url(#bg_2a2a8a)"/>
<circle cx="883" cy="107" r="2.7" fill="url(#bg_3cc8d0)"/>
<line x1="885" y1="105" x2="903" y2="95" stroke="#e8a040" stroke-width="2.4"/>
<line x1="887" y1="95" x2="903" y2="106" stroke="#d89030" stroke-width="2"/>
<line x1="891" y1="108" x2="899" y2="92" stroke="#f0b860" stroke-width="1.6"/>
<circle cx="892" cy="101" r="3" fill="url(#bg_2a2a8a)"/>
<circle cx="898" cy="98" r="3" fill="url(#bg_2a2a8a)"/>
<circle cx="901" cy="107" r="2.7" fill="url(#bg_3cc8d0)"/>
<line x1="903" y1="105" x2="921" y2="95" stroke="#e8a040" stroke-width="2.4"/>
<line x1="905" y1="95" x2="921" y2="106" stroke="#d89030" stroke-width="2"/>
<line x1="909" y1="108" x2="917" y2="92" stroke="#f0b860" stroke-width="1.6"/>
<circle cx="913" cy="99" r="3" fill="url(#bg_2a2a8a)"/>
<circle cx="919" cy="107" r="2.7" fill="url(#bg_3cc8d0)"/>
<line x1="856" y1="124" x2="874" y2="114" stroke="#e8a040" stroke-width="2.4"/>
<line x1="858" y1="114" x2="874" y2="125" stroke="#d89030" stroke-width="2"/>
<line x1="862" y1="127" x2="870" y2="111" stroke="#f0b860" stroke-width="1.6"/>
<circle cx="866" cy="118" r="3" fill="url(#bg_2a2a8a)"/>
<circle cx="872" cy="126" r="2.7" fill="url(#bg_3cc8d0)"/>
<line x1="874" y1="124" x2="892" y2="114" stroke="#e8a040" stroke-width="2.4"/>
<line x1="876" y1="114" x2="892" y2="125" stroke="#d89030" stroke-width="2"/>
<line x1="880" y1="127" x2="888" y2="111" stroke="#f0b860" stroke-width="1.6"/>
<circle cx="881" cy="120" r="3" fill="url(#bg_2a2a8a)"/>
<circle cx="887" cy="117" r="3" fill="url(#bg_2a2a8a)"/>
<circle cx="890" cy="126" r="2.7" fill="url(#bg_3cc8d0)"/>
<line x1="892" y1="124" x2="910" y2="114" stroke="#e8a040" stroke-width="2.4"/>
<line x1="894" y1="114" x2="910" y2="125" stroke="#d89030" stroke-width="2"/>
<line x1="898" y1="127" x2="906" y2="111" stroke="#f0b860" stroke-width="1.6"/>
<circle cx="902" cy="118" r="3" fill="url(#bg_2a2a8a)"/>
<circle cx="908" cy="126" r="2.7" fill="url(#bg_3cc8d0)"/>
<line x1="910" y1="124" x2="928" y2="114" stroke="#e8a040" stroke-width="2.4"/>
<line x1="912" y1="114" x2="928" y2="125" stroke="#d89030" stroke-width="2"/>
<line x1="916" y1="127" x2="924" y2="111" stroke="#f0b860" stroke-width="1.6"/>
<circle cx="917" cy="120" r="3" fill="url(#bg_2a2a8a)"/>
<circle cx="923" cy="117" r="3" fill="url(#bg_2a2a8a)"/>
<circle cx="926" cy="126" r="2.7" fill="url(#bg_3cc8d0)"/>
<line x1="849" y1="143" x2="867" y2="133" stroke="#e8a040" stroke-width="2.4"/>
<line x1="851" y1="133" x2="867" y2="144" stroke="#d89030" stroke-width="2"/>
<line x1="855" y1="146" x2="863" y2="130" stroke="#f0b860" stroke-width="1.6"/>
<circle cx="856" cy="139" r="3" fill="url(#bg_2a2a8a)"/>
<circle cx="862" cy="136" r="3" fill="url(#bg_2a2a8a)"/>
<circle cx="865" cy="145" r="2.7" fill="url(#bg_3cc8d0)"/>
<line x1="867" y1="143" x2="885" y2="133" stroke="#e8a040" stroke-width="2.4"/>
<line x1="869" y1="133" x2="885" y2="144" stroke="#d89030" stroke-width="2"/>
<line x1="873" y1="146" x2="881" y2="130" stroke="#f0b860" stroke-width="1.6"/>
<circle cx="877" cy="137" r="3" fill="url(#bg_2a2a8a)"/>
<circle cx="883" cy="145" r="2.7" fill="url(#bg_3cc8d0)"/>
<line x1="885" y1="143" x2="903" y2="133" stroke="#e8a040" stroke-width="2.4"/>
<line x1="887" y1="133" x2="903" y2="144" stroke="#d89030" stroke-width="2"/>
<line x1="891" y1="146" x2="899" y2="130" stroke="#f0b860" stroke-width="1.6"/>
<circle cx="892" cy="139" r="3" fill="url(#bg_2a2a8a)"/>
<circle cx="898" cy="136" r="3" fill="url(#bg_2a2a8a)"/>
<circle cx="901" cy="145" r="2.7" fill="url(#bg_3cc8d0)"/>
<line x1="903" y1="143" x2="921" y2="133" stroke="#e8a040" stroke-width="2.4"/>
<line x1="905" y1="133" x2="921" y2="144" stroke="#d89030" stroke-width="2"/>
<line x1="909" y1="146" x2="917" y2="130" stroke="#f0b860" stroke-width="1.6"/>
<circle cx="913" cy="137" r="3" fill="url(#bg_2a2a8a)"/>
<circle cx="919" cy="145" r="2.7" fill="url(#bg_3cc8d0)"/>
<path d="M720,37 L720,34 Q720,26.7 728,26.7 L880,26.7 Q891,26.7 891,34 L891,37" fill="none" stroke="#111" stroke-width="2.6"/>
<circle cx="806.3" cy="14.5" r="6.6" fill="#d83868"/>
<rect x="803.3" y="19.5" width="6" height="4.5" fill="#c03060"/>
<line x1="797.6" y1="12.2" x2="793.7" y2="11.1" stroke="#d83868" stroke-width="1.2"/>
<line x1="800.3" y1="7.8" x2="797.6" y2="4.8" stroke="#d83868" stroke-width="1.2"/>
<line x1="804.9" y1="5.6" x2="804.3" y2="1.7" stroke="#d83868" stroke-width="1.2"/>
<line x1="810" y1="6.3" x2="811.6" y2="2.6" stroke="#d83868" stroke-width="1.2"/>
<line x1="813.8" y1="9.6" x2="817.2" y2="7.4" stroke="#d83868" stroke-width="1.2"/>
<line x1="796" y1="20" x2="793" y2="22" stroke="#d83868" stroke-width="1.2"/>
<line x1="817" y1="20" x2="820" y2="22" stroke="#d83868" stroke-width="1.2"/>
<text x="725" y="48" font-family="'Liberation Serif', serif" font-size="11.5" font-weight="bold" text-anchor="middle" fill="#111">Anode</text>
<text x="896" y="48" font-family="'Liberation Serif', serif" font-size="11.5" font-weight="bold" text-anchor="middle" fill="#111">Cathode</text>
<text x="688" y="162.5" font-family="'Liberation Serif', serif" font-size="13.5" font-weight="bold" text-anchor="start" fill="#111">MoS<tspan font-size="8.5" dy="3">2</tspan><tspan dy="-3">-DLTs</tspan></text>
<text x="865" y="162.5" font-family="'Liberation Serif', serif" font-size="12.5" font-weight="bold" text-anchor="start" fill="#111">ZnMn<tspan font-size="8" dy="3">2</tspan><tspan dy="-3">O</tspan><tspan font-size="8" dy="3">4</tspan></text>
<circle cx="692.6" cy="172.8" r="4.3" fill="url(#bg_5cb04c)"/>
<circle cx="709.3" cy="172.8" r="3.8" fill="url(#bg_4a78d0)"/>
<circle cx="725.2" cy="172.8" r="3.8" fill="url(#bg_b86a74)"/>
<circle cx="754" cy="172.8" r="3.6" fill="#ffffff" stroke="#8a8a8a" stroke-width="0.8"/>
<circle cx="789.7" cy="173.5" r="2.2" fill="url(#bg_e0e6ec)"/>
<circle cx="814.1" cy="172.8" r="3.8" fill="url(#bg_3cc8d0)"/>
<circle cx="871" cy="172.8" r="3.8" fill="url(#bg_3cc8d0)"/>
<circle cx="893" cy="172.8" r="4" fill="url(#bg_1e3c9a)"/>
<circle cx="914.3" cy="172.8" r="3.8" fill="url(#bg_b86a74)"/>
<text x="692.6" y="188.8" font-family="'Liberation Serif', serif" font-size="12" font-weight="bold" text-anchor="middle" fill="#111">Mo</text>
<text x="709.3" y="188.8" font-family="'Liberation Serif', serif" font-size="12" font-weight="bold" text-anchor="middle" fill="#111">S</text>
<text x="725.2" y="188.8" font-family="'Liberation Serif', serif" font-size="12" font-weight="bold" text-anchor="middle" fill="#111">O</text>
<text x="754" y="188.8" font-family="'Liberation Serif', serif" font-size="12" font-weight="bold" text-anchor="middle" fill="#111">Defect</text>
<text x="789.7" y="188.8" font-family="'Liberation Serif', serif" font-size="12" font-weight="bold" text-anchor="middle" fill="#111">H<tspan font-size="7" dy="-4">+</tspan></text>
<text x="816" y="188.8" font-family="'Liberation Serif', serif" font-size="12" font-weight="bold" text-anchor="middle" fill="#111">Zn<tspan font-size="7" dy="-4">2+</tspan></text>
<text x="871" y="188.8" font-family="'Liberation Serif', serif" font-size="12" font-weight="bold" text-anchor="middle" fill="#111">Zn</text>
<text x="893" y="188.8" font-family="'Liberation Serif', serif" font-size="12" font-weight="bold" text-anchor="middle" fill="#111">Mn</text>
<text x="914.3" y="188.8" font-family="'Liberation Serif', serif" font-size="12" font-weight="bold" text-anchor="middle" fill="#111">O</text>
<path d="M689,195 Q694,191 698,196" fill="none" stroke="#333" stroke-width="1.2"/>
<text x="671" y="32" font-family="'Liberation Serif', serif" font-size="22" font-weight="bold" text-anchor="start" fill="#111">a</text>
<rect x="1025.5" y="66.4" width="142.5" height="108" fill="url(#gph)"/>
<rect x="1025.5" y="66.4" width="142.5" height="108" fill="url(#gph2)"/>
<path d="M1126,174 Q1124,150 1134,128 Q1146,110 1168,108 L1168,174 Z" fill="#ebe6df" stroke="none" stroke-width="0"/>
<path d="M1152,134 L1168,128 L1168,160 L1154,163 Z" fill="#3a3232" stroke="none" stroke-width="0" opacity="0.85"/>
<ellipse cx="1141" cy="144" rx="14" ry="12" fill="none" stroke="#d04858" stroke-width="1.9" stroke-dasharray="1.6 1.4"/>
<ellipse cx="1142" cy="144" rx="9" ry="5" fill="#c8c8c0"/>
<ellipse cx="1142" cy="143" rx="8" ry="1.6" fill="#606058"/>
<ellipse cx="1104.7" cy="79.1" rx="14" ry="7" fill="#e06068" opacity="0.85"/>
<text x="1104.7" y="82.5" font-family="'Liberation Sans', sans-serif" font-size="9" font-weight="bold" text-anchor="middle" fill="#ffe8e8">888</text>
<path d="M1043,98 Q1050,72 1064,72 Q1080,74 1086,86 Q1092,92 1098,84" fill="none" stroke="#303030" stroke-width="1.2"/>
<path d="M1032,132 Q1040,100 1057,88 Q1082,70 1102,74" fill="none" stroke="#b89080" stroke-width="2" opacity="0.6"/>
<path d="M1060,160 Q1080,172 1100,168 Q1118,163 1132,150" fill="none" stroke="#222222" stroke-width="2.2"/>
<polygon points="1030,130 1037,126 1050,146 1044,151" fill="#e05050"/>
<polygon points="1045,118 1050,116 1058,150 1053,152" fill="#282828"/>
<rect x="1048" y="148" width="9" height="4" fill="#e8e8e8"/>
<polyline points="968.4,34.9 968.7,35.7 969,36.8 969.5,38.3 970.2,40.2 970.8,42.2 971.4,44.4 972.5,47.4 974.6,51.5 977.6,57.5 981.5,64.9 986.2,72.6 991.6,79.4 998.2,85.1 1006,90.4 1013.8,95.2 1020.7,99.8 1026.3,104.1 1031.1,108.2 1035.6,111.8 1040,114.8 1044.6,116.9 1049.1,118.3 1053.3,119.4 1057,120.9 1060,122.5 1062.5,124.2 1064.7,126.2 1066.8,129.2 1068.9,133.3 1070.7,138.4 1072.4,143.8 1074,148.8 1075.5,153.5 1076.9,158.3 1078.1,162.4 1079,165.4" fill="none" stroke="#e03030" stroke-width="1.5" stroke-linejoin="round" stroke-linecap="round"/>
<polyline points="968.4,112.6 968.7,110.8 969,108.3 969.5,105.5 970.2,102.8 970.9,100.4 971.6,98 972.7,95.6 974.6,93 977.1,90.1 980.1,87 984,83.9 989.1,80.9 996,78.1 1004.3,75.3 1012.9,72.6 1020.7,69.6 1027.3,66.4 1033.4,63 1039.2,59.5 1044.9,56 1050.8,52.2 1056.6,48.2 1062.1,44.6 1066.8,41.7 1070.8,39.9 1074.2,38.9 1077,38.4 1078.9,37.9" fill="none" stroke="#e03030" stroke-width="1.5" stroke-linejoin="round" stroke-linecap="round"/>
<polyline points="968.4,172.9 968.4,112.6" fill="none" stroke="#e03030" stroke-width="1.4" stroke-linejoin="round" stroke-linecap="round"/>
<polyline points="968.4,59 968.3,59.1 968.1,59.2 968.4,59.3 969.7,59 972.2,58.5 975.6,57.7 979.7,56.8 984.3,56 989.7,55.6 995.9,55.3 1002.3,54.8 1008.4,53.8 1014.1,51.8 1019.8,49.3 1025.3,46.5 1030.1,44 1034.5,41.5 1038.4,39.1 1041.8,36.8 1044.7,34.9 1046.8,33.5 1048.3,32.5 1049.4,31.7 1050.1,31.1" fill="none" stroke="#283c7c" stroke-width="1.6" stroke-linejoin="round" stroke-linecap="round" stroke-dasharray="3.2 2"/>
<polyline points="968.4,61.3 970,62 972.3,62.9 975.4,64.2 979.3,65.8 984.5,68 990.9,70.5 997.6,73.2 1003.8,75.6 1009.6,77.7 1015.3,79.5 1020.7,81.3 1025.6,83.2 1029.9,85 1033.7,86.8 1037.1,88.7 1040.1,90.7 1042.7,92.8 1045,94.9 1046.8,97.2 1048.3,99.8 1049.4,102.8 1050.2,106.4 1050.7,109.6 1051,111.8" fill="none" stroke="#283c7c" stroke-width="1.6" stroke-linejoin="round" stroke-linecap="round" stroke-dasharray="3.2 2"/>
<polyline points="968.4,80.9 969.4,86 970.9,93.3 972.6,101.1 974.6,107.3 976.4,111.3 978.3,114.3 980.8,116.7 984.3,119.4 988.7,122.3 993.9,125.1 1000.3,127.9 1008.4,130.7 1018.8,133.4 1031.2,136 1044.3,138.7 1057,141.2 1069,143.7 1080.8,146 1092.9,148.4 1105.5,151 1120.3,154.2 1136.5,157.7 1151.2,160.9 1161.4,163.1" fill="none" stroke="#202020" stroke-width="1.3" stroke-linejoin="round" stroke-linecap="round" stroke-dasharray="1.3 1.6"/>
<polyline points="968.4,160.8 1161.4,84.7" fill="none" stroke="#202020" stroke-width="1.3" stroke-linejoin="round" stroke-linecap="round" stroke-dasharray="1.3 1.6"/>
<polyline points="968.4,174.4 968.4,80.9" fill="none" stroke="#202020" stroke-width="1" stroke-linejoin="round" stroke-linecap="round" stroke-dasharray="1.3 1.6"/>
<rect x="967.8" y="23.6" width="200.2" height="150.8" fill="none" stroke="#151515" stroke-width="1.5"/>
<line x1="964.8" y1="174.4" x2="967.8" y2="174.4" stroke="#222" stroke-width="1"/>
<text x="962.8" y="178.6" font-family="'Liberation Serif', serif" font-size="10" font-weight="bold" text-anchor="end" fill="#111">0.0</text>
<line x1="964.8" y1="144.2" x2="967.8" y2="144.2" stroke="#222" stroke-width="1"/>
<text x="962.8" y="148.4" font-family="'Liberation Serif', serif" font-size="10" font-weight="bold" text-anchor="end" fill="#111">0.4</text>
<line x1="964.8" y1="114.1" x2="967.8" y2="114.1" stroke="#222" stroke-width="1"/>
<text x="962.8" y="118.3" font-family="'Liberation Serif', serif" font-size="10" font-weight="bold" text-anchor="end" fill="#111">0.8</text>
<line x1="964.8" y1="83.9" x2="967.8" y2="83.9" stroke="#222" stroke-width="1"/>
<text x="962.8" y="88.1" font-family="'Liberation Serif', serif" font-size="10" font-weight="bold" text-anchor="end" fill="#111">1.2</text>
<line x1="964.8" y1="53.8" x2="967.8" y2="53.8" stroke="#222" stroke-width="1"/>
<text x="962.8" y="58" font-family="'Liberation Serif', serif" font-size="10" font-weight="bold" text-anchor="end" fill="#111">1.6</text>
<line x1="964.8" y1="23.6" x2="967.8" y2="23.6" stroke="#222" stroke-width="1"/>
<text x="962.8" y="27.8" font-family="'Liberation Serif', serif" font-size="10" font-weight="bold" text-anchor="end" fill="#111">2.0</text>
<line x1="968.4" y1="174.4" x2="968.4" y2="177.4" stroke="#222" stroke-width="1"/>
<text x="968.4" y="187.9" font-family="'Liberation Serif', serif" font-size="10" font-weight="bold" text-anchor="middle" fill="#111">0</text>
<line x1="1013.8" y1="174.4" x2="1013.8" y2="177.4" stroke="#222" stroke-width="1"/>
<text x="1013.8" y="187.9" font-family="'Liberation Serif', serif" font-size="10" font-weight="bold" text-anchor="middle" fill="#111">50</text>
<line x1="1059.2" y1="174.4" x2="1059.2" y2="177.4" stroke="#222" stroke-width="1"/>
<text x="1059.2" y="187.9" font-family="'Liberation Serif', serif" font-size="10" font-weight="bold" text-anchor="middle" fill="#111">100</text>
<line x1="1104.6" y1="174.4" x2="1104.6" y2="177.4" stroke="#222" stroke-width="1"/>
<text x="1104.6" y="187.9" font-family="'Liberation Serif', serif" font-size="10" font-weight="bold" text-anchor="middle" fill="#111">150</text>
<line x1="1150" y1="174.4" x2="1150" y2="177.4" stroke="#222" stroke-width="1"/>
<text x="1150" y="187.9" font-family="'Liberation Serif', serif" font-size="10" font-weight="bold" text-anchor="middle" fill="#111">200</text>
<text x="1072" y="200.5" font-family="'Liberation Serif', serif" font-size="12.3" font-weight="bold" text-anchor="middle" fill="#111">Specific capacity (mAh g<tspan font-size="7.5" dy="-4">-1</tspan><tspan dy="4">)</tspan></text>
<text x="944.5" y="99" font-family="'Liberation Serif', serif" font-size="13.5" font-weight="bold" text-anchor="middle" fill="#111" transform="rotate(-90 944.5 99)">Voltage (V vs. Zn<tspan font-size="8" dy="-5">2+</tspan><tspan dy="5">/Zn)</tspan></text>
<text x="979" y="40.6" font-family="'Liberation Serif', serif" font-size="13" font-weight="bold" text-anchor="start" fill="#283c7c">ZnMn<tspan font-size="8.5" dy="3">2</tspan><tspan dy="-3">O</tspan><tspan font-size="8.5" dy="3">4</tspan></text>
<line x1="1006" y1="51.5" x2="1001.5" y2="45.5" stroke="#283c7c" stroke-width="1.5" stroke-dasharray="1.5 1.3"/>
<polygon points="999.5,42.5 999,47.5 1003.5,45.5" fill="#283c7c"/>
<text x="1047" y="40.6" font-family="'Liberation Serif', serif" font-size="12.6" font-weight="bold" text-anchor="start" fill="#d83030">MoS<tspan font-size="8" dy="3">2</tspan><tspan dy="-3">-DLTs//ZnMn</tspan><tspan font-size="8" dy="3">2</tspan><tspan dy="-3">O</tspan><tspan font-size="8" dy="3">4</tspan></text>
<line x1="1086" y1="43.5" x2="1097" y2="40.3" stroke="#d83030" stroke-width="1.8"/>
<polygon points="1101.5,39 1095,37 1096.5,43" fill="#d83030"/>
<text x="973" y="168" font-family="'Liberation Serif', serif" font-size="13" font-weight="bold" text-anchor="start" fill="#222">MoS<tspan font-size="8.5" dy="3">2</tspan><tspan dy="-3">-DLTs</tspan></text>
<line x1="1000" y1="131.6" x2="1010.5" y2="152.5" stroke="#222" stroke-width="1.5" stroke-dasharray="1.5 1.3"/>
<polygon points="1012.2,157 1007.5,151.5 1012.5,150" fill="#222"/>
<text x="934" y="33" font-family="'Liberation Serif', serif" font-size="22" font-weight="bold" text-anchor="start" fill="#111">b</text>
<rect x="720.3" y="214.8" width="448.4" height="98.5" fill="#ffffff"/>
<polyline points="720.3,224.1 729.3,223.7 738.2,223.5 747.2,223.4 756.2,224.2 765.1,223.2 774.1,224 783.1,223.3 792,224.3 801,223.6 810,223.9 818.9,224.2 827.9,223.3 836.9,223.2 845.9,224 854.8,223.9 863.8,224 872.8,223.5 881.7,223.8 890.7,223.4 899.7,223.7 908.6,223.5 917.6,223.9 926.6,223.5 935.5,223.5 944.5,223.9 953.5,223.3 962.4,224.1 971.4,223.7 980.4,223.4 989.3,223.3 998.3,223.8 1007.3,223.8 1016.2,224 1025.2,223.6 1034.2,223.6 1043.1,224.2 1052.1,223.5 1061.1,224.3 1070.1,224.2 1079,224.3 1088,224.3 1097,223.5 1105.9,224.1 1114.9,223.9 1123.9,223.4 1132.8,224.4 1141.8,223.9 1150.8,224.1 1159.7,223.8 1168.7,223.2" fill="none" stroke="#1a1a1a" stroke-width="5" stroke-linejoin="round" stroke-linecap="round"/>
<polyline points="720.3,224.1 729.3,223.7 738.2,223.5 747.2,223.4 756.2,224.2 765.1,223.2 774.1,224 783.1,223.3 792,224.3 801,223.6 810,223.9 818.9,224.2 827.9,223.3 836.9,223.2 845.9,224 854.8,223.9 863.8,224 872.8,223.5 881.7,223.8 890.7,223.4 899.7,223.7 908.6,223.5 917.6,223.9 926.6,223.5 935.5,223.5 944.5,223.9 953.5,223.3 962.4,224.1 971.4,223.7 980.4,223.4 989.3,223.3 998.3,223.8 1007.3,223.8 1016.2,224 1025.2,223.6 1034.2,223.6 1043.1,224.2 1052.1,223.5 1061.1,224.3 1070.1,224.2 1079,224.3 1088,224.3 1097,223.5 1105.9,224.1 1114.9,223.9 1123.9,223.4 1132.8,224.4 1141.8,223.9 1150.8,224.1 1159.7,223.8 1168.7,223.2" fill="none" stroke="#707070" stroke-width="1" stroke-linejoin="round" stroke-linecap="round" stroke-dasharray="2 2"/>
<polyline points="720.3,247.6 723.5,247.7 728.1,247.8 733.8,248.3 740.7,249.4 748.7,250.9 756.2,252.2 762.8,253.2 769,253.9 774.1,254.2 777.8,253.7 780.4,252.7 783.1,252.2 786.1,252.7 789.1,253.6 792,254.2 794.7,253.9 797.4,253.3 801,252.9 805.7,253.2 811.3,253.9 818.9,254.2 830.4,254 843.9,253.5 854.8,252.9 861,252.2 864.6,251.4 868.3,250.9 873.1,251 877.9,251.4 881.7,252.2 883.9,253.8 885,255.7 886.2,256.8 885.9,256.4 885.5,255.1 890.7,254.2 903.6,254 922.1,254.1 944.5,254.2 971.7,254.4 1003,254.6 1034.2,254.9 1065.7,255.1 1097.3,255.4 1123.9,255.5 1143.8,255.2 1158.7,254.6 1168.7,254.2" fill="none" stroke="#5aa0c8" stroke-width="6.5" stroke-linejoin="round" stroke-linecap="round"/>
<polyline points="720.3,246.6 723.5,246.7 728.1,246.8 733.8,247.3 740.7,248.4 748.7,249.9 756.2,251.2 762.8,252.2 769,252.9 774.1,253.2 777.8,252.7 780.4,251.7 783.1,251.2 786.1,251.7 789.1,252.6 792,253.2 794.7,252.9 797.4,252.3 801,251.9 805.7,252.2 811.3,252.9 818.9,253.2 830.4,253 843.9,252.5 854.8,251.9 861,251.2 864.6,250.4 868.3,249.9 873.1,250 877.9,250.4 881.7,251.2 883.9,252.8 885,254.7 886.2,255.8 885.9,255.4 885.5,254.1 890.7,253.2 903.6,253 922.1,253.1 944.5,253.2 971.7,253.4 1003,253.6 1034.2,253.9 1065.7,254.1 1097.3,254.4 1123.9,254.5 1143.8,254.2 1158.7,253.6 1168.7,253.2" fill="none" stroke="#e08a9c" stroke-width="6.5" stroke-linejoin="round" stroke-linecap="round"/>
<rect x="720.3" y="214.8" width="448.4" height="98.5" fill="none" stroke="#151515" stroke-width="1.3"/>
<line x1="717.3" y1="313.3" x2="720.3" y2="313.3" stroke="#222" stroke-width="1"/>
<text x="715.3" y="317.9" font-family="'Liberation Serif', serif" font-size="11" font-weight="bold" text-anchor="end" fill="#111">0</text>
<line x1="717.3" y1="280.5" x2="720.3" y2="280.5" stroke="#222" stroke-width="1"/>
<text x="715.3" y="285.1" font-family="'Liberation Serif', serif" font-size="11" font-weight="bold" text-anchor="end" fill="#111">50</text>
<line x1="717.3" y1="247.6" x2="720.3" y2="247.6" stroke="#222" stroke-width="1"/>
<text x="715.3" y="252.3" font-family="'Liberation Serif', serif" font-size="11" font-weight="bold" text-anchor="end" fill="#111">100</text>
<line x1="717.3" y1="214.8" x2="720.3" y2="214.8" stroke="#222" stroke-width="1"/>
<text x="715.3" y="219.4" font-family="'Liberation Serif', serif" font-size="11" font-weight="bold" text-anchor="end" fill="#111">150</text>
<line x1="1168.7" y1="295.4" x2="1171.7" y2="295.4" stroke="#222" stroke-width="1"/>
<text x="1172.7" y="299.8" font-family="'Liberation Serif', serif" font-size="10.5" font-weight="bold" text-anchor="start" fill="#111">20</text>
<line x1="1168.7" y1="277.5" x2="1171.7" y2="277.5" stroke="#222" stroke-width="1"/>
<text x="1172.7" y="281.9" font-family="'Liberation Serif', serif" font-size="10.5" font-weight="bold" text-anchor="start" fill="#111">40</text>
<line x1="1168.7" y1="259.6" x2="1171.7" y2="259.6" stroke="#222" stroke-width="1"/>
<text x="1172.7" y="264" font-family="'Liberation Serif', serif" font-size="10.5" font-weight="bold" text-anchor="start" fill="#111">60</text>
<line x1="1168.7" y1="241.7" x2="1171.7" y2="241.7" stroke="#222" stroke-width="1"/>
<text x="1172.7" y="246.1" font-family="'Liberation Serif', serif" font-size="10.5" font-weight="bold" text-anchor="start" fill="#111">80</text>
<line x1="1168.7" y1="223.8" x2="1171.7" y2="223.8" stroke="#222" stroke-width="1"/>
<text x="1172.7" y="228.2" font-family="'Liberation Serif', serif" font-size="10.5" font-weight="bold" text-anchor="start" fill="#111">100</text>
<line x1="720.3" y1="313.3" x2="720.3" y2="316.3" stroke="#222" stroke-width="1"/>
<text x="720.3" y="327.8" font-family="'Liberation Serif', serif" font-size="10.5" font-weight="bold" text-anchor="middle" fill="#111">0</text>
<line x1="765.1" y1="313.3" x2="765.1" y2="316.3" stroke="#222" stroke-width="1"/>
<text x="765.1" y="327.8" font-family="'Liberation Serif', serif" font-size="10.5" font-weight="bold" text-anchor="middle" fill="#111">100</text>
<line x1="810" y1="313.3" x2="810" y2="316.3" stroke="#222" stroke-width="1"/>
<text x="810" y="327.8" font-family="'Liberation Serif', serif" font-size="10.5" font-weight="bold" text-anchor="middle" fill="#111">200</text>
<line x1="854.8" y1="313.3" x2="854.8" y2="316.3" stroke="#222" stroke-width="1"/>
<text x="854.8" y="327.8" font-family="'Liberation Serif', serif" font-size="10.5" font-weight="bold" text-anchor="middle" fill="#111">300</text>
<line x1="899.7" y1="313.3" x2="899.7" y2="316.3" stroke="#222" stroke-width="1"/>
<text x="899.7" y="327.8" font-family="'Liberation Serif', serif" font-size="10.5" font-weight="bold" text-anchor="middle" fill="#111">400</text>
<line x1="944.5" y1="313.3" x2="944.5" y2="316.3" stroke="#222" stroke-width="1"/>
<text x="944.5" y="327.8" font-family="'Liberation Serif', serif" font-size="10.5" font-weight="bold" text-anchor="middle" fill="#111">500</text>
<line x1="989.3" y1="313.3" x2="989.3" y2="316.3" stroke="#222" stroke-width="1"/>
<text x="989.3" y="327.8" font-family="'Liberation Serif', serif" font-size="10.5" font-weight="bold" text-anchor="middle" fill="#111">600</text>
<line x1="1034.2" y1="313.3" x2="1034.2" y2="316.3" stroke="#222" stroke-width="1"/>
<text x="1034.2" y="327.8" font-family="'Liberation Serif', serif" font-size="10.5" font-weight="bold" text-anchor="middle" fill="#111">700</text>
<line x1="1079" y1="313.3" x2="1079" y2="316.3" stroke="#222" stroke-width="1"/>
<text x="1079" y="327.8" font-family="'Liberation Serif', serif" font-size="10.5" font-weight="bold" text-anchor="middle" fill="#111">800</text>
<line x1="1123.9" y1="313.3" x2="1123.9" y2="316.3" stroke="#222" stroke-width="1"/>
<text x="1123.9" y="327.8" font-family="'Liberation Serif', serif" font-size="10.5" font-weight="bold" text-anchor="middle" fill="#111">900</text>
<line x1="1168.7" y1="313.3" x2="1168.7" y2="316.3" stroke="#222" stroke-width="1"/>
<text x="1168.7" y="327.8" font-family="'Liberation Serif', serif" font-size="10.5" font-weight="bold" text-anchor="middle" fill="#111">1000</text>
<polyline points="758.4,252.9 758.4,267.3 733.8,267.3" fill="none" stroke="#111" stroke-width="2" stroke-linejoin="round" stroke-linecap="round"/>
<polygon points="730.2,267.3 738.2,263.3 738.2,271.3" fill="#111"/>
<ellipse cx="1133.7" cy="222.9" rx="6.5" ry="8" fill="none" stroke="#111" stroke-width="1.6"/>
<polyline points="1133.7,230 1133.7,238.1 1149.9,238.1" fill="none" stroke="#111" stroke-width="2" stroke-linejoin="round" stroke-linecap="round"/>
<polygon points="1155.2,238.1 1147.2,234.1 1147.2,242.1" fill="#111"/>
<text x="724.8" y="307.8" font-family="'Liberation Serif', serif" font-size="13" font-weight="bold" text-anchor="start" fill="#222">MoS<tspan font-size="8.5" dy="3">2</tspan><tspan dy="-3">-DLTs//ZnMn</tspan><tspan font-size="8.5" dy="3">2</tspan><tspan dy="-3">O</tspan><tspan font-size="8.5" dy="3">4</tspan></text>
<line x1="922.6" y1="282.8" x2="940.6" y2="282.8" stroke="#4aa8d8" stroke-width="1.6"/>
<circle cx="931.6" cy="282.8" r="3" fill="#ffffff" stroke="#4aa8d8" stroke-width="1.5"/>
<text x="945.6" y="287.8" font-family="'Liberation Serif', serif" font-size="13.2" font-weight="bold" text-anchor="start" fill="#222">Discharge</text>
<text x="1024.3" y="287.8" font-family="'Liberation Serif', serif" font-size="13.2" font-weight="bold" text-anchor="start" fill="#222">0.2 A g<tspan font-size="8" dy="-5">-1</tspan></text>
<line x1="922.6" y1="298.3" x2="940.6" y2="298.3" stroke="#e07a90" stroke-width="1.6"/>
<circle cx="931.6" cy="298.3" r="3" fill="#ffffff" stroke="#e07a90" stroke-width="1.5"/>
<text x="945.6" y="303.3" font-family="'Liberation Serif', serif" font-size="13.2" font-weight="bold" text-anchor="start" fill="#222">Charge</text>
<text x="1024.3" y="303.3" font-family="'Liberation Serif', serif" font-size="13.2" font-weight="bold" text-anchor="start" fill="#222">0.1-1.8 V</text>
<text x="944.5" y="337.3" font-family="'Liberation Serif', serif" font-size="13" font-weight="bold" text-anchor="middle" fill="#111">Cycle number</text>
<text x="696.8" y="262.7" font-family="'Liberation Serif', serif" font-size="12.5" font-weight="bold" text-anchor="middle" fill="#111" transform="rotate(-90 696.8 262.7)">Specific capacity (mAh g<tspan font-size="7" dy="-4">-1</tspan><tspan dy="4">)</tspan></text>
<text x="1200.2" y="265" font-family="'Liberation Serif', serif" font-size="10.3" font-weight="bold" text-anchor="middle" fill="#111" transform="rotate(-90 1200.2 265)">Coulombic efficiency (%)</text>
<text x="671" y="220.5" font-family="'Liberation Serif', serif" font-size="22" font-weight="bold" text-anchor="start" fill="#111">c</text>
<rect x="719.6" y="347.1" width="450.7" height="99.4" fill="#ffffff"/>
<polyline points="719.6,356.4 730.9,355.9 742.1,355.9 753.4,356.2 764.7,355.9 775.9,356.1 787.2,356.3 798.5,355.8 809.7,356.3 821,355.8 832.3,356.1 843.5,356.3 854.8,356.3 866.1,355.8 877.3,355.9 888.6,356.5 899.9,356 911.1,356.1 922.4,356 933.7,356.3 945,356.3 956.2,356.3 967.5,356.1 978.8,356.2 990,356.1 1001.3,355.9 1012.6,356.5 1023.8,356.5 1035.1,356.4 1046.4,356.5 1057.6,356.1 1068.9,356.4 1080.2,355.9 1091.4,356.3 1102.7,356.3 1114,356.5 1125.2,356.4 1136.5,356.4 1147.8,356 1159,356.4 1170.3,356.1" fill="none" stroke="#111111" stroke-width="5.5" stroke-linejoin="round" stroke-linecap="round"/>
<polyline points="719.6,381.6 720.6,383.2 722.1,385.5 724.1,387.5 726.6,389 729.6,390.1 733.1,390.8 737.1,391 741.6,390.7 746.6,390.2 752.2,389.2 758.2,388 764.7,386.9 770.2,386 776.2,385.4 787.2,384.9 805.6,384.7 828.9,384.8 854.8,384.9 883.2,384.9 914.1,384.8 945,384.9 975.8,385 1006.7,385.2 1035.1,385.5 1059.3,386.1 1081,386.8 1102.7,387.5 1127.7,388.5 1152.8,389.5 1170.3,390.2" fill="none" stroke="#d8c870" stroke-width="8" stroke-linejoin="round" stroke-linecap="round" opacity="0.6"/>
<polyline points="719.6,381.6 720.6,383.2 722.1,385.5 724.1,387.5 726.6,389 729.6,390.1 733.1,390.8 737.1,391 741.6,390.7 746.6,390.2 752.2,389.2 758.2,388 764.7,386.9 770.2,386 776.2,385.4 787.2,384.9 805.6,384.7 828.9,384.8 854.8,384.9 883.2,384.9 914.1,384.8 945,384.9 975.8,385 1006.7,385.2 1035.1,385.5 1059.3,386.1 1081,386.8 1102.7,387.5 1127.7,388.5 1152.8,389.5 1170.3,390.2" fill="none" stroke="#6ab050" stroke-width="6" stroke-linejoin="round" stroke-linecap="round"/>
<polyline points="719.6,382.6 1170.3,382.6" fill="none" stroke="#6a3020" stroke-width="2.2" stroke-linejoin="round" stroke-linecap="round" stroke-dasharray="2 2.5"/>
<polyline points="760.2,381.9 1071.1,381.9" fill="none" stroke="#d8c060" stroke-width="1" stroke-linejoin="round" stroke-linecap="round" opacity="0.7"/>
<rect x="719.6" y="347.1" width="450.7" height="99.4" fill="none" stroke="#151515" stroke-width="1.3"/>
<line x1="716.6" y1="446.5" x2="719.6" y2="446.5" stroke="#222" stroke-width="1"/>
<text x="714.6" y="451.1" font-family="'Liberation Serif', serif" font-size="11" font-weight="bold" text-anchor="end" fill="#111">0</text>
<line x1="716.6" y1="413.4" x2="719.6" y2="413.4" stroke="#222" stroke-width="1"/>
<text x="714.6" y="418" font-family="'Liberation Serif', serif" font-size="11" font-weight="bold" text-anchor="end" fill="#111">50</text>
<line x1="716.6" y1="380.2" x2="719.6" y2="380.2" stroke="#222" stroke-width="1"/>
<text x="714.6" y="384.9" font-family="'Liberation Serif', serif" font-size="11" font-weight="bold" text-anchor="end" fill="#111">100</text>
<line x1="716.6" y1="347.1" x2="719.6" y2="347.1" stroke="#222" stroke-width="1"/>
<text x="714.6" y="351.7" font-family="'Liberation Serif', serif" font-size="11" font-weight="bold" text-anchor="end" fill="#111">150</text>
<line x1="1170.3" y1="428.4" x2="1173.3" y2="428.4" stroke="#222" stroke-width="1"/>
<text x="1174.3" y="432.8" font-family="'Liberation Serif', serif" font-size="10.5" font-weight="bold" text-anchor="start" fill="#111">20</text>
<line x1="1170.3" y1="410.4" x2="1173.3" y2="410.4" stroke="#222" stroke-width="1"/>
<text x="1174.3" y="414.8" font-family="'Liberation Serif', serif" font-size="10.5" font-weight="bold" text-anchor="start" fill="#111">40</text>
<line x1="1170.3" y1="392.3" x2="1173.3" y2="392.3" stroke="#222" stroke-width="1"/>
<text x="1174.3" y="396.7" font-family="'Liberation Serif', serif" font-size="10.5" font-weight="bold" text-anchor="start" fill="#111">60</text>
<line x1="1170.3" y1="374.2" x2="1173.3" y2="374.2" stroke="#222" stroke-width="1"/>
<text x="1174.3" y="378.6" font-family="'Liberation Serif', serif" font-size="10.5" font-weight="bold" text-anchor="start" fill="#111">80</text>
<line x1="1170.3" y1="356.1" x2="1173.3" y2="356.1" stroke="#222" stroke-width="1"/>
<text x="1174.3" y="360.5" font-family="'Liberation Serif', serif" font-size="10.5" font-weight="bold" text-anchor="start" fill="#111">100</text>
<line x1="719.6" y1="446.5" x2="719.6" y2="449.5" stroke="#222" stroke-width="1"/>
<text x="719.6" y="461" font-family="'Liberation Serif', serif" font-size="10.5" font-weight="bold" text-anchor="middle" fill="#111">0</text>
<line x1="764.7" y1="446.5" x2="764.7" y2="449.5" stroke="#222" stroke-width="1"/>
<text x="764.7" y="461" font-family="'Liberation Serif', serif" font-size="10.5" font-weight="bold" text-anchor="middle" fill="#111">1000</text>
<line x1="809.7" y1="446.5" x2="809.7" y2="449.5" stroke="#222" stroke-width="1"/>
<text x="809.7" y="461" font-family="'Liberation Serif', serif" font-size="10.5" font-weight="bold" text-anchor="middle" fill="#111">2000</text>
<line x1="854.8" y1="446.5" x2="854.8" y2="449.5" stroke="#222" stroke-width="1"/>
<text x="854.8" y="461" font-family="'Liberation Serif', serif" font-size="10.5" font-weight="bold" text-anchor="middle" fill="#111">3000</text>
<line x1="899.9" y1="446.5" x2="899.9" y2="449.5" stroke="#222" stroke-width="1"/>
<text x="899.9" y="461" font-family="'Liberation Serif', serif" font-size="10.5" font-weight="bold" text-anchor="middle" fill="#111">4000</text>
<line x1="945" y1="446.5" x2="945" y2="449.5" stroke="#222" stroke-width="1"/>
<text x="945" y="461" font-family="'Liberation Serif', serif" font-size="10.5" font-weight="bold" text-anchor="middle" fill="#111">5000</text>
<line x1="990" y1="446.5" x2="990" y2="449.5" stroke="#222" stroke-width="1"/>
<text x="990" y="461" font-family="'Liberation Serif', serif" font-size="10.5" font-weight="bold" text-anchor="middle" fill="#111">6000</text>
<line x1="1035.1" y1="446.5" x2="1035.1" y2="449.5" stroke="#222" stroke-width="1"/>
<text x="1035.1" y="461" font-family="'Liberation Serif', serif" font-size="10.5" font-weight="bold" text-anchor="middle" fill="#111">7000</text>
<line x1="1080.2" y1="446.5" x2="1080.2" y2="449.5" stroke="#222" stroke-width="1"/>
<text x="1080.2" y="461" font-family="'Liberation Serif', serif" font-size="10.5" font-weight="bold" text-anchor="middle" fill="#111">8000</text>
<line x1="1125.2" y1="446.5" x2="1125.2" y2="449.5" stroke="#222" stroke-width="1"/>
<text x="1125.2" y="461" font-family="'Liberation Serif', serif" font-size="10.5" font-weight="bold" text-anchor="middle" fill="#111">9000</text>
<line x1="1170.3" y1="446.5" x2="1170.3" y2="449.5" stroke="#222" stroke-width="1"/>
<text x="1170.3" y="461" font-family="'Liberation Serif', serif" font-size="10.5" font-weight="bold" text-anchor="middle" fill="#111">10000</text>
<polyline points="757.9,385.5 757.9,400.1 733.1,400.1" fill="none" stroke="#111" stroke-width="2" stroke-linejoin="round" stroke-linecap="round"/>
<polygon points="729.5,400.1 737.6,396.1 737.6,404.1" fill="#111"/>
<ellipse cx="1135.1" cy="355.2" rx="6.5" ry="8" fill="none" stroke="#111" stroke-width="1.6"/>
<polyline points="1135.1,362.5 1135.1,370.6 1151.4,370.6" fill="none" stroke="#111" stroke-width="2" stroke-linejoin="round" stroke-linecap="round"/>
<polygon points="1156.8,370.6 1148.7,366.6 1148.7,374.6" fill="#111"/>
<text x="724.1" y="441" font-family="'Liberation Serif', serif" font-size="13" font-weight="bold" text-anchor="start" fill="#222">MoS<tspan font-size="8.5" dy="3">2</tspan><tspan dy="-3">-DLTs//ZnMn</tspan><tspan font-size="8.5" dy="3">2</tspan><tspan dy="-3">O</tspan><tspan font-size="8.5" dy="3">4</tspan></text>
<line x1="923" y1="415.1" x2="941" y2="415.1" stroke="#e8902a" stroke-width="1.6"/>
<circle cx="932" cy="415.1" r="3" fill="#ffffff" stroke="#e8902a" stroke-width="1.5"/>
<text x="946" y="420.1" font-family="'Liberation Serif', serif" font-size="13.2" font-weight="bold" text-anchor="start" fill="#222">Discharge</text>
<text x="1025.2" y="420.1" font-family="'Liberation Serif', serif" font-size="13.2" font-weight="bold" text-anchor="start" fill="#222">1.0 A g<tspan font-size="8" dy="-5">-1</tspan></text>
<line x1="923" y1="430.6" x2="941" y2="430.6" stroke="#6ab050" stroke-width="1.6"/>
<circle cx="932" cy="430.6" r="3" fill="#ffffff" stroke="#6ab050" stroke-width="1.5"/>
<text x="946" y="435.6" font-family="'Liberation Serif', serif" font-size="13.2" font-weight="bold" text-anchor="start" fill="#222">Charge</text>
<text x="1025.2" y="435.6" font-family="'Liberation Serif', serif" font-size="13.2" font-weight="bold" text-anchor="start" fill="#222">0.1-1.8 V</text>
<text x="945" y="470.5" font-family="'Liberation Serif', serif" font-size="13" font-weight="bold" text-anchor="middle" fill="#111">Cycle number</text>
<text x="696.1" y="396.8" font-family="'Liberation Serif', serif" font-size="11.2" font-weight="bold" text-anchor="middle" fill="#111" transform="rotate(-90 696.1 396.8)">Capacity retention (%)</text>
<text x="1203.8" y="398.7" font-family="'Liberation Serif', serif" font-size="10.8" font-weight="bold" text-anchor="middle" fill="#111" transform="rotate(-90 1203.8 398.7)">Coulombic efficiency (%)</text>
<text x="671" y="359.6" font-family="'Liberation Serif', serif" font-size="22" font-weight="bold" text-anchor="start" fill="#111">d</text>
<rect x="30.4" y="231.8" width="120.6" height="178" fill="#ffffff"/>
<rect x="30.4" y="235.5" width="120.6" height="170" fill="url(#gel)"/>
<ellipse cx="90.5" cy="335" rx="9" ry="42" fill="url(#gep)"/>
<ellipse cx="90.5" cy="345" rx="6" ry="20" fill="url(#gep)" opacity="0.6"/>
<ellipse cx="90" cy="248" rx="5" ry="16" fill="url(#gep)" opacity="0.75"/>
<ellipse cx="90.5" cy="390" rx="5" ry="18" fill="url(#gep)" opacity="0.45"/>
<rect x="86.3" y="288.4" width="1.8" height="1.8" fill="#e87028" opacity="0.6"/>
<rect x="95.1" y="343.8" width="1" height="1" fill="#e87028" opacity="0.6"/>
<rect x="91.2" y="328" width="0.9" height="1" fill="#e87028" opacity="0.6"/>
<rect x="93.6" y="351.1" width="1.1" height="1.8" fill="#e87028" opacity="0.6"/>
<rect x="92.2" y="291" width="1.1" height="1.3" fill="#e87028" opacity="0.6"/>
<rect x="88.1" y="241.9" width="1.3" height="1.3" fill="#e87028" opacity="0.6"/>
<rect x="92.7" y="242" width="0.8" height="2" fill="#e87028" opacity="0.6"/>
<rect x="87.9" y="275.4" width="1.1" height="0.8" fill="#e87028" opacity="0.6"/>
<rect x="89.3" y="255.4" width="1.4" height="1.1" fill="#e87028" opacity="0.6"/>
<rect x="86" y="284.4" width="2" height="1.2" fill="#e87028" opacity="0.6"/>
<rect x="91.9" y="393.4" width="1.8" height="0.8" fill="#e87028" opacity="0.6"/>
<rect x="89.3" y="350.2" width="1.8" height="1.6" fill="#e87028" opacity="0.6"/>
<rect x="91.3" y="325.2" width="1.4" height="1.1" fill="#e87028" opacity="0.6"/>
<rect x="88.6" y="301.9" width="1" height="1.6" fill="#e87028" opacity="0.6"/>
<rect x="91.4" y="328.8" width="1.5" height="1.9" fill="#e87028" opacity="0.6"/>
<rect x="85.7" y="365.9" width="1.5" height="1.2" fill="#e87028" opacity="0.6"/>
<rect x="89.4" y="383.8" width="1.2" height="1.6" fill="#e87028" opacity="0.6"/>
<rect x="91.7" y="384.4" width="1.6" height="1.6" fill="#e87028" opacity="0.6"/>
<rect x="91.2" y="385.3" width="1.4" height="1.7" fill="#e87028" opacity="0.6"/>
<rect x="86.8" y="289.2" width="0.9" height="1.5" fill="#e87028" opacity="0.6"/>
<rect x="90.6" y="365.4" width="1.9" height="1" fill="#e87028" opacity="0.6"/>
<rect x="95.8" y="261" width="1.4" height="1.2" fill="#e87028" opacity="0.6"/>
<rect x="94.3" y="387.2" width="1.8" height="1.6" fill="#e87028" opacity="0.6"/>
<rect x="90.4" y="266.9" width="2" height="1" fill="#e87028" opacity="0.6"/>
<rect x="89.9" y="251.8" width="1.4" height="1.3" fill="#e87028" opacity="0.6"/>
<rect x="90.7" y="387.9" width="1.3" height="1.8" fill="#e87028" opacity="0.6"/>
<rect x="88.3" y="360.9" width="1.2" height="1.4" fill="#e87028" opacity="0.6"/>
<rect x="89.2" y="301.2" width="1.6" height="1.4" fill="#e87028" opacity="0.6"/>
<rect x="81.3" y="290.1" width="1" height="1.2" fill="#e87028" opacity="0.6"/>
<rect x="83.2" y="241.9" width="0.9" height="0.9" fill="#e87028" opacity="0.6"/>
<rect x="93.3" y="305.5" width="2" height="1.8" fill="#e87028" opacity="0.6"/>
<rect x="85.9" y="330.8" width="1.5" height="0.8" fill="#e87028" opacity="0.6"/>
<rect x="90.1" y="299.4" width="0.9" height="1.5" fill="#e87028" opacity="0.6"/>
<rect x="95.4" y="298.2" width="1.4" height="1.3" fill="#e87028" opacity="0.6"/>
<rect x="89.8" y="255.8" width="1.5" height="0.9" fill="#e87028" opacity="0.6"/>
<rect x="84.3" y="332.9" width="1.8" height="2" fill="#e87028" opacity="0.6"/>
<rect x="97.4" y="357.6" width="1.6" height="1.1" fill="#e87028" opacity="0.6"/>
<rect x="92.5" y="382.6" width="1.8" height="1.9" fill="#e87028" opacity="0.6"/>
<rect x="87.5" y="278.4" width="1.2" height="1.7" fill="#e87028" opacity="0.6"/>
<rect x="88.9" y="335.6" width="1.2" height="1.5" fill="#e87028" opacity="0.6"/>
<rect x="83.4" y="383.9" width="1.5" height="2" fill="#e87028" opacity="0.6"/>
<rect x="87.3" y="244.5" width="1.4" height="1.5" fill="#e87028" opacity="0.6"/>
<rect x="95.3" y="352.7" width="1.4" height="1.6" fill="#e87028" opacity="0.6"/>
<rect x="89.5" y="322.7" width="1.6" height="1.9" fill="#e87028" opacity="0.6"/>
<rect x="87.4" y="242.2" width="0.9" height="1.7" fill="#e87028" opacity="0.6"/>
<rect x="97" y="244.8" width="1.6" height="1.8" fill="#e87028" opacity="0.6"/>
<rect x="88.7" y="276.9" width="1.6" height="1.4" fill="#e87028" opacity="0.6"/>
<rect x="92.2" y="333.9" width="1.2" height="1.5" fill="#e87028" opacity="0.6"/>
<rect x="92.1" y="387.9" width="1.1" height="1.4" fill="#e87028" opacity="0.6"/>
<rect x="82" y="299.8" width="1.2" height="1.8" fill="#e87028" opacity="0.6"/>
<rect x="84.9" y="267.1" width="1.9" height="0.8" fill="#e87028" opacity="0.6"/>
<rect x="88.3" y="282" width="1.4" height="1.9" fill="#e87028" opacity="0.6"/>
<rect x="92.4" y="265.3" width="1.5" height="1.9" fill="#e87028" opacity="0.6"/>
<rect x="87.5" y="250" width="1.2" height="1" fill="#e87028" opacity="0.6"/>
<rect x="88.7" y="260.7" width="1.5" height="0.9" fill="#e87028" opacity="0.6"/>
<rect x="95.6" y="364.2" width="1.4" height="1" fill="#e87028" opacity="0.6"/>
<rect x="91.6" y="367.2" width="1.9" height="1.8" fill="#e87028" opacity="0.6"/>
<rect x="88.3" y="275.5" width="0.8" height="1.8" fill="#e87028" opacity="0.6"/>
<rect x="95.4" y="368" width="1.7" height="1.6" fill="#e87028" opacity="0.6"/>
<rect x="93.9" y="369" width="2" height="1.2" fill="#e87028" opacity="0.6"/>
<rect x="93.2" y="369.3" width="1.6" height="1.6" fill="#e87028" opacity="0.6"/>
<rect x="89.1" y="371.6" width="1.5" height="1.1" fill="#e87028" opacity="0.6"/>
<rect x="88.7" y="279" width="1.8" height="1.9" fill="#e87028" opacity="0.6"/>
<rect x="90" y="277.6" width="1.6" height="1.6" fill="#e87028" opacity="0.6"/>
<rect x="91.6" y="258.9" width="1.2" height="0.9" fill="#e87028" opacity="0.6"/>
<rect x="84.6" y="283.7" width="1.7" height="1.4" fill="#e87028" opacity="0.6"/>
<rect x="91.4" y="366.4" width="1.2" height="1.9" fill="#e87028" opacity="0.6"/>
<rect x="91.9" y="265.1" width="0.9" height="1.7" fill="#e87028" opacity="0.6"/>
<rect x="89.8" y="254.2" width="1.1" height="1.6" fill="#e87028" opacity="0.6"/>
<rect x="89.2" y="375.4" width="1.3" height="1.3" fill="#e87028" opacity="0.6"/>
<rect x="89.1" y="244.8" width="1.7" height="1.7" fill="#e87028" opacity="0.6"/>
<rect x="92.7" y="361.6" width="1.4" height="1.6" fill="#e87028" opacity="0.6"/>
<rect x="88.3" y="259.7" width="1.1" height="1.7" fill="#e87028" opacity="0.6"/>
<rect x="92.4" y="273.2" width="1.2" height="1.1" fill="#e87028" opacity="0.6"/>
<rect x="87.9" y="373.9" width="1.3" height="1.9" fill="#e87028" opacity="0.6"/>
<rect x="87.4" y="385.6" width="1.3" height="1.5" fill="#e87028" opacity="0.6"/>
<rect x="90.4" y="373.7" width="0.9" height="1.4" fill="#e87028" opacity="0.6"/>
<rect x="93.2" y="359.1" width="1" height="1.3" fill="#e87028" opacity="0.6"/>
<rect x="87.1" y="393.5" width="1.8" height="1.9" fill="#e87028" opacity="0.6"/>
<rect x="90.9" y="298.3" width="0.9" height="1.6" fill="#e87028" opacity="0.6"/>
<rect x="95.1" y="354.8" width="1.2" height="1.4" fill="#e87028" opacity="0.6"/>
<rect x="88.1" y="284.6" width="1.3" height="1.4" fill="#e87028" opacity="0.6"/>
<rect x="97.1" y="381.4" width="1.4" height="2" fill="#e87028" opacity="0.6"/>
<rect x="86" y="261.5" width="1.9" height="1.6" fill="#e87028" opacity="0.6"/>
<rect x="81.3" y="375.2" width="0.8" height="1.8" fill="#e87028" opacity="0.6"/>
<rect x="96.1" y="367" width="1.2" height="1.8" fill="#e87028" opacity="0.6"/>
<rect x="90.6" y="273.1" width="1.3" height="1" fill="#e87028" opacity="0.6"/>
<rect x="86.6" y="364" width="1.7" height="0.9" fill="#e87028" opacity="0.6"/>
<rect x="91.1" y="391.6" width="1.3" height="1.5" fill="#e87028" opacity="0.6"/>
<rect x="93.8" y="378" width="1.9" height="1.6" fill="#e87028" opacity="0.6"/>
<rect x="75.1" y="254" width="0.9" height="1.4" fill="#f4f040" opacity="0.7"/>
<rect x="120.4" y="363.7" width="1.9" height="1.6" fill="#f4f040" opacity="0.7"/>
<rect x="81.3" y="264.9" width="1.9" height="1.5" fill="#f4f040" opacity="0.7"/>
<rect x="148.9" y="291.4" width="1.3" height="2" fill="#f4f040" opacity="0.7"/>
<rect x="84.7" y="400.5" width="1.5" height="1" fill="#eca838" opacity="0.7"/>
<rect x="128" y="245.5" width="1.2" height="0.9" fill="#eca838" opacity="0.7"/>
<rect x="59.9" y="367.1" width="1.3" height="1.4" fill="#f4f040" opacity="0.7"/>
<rect x="41.1" y="359" width="1" height="1" fill="#eca838" opacity="0.7"/>
<rect x="76.9" y="390.4" width="1.8" height="1.2" fill="#eca838" opacity="0.7"/>
<rect x="48.7" y="290.6" width="1.3" height="0.9" fill="#eca838" opacity="0.7"/>
<rect x="89.5" y="241.7" width="1.7" height="1.6" fill="#e8c838" opacity="0.7"/>
<rect x="75.8" y="401.4" width="1.1" height="1.4" fill="#eca838" opacity="0.7"/>
<rect x="128.2" y="312.2" width="1.7" height="1.2" fill="#eca838" opacity="0.7"/>
<rect x="102.3" y="345.9" width="1.3" height="1.5" fill="#eca838" opacity="0.7"/>
<rect x="67.8" y="296.9" width="1.1" height="1.1" fill="#eca838" opacity="0.7"/>
<rect x="97.5" y="300.5" width="1.5" height="1.2" fill="#eca838" opacity="0.7"/>
<rect x="84.5" y="381.9" width="1.7" height="1.7" fill="#e8c838" opacity="0.7"/>
<rect x="90.9" y="332.2" width="1.1" height="1.1" fill="#f4f040" opacity="0.7"/>
<rect x="73.3" y="363.8" width="1.5" height="1.8" fill="#e8c838" opacity="0.7"/>
<rect x="41.8" y="381.4" width="1.5" height="1.7" fill="#f4f040" opacity="0.7"/>
<rect x="96.3" y="301.2" width="1.7" height="1.2" fill="#eca838" opacity="0.7"/>
<rect x="83.4" y="345" width="1.5" height="1.1" fill="#eca838" opacity="0.7"/>
<rect x="87.4" y="385.3" width="1.2" height="1.7" fill="#f4f040" opacity="0.7"/>
<rect x="62.6" y="347.8" width="1.7" height="1.6" fill="#e8c838" opacity="0.7"/>
<rect x="126.6" y="340.9" width="1.8" height="1.1" fill="#e8c838" opacity="0.7"/>
<rect x="102.5" y="358.4" width="1" height="1.2" fill="#e8c838" opacity="0.7"/>
<rect x="34.6" y="285.9" width="1.9" height="1" fill="#eca838" opacity="0.7"/>
<rect x="52.4" y="358.9" width="0.9" height="1.7" fill="#eca838" opacity="0.7"/>
<rect x="145.7" y="287" width="1.7" height="1.3" fill="#f4f040" opacity="0.7"/>
<rect x="136.3" y="393.6" width="1.1" height="1.7" fill="#f4f040" opacity="0.7"/>
<rect x="140.6" y="293.7" width="1.6" height="2" fill="#f4f040" opacity="0.7"/>
<rect x="33.6" y="291.5" width="1.2" height="1" fill="#e8c838" opacity="0.7"/>
<rect x="63" y="293.5" width="1.7" height="1.6" fill="#e8c838" opacity="0.7"/>
<rect x="33.6" y="387.1" width="1.1" height="1.1" fill="#eca838" opacity="0.7"/>
<rect x="107.3" y="293.5" width="1.4" height="1.3" fill="#eca838" opacity="0.7"/>
<rect x="100.2" y="311" width="1.2" height="1.4" fill="#f4f040" opacity="0.7"/>
<rect x="37" y="306.7" width="1.5" height="1.1" fill="#eca838" opacity="0.7"/>
<rect x="88.1" y="291.4" width="1" height="1.9" fill="#f4f040" opacity="0.7"/>
<rect x="113.4" y="275.6" width="1.1" height="1.1" fill="#eca838" opacity="0.7"/>
<rect x="114.7" y="276" width="1.4" height="1.8" fill="#e8c838" opacity="0.7"/>
<rect x="133.6" y="298.7" width="0.9" height="1.6" fill="#eca838" opacity="0.7"/>
<rect x="82.2" y="401.1" width="1" height="1.7" fill="#eca838" opacity="0.7"/>
<rect x="42.1" y="294.7" width="1.4" height="1.4" fill="#eca838" opacity="0.7"/>
<rect x="144.5" y="342.1" width="1.4" height="1" fill="#e8c838" opacity="0.7"/>
<rect x="46.9" y="272.5" width="1.7" height="1.4" fill="#e8c838" opacity="0.7"/>
<rect x="71.9" y="302.9" width="1.9" height="1.2" fill="#e8c838" opacity="0.7"/>
<rect x="137.1" y="269.6" width="1.5" height="1.9" fill="#eca838" opacity="0.7"/>
<rect x="113.3" y="313.4" width="2" height="1.1" fill="#eca838" opacity="0.7"/>
<rect x="71.8" y="261.1" width="1" height="1.5" fill="#f4f040" opacity="0.7"/>
<rect x="69.5" y="351" width="1.3" height="1.7" fill="#eca838" opacity="0.7"/>
<rect x="67.1" y="341.1" width="1.8" height="1.4" fill="#e8c838" opacity="0.7"/>
<rect x="127.9" y="286.6" width="1.5" height="0.8" fill="#e8c838" opacity="0.7"/>
<rect x="53" y="270.3" width="1.2" height="1.5" fill="#eca838" opacity="0.7"/>
<rect x="147" y="395.1" width="1.9" height="0.9" fill="#f4f040" opacity="0.7"/>
<rect x="131.8" y="243.4" width="1" height="1.4" fill="#e8c838" opacity="0.7"/>
<rect x="83.7" y="336" width="1.8" height="1.1" fill="#eca838" opacity="0.7"/>
<rect x="80.4" y="331" width="1.4" height="1.1" fill="#e8c838" opacity="0.7"/>
<rect x="149.4" y="360.3" width="1.1" height="1" fill="#f4f040" opacity="0.7"/>
<rect x="110.4" y="333.9" width="1" height="1.3" fill="#eca838" opacity="0.7"/>
<rect x="83.3" y="353.2" width="1.4" height="2" fill="#e8c838" opacity="0.7"/>
<rect x="144.5" y="377.3" width="1.7" height="0.9" fill="#f4f040" opacity="0.7"/>
<rect x="48.1" y="365.5" width="1" height="1.7" fill="#e8c838" opacity="0.7"/>
<rect x="126.6" y="258.1" width="1.9" height="1.3" fill="#e8c838" opacity="0.7"/>
<rect x="42" y="255.4" width="1.9" height="1.2" fill="#eca838" opacity="0.7"/>
<rect x="137" y="321.9" width="1.4" height="2" fill="#eca838" opacity="0.7"/>
<rect x="48.2" y="251.5" width="1.1" height="1.1" fill="#eca838" opacity="0.7"/>
<rect x="81.3" y="241.8" width="1.9" height="1.4" fill="#f4f040" opacity="0.7"/>
<rect x="114.3" y="358.6" width="1.7" height="1.2" fill="#f4f040" opacity="0.7"/>
<rect x="106.7" y="260.1" width="1.6" height="1.4" fill="#e8c838" opacity="0.7"/>
<rect x="51.8" y="293.8" width="1.8" height="1.8" fill="#eca838" opacity="0.7"/>
<rect x="118.4" y="310.1" width="0.9" height="1.7" fill="#e8c838" opacity="0.7"/>
<rect x="108.5" y="367" width="1.4" height="1.5" fill="#f4f040" opacity="0.7"/>
<rect x="108.5" y="346.2" width="1.5" height="1.4" fill="#e8c838" opacity="0.7"/>
<rect x="99.6" y="257.7" width="1.3" height="1.3" fill="#e8c838" opacity="0.7"/>
<rect x="60.3" y="323.2" width="1.4" height="1" fill="#e8c838" opacity="0.7"/>
<rect x="75.8" y="399.3" width="0.9" height="0.8" fill="#f4f040" opacity="0.7"/>
<rect x="45.5" y="319.3" width="1" height="0.9" fill="#eca838" opacity="0.7"/>
<rect x="60.2" y="238.6" width="1.8" height="1.9" fill="#e8c838" opacity="0.7"/>
<rect x="134.7" y="349.2" width="1.9" height="1.9" fill="#eca838" opacity="0.7"/>
<rect x="130.7" y="276.5" width="1.1" height="1.6" fill="#e8c838" opacity="0.7"/>
<rect x="84.4" y="255.6" width="1" height="1.8" fill="#e8c838" opacity="0.7"/>
<rect x="45.5" y="335.7" width="2" height="1.7" fill="#e8c838" opacity="0.7"/>
<rect x="140" y="398.6" width="1.3" height="1.1" fill="#f4f040" opacity="0.7"/>
<rect x="127.5" y="347.8" width="1.4" height="1.9" fill="#f4f040" opacity="0.7"/>
<rect x="47.4" y="352.9" width="0.8" height="1.3" fill="#f4f040" opacity="0.7"/>
<rect x="141.6" y="358.7" width="0.9" height="1.1" fill="#e8c838" opacity="0.7"/>
<rect x="57.6" y="386.1" width="0.9" height="1.5" fill="#eca838" opacity="0.7"/>
<rect x="117.9" y="323" width="2" height="1.7" fill="#eca838" opacity="0.7"/>
<rect x="70.6" y="337.8" width="0.9" height="1.3" fill="#f4f040" opacity="0.7"/>
<rect x="52.7" y="320" width="1.8" height="1.3" fill="#e8c838" opacity="0.7"/>
<rect x="98.1" y="264.8" width="1.2" height="1.5" fill="#f4f040" opacity="0.7"/>
<rect x="63.6" y="389.2" width="1.6" height="1.3" fill="#f4f040" opacity="0.7"/>
<rect x="50.4" y="280" width="1.3" height="1.9" fill="#eca838" opacity="0.7"/>
<rect x="101.3" y="310.6" width="1.9" height="1.7" fill="#eca838" opacity="0.7"/>
<rect x="78.6" y="363.6" width="1.3" height="1.4" fill="#e8c838" opacity="0.7"/>
<rect x="50.3" y="297.3" width="0.9" height="1.8" fill="#f4f040" opacity="0.7"/>
<rect x="61.6" y="400.3" width="1.4" height="1.6" fill="#e8c838" opacity="0.7"/>
<rect x="147.8" y="374.8" width="1" height="1.9" fill="#f4f040" opacity="0.7"/>
<rect x="128.6" y="322.2" width="1.5" height="1" fill="#f4f040" opacity="0.7"/>
<rect x="71.7" y="350.5" width="1.5" height="0.8" fill="#f4f040" opacity="0.7"/>
<rect x="120.2" y="267.3" width="2" height="0.9" fill="#eca838" opacity="0.7"/>
<rect x="129.1" y="328.4" width="1.2" height="1.1" fill="#e8c838" opacity="0.7"/>
<rect x="129.3" y="368.3" width="1.6" height="1.6" fill="#eca838" opacity="0.7"/>
<rect x="114.4" y="384.7" width="1.6" height="0.9" fill="#eca838" opacity="0.7"/>
<rect x="34.7" y="331.1" width="1.8" height="0.9" fill="#f4f040" opacity="0.7"/>
<rect x="101.1" y="308.2" width="1.1" height="2" fill="#e8c838" opacity="0.7"/>
<rect x="85.6" y="378.6" width="1.2" height="2" fill="#eca838" opacity="0.7"/>
<rect x="78.9" y="367" width="1.7" height="1.5" fill="#f4f040" opacity="0.7"/>
<rect x="43.9" y="269.4" width="1.8" height="2" fill="#f4f040" opacity="0.7"/>
<rect x="115.9" y="290.4" width="1.1" height="1.5" fill="#eca838" opacity="0.7"/>
<rect x="148.2" y="243.3" width="1.5" height="1.2" fill="#eca838" opacity="0.7"/>
<rect x="109.2" y="293.1" width="1.1" height="1.6" fill="#f4f040" opacity="0.7"/>
<rect x="145.4" y="322.7" width="1.2" height="1.5" fill="#eca838" opacity="0.7"/>
<rect x="97.2" y="241.2" width="1.2" height="1.4" fill="#eca838" opacity="0.7"/>
<rect x="97.3" y="358.1" width="1.9" height="1.4" fill="#eca838" opacity="0.7"/>
<rect x="75.9" y="250.5" width="1.6" height="1.8" fill="#eca838" opacity="0.7"/>
<rect x="103.1" y="367.4" width="1" height="1.2" fill="#f4f040" opacity="0.7"/>
<rect x="145.9" y="321.1" width="1" height="1.9" fill="#f4f040" opacity="0.7"/>
<rect x="50.3" y="346.7" width="1.2" height="1" fill="#eca838" opacity="0.7"/>
<rect x="84.5" y="266.3" width="1.2" height="1" fill="#e8c838" opacity="0.7"/>
<ellipse cx="135" cy="285" rx="22" ry="30" fill="url(#geg)" opacity="0.35"/>
<rect x="127" y="318" width="24" height="10" fill="#98d840" opacity="0.6"/>
<rect x="127" y="331" width="24" height="12" fill="#60c840" opacity="0.75"/>
<rect x="30.4" y="235.5" width="120.6" height="170" filter="url(#nz)" opacity="0.2"/>
<rect x="30.4" y="235.5" width="120.6" height="1.4" fill="#fff" opacity="0"/>
<rect x="30.4" y="239.8" width="120.6" height="1.3" fill="#fff" opacity="0"/>
<rect x="30.4" y="244.2" width="120.6" height="1.6" fill="#000" opacity="0"/>
<rect x="30.4" y="248.2" width="120.6" height="1" fill="#fff" opacity="0"/>
<rect x="30.4" y="251.9" width="120.6" height="1.3" fill="#000" opacity="0"/>
<rect x="30.4" y="256.4" width="120.6" height="1.2" fill="#fff" opacity="0"/>
<rect x="30.4" y="259.6" width="120.6" height="1.6" fill="#000" opacity="0"/>
<rect x="30.4" y="263.1" width="120.6" height="1" fill="#fff" opacity="0"/>
<rect x="30.4" y="267.4" width="120.6" height="1.1" fill="#fff" opacity="0"/>
<rect x="30.4" y="270.6" width="120.6" height="1.1" fill="#000" opacity="0"/>
<rect x="30.4" y="274.7" width="120.6" height="1.2" fill="#fff" opacity="0"/>
<rect x="30.4" y="278.6" width="120.6" height="1.2" fill="#fff" opacity="0"/>
<rect x="30.4" y="281.7" width="120.6" height="1.7" fill="#000" opacity="0"/>
<rect x="30.4" y="285.8" width="120.6" height="1.2" fill="#000" opacity="0"/>
<rect x="30.4" y="289.6" width="120.6" height="1.4" fill="#000" opacity="0"/>
<rect x="30.4" y="293.5" width="120.6" height="0.9" fill="#000" opacity="0"/>
<rect x="30.4" y="296.7" width="120.6" height="1.5" fill="#000" opacity="0"/>
<rect x="30.4" y="299.8" width="120.6" height="0.8" fill="#000" opacity="0"/>
<rect x="30.4" y="304.3" width="120.6" height="1.2" fill="#000" opacity="0"/>
<rect x="30.4" y="308.1" width="120.6" height="1.7" fill="#fff" opacity="0"/>
<rect x="30.4" y="312.4" width="120.6" height="0.8" fill="#000" opacity="0"/>
<rect x="30.4" y="315.9" width="120.6" height="1.5" fill="#fff" opacity="0"/>
<rect x="30.4" y="319" width="120.6" height="1.2" fill="#000" opacity="0"/>
<rect x="30.4" y="322.7" width="120.6" height="1.4" fill="#fff" opacity="0"/>
<rect x="30.4" y="325.7" width="120.6" height="1.7" fill="#fff" opacity="0"/>
<rect x="30.4" y="329.6" width="120.6" height="0.8" fill="#fff" opacity="0"/>
<rect x="30.4" y="333.9" width="120.6" height="1.2" fill="#000" opacity="0"/>
<rect x="30.4" y="337" width="120.6" height="0.9" fill="#000" opacity="0"/>
<rect x="30.4" y="340.6" width="120.6" height="1" fill="#fff" opacity="0"/>
<rect x="30.4" y="344.3" width="120.6" height="1.3" fill="#fff" opacity="0"/>
<rect x="30.4" y="348.2" width="120.6" height="1.3" fill="#fff" opacity="0"/>
<rect x="30.4" y="352.7" width="120.6" height="1.5" fill="#fff" opacity="0"/>
<rect x="30.4" y="355.9" width="120.6" height="1.1" fill="#000" opacity="0"/>
<rect x="30.4" y="360.4" width="120.6" height="1.5" fill="#000" opacity="0"/>
<rect x="30.4" y="363.7" width="120.6" height="1" fill="#000" opacity="0"/>
<rect x="30.4" y="367.2" width="120.6" height="0.8" fill="#fff" opacity="0"/>
<rect x="30.4" y="371.3" width="120.6" height="1.4" fill="#fff" opacity="0"/>
<rect x="30.4" y="375.2" width="120.6" height="1.4" fill="#000" opacity="0"/>
<rect x="30.4" y="378.9" width="120.6" height="1.1" fill="#000" opacity="0"/>
<rect x="30.4" y="383.4" width="120.6" height="1.1" fill="#000" opacity="0"/>
<rect x="30.4" y="387.8" width="120.6" height="1.3" fill="#000" opacity="0"/>
<rect x="30.4" y="391.3" width="120.6" height="1.4" fill="#000" opacity="0"/>
<rect x="30.4" y="395.3" width="120.6" height="1.7" fill="#fff" opacity="0"/>
<rect x="30.4" y="398.5" width="120.6" height="1.6" fill="#fff" opacity="0"/>
<rect x="30.4" y="402.6" width="120.6" height="1.6" fill="#000" opacity="0"/>
<rect x="30.4" y="231.8" width="120.6" height="178" fill="none" stroke="#151515" stroke-width="1.3"/>
<line x1="41" y1="390" x2="41" y2="256" stroke="#fff8e0" stroke-width="2.2"/>
<polygon points="37,257 45,257 41,249" fill="#fff8e0"/>
<text x="32.5" y="242.5" font-family="'Liberation Sans', sans-serif" font-size="9.5" font-weight="bold" text-anchor="start" fill="#222">0.13</text>
<text x="32.5" y="288.5" font-family="'Liberation Sans', sans-serif" font-size="9.5" font-weight="bold" text-anchor="start" fill="#222">1.20</text>
<text x="32.5" y="341.5" font-family="'Liberation Sans', sans-serif" font-size="9.5" font-weight="bold" text-anchor="start" fill="#222">0.13</text>
<text x="32.5" y="405.5" font-family="'Liberation Sans', sans-serif" font-size="9.5" font-weight="bold" text-anchor="start" fill="#222">OCV</text>
<text x="68" y="307.5" font-family="'Liberation Sans', sans-serif" font-size="9.5" font-weight="bold" text-anchor="middle" fill="#c05a20">BZS</text>
<line x1="30.4" y1="409.8" x2="30.4" y2="412.8" stroke="#222" stroke-width="1"/>
<text x="30.4" y="423.3" font-family="'Liberation Serif', serif" font-size="10" font-weight="bold" text-anchor="middle" fill="#111">8.5</text>
<line x1="54.5" y1="409.8" x2="54.5" y2="412.8" stroke="#222" stroke-width="1"/>
<text x="54.5" y="423.3" font-family="'Liberation Serif', serif" font-size="10" font-weight="bold" text-anchor="middle" fill="#111">8.6</text>
<line x1="78.6" y1="409.8" x2="78.6" y2="412.8" stroke="#222" stroke-width="1"/>
<text x="78.6" y="423.3" font-family="'Liberation Serif', serif" font-size="10" font-weight="bold" text-anchor="middle" fill="#111">8.7</text>
<line x1="102.8" y1="409.8" x2="102.8" y2="412.8" stroke="#222" stroke-width="1"/>
<text x="102.8" y="423.3" font-family="'Liberation Serif', serif" font-size="10" font-weight="bold" text-anchor="middle" fill="#111">8.8</text>
<line x1="126.9" y1="409.8" x2="126.9" y2="412.8" stroke="#222" stroke-width="1"/>
<text x="126.9" y="423.3" font-family="'Liberation Serif', serif" font-size="10" font-weight="bold" text-anchor="middle" fill="#111">8.9</text>
<line x1="151" y1="409.8" x2="151" y2="412.8" stroke="#222" stroke-width="1"/>
<text x="151" y="423.3" font-family="'Liberation Serif', serif" font-size="10" font-weight="bold" text-anchor="middle" fill="#111">9.0</text>
<text x="86" y="433.5" font-family="'Liberation Serif', serif" font-size="11" font-weight="bold" text-anchor="middle" fill="#111">2 theta (degree), &#955; = 0.6877 &#197;</text>
<rect x="152.5" y="247" width="10.7" height="3" fill="#ffffff"/>
<rect x="152.5" y="250" width="10.7" height="3.2" fill="#eb1200"/>
<rect x="152.5" y="252.7" width="10.7" height="3.2" fill="#ee1f00"/>
<rect x="152.5" y="255.3" width="10.7" height="3.2" fill="#f22d00"/>
<rect x="152.5" y="257.9" width="10.7" height="3.2" fill="#f63b00"/>
<rect x="152.5" y="260.6" width="10.7" height="3.2" fill="#fa4800"/>
<rect x="152.5" y="263.2" width="10.7" height="3.2" fill="#fe5600"/>
<rect x="152.5" y="265.9" width="10.7" height="3.2" fill="#fe6300"/>
<rect x="152.5" y="268.6" width="10.7" height="3.2" fill="#fe6f00"/>
<rect x="152.5" y="271.2" width="10.7" height="3.2" fill="#fd7b00"/>
<rect x="152.5" y="273.9" width="10.7" height="3.2" fill="#fd8700"/>
<rect x="152.5" y="276.5" width="10.7" height="3.2" fill="#fd9400"/>
<rect x="152.5" y="279.1" width="10.7" height="3.2" fill="#fca000"/>
<rect x="152.5" y="281.8" width="10.7" height="3.2" fill="#fcac00"/>
<rect x="152.5" y="284.4" width="10.7" height="3.2" fill="#fcb800"/>
<rect x="152.5" y="287.1" width="10.7" height="3.2" fill="#fbc400"/>
<rect x="152.5" y="289.8" width="10.7" height="3.2" fill="#fbd100"/>
<rect x="152.5" y="292.4" width="10.7" height="3.2" fill="#fadd00"/>
<rect x="152.5" y="295.1" width="10.7" height="3.2" fill="#fae900"/>
<rect x="152.5" y="297.7" width="10.7" height="3.2" fill="#faf500"/>
<rect x="152.5" y="300.4" width="10.7" height="3.2" fill="#effa09"/>
<rect x="152.5" y="303" width="10.7" height="3.2" fill="#defb19"/>
<rect x="152.5" y="305.6" width="10.7" height="3.2" fill="#cefb28"/>
<rect x="152.5" y="308.3" width="10.7" height="3.2" fill="#bdfc37"/>
<rect x="152.5" y="310.9" width="10.7" height="3.2" fill="#adfc46"/>
<rect x="152.5" y="313.6" width="10.7" height="3.2" fill="#9cfd56"/>
<rect x="152.5" y="316.2" width="10.7" height="3.2" fill="#8cfe65"/>
<rect x="152.5" y="318.9" width="10.7" height="3.2" fill="#7bfe74"/>
<rect x="152.5" y="321.6" width="10.7" height="3.2" fill="#6efd82"/>
<rect x="152.5" y="324.2" width="10.7" height="3.2" fill="#62fa90"/>
<rect x="152.5" y="326.9" width="10.7" height="3.2" fill="#56f79e"/>
<rect x="152.5" y="329.5" width="10.7" height="3.2" fill="#49f5ab"/>
<rect x="152.5" y="332.1" width="10.7" height="3.2" fill="#3df2b9"/>
<rect x="152.5" y="334.8" width="10.7" height="3.2" fill="#31f0c7"/>
<rect x="152.5" y="337.4" width="10.7" height="3.2" fill="#25edd5"/>
<rect x="152.5" y="340.1" width="10.7" height="3.2" fill="#19ebe2"/>
<rect x="152.5" y="342.8" width="10.7" height="3.2" fill="#0ce8f0"/>
<rect x="152.5" y="345.4" width="10.7" height="3.2" fill="#00e6fe"/>
<rect x="152.5" y="348.1" width="10.7" height="3.2" fill="#00d8ff"/>
<rect x="152.5" y="350.7" width="10.7" height="3.2" fill="#00caff"/>
<rect x="152.5" y="353.4" width="10.7" height="3.2" fill="#00bcff"/>
<rect x="152.5" y="356" width="10.7" height="3.2" fill="#00aeff"/>
<rect x="152.5" y="358.6" width="10.7" height="3.2" fill="#00a0ff"/>
<rect x="152.5" y="361.3" width="10.7" height="3.2" fill="#0092ff"/>
<rect x="152.5" y="363.9" width="10.7" height="3.2" fill="#0084ff"/>
<rect x="152.5" y="366.6" width="10.7" height="3.2" fill="#0076ff"/>
<rect x="152.5" y="369.2" width="10.7" height="3.2" fill="#0068ff"/>
<rect x="152.5" y="371.9" width="10.7" height="3.2" fill="#005aff"/>
<rect x="152.5" y="374.6" width="10.7" height="3.2" fill="#004cff"/>
<rect x="152.5" y="377.2" width="10.7" height="3.2" fill="#003eff"/>
<rect x="152.5" y="379.9" width="10.7" height="3.2" fill="#0030ff"/>
<rect x="152.5" y="382.5" width="10.7" height="3.2" fill="#0022ff"/>
<rect x="152.5" y="385.1" width="10.7" height="3.2" fill="#0014ff"/>
<rect x="152.5" y="387.8" width="10.7" height="3.2" fill="#0006ff"/>
<rect x="152.5" y="390.4" width="10.7" height="3.2" fill="#0000f2"/>
<rect x="152.5" y="393.1" width="10.7" height="3.2" fill="#0000dc"/>
<rect x="152.5" y="395.8" width="10.7" height="3.2" fill="#0000c6"/>
<rect x="152.5" y="398.4" width="10.7" height="3.2" fill="#0000b0"/>
<rect x="152.5" y="401" width="10.7" height="3.2" fill="#00009a"/>
<rect x="152.5" y="403.7" width="10.7" height="3.2" fill="#000084"/>
<rect x="152.5" y="406.4" width="10.7" height="3.2" fill="#00006e"/>
<rect x="152.5" y="247" width="10.7" height="162" fill="none" stroke="#222" stroke-width="0.8"/>
<line x1="163.2" y1="250" x2="165.2" y2="250" stroke="#222" stroke-width="0.8"/>
<text x="166.2" y="252.5" font-family="'Liberation Sans', sans-serif" font-size="6.8" font-weight="bold" text-anchor="start" fill="#222">2550</text>
<line x1="163.2" y1="269.9" x2="165.2" y2="269.9" stroke="#222" stroke-width="0.8"/>
<text x="166.2" y="272.4" font-family="'Liberation Sans', sans-serif" font-size="6.8" font-weight="bold" text-anchor="start" fill="#222">2349</text>
<line x1="163.2" y1="289.8" x2="165.2" y2="289.8" stroke="#222" stroke-width="0.8"/>
<text x="166.2" y="292.2" font-family="'Liberation Sans', sans-serif" font-size="6.8" font-weight="bold" text-anchor="start" fill="#222">2148</text>
<line x1="163.2" y1="309.6" x2="165.2" y2="309.6" stroke="#222" stroke-width="0.8"/>
<text x="166.2" y="312.1" font-family="'Liberation Sans', sans-serif" font-size="6.8" font-weight="bold" text-anchor="start" fill="#222">1946</text>
<line x1="163.2" y1="329.5" x2="165.2" y2="329.5" stroke="#222" stroke-width="0.8"/>
<text x="166.2" y="332" font-family="'Liberation Sans', sans-serif" font-size="6.8" font-weight="bold" text-anchor="start" fill="#222">1745</text>
<line x1="163.2" y1="349.4" x2="165.2" y2="349.4" stroke="#222" stroke-width="0.8"/>
<text x="166.2" y="351.9" font-family="'Liberation Sans', sans-serif" font-size="6.8" font-weight="bold" text-anchor="start" fill="#222">1544</text>
<line x1="163.2" y1="369.2" x2="165.2" y2="369.2" stroke="#222" stroke-width="0.8"/>
<text x="166.2" y="371.8" font-family="'Liberation Sans', sans-serif" font-size="6.8" font-weight="bold" text-anchor="start" fill="#222">1343</text>
<line x1="163.2" y1="389.1" x2="165.2" y2="389.1" stroke="#222" stroke-width="0.8"/>
<text x="166.2" y="391.6" font-family="'Liberation Sans', sans-serif" font-size="6.8" font-weight="bold" text-anchor="start" fill="#222">1141</text>
<line x1="163.2" y1="409" x2="165.2" y2="409" stroke="#222" stroke-width="0.8"/>
<text x="166.2" y="411.5" font-family="'Liberation Sans', sans-serif" font-size="6.8" font-weight="bold" text-anchor="start" fill="#222">940.0</text>
<text x="166.8" y="234.7" font-family="'Liberation Serif', serif" font-size="7.2" font-weight="bold" text-anchor="middle" fill="#222">Intensity</text>
<text x="166.8" y="244.5" font-family="'Liberation Serif', serif" font-size="7.2" font-weight="bold" text-anchor="middle" fill="#222">(N)</text>
<text x="7" y="246" font-family="'Liberation Serif', serif" font-size="22" font-weight="bold" text-anchor="start" fill="#111">e</text>
<rect x="203.7" y="232.4" width="121.4" height="175.9" fill="#ffffff"/>
<polygon points="238.7,269.5 237.6,269.4 236.5,269.4 235.4,269.2 234.3,268.9 233.2,268.5 232.1,267.7 231,266.6 229.9,265.2 228.8,263.6 227.7,262.2 226.6,261.1 225.5,260.8 224.4,261.1 223.3,262.1 222.2,263.5 221.1,265 220,266.4 218.9,267.4 217.8,268.2 216.7,268.6 215.6,268.8 214.5,268.9 213.4,269 212.3,269 212.3,269 213.4,269 214.5,269 215.6,269.1 216.7,269.1 217.8,269.1 218.9,269.1 220,269.1 221.1,269.2 222.2,269.2 223.3,269.2 224.4,269.2 225.5,269.2 226.6,269.3 227.7,269.3 228.8,269.3 229.9,269.3 231,269.4 232.1,269.4 233.2,269.4 234.3,269.4 235.4,269.4 236.5,269.5 237.6,269.5 238.7,269.5" fill="#8cc8e8" opacity="0.9"/>
<polyline points="238.7,269.5 237.6,269.4 236.5,269.4 235.4,269.2 234.3,268.9 233.2,268.5 232.1,267.7 231,266.6 229.9,265.2 228.8,263.6 227.7,262.2 226.6,261.1 225.5,260.8 224.4,261.1 223.3,262.1 222.2,263.5 221.1,265 220,266.4 218.9,267.4 217.8,268.2 216.7,268.6 215.6,268.8 214.5,268.9 213.4,269 212.3,269" fill="none" stroke="#2a6a90" stroke-width="1" stroke-linejoin="round" stroke-linecap="round"/>
<polygon points="323.1,271.1 322,271.1 320.9,271 319.8,270.8 318.7,270.6 317.6,270.1 316.5,269.3 315.4,268.2 314.3,266.8 313.2,265.3 312.1,263.8 311,262.8 309.9,262.4 308.8,262.7 307.7,263.7 306.6,265.1 305.5,266.6 304.4,268 303.3,269.1 302.2,269.8 301.1,270.2 300,270.4 298.9,270.6 297.8,270.6 296.7,270.6 296.7,270.6 297.8,270.6 298.9,270.6 300,270.7 301.1,270.7 302.2,270.7 303.3,270.7 304.4,270.8 305.5,270.8 306.6,270.8 307.7,270.8 308.8,270.8 309.9,270.9 311,270.9 312.1,270.9 313.2,270.9 314.3,270.9 315.4,271 316.5,271 317.6,271 318.7,271 319.8,271 320.9,271.1 322,271.1 323.1,271.1" fill="#8cc8e8" opacity="0.9"/>
<polyline points="323.1,271.1 322,271.1 320.9,271 319.8,270.8 318.7,270.6 317.6,270.1 316.5,269.3 315.4,268.2 314.3,266.8 313.2,265.3 312.1,263.8 311,262.8 309.9,262.4 308.8,262.7 307.7,263.7 306.6,265.1 305.5,266.6 304.4,268 303.3,269.1 302.2,269.8 301.1,270.2 300,270.4 298.9,270.6 297.8,270.6 296.7,270.6" fill="none" stroke="#2a6a90" stroke-width="1" stroke-linejoin="round" stroke-linecap="round"/>
<polyline points="203.7,268.6 325.1,270.8" fill="none" stroke="#111" stroke-width="2.6" stroke-linejoin="round" stroke-linecap="round"/>
<line x1="203.7" y1="272.5" x2="325.1" y2="272.5" stroke="#555" stroke-width="0.6"/>
<polygon points="228.5,346.9 227.7,346.8 227,346.6 226.3,346.4 225.5,346 224.8,345.3 224.1,344.3 223.3,342.9 222.6,341 221.9,338.7 221.1,336.1 220.4,333.5 219.7,331.3 218.9,329.7 218.2,329.2 217.5,329.6 216.7,331 216,333.2 215.3,335.6 214.5,338.1 213.8,340.3 213.1,342.1 212.3,343.4 211.6,344.3 210.9,344.8 210.1,345.1 209.4,345.3 208.7,345.3 207.9,345.3 207.9,345.4 208.7,345.4 209.4,345.5 210.1,345.5 210.9,345.6 211.6,345.6 212.3,345.7 213.1,345.8 213.8,345.8 214.5,345.9 215.3,345.9 216,346 216.7,346 217.5,346.1 218.2,346.2 218.9,346.2 219.7,346.3 220.4,346.3 221.1,346.4 221.9,346.4 222.6,346.5 223.3,346.6 224.1,346.6 224.8,346.7 225.5,346.7 226.3,346.8 227,346.8 227.7,346.9 228.5,346.9" fill="#e070a0" opacity="0.75"/>
<polyline points="228.5,346.9 227.7,346.8 227,346.6 226.3,346.4 225.5,346 224.8,345.3 224.1,344.3 223.3,342.9 222.6,341 221.9,338.7 221.1,336.1 220.4,333.5 219.7,331.3 218.9,329.7 218.2,329.2 217.5,329.6 216.7,331 216,333.2 215.3,335.6 214.5,338.1 213.8,340.3 213.1,342.1 212.3,343.4 211.6,344.3 210.9,344.8 210.1,345.1 209.4,345.3 208.7,345.3 207.9,345.3" fill="none" stroke="#864360" stroke-width="0.8" stroke-linejoin="round" stroke-linecap="round"/>
<polygon points="310,353.2 309.4,353 308.8,352.6 308.1,352 307.5,351 306.8,349.2 306.2,346.5 305.6,342.5 304.9,337.3 304.3,330.9 303.6,323.7 303,316.5 302.3,310.3 301.7,306.1 301.1,304.6 300.4,306 299.8,310.1 299.1,316.2 298.5,323.3 297.9,330.4 297.2,336.7 296.6,341.9 295.9,345.7 295.3,348.3 294.6,350 294,350.9 293.4,351.4 292.7,351.7 292.1,351.8 292.1,351.9 292.7,351.9 293.4,352 294,352 294.6,352.1 295.3,352.1 295.9,352.2 296.6,352.2 297.2,352.3 297.9,352.3 298.5,352.4 299.1,352.4 299.8,352.5 300.4,352.5 301.1,352.6 301.7,352.6 302.3,352.7 303,352.7 303.6,352.8 304.3,352.8 304.9,352.9 305.6,352.9 306.2,353 306.8,353 307.5,353.1 308.1,353.1 308.8,353.2 309.4,353.2 310,353.3" fill="#e070a0" opacity="0.75"/>
<polyline points="310,353.2 309.4,353 308.8,352.6 308.1,352 307.5,351 306.8,349.2 306.2,346.5 305.6,342.5 304.9,337.3 304.3,330.9 303.6,323.7 303,316.5 302.3,310.3 301.7,306.1 301.1,304.6 300.4,306 299.8,310.1 299.1,316.2 298.5,323.3 297.9,330.4 297.2,336.7 296.6,341.9 295.9,345.7 295.3,348.3 294.6,350 294,350.9 293.4,351.4 292.7,351.7 292.1,351.8" fill="none" stroke="#864360" stroke-width="0.8" stroke-linejoin="round" stroke-linecap="round"/>
<polygon points="234,347.4 233,347.3 232.1,347.1 231.2,347 230.3,346.7 229.4,346.3 228.5,345.7 227.5,344.9 226.6,343.9 225.7,342.6 224.8,341.2 223.9,339.8 223,338.6 222,337.7 221.1,337.4 220.2,337.6 219.3,338.3 218.4,339.4 217.5,340.6 216.5,341.9 215.6,343 214.7,343.9 213.8,344.6 212.9,345 212,345.3 211,345.4 210.1,345.4 209.2,345.4 208.3,345.4 208.3,345.4 209.2,345.5 210.1,345.5 211,345.6 212,345.7 212.9,345.7 213.8,345.8 214.7,345.9 215.6,346 216.5,346 217.5,346.1 218.4,346.2 219.3,346.2 220.2,346.3 221.1,346.4 222,346.5 223,346.5 223.9,346.6 224.8,346.7 225.7,346.7 226.6,346.8 227.5,346.9 228.5,346.9 229.4,347 230.3,347.1 231.2,347.2 232.1,347.2 233,347.3 234,347.4" fill="#a0d098" opacity="0.75"/>
<polyline points="234,347.4 233,347.3 232.1,347.1 231.2,347 230.3,346.7 229.4,346.3 228.5,345.7 227.5,344.9 226.6,343.9 225.7,342.6 224.8,341.2 223.9,339.8 223,338.6 222,337.7 221.1,337.4 220.2,337.6 219.3,338.3 218.4,339.4 217.5,340.6 216.5,341.9 215.6,343 214.7,343.9 213.8,344.6 212.9,345 212,345.3 211,345.4 210.1,345.4 209.2,345.4 208.3,345.4" fill="none" stroke="#607c5b" stroke-width="0.8" stroke-linejoin="round" stroke-linecap="round"/>
<polygon points="315.9,353.7 315.1,353.5 314.3,353.3 313.4,352.9 312.6,352.2 311.8,351 311,349.3 310.1,346.8 309.3,343.5 308.5,339.4 307.7,334.9 306.8,330.4 306,326.5 305.2,323.8 304.4,322.8 303.5,323.7 302.7,326.2 301.9,330 301.1,334.4 300.2,338.8 299.4,342.7 298.6,345.9 297.8,348.3 296.9,349.9 296.1,350.9 295.3,351.4 294.5,351.7 293.6,351.9 292.8,351.9 292.8,351.9 293.6,352 294.5,352.1 295.3,352.1 296.1,352.2 296.9,352.3 297.8,352.3 298.6,352.4 299.4,352.5 300.2,352.5 301.1,352.6 301.9,352.6 302.7,352.7 303.5,352.8 304.4,352.8 305.2,352.9 306,353 306.8,353 307.7,353.1 308.5,353.2 309.3,353.2 310.1,353.3 311,353.3 311.8,353.4 312.6,353.5 313.4,353.5 314.3,353.6 315.1,353.7 315.9,353.7" fill="#a0d098" opacity="0.75"/>
<polyline points="315.9,353.7 315.1,353.5 314.3,353.3 313.4,352.9 312.6,352.2 311.8,351 311,349.3 310.1,346.8 309.3,343.5 308.5,339.4 307.7,334.9 306.8,330.4 306,326.5 305.2,323.8 304.4,322.8 303.5,323.7 302.7,326.2 301.9,330 301.1,334.4 300.2,338.8 299.4,342.7 298.6,345.9 297.8,348.3 296.9,349.9 296.1,350.9 295.3,351.4 294.5,351.7 293.6,351.9 292.8,351.9" fill="none" stroke="#607c5b" stroke-width="0.8" stroke-linejoin="round" stroke-linecap="round"/>
<polygon points="239.6,347.8 238.6,347.7 237.6,347.6 236.6,347.5 235.6,347.3 234.6,347 233.6,346.7 232.6,346.2 231.6,345.6 230.6,344.8 229.6,344 228.6,343.2 227.5,342.5 226.5,342 225.5,341.7 224.5,341.8 223.5,342.2 222.5,342.7 221.5,343.4 220.5,344 219.5,344.6 218.5,345.1 217.5,345.4 216.5,345.6 215.4,345.7 214.4,345.7 213.4,345.7 212.4,345.7 211.4,345.6 211.4,345.6 212.4,345.7 213.4,345.8 214.4,345.9 215.4,345.9 216.5,346 217.5,346.1 218.5,346.2 219.5,346.3 220.5,346.3 221.5,346.4 222.5,346.5 223.5,346.6 224.5,346.6 225.5,346.7 226.5,346.8 227.5,346.9 228.6,347 229.6,347 230.6,347.1 231.6,347.2 232.6,347.3 233.6,347.3 234.6,347.4 235.6,347.5 236.6,347.6 237.6,347.7 238.6,347.7 239.6,347.8" fill="#70b8e0" opacity="0.75"/>
<polyline points="239.6,347.8 238.6,347.7 237.6,347.6 236.6,347.5 235.6,347.3 234.6,347 233.6,346.7 232.6,346.2 231.6,345.6 230.6,344.8 229.6,344 228.6,343.2 227.5,342.5 226.5,342 225.5,341.7 224.5,341.8 223.5,342.2 222.5,342.7 221.5,343.4 220.5,344 219.5,344.6 218.5,345.1 217.5,345.4 216.5,345.6 215.4,345.7 214.4,345.7 213.4,345.7 212.4,345.7 211.4,345.6" fill="none" stroke="#436e86" stroke-width="0.8" stroke-linejoin="round" stroke-linecap="round"/>
<polygon points="320.7,354.1 319.9,354 319,353.8 318.2,353.5 317.4,353.1 316.6,352.5 315.7,351.6 314.9,350.2 314.1,348.4 313.3,346.2 312.4,343.8 311.6,341.3 310.8,339.2 310,337.8 309.1,337.2 308.3,337.6 307.5,339 306.7,340.9 305.8,343.2 305,345.6 304.2,347.6 303.4,349.3 302.5,350.5 301.7,351.4 300.9,351.9 300.1,352.1 299.2,352.3 298.4,352.3 297.6,352.3 297.6,352.3 298.4,352.4 299.2,352.4 300.1,352.5 300.9,352.6 301.7,352.6 302.5,352.7 303.4,352.8 304.2,352.8 305,352.9 305.8,352.9 306.7,353 307.5,353.1 308.3,353.1 309.1,353.2 310,353.3 310.8,353.3 311.6,353.4 312.4,353.5 313.3,353.5 314.1,353.6 314.9,353.7 315.7,353.7 316.6,353.8 317.4,353.8 318.2,353.9 319,354 319.9,354 320.7,354.1" fill="#70b8e0" opacity="0.75"/>
<polyline points="320.7,354.1 319.9,354 319,353.8 318.2,353.5 317.4,353.1 316.6,352.5 315.7,351.6 314.9,350.2 314.1,348.4 313.3,346.2 312.4,343.8 311.6,341.3 310.8,339.2 310,337.8 309.1,337.2 308.3,337.6 307.5,339 306.7,340.9 305.8,343.2 305,345.6 304.2,347.6 303.4,349.3 302.5,350.5 301.7,351.4 300.9,351.9 300.1,352.1 299.2,352.3 298.4,352.3 297.6,352.3" fill="none" stroke="#436e86" stroke-width="0.8" stroke-linejoin="round" stroke-linecap="round"/>
<polyline points="324.5,354.5 323.6,354.6 322.7,353.9 321.8,354.2 320.9,354.3 319.9,354.4 319,354.1 318.1,353.2 317.2,352.9 316.3,352.6 315.4,350.9 314.4,349.3 313.5,346.1 312.6,342.6 311.7,339.4 310.8,334.5 309.9,330.1 308.9,325.2 308,320.7 307.1,315.9 306.2,310.4 305.3,303.8 304.4,296 303.4,289.3 302.5,283.7 301.6,283.3 300.7,288.6 299.8,298.2 298.9,311.5 297.9,324.9 297,335.5 296.1,343.6 295.2,348.1 294.3,350 293.4,351.7 292.4,351.4 291.5,351.9 290.6,351.6 289.7,351.4 288.8,351.3 287.9,352 286.9,351.7 286,351.4 285.1,351.6 284.2,351.6 283.3,351.5 282.4,351.2 281.4,350.9 280.5,351 279.6,351.3 278.7,351 277.8,350.9 276.9,351 275.9,350.6 275,350.6 274.1,350.8 273.2,350.2 272.3,350.6 271.4,349.9 270.4,350.2 269.5,350.2 268.6,349.8 267.7,350.3 266.8,349.9 265.9,349.6 264.9,349.7 264,349.8 263.1,349.6 262.2,349.2 261.3,349.2 260.4,349.6 259.4,349.1 258.5,349.1 257.6,349.5 256.7,349.4 255.8,349.4 254.9,348.7 253.9,348.5 253,349.1 252.1,348.9 251.2,348.6 250.3,348.3 249.4,348.5 248.4,348.3 247.5,348.5 246.6,348.7 245.7,348.1 244.8,347.9 243.9,348.3 242.9,347.8 242,347.8 241.1,347.9 240.2,348.2 239.3,347.6 238.4,347.5 237.4,347.6 236.5,347.2 235.6,347.2 234.7,347.2 233.8,346.6 232.9,346.5 231.9,345.4 231,344.6 230.1,344.1 229.2,342.8 228.3,341.9 227.4,339.8 226.4,338.6 225.5,336.7 224.6,334.4 223.7,331.8 222.8,329.5 221.9,326.7 220.9,323.8 220,321.7 219.1,321 218.2,321.7 217.3,324 216.4,327.5 215.4,332 214.5,336.2 213.6,339.9 212.7,342.5 211.8,343.8 210.9,344.5 209.9,344.9 209,345.4 208.1,345.5 207.2,345.1" fill="none" stroke="#111" stroke-width="1.8" stroke-linejoin="round" stroke-linecap="round"/>
<polyline points="203.7,345.3 325.1,354.4" fill="none" stroke="#111" stroke-width="2.4" stroke-linejoin="round" stroke-linecap="round"/>
<polyline points="203.7,389.8 325.1,389.3" fill="none" stroke="#111" stroke-width="3.2" stroke-linejoin="round" stroke-linecap="round"/>
<line x1="203.7" y1="392.5" x2="325.1" y2="392.5" stroke="#444" stroke-width="0.6"/>
<text x="206" y="244" font-family="'Liberation Sans', sans-serif" font-size="10.5" font-weight="bold" text-anchor="start" fill="#111">Zn 2p</text>
<text x="225" y="256" font-family="'Liberation Sans', sans-serif" font-size="9.5" font-weight="bold" text-anchor="middle" fill="#111">2p<tspan font-size="6" dy="3">1/2</tspan></text>
<text x="310.6" y="256" font-family="'Liberation Sans', sans-serif" font-size="9.5" font-weight="bold" text-anchor="middle" fill="#111">2p<tspan font-size="6" dy="3">3/2</tspan></text>
<text x="267" y="264.5" font-family="'Liberation Sans', sans-serif" font-size="9.5" font-weight="bold" text-anchor="middle" fill="#111">C-1.2 V</text>
<text x="269" y="364" font-family="'Liberation Sans', sans-serif" font-size="9.5" font-weight="bold" text-anchor="middle" fill="#111">D-0.13 V</text>
<text x="274" y="386" font-family="'Liberation Sans', sans-serif" font-size="9.5" font-weight="bold" text-anchor="middle" fill="#111">OCV</text>
<rect x="221" y="282.5" width="14" height="7" fill="url(#lgf0)"/>
<text x="237" y="288.8" font-family="'Liberation Sans', sans-serif" font-size="7.8" font-weight="bold" text-anchor="start" fill="#222">Intercalated Zn<tspan font-size="5" dy="-3">2+</tspan></text>
<rect x="221" y="293" width="14" height="7" fill="url(#lgf1)"/>
<text x="237" y="299.3" font-family="'Liberation Sans', sans-serif" font-size="7.8" font-weight="bold" text-anchor="start" fill="#222">BZS</text>
<rect x="221" y="303.5" width="14" height="7" fill="url(#lgf2)"/>
<text x="237" y="309.8" font-family="'Liberation Sans', sans-serif" font-size="7.8" font-weight="bold" text-anchor="start" fill="#222">Adsorbed Zn<tspan font-size="5" dy="-3">2+</tspan></text>
<rect x="203.7" y="232.4" width="121.4" height="175.9" fill="none" stroke="#151515" stroke-width="1.3"/>
<line x1="207.2" y1="408.3" x2="207.2" y2="411.3" stroke="#222" stroke-width="1"/>
<text x="207.2" y="421.8" font-family="'Liberation Serif', serif" font-size="10" font-weight="bold" text-anchor="middle" fill="#111">1050</text>
<line x1="243.9" y1="408.3" x2="243.9" y2="411.3" stroke="#222" stroke-width="1"/>
<text x="243.9" y="421.8" font-family="'Liberation Serif', serif" font-size="10" font-weight="bold" text-anchor="middle" fill="#111">1040</text>
<line x1="280.5" y1="408.3" x2="280.5" y2="411.3" stroke="#222" stroke-width="1"/>
<text x="280.5" y="421.8" font-family="'Liberation Serif', serif" font-size="10" font-weight="bold" text-anchor="middle" fill="#111">1030</text>
<line x1="317.2" y1="408.3" x2="317.2" y2="411.3" stroke="#222" stroke-width="1"/>
<text x="317.2" y="421.8" font-family="'Liberation Serif', serif" font-size="10" font-weight="bold" text-anchor="middle" fill="#111">1020</text>
<text x="270.5" y="433" font-family="'Liberation Serif', serif" font-size="10.6" font-weight="bold" text-anchor="middle" fill="#111">Binding energy (eV)</text>
<text x="197" y="312.5" font-family="'Liberation Serif', serif" font-size="10.5" font-weight="bold" text-anchor="middle" fill="#111" transform="rotate(-90 197 312.5)">Intensity (a.u.)</text>
<text x="187" y="248" font-family="'Liberation Serif', serif" font-size="22" font-weight="bold" text-anchor="start" fill="#111">f</text>
<rect x="359.6" y="233.7" width="121.4" height="176.4" fill="#ffffff"/>
<polygon points="442.9,279.7 439.8,279.6 436.8,279.5 433.8,279.4 430.7,279.2 427.7,278.9 424.7,278.4 421.6,277.8 418.6,277 415.6,276 412.5,274.9 409.5,273.9 406.5,272.9 403.4,272.3 400.4,272 397.4,272.2 394.3,272.7 391.3,273.6 388.3,274.5 385.2,275.5 382.2,276.4 379.2,277.1 376.1,277.6 373.1,278 370.1,278.2 367,278.3 364,278.3 361,278.3 357.9,278.3 357.9,278.3 361,278.4 364,278.4 367,278.4 370.1,278.5 373.1,278.5 376.1,278.6 379.2,278.6 382.2,278.7 385.2,278.7 388.3,278.8 391.3,278.8 394.3,278.9 397.4,278.9 400.4,279 403.4,279 406.5,279.1 409.5,279.1 412.5,279.2 415.6,279.2 418.6,279.3 421.6,279.3 424.7,279.4 427.7,279.4 430.7,279.5 433.8,279.5 436.8,279.6 439.8,279.6 442.9,279.7" fill="#e8a8b8" opacity="0.6"/>
<polygon points="437.7,279.6 435.9,279.5 434.2,279.5 432.5,279.4 430.7,279.3 429,279.1 427.3,278.8 425.5,278.3 423.8,277.7 422.1,277.1 420.3,276.3 418.6,275.5 416.9,274.8 415.1,274.4 413.4,274.2 411.7,274.3 409.9,274.7 408.2,275.3 406.5,276.1 404.7,276.8 403,277.4 401.3,277.9 399.5,278.3 397.8,278.6 396.1,278.7 394.3,278.8 392.6,278.8 390.9,278.8 389.1,278.8 389.1,278.8 390.9,278.8 392.6,278.9 394.3,278.9 396.1,278.9 397.8,278.9 399.5,279 401.3,279 403,279 404.7,279.1 406.5,279.1 408.2,279.1 409.9,279.1 411.7,279.2 413.4,279.2 415.1,279.2 416.9,279.3 418.6,279.3 420.3,279.3 422.1,279.3 423.8,279.4 425.5,279.4 427.3,279.4 429,279.5 430.7,279.5 432.5,279.5 434.2,279.5 435.9,279.6 437.7,279.6" fill="#90d0e8" opacity="0.6"/>
<polygon points="448.1,279.7 446.3,279.6 444.6,279.5 442.9,279.2 441.1,278.7 439.4,277.9 437.7,276.6 435.9,274.8 434.2,272.4 432.5,269.4 430.7,266.1 429,262.8 427.3,260 425.5,258.1 423.8,257.4 422.1,258 420.3,259.9 418.6,262.7 416.9,265.9 415.1,269.2 413.4,272.1 411.7,274.4 409.9,276.2 408.2,277.4 406.5,278.1 404.7,278.6 403,278.8 401.3,278.9 399.5,278.9 399.5,279 401.3,279 403,279 404.7,279.1 406.5,279.1 408.2,279.1 409.9,279.1 411.7,279.2 413.4,279.2 415.1,279.2 416.9,279.3 418.6,279.3 420.3,279.3 422.1,279.3 423.8,279.4 425.5,279.4 427.3,279.4 429,279.5 430.7,279.5 432.5,279.5 434.2,279.5 435.9,279.6 437.7,279.6 439.4,279.6 441.1,279.7 442.9,279.7 444.6,279.7 446.3,279.7 448.1,279.8" fill="#98c890" opacity="0.6"/>
<polyline points="364,278.4 364.9,278.6 365.7,278.2 366.6,278.6 367.5,278.2 368.3,278.3 369.2,278.4 370.1,278 370.9,278.1 371.8,278.4 372.7,277.8 373.5,277.8 374.4,277.9 375.3,277.9 376.1,277.7 377,277.8 377.9,277.5 378.7,276.9 379.6,276.8 380.5,276.6 381.3,276.6 382.2,276.1 383.1,276.2 383.9,276 384.8,275.5 385.7,275.6 386.5,275.1 387.4,275.1 388.3,274.5 389.1,274.3 390,274 390.9,273.5 391.7,273.6 392.6,272.8 393.5,272.7 394.3,272.5 395.2,272.6 396.1,272.1 396.9,271.6 397.8,271.6 398.7,271.5 399.5,271.5 400.4,270.8 401.3,271 402.1,270.5 403,270.3 403.9,270 404.7,269.7 405.6,269.6 406.5,269.2 407.3,268.7 408.2,268 409.1,267.4 409.9,266.4 410.8,265.6 411.7,265.2 412.5,264.2 413.4,263.2 414.3,262 415.1,260.8 416,260.1 416.9,258.7 417.7,257.3 418.6,256.5 419.5,255.7 420.3,254.8 421.2,254.8 422.1,254.6 422.9,254.5 423.8,254.4 424.7,255.2 425.5,255.9 426.4,257.5 427.3,258.9 428.1,260.5 429,262.2 429.9,263.6 430.7,265.3 431.6,267.2 432.5,269.3 433.3,270.9 434.2,272.2 435.1,273.4 435.9,274.9 436.8,275.5 437.7,276.4 438.5,277 439.4,278.1 440.3,278.2 441.1,278.8 442,279.1 442.9,279.2 443.7,279.6 444.6,279.6 445.5,279.8 446.3,279.9 447.2,279.4 448.1,279.9 448.9,279.6 449.8,279.7 450.7,279.7 451.5,280.1 452.4,279.6 453.3,279.8 454.1,279.6 455,280.2 455.9,279.9 456.7,280 457.6,279.9 458.5,280.1 459.3,279.8 460.2,279.9 461.1,280.1 461.9,280.1 462.8,280.2 463.7,279.9 464.5,280.2 465.4,280.2 466.3,280.1 467.1,280 468,280.1 468.9,279.8 469.7,279.9 470.6,280 471.5,279.9 472.3,279.9 473.2,280.3 474.1,280.3 474.9,280.3 475.8,280 476.7,280.4 477.5,280.4 478.4,280.3 479.3,280.1 480.1,280.3 481,280.2" fill="none" stroke="#1a1a1a" stroke-width="2" stroke-linejoin="round" stroke-linecap="round"/>
<polyline points="359.6,278.4 481,280.3" fill="none" stroke="#111" stroke-width="2.4" stroke-linejoin="round" stroke-linecap="round"/>
<line x1="359.6" y1="281.5" x2="481" y2="283.3" stroke="#555" stroke-width="0.6"/>
<polygon points="433.8,337.2 431.4,337.1 429,337 426.6,336.8 424.2,336.6 421.9,336.2 419.5,335.6 417.1,334.7 414.7,333.6 412.3,332.2 409.9,330.7 407.6,329.2 405.2,327.9 402.8,327 400.4,326.6 398,326.9 395.6,327.7 393.2,329 390.9,330.4 388.5,331.8 386.1,333.1 383.7,334.2 381.3,334.9 379,335.5 376.6,335.8 374.2,335.9 371.8,336 369.4,336 367,336 367,336.1 369.4,336.1 371.8,336.1 374.2,336.2 376.6,336.2 379,336.3 381.3,336.3 383.7,336.3 386.1,336.4 388.5,336.4 390.9,336.5 393.2,336.5 395.6,336.5 398,336.6 400.4,336.6 402.8,336.7 405.2,336.7 407.6,336.7 409.9,336.8 412.3,336.8 414.7,336.9 417.1,336.9 419.5,336.9 421.9,337 424.2,337 426.6,337.1 429,337.1 431.4,337.2 433.8,337.2" fill="#e8a0a8" opacity="0.6"/>
<polygon points="430.7,337.1 429.4,337 428.1,336.9 426.8,336.7 425.5,336.3 424.2,335.6 422.9,334.6 421.6,333.1 420.3,331.1 419,328.7 417.7,326 416.4,323.3 415.1,321 413.8,319.4 412.5,318.8 411.2,319.4 409.9,320.9 408.6,323.2 407.3,325.8 406,328.5 404.7,330.9 403.4,332.8 402.1,334.2 400.8,335.2 399.5,335.8 398.2,336.2 396.9,336.4 395.6,336.4 394.3,336.5 394.3,336.5 395.6,336.5 396.9,336.6 398.2,336.6 399.5,336.6 400.8,336.6 402.1,336.7 403.4,336.7 404.7,336.7 406,336.7 407.3,336.7 408.6,336.8 409.9,336.8 411.2,336.8 412.5,336.8 413.8,336.9 415.1,336.9 416.4,336.9 417.7,336.9 419,336.9 420.3,337 421.6,337 422.9,337 424.2,337 425.5,337.1 426.8,337.1 428.1,337.1 429.4,337.1 430.7,337.1" fill="#70b8e8" opacity="0.6"/>
<polygon points="449.6,337.4 447.7,337.3 445.9,337.2 444.1,336.9 442.2,336.5 440.4,335.7 438.5,334.6 436.7,332.9 434.8,330.7 433,328 431.2,325 429.3,322 427.5,319.4 425.6,317.7 423.8,317 422,317.6 420.1,319.3 418.3,321.8 416.4,324.8 414.6,327.7 412.8,330.3 410.9,332.5 409.1,334.1 407.2,335.1 405.4,335.8 403.5,336.2 401.7,336.4 399.9,336.5 398,336.5 398,336.6 399.9,336.6 401.7,336.6 403.5,336.7 405.4,336.7 407.2,336.7 409.1,336.8 410.9,336.8 412.8,336.8 414.6,336.9 416.4,336.9 418.3,336.9 420.1,337 422,337 423.8,337 425.6,337.1 427.5,337.1 429.3,337.1 431.2,337.1 433,337.2 434.8,337.2 436.7,337.2 438.5,337.3 440.4,337.3 442.2,337.3 444.1,337.4 445.9,337.4 447.7,337.4 449.6,337.5" fill="#90c880" opacity="0.6"/>
<polyline points="364,335.9 364.9,335.8 365.7,336.2 366.6,336.1 367.5,336.3 368.3,335.8 369.2,335.9 370.1,336 370.9,335.8 371.8,335.9 372.7,336 373.5,336 374.4,336.2 375.3,335.9 376.1,335.9 377,335.8 377.9,335.8 378.7,335.4 379.6,335 380.5,335.4 381.3,335.1 382.2,334.5 383.1,334.2 383.9,333.9 384.8,333.8 385.7,333.1 386.5,332.6 387.4,332.4 388.3,331.7 389.1,331.3 390,330.9 390.9,330.2 391.7,329.6 392.6,329.2 393.5,328.6 394.3,328.2 395.2,327.8 396.1,327.3 396.9,326.9 397.8,326.3 398.7,326.4 399.5,325.9 400.4,325.3 401.3,324.5 402.1,324 403,323.5 403.9,322.3 404.7,321 405.6,319.9 406.5,318.4 407.3,316.3 408.2,314.8 409.1,313.1 409.9,311.2 410.8,309.9 411.7,309 412.5,308.3 413.4,307.8 414.3,307.8 415.1,307.9 416,308.2 416.9,308.8 417.7,310 418.6,310.8 419.5,311.6 420.3,311.8 421.2,312.9 422.1,313.2 422.9,314 423.8,314.6 424.7,315.8 425.5,316.7 426.4,317.7 427.3,318.6 428.1,320.2 429,321.1 429.9,322.8 430.7,324.3 431.6,325.5 432.5,327 433.3,328.3 434.2,330 435.1,330.8 435.9,331.8 436.8,332.9 437.7,333.9 438.5,334.6 439.4,335.2 440.3,335.9 441.1,336.2 442,336.2 442.9,336.7 443.7,336.7 444.6,336.9 445.5,336.9 446.3,337 447.2,337.2 448.1,337.6 448.9,337.5 449.8,337.2 450.7,337.3 451.5,337.5 452.4,337.5 453.3,337.2 454.1,337.3 455,337.6 455.9,337.6 456.7,337.3 457.6,337.8 458.5,337.5 459.3,337.7 460.2,337.7 461.1,337.6 461.9,337.9 462.8,337.6 463.7,337.7 464.5,337.7 465.4,337.9 466.3,338 467.1,337.9 468,337.8 468.9,337.9 469.7,337.9 470.6,338.1 471.5,338.1 472.3,338 473.2,337.7 474.1,337.9 474.9,337.9 475.8,337.7 476.7,338.1 477.5,337.8 478.4,338.1 479.3,338 480.1,337.9 481,338.1" fill="none" stroke="#1a1a1a" stroke-width="2" stroke-linejoin="round" stroke-linecap="round"/>
<polyline points="359.6,336 481,338" fill="none" stroke="#111" stroke-width="2.4" stroke-linejoin="round" stroke-linecap="round"/>
<polygon points="445.5,391.4 442.4,391.3 439.4,391.3 436.4,391.2 433.3,391 430.3,390.8 427.3,390.5 424.2,390 421.2,389.4 418.2,388.7 415.1,387.9 412.1,387.1 409.1,386.4 406,385.9 403,385.7 400,385.8 396.9,386.2 393.9,386.8 390.9,387.5 387.8,388.2 384.8,388.8 381.8,389.3 378.7,389.7 375.7,389.9 372.7,390 369.6,390.1 366.6,390.1 363.6,390.1 360.5,390 360.5,390 363.6,390.1 366.6,390.1 369.6,390.2 372.7,390.2 375.7,390.3 378.7,390.3 381.8,390.4 384.8,390.4 387.8,390.5 390.9,390.5 393.9,390.6 396.9,390.6 400,390.7 403,390.7 406,390.8 409.1,390.8 412.1,390.9 415.1,390.9 418.2,391 421.2,391 424.2,391.1 427.3,391.1 430.3,391.2 433.3,391.2 436.4,391.3 439.4,391.3 442.4,391.4 445.5,391.4" fill="#e8a8b0" opacity="0.6"/>
<polygon points="453.5,391.5 451.4,391.4 449.4,391.3 447.3,391 445.2,390.6 443.2,390 441.1,388.9 439.1,387.4 437,385.4 435,383 432.9,380.3 430.8,377.6 428.8,375.3 426.7,373.7 424.7,373.1 422.6,373.6 420.5,375.1 418.5,377.4 416.4,380 414.4,382.7 412.3,385 410.3,387 408.2,388.4 406.1,389.4 404.1,390 402,390.3 400,390.5 397.9,390.6 395.8,390.6 395.8,390.6 397.9,390.7 400,390.7 402,390.7 404.1,390.8 406.1,390.8 408.2,390.8 410.3,390.9 412.3,390.9 414.4,390.9 416.4,391 418.5,391 420.5,391 422.6,391.1 424.7,391.1 426.7,391.1 428.8,391.2 430.8,391.2 432.9,391.2 435,391.3 437,391.3 439.1,391.3 441.1,391.4 443.2,391.4 445.2,391.4 447.3,391.5 449.4,391.5 451.4,391.5 453.5,391.6" fill="#98c890" opacity="0.6"/>
<polyline points="364,390.2 364.9,390.4 365.7,390.4 366.6,390.3 367.5,389.9 368.3,390.2 369.2,390.1 370.1,390.3 370.9,390 371.8,390 372.7,389.7 373.5,390 374.4,390 375.3,389.8 376.1,389.6 377,389.8 377.9,389.5 378.7,389.5 379.6,389.5 380.5,389.4 381.3,389.4 382.2,389.3 383.1,389 383.9,388.7 384.8,388.5 385.7,388.7 386.5,388.8 387.4,388.2 388.3,388 389.1,387.8 390,387.8 390.9,387.5 391.7,387.5 392.6,386.8 393.5,386.7 394.3,386.5 395.2,386.4 396.1,386.3 396.9,386.1 397.8,386.3 398.7,385.8 399.5,385.8 400.4,385.8 401.3,385.5 402.1,385.4 403,385.4 403.9,384.9 404.7,384.6 405.6,384.9 406.5,384.4 407.3,384.2 408.2,383.6 409.1,383.6 409.9,382.9 410.8,382.5 411.7,381.7 412.5,381.4 413.4,380.3 414.3,379.4 415.1,378.9 416,377.6 416.9,376.7 417.7,375.9 418.6,375.4 419.5,374 420.3,373.4 421.2,373.1 422.1,372.2 422.9,372.1 423.8,372.2 424.7,372.2 425.5,372.5 426.4,372.5 427.3,373.6 428.1,374 429,375.2 429.9,376 430.7,377.3 431.6,378.2 432.5,379.3 433.3,380.5 434.2,381.8 435.1,382.7 435.9,383.9 436.8,385.3 437.7,386.1 438.5,387.1 439.4,387.4 440.3,388.3 441.1,388.9 442,389.1 442.9,389.7 443.7,390.4 444.6,390.6 445.5,390.7 446.3,390.9 447.2,391.2 448.1,391.4 448.9,391.3 449.8,391.1 450.7,391.6 451.5,391.2 452.4,391.3 453.3,391.3 454.1,391.5 455,391.6 455.9,391.6 456.7,391.6 457.6,391.4 458.5,391.8 459.3,391.7 460.2,391.5 461.1,391.9 461.9,392 462.8,392 463.7,392 464.5,391.5 465.4,391.7 466.3,391.7 467.1,391.6 468,391.9 468.9,392 469.7,391.6 470.6,391.8 471.5,392.1 472.3,392.1 473.2,391.8 474.1,391.7 474.9,391.9 475.8,391.9 476.7,392.1 477.5,391.8 478.4,391.8 479.3,392.3 480.1,391.7 481,392.1" fill="none" stroke="#1a1a1a" stroke-width="2" stroke-linejoin="round" stroke-linecap="round"/>
<polyline points="359.6,390.1 481,392" fill="none" stroke="#111" stroke-width="2.4" stroke-linejoin="round" stroke-linecap="round"/>
<text x="362" y="246" font-family="'Liberation Sans', sans-serif" font-size="9" font-weight="bold" text-anchor="start" fill="#111">O 1S</text>
<text x="425" y="249.5" font-family="'Liberation Sans', sans-serif" font-size="10.5" font-weight="bold" text-anchor="middle" fill="#111">Mo-O</text>
<text x="466" y="273.5" font-family="'Liberation Sans', sans-serif" font-size="9.5" font-weight="bold" text-anchor="middle" fill="#111">C-1.2 V</text>
<text x="399" y="301" font-family="'Liberation Sans', sans-serif" font-size="9.5" font-weight="bold" text-anchor="middle" fill="#111">OH<tspan font-size="6" dy="-3">-</tspan></text>
<line x1="405" y1="303" x2="411" y2="311" stroke="#4aa0d8" stroke-width="1.2"/>
<text x="381" y="318" font-family="'Liberation Sans', sans-serif" font-size="9.5" font-weight="bold" text-anchor="middle" fill="#111">H<tspan font-size="6" dy="3">2</tspan><tspan dy="-3">O</tspan></text>
<line x1="386" y1="321" x2="391" y2="327" stroke="#e07888" stroke-width="1.2"/>
<text x="451" y="312.5" font-family="'Liberation Sans', sans-serif" font-size="10.5" font-weight="bold" text-anchor="middle" fill="#111">Mo-O</text>
<line x1="441" y1="316" x2="434" y2="323" stroke="#409040" stroke-width="1.2"/>
<text x="463" y="350" font-family="'Liberation Sans', sans-serif" font-size="9.5" font-weight="bold" text-anchor="middle" fill="#111">D-0.13 V</text>
<text x="424" y="368" font-family="'Liberation Sans', sans-serif" font-size="10.5" font-weight="bold" text-anchor="middle" fill="#111">Mo-O</text>
<text x="470" y="405" font-family="'Liberation Sans', sans-serif" font-size="9.5" font-weight="bold" text-anchor="middle" fill="#111">OCV</text>
<rect x="359.6" y="233.7" width="121.4" height="176.4" fill="none" stroke="#151515" stroke-width="1.3"/>
<line x1="377" y1="410.1" x2="377" y2="413.1" stroke="#222" stroke-width="1"/>
<text x="377" y="423.6" font-family="'Liberation Serif', serif" font-size="10" font-weight="bold" text-anchor="middle" fill="#111">536</text>
<line x1="411.7" y1="410.1" x2="411.7" y2="413.1" stroke="#222" stroke-width="1"/>
<text x="411.7" y="423.6" font-family="'Liberation Serif', serif" font-size="10" font-weight="bold" text-anchor="middle" fill="#111">532</text>
<line x1="446.3" y1="410.1" x2="446.3" y2="413.1" stroke="#222" stroke-width="1"/>
<text x="446.3" y="423.6" font-family="'Liberation Serif', serif" font-size="10" font-weight="bold" text-anchor="middle" fill="#111">528</text>
<line x1="481" y1="410.1" x2="481" y2="413.1" stroke="#222" stroke-width="1"/>
<text x="481" y="423.6" font-family="'Liberation Serif', serif" font-size="10" font-weight="bold" text-anchor="middle" fill="#111">524</text>
<text x="423.3" y="433" font-family="'Liberation Serif', serif" font-size="10.7" font-weight="bold" text-anchor="middle" fill="#111">Binding energy (eV)</text>
<text x="351.5" y="313" font-family="'Liberation Serif', serif" font-size="10.5" font-weight="bold" text-anchor="middle" fill="#111" transform="rotate(-90 351.5 313)">Intensity (a.u.)</text>
<text x="338" y="245" font-family="'Liberation Serif', serif" font-size="22" font-weight="bold" text-anchor="start" fill="#111">g</text>
<rect x="509.6" y="232.1" width="122.9" height="178.5" fill="#ffffff"/>
<polygon points="531.2,280.7 532.3,280.7 533.5,280.7 534.6,280.6 535.8,280.5 536.9,280.3 538,279.9 539.2,279.3 540.3,278.3 541.5,276.9 542.6,275 543.8,272.7 544.9,270.1 546,267.5 547.2,265.3 548.3,263.7 549.5,263.2 550.6,263.7 551.7,265.3 552.9,267.5 554,270.1 555.2,272.7 556.3,275 557.4,276.9 558.6,278.3 559.7,279.3 560.9,279.9 562,280.3 563.2,280.5 564.3,280.6 565.4,280.7 566.6,280.7 567.7,280.7 567.7,280.7 566.6,280.7 565.4,280.7 564.3,280.7 563.2,280.7 562,280.7 560.9,280.7 559.7,280.7 558.6,280.7 557.4,280.7 556.3,280.7 555.2,280.7 554,280.7 552.9,280.7 551.7,280.7 550.6,280.7 549.5,280.7 548.3,280.7 547.2,280.7 546,280.7 544.9,280.7 543.8,280.7 542.6,280.7 541.5,280.7 540.3,280.7 539.2,280.7 538,280.7 536.9,280.7 535.8,280.7 534.6,280.7 533.5,280.7 532.3,280.7 531.2,280.7" fill="url(#lh58cc58280)" opacity="0.85"/>
<polygon points="550.8,280.7 552.5,280.7 554.3,280.6 556,280.5 557.7,280.3 559.5,280 561.2,279.3 562.9,278.2 564.6,276.4 566.4,273.8 568.1,270.3 569.8,266 571.5,261.3 573.3,256.5 575,252.5 576.7,249.7 578.5,248.7 580.2,249.7 581.9,252.5 583.6,256.5 585.4,261.3 587.1,266 588.8,270.3 590.5,273.8 592.3,276.4 594,278.2 595.7,279.3 597.5,280 599.2,280.3 600.9,280.5 602.6,280.6 604.4,280.7 606.1,280.7 606.1,280.7 604.4,280.7 602.6,280.7 600.9,280.7 599.2,280.7 597.5,280.7 595.7,280.7 594,280.7 592.3,280.7 590.5,280.7 588.8,280.7 587.1,280.7 585.4,280.7 583.6,280.7 581.9,280.7 580.2,280.7 578.5,280.7 576.7,280.7 575,280.7 573.3,280.7 571.5,280.7 569.8,280.7 568.1,280.7 566.4,280.7 564.6,280.7 562.9,280.7 561.2,280.7 559.5,280.7 557.7,280.7 556,280.7 554.3,280.7 552.5,280.7 550.8,280.7" fill="url(#lhe880b0280)" opacity="0.85"/>
<polyline points="509.4,280.7 510,280.7 510.6,280.7 511.2,280.7 511.8,280.7 512.4,280.7 513.1,280.7 513.7,280.7 514.3,280.7 514.9,280.7 515.5,280.7 516.1,280.7 516.8,280.7 517.4,280.7 518,280.7 518.6,280.7 519.2,280.7 519.8,280.7 520.5,280.7 521.1,280.7 521.7,280.7 522.3,280.7 522.9,280.7 523.6,280.7 524.2,280.7 524.8,280.7 525.4,280.7 526,280.7 526.6,280.7 527.3,280.7 527.9,280.7 528.5,280.7 529.1,280.7 529.7,280.7 530.3,280.7 531,280.7 531.6,280.6 532.2,280.6 532.8,280.6 533.4,280.6 534,280.6 534.7,280.6 535.3,280.5 535.9,280.4 536.5,280.3 537.1,280.2 537.7,280 538.4,279.7 539,279.4 539.6,278.9 540.2,278.4 540.8,277.7 541.4,276.9 542.1,275.9 542.7,274.8 543.3,273.6 543.9,272.3 544.5,270.9 545.1,269.4 545.8,268 546.4,266.7 547,265.5 547.6,264.5 548.2,263.7 548.8,263.2 549.5,263.1 550.1,263.2 550.7,263.7 551.3,264.4 551.9,265.4 552.5,266.6 553.2,267.9 553.8,269.3 554.4,270.7 555,272.1 555.6,273.4 556.2,274.5 556.9,275.6 557.5,276.5 558.1,277.2 558.7,277.7 559.3,278.1 559.9,278.3 560.6,278.4 561.2,278.4 561.8,278.3 562.4,278 563,277.6 563.6,277.1 564.3,276.4 564.9,275.7 565.5,274.8 566.1,273.9 566.7,272.8 567.3,271.6 568,270.2 568.6,268.8 569.2,267.3 569.8,265.7 570.4,264 571,262.3 571.7,260.5 572.3,258.8 572.9,257.1 573.5,255.4 574.1,253.9 574.8,252.5 575.4,251.2 576,250.1 576.6,249.3 577.2,248.6 577.8,248.2 578.5,248.1 579.1,248.2 579.7,248.5 580.3,249.1 580.9,249.9 581.5,251 582.2,252.2 582.8,253.6 583.4,255.1 584,256.7 584.6,258.3 585.2,260 585.9,261.7 586.5,263.4 587.1,265 587.7,266.6 588.3,268 588.9,269.4 589.6,270.7 590.2,271.9 590.8,272.9 591.4,273.8 592,274.7 592.6,275.4 593.3,276 593.9,276.6 594.5,277.1 595.1,277.6 595.7,278 596.3,278.3 597,278.6 597.6,278.8 598.2,279 598.8,279.2 599.4,279.3 600,279.4 600.7,279.5 601.3,279.6 601.9,279.7 602.5,279.7 603.1,279.8 603.7,279.8 604.4,279.9 605,279.9 605.6,280 606.2,280 606.8,280 607.4,280 608.1,280.1 608.7,280.1 609.3,280.1 609.9,280.1 610.5,280.1 611.1,280.2 611.8,280.2 612.4,280.2 613,280.2 613.6,280.2 614.2,280.3 614.8,280.3 615.5,280.3 616.1,280.3 616.7,280.3 617.3,280.3 617.9,280.3 618.5,280.4 619.2,280.4 619.8,280.4 620.4,280.4 621,280.4 621.6,280.4 622.3,280.4 622.9,280.4 623.5,280.4 624.1,280.4 624.7,280.5 625.3,280.5 626,280.5 626.6,280.5 627.2,280.5 627.8,280.5 628.4,280.5 629,280.5 629.7,280.5 630.3,280.5 630.9,280.5 631.5,280.5 632.1,280.5 632.7,280.5" fill="none" stroke="#c040b0" stroke-width="1.6" stroke-linejoin="round" stroke-linecap="round"/>
<circle cx="511.8" cy="280.7" r="1.5" fill="#c040b0"/>
<circle cx="515.5" cy="280.7" r="1.5" fill="#c040b0"/>
<circle cx="519.2" cy="280.7" r="1.5" fill="#c040b0"/>
<circle cx="522.9" cy="280.7" r="1.5" fill="#c040b0"/>
<circle cx="526.6" cy="280.7" r="1.5" fill="#c040b0"/>
<circle cx="530.3" cy="280.7" r="1.5" fill="#c040b0"/>
<circle cx="534" cy="280.6" r="1.5" fill="#c040b0"/>
<circle cx="537.7" cy="280" r="1.5" fill="#c040b0"/>
<circle cx="541.4" cy="276.9" r="1.5" fill="#c040b0"/>
<circle cx="545.1" cy="269.4" r="1.5" fill="#c040b0"/>
<circle cx="548.8" cy="263.2" r="1.5" fill="#c040b0"/>
<circle cx="552.5" cy="266.6" r="1.5" fill="#c040b0"/>
<circle cx="556.2" cy="274.5" r="1.5" fill="#c040b0"/>
<circle cx="559.9" cy="278.3" r="1.5" fill="#c040b0"/>
<circle cx="563.6" cy="277.1" r="1.5" fill="#c040b0"/>
<circle cx="567.3" cy="271.6" r="1.5" fill="#c040b0"/>
<circle cx="571" cy="262.3" r="1.5" fill="#c040b0"/>
<circle cx="574.8" cy="252.5" r="1.5" fill="#c040b0"/>
<circle cx="578.5" cy="248.1" r="1.5" fill="#c040b0"/>
<circle cx="582.2" cy="252.2" r="1.5" fill="#c040b0"/>
<circle cx="585.9" cy="261.7" r="1.5" fill="#c040b0"/>
<circle cx="589.6" cy="270.7" r="1.5" fill="#c040b0"/>
<circle cx="593.3" cy="276" r="1.5" fill="#c040b0"/>
<circle cx="597" cy="278.6" r="1.5" fill="#c040b0"/>
<circle cx="600.7" cy="279.5" r="1.5" fill="#c040b0"/>
<circle cx="604.4" cy="279.9" r="1.5" fill="#c040b0"/>
<circle cx="608.1" cy="280.1" r="1.5" fill="#c040b0"/>
<circle cx="611.8" cy="280.2" r="1.5" fill="#c040b0"/>
<circle cx="615.5" cy="280.3" r="1.5" fill="#c040b0"/>
<circle cx="619.2" cy="280.4" r="1.5" fill="#c040b0"/>
<circle cx="622.9" cy="280.4" r="1.5" fill="#c040b0"/>
<circle cx="626.6" cy="280.5" r="1.5" fill="#c040b0"/>
<circle cx="630.3" cy="280.5" r="1.5" fill="#c040b0"/>
<polyline points="509.6,280.7 632.5,280.7" fill="none" stroke="#111" stroke-width="2.6" stroke-linejoin="round" stroke-linecap="round"/>
<polygon points="531.2,330.5 532.3,330.4 533.5,330.3 534.6,330.2 535.8,330.1 536.9,329.8 538,329.4 539.2,328.7 540.3,327.6 541.5,326.1 542.6,324.1 543.8,321.7 544.9,318.9 546,316.2 547.2,313.9 548.3,312.3 549.5,311.6 550.6,312.1 551.7,313.7 552.9,315.9 554,318.5 555.2,321.1 556.3,323.5 557.4,325.4 558.6,326.8 559.7,327.7 560.9,328.3 562,328.7 563.2,328.8 564.3,328.9 565.4,328.9 566.6,328.8 567.7,328.8 567.7,328.8 566.6,328.9 565.4,328.9 564.3,329 563.2,329 562,329.1 560.9,329.1 559.7,329.2 558.6,329.2 557.4,329.3 556.3,329.3 555.2,329.4 554,329.4 552.9,329.5 551.7,329.5 550.6,329.6 549.5,329.6 548.3,329.7 547.2,329.8 546,329.8 544.9,329.9 543.8,329.9 542.6,330 541.5,330 540.3,330.1 539.2,330.1 538,330.2 536.9,330.2 535.8,330.3 534.6,330.3 533.5,330.4 532.3,330.4 531.2,330.5" fill="url(#lh58cc58331)" opacity="0.85"/>
<polygon points="550.8,329.6 552.5,329.5 554.3,329.4 556,329.2 557.7,329 559.5,328.6 561.2,328.1 562.9,327.1 564.6,325.7 566.4,323.7 568.1,321 569.8,317.7 571.5,314.1 573.3,310.4 575,307.3 576.7,305.1 578.5,304.3 580.2,305 581.9,307 583.6,310 585.4,313.4 587.1,316.9 588.8,320 590.5,322.6 592.3,324.4 594,325.7 595.7,326.5 597.5,326.9 599.2,327.1 600.9,327.1 602.6,327.1 604.4,327.1 606.1,327 606.1,327 604.4,327.1 602.6,327.2 600.9,327.3 599.2,327.4 597.5,327.4 595.7,327.5 594,327.6 592.3,327.7 590.5,327.7 588.8,327.8 587.1,327.9 585.4,328 583.6,328.1 581.9,328.1 580.2,328.2 578.5,328.3 576.7,328.4 575,328.5 573.3,328.5 571.5,328.6 569.8,328.7 568.1,328.8 566.4,328.9 564.6,328.9 562.9,329 561.2,329.1 559.5,329.2 557.7,329.3 556,329.3 554.3,329.4 552.5,329.5 550.8,329.6" fill="url(#lhe880b0331)" opacity="0.85"/>
<polyline points="509.4,331.5 510,331.5 510.6,331.4 511.2,331.4 511.8,331.4 512.4,331.3 513.1,331.3 513.7,331.3 514.3,331.3 514.9,331.2 515.5,331.2 516.1,331.2 516.8,331.1 517.4,331.1 518,331.1 518.6,331.1 519.2,331 519.8,331 520.5,331 521.1,330.9 521.7,330.9 522.3,330.9 522.9,330.8 523.6,330.8 524.2,330.8 524.8,330.8 525.4,330.7 526,330.7 526.6,330.7 527.3,330.6 527.9,330.6 528.5,330.6 529.1,330.6 529.7,330.5 530.3,330.5 531,330.5 531.6,330.4 532.2,330.4 532.8,330.3 533.4,330.3 534,330.3 534.7,330.2 535.3,330.1 535.9,330 536.5,329.9 537.1,329.7 537.7,329.5 538.4,329.2 539,328.8 539.6,328.3 540.2,327.7 540.8,327 541.4,326.1 542.1,325.1 542.7,323.9 543.3,322.6 543.9,321.2 544.5,319.8 545.1,318.2 545.8,316.8 546.4,315.4 547,314.1 547.6,313 548.2,312.2 548.8,311.7 549.5,311.5 550.1,311.7 550.7,312.1 551.3,312.8 551.9,313.8 552.5,315 553.2,316.3 553.8,317.7 554.4,319.2 555,320.6 555.6,321.9 556.2,323.1 556.9,324.1 557.5,325 558.1,325.7 558.7,326.3 559.3,326.7 559.9,327 560.6,327.1 561.2,327.2 561.8,327.1 562.4,326.9 563,326.6 563.6,326.2 564.3,325.7 564.9,325.1 565.5,324.4 566.1,323.7 566.7,322.8 567.3,321.9 568,320.9 568.6,319.8 569.2,318.6 569.8,317.3 570.4,316 571,314.7 571.7,313.4 572.3,312 572.9,310.7 573.5,309.5 574.1,308.3 574.8,307.2 575.4,306.2 576,305.4 576.6,304.7 577.2,304.2 577.8,303.8 578.5,303.7 579.1,303.7 579.7,303.9 580.3,304.4 580.9,304.9 581.5,305.7 582.2,306.6 582.8,307.5 583.4,308.6 584,309.8 584.6,311 585.2,312.2 585.9,313.5 586.5,314.7 587.1,315.9 587.7,317 588.3,318.1 588.9,319.1 589.6,320 590.2,320.8 590.8,321.6 591.4,322.2 592,322.8 592.6,323.3 593.3,323.7 593.9,324.2 594.5,324.5 595.1,324.9 595.7,325.2 596.3,325.4 597,325.6 597.6,325.7 598.2,325.9 598.8,326 599.4,326.1 600,326.1 600.7,326.2 601.3,326.2 601.9,326.2 602.5,326.3 603.1,326.3 603.7,326.3 604.4,326.3 605,326.3 605.6,326.3 606.2,326.3 606.8,326.3 607.4,326.3 608.1,326.3 608.7,326.3 609.3,326.3 609.9,326.3 610.5,326.3 611.1,326.3 611.8,326.3 612.4,326.2 613,326.2 613.6,326.2 614.2,326.2 614.8,326.2 615.5,326.2 616.1,326.2 616.7,326.2 617.3,326.1 617.9,326.1 618.5,326.1 619.2,326.1 619.8,326.1 620.4,326.1 621,326 621.6,326 622.3,326 622.9,326 623.5,326 624.1,325.9 624.7,325.9 625.3,325.9 626,325.9 626.6,325.9 627.2,325.8 627.8,325.8 628.4,325.8 629,325.8 629.7,325.8 630.3,325.7 630.9,325.7 631.5,325.7 632.1,325.7 632.7,325.6" fill="none" stroke="#a03a80" stroke-width="1.6" stroke-linejoin="round" stroke-linecap="round"/>
<circle cx="511.8" cy="331.4" r="1.5" fill="#a03a80"/>
<circle cx="515.5" cy="331.2" r="1.5" fill="#a03a80"/>
<circle cx="519.2" cy="331" r="1.5" fill="#a03a80"/>
<circle cx="522.9" cy="330.8" r="1.5" fill="#a03a80"/>
<circle cx="526.6" cy="330.7" r="1.5" fill="#a03a80"/>
<circle cx="530.3" cy="330.5" r="1.5" fill="#a03a80"/>
<circle cx="534" cy="330.3" r="1.5" fill="#a03a80"/>
<circle cx="537.7" cy="329.5" r="1.5" fill="#a03a80"/>
<circle cx="541.4" cy="326.1" r="1.5" fill="#a03a80"/>
<circle cx="545.1" cy="318.2" r="1.5" fill="#a03a80"/>
<circle cx="548.8" cy="311.7" r="1.5" fill="#a03a80"/>
<circle cx="552.5" cy="315" r="1.5" fill="#a03a80"/>
<circle cx="556.2" cy="323.1" r="1.5" fill="#a03a80"/>
<circle cx="559.9" cy="327" r="1.5" fill="#a03a80"/>
<circle cx="563.6" cy="326.2" r="1.5" fill="#a03a80"/>
<circle cx="567.3" cy="321.9" r="1.5" fill="#a03a80"/>
<circle cx="571" cy="314.7" r="1.5" fill="#a03a80"/>
<circle cx="574.8" cy="307.2" r="1.5" fill="#a03a80"/>
<circle cx="578.5" cy="303.7" r="1.5" fill="#a03a80"/>
<circle cx="582.2" cy="306.6" r="1.5" fill="#a03a80"/>
<circle cx="585.9" cy="313.5" r="1.5" fill="#a03a80"/>
<circle cx="589.6" cy="320" r="1.5" fill="#a03a80"/>
<circle cx="593.3" cy="323.7" r="1.5" fill="#a03a80"/>
<circle cx="597" cy="325.6" r="1.5" fill="#a03a80"/>
<circle cx="600.7" cy="326.2" r="1.5" fill="#a03a80"/>
<circle cx="604.4" cy="326.3" r="1.5" fill="#a03a80"/>
<circle cx="608.1" cy="326.3" r="1.5" fill="#a03a80"/>
<circle cx="611.8" cy="326.3" r="1.5" fill="#a03a80"/>
<circle cx="615.5" cy="326.2" r="1.5" fill="#a03a80"/>
<circle cx="619.2" cy="326.1" r="1.5" fill="#a03a80"/>
<circle cx="622.9" cy="326" r="1.5" fill="#a03a80"/>
<circle cx="626.6" cy="325.9" r="1.5" fill="#a03a80"/>
<circle cx="630.3" cy="325.7" r="1.5" fill="#a03a80"/>
<polyline points="509.6,331.5 632.5,325.8" fill="none" stroke="#111" stroke-width="2.6" stroke-linejoin="round" stroke-linecap="round"/>
<polygon points="531.2,393.4 532.3,393.3 533.5,393.3 534.6,393.2 535.8,393 536.9,392.7 538,392.2 539.2,391.4 540.3,390.2 541.5,388.4 542.6,385.9 543.8,383 544.9,379.7 546,376.4 547.2,373.6 548.3,371.6 549.5,370.9 550.6,371.6 551.7,373.5 552.9,376.2 554,379.5 555.2,382.7 556.3,385.6 557.4,388 558.6,389.7 559.7,390.9 560.9,391.7 562,392.1 563.2,392.3 564.3,392.5 565.4,392.5 566.6,392.5 567.7,392.5 567.7,392.5 566.6,392.5 565.4,392.5 564.3,392.6 563.2,392.6 562,392.6 560.9,392.6 559.7,392.7 558.6,392.7 557.4,392.7 556.3,392.8 555.2,392.8 554,392.8 552.9,392.8 551.7,392.9 550.6,392.9 549.5,392.9 548.3,393 547.2,393 546,393 544.9,393 543.8,393.1 542.6,393.1 541.5,393.1 540.3,393.1 539.2,393.2 538,393.2 536.9,393.2 535.8,393.3 534.6,393.3 533.5,393.3 532.3,393.3 531.2,393.4" fill="url(#lh58cc58393)" opacity="0.85"/>
<polygon points="550.8,392.9 552.5,392.8 554.3,392.7 556,392.5 557.7,392.2 559.5,391.7 561.2,390.7 562.9,389.1 564.6,386.6 566.4,383 568.1,378.2 569.8,372.3 571.5,365.7 573.3,359.1 575,353.5 576.7,349.6 578.5,348.2 580.2,349.5 581.9,353.3 583.6,358.9 585.4,365.4 587.1,371.9 588.8,377.7 590.5,382.4 592.3,385.9 594,388.3 595.7,389.9 597.5,390.8 599.2,391.2 600.9,391.5 602.6,391.5 604.4,391.6 606.1,391.5 606.1,391.5 604.4,391.6 602.6,391.6 600.9,391.7 599.2,391.7 597.5,391.8 595.7,391.8 594,391.8 592.3,391.9 590.5,391.9 588.8,392 587.1,392 585.4,392.1 583.6,392.1 581.9,392.1 580.2,392.2 578.5,392.2 576.7,392.3 575,392.3 573.3,392.3 571.5,392.4 569.8,392.4 568.1,392.5 566.4,392.5 564.6,392.6 562.9,392.6 561.2,392.6 559.5,392.7 557.7,392.7 556,392.8 554.3,392.8 552.5,392.8 550.8,392.9" fill="url(#lhe880b0393)" opacity="0.85"/>
<polyline points="509.4,393.9 510,393.9 510.6,393.9 511.2,393.8 511.8,393.8 512.4,393.8 513.1,393.8 513.7,393.8 514.3,393.8 514.9,393.7 515.5,393.7 516.1,393.7 516.8,393.7 517.4,393.7 518,393.7 518.6,393.7 519.2,393.6 519.8,393.6 520.5,393.6 521.1,393.6 521.7,393.6 522.3,393.6 522.9,393.5 523.6,393.5 524.2,393.5 524.8,393.5 525.4,393.5 526,393.5 526.6,393.4 527.3,393.4 527.9,393.4 528.5,393.4 529.1,393.4 529.7,393.4 530.3,393.3 531,393.3 531.6,393.3 532.2,393.3 532.8,393.3 533.4,393.2 534,393.2 534.7,393.1 535.3,393 535.9,392.9 536.5,392.8 537.1,392.6 537.7,392.3 538.4,392 539,391.5 539.6,391 540.2,390.3 540.8,389.4 541.4,388.3 542.1,387.1 542.7,385.7 543.3,384.2 543.9,382.5 544.5,380.7 545.1,378.9 545.8,377.1 546.4,375.4 547,373.9 547.6,372.6 548.2,371.6 548.8,371 549.5,370.8 550.1,371 550.7,371.5 551.3,372.5 551.9,373.7 552.5,375.2 553.2,376.8 553.8,378.5 554.4,380.3 555,382 555.6,383.6 556.2,385 556.9,386.3 557.5,387.4 558.1,388.3 558.7,388.9 559.3,389.4 559.9,389.7 560.6,389.7 561.2,389.7 561.8,389.4 562.4,389 563,388.4 563.6,387.7 564.3,386.8 564.9,385.8 565.5,384.6 566.1,383.2 566.7,381.7 567.3,380.1 568,378.2 568.6,376.2 569.2,374.1 569.8,371.9 570.4,369.6 571,367.2 571.7,364.8 572.3,362.4 572.9,360 573.5,357.8 574.1,355.6 574.8,353.7 575.4,351.9 576,350.4 576.6,349.2 577.2,348.4 577.8,347.8 578.5,347.6 579.1,347.7 579.7,348.2 580.3,349 580.9,350.1 581.5,351.6 582.2,353.2 582.8,355.1 583.4,357.2 584,359.3 584.6,361.6 585.2,363.9 585.9,366.3 586.5,368.6 587.1,370.8 587.7,373 588.3,375 588.9,376.9 589.6,378.6 590.2,380.2 590.8,381.7 591.4,383 592,384.1 592.6,385.1 593.3,385.9 593.9,386.8 594.5,387.5 595.1,388.1 595.7,388.6 596.3,389 597,389.3 597.6,389.6 598.2,389.9 598.8,390.1 599.4,390.2 600,390.3 600.7,390.5 601.3,390.5 601.9,390.6 602.5,390.7 603.1,390.7 603.7,390.7 604.4,390.8 605,390.8 605.6,390.8 606.2,390.8 606.8,390.8 607.4,390.8 608.1,390.9 608.7,390.9 609.3,390.9 609.9,390.9 610.5,390.9 611.1,390.9 611.8,390.9 612.4,390.9 613,390.9 613.6,390.9 614.2,390.9 614.8,390.9 615.5,390.9 616.1,390.9 616.7,390.9 617.3,390.9 617.9,390.9 618.5,390.9 619.2,390.9 619.8,390.9 620.4,390.9 621,390.9 621.6,390.9 622.3,390.9 622.9,390.9 623.5,390.9 624.1,390.9 624.7,390.9 625.3,390.8 626,390.8 626.6,390.8 627.2,390.8 627.8,390.8 628.4,390.8 629,390.8 629.7,390.8 630.3,390.8 630.9,390.8 631.5,390.8 632.1,390.8 632.7,390.7" fill="none" stroke="#4a3a98" stroke-width="1.6" stroke-linejoin="round" stroke-linecap="round"/>
<circle cx="511.8" cy="393.8" r="1.5" fill="#4a3a98"/>
<circle cx="515.5" cy="393.7" r="1.5" fill="#4a3a98"/>
<circle cx="519.2" cy="393.6" r="1.5" fill="#4a3a98"/>
<circle cx="522.9" cy="393.5" r="1.5" fill="#4a3a98"/>
<circle cx="526.6" cy="393.4" r="1.5" fill="#4a3a98"/>
<circle cx="530.3" cy="393.3" r="1.5" fill="#4a3a98"/>
<circle cx="534" cy="393.2" r="1.5" fill="#4a3a98"/>
<circle cx="537.7" cy="392.3" r="1.5" fill="#4a3a98"/>
<circle cx="541.4" cy="388.3" r="1.5" fill="#4a3a98"/>
<circle cx="545.1" cy="378.9" r="1.5" fill="#4a3a98"/>
<circle cx="548.8" cy="371" r="1.5" fill="#4a3a98"/>
<circle cx="552.5" cy="375.2" r="1.5" fill="#4a3a98"/>
<circle cx="556.2" cy="385" r="1.5" fill="#4a3a98"/>
<circle cx="559.9" cy="389.7" r="1.5" fill="#4a3a98"/>
<circle cx="563.6" cy="387.7" r="1.5" fill="#4a3a98"/>
<circle cx="567.3" cy="380.1" r="1.5" fill="#4a3a98"/>
<circle cx="571" cy="367.2" r="1.5" fill="#4a3a98"/>
<circle cx="574.8" cy="353.7" r="1.5" fill="#4a3a98"/>
<circle cx="578.5" cy="347.6" r="1.5" fill="#4a3a98"/>
<circle cx="582.2" cy="353.2" r="1.5" fill="#4a3a98"/>
<circle cx="585.9" cy="366.3" r="1.5" fill="#4a3a98"/>
<circle cx="589.6" cy="378.6" r="1.5" fill="#4a3a98"/>
<circle cx="593.3" cy="385.9" r="1.5" fill="#4a3a98"/>
<circle cx="597" cy="389.3" r="1.5" fill="#4a3a98"/>
<circle cx="600.7" cy="390.5" r="1.5" fill="#4a3a98"/>
<circle cx="604.4" cy="390.8" r="1.5" fill="#4a3a98"/>
<circle cx="608.1" cy="390.9" r="1.5" fill="#4a3a98"/>
<circle cx="611.8" cy="390.9" r="1.5" fill="#4a3a98"/>
<circle cx="615.5" cy="390.9" r="1.5" fill="#4a3a98"/>
<circle cx="619.2" cy="390.9" r="1.5" fill="#4a3a98"/>
<circle cx="622.9" cy="390.9" r="1.5" fill="#4a3a98"/>
<circle cx="626.6" cy="390.8" r="1.5" fill="#4a3a98"/>
<circle cx="630.3" cy="390.8" r="1.5" fill="#4a3a98"/>
<polyline points="509.6,393.9 632.5,390.9" fill="none" stroke="#111" stroke-width="2.6" stroke-linejoin="round" stroke-linecap="round"/>
<line x1="546.5" y1="283" x2="546.5" y2="392" stroke="#888" stroke-width="1" stroke-dasharray="1.5 2"/>
<line x1="577" y1="250" x2="577" y2="392" stroke="#888" stroke-width="1" stroke-dasharray="1.5 2"/>
<text x="547" y="256" font-family="'Liberation Sans', sans-serif" font-size="10.5" font-weight="bold" text-anchor="middle" fill="#111">E<tspan font-size="6" dy="3">2g</tspan><tspan font-size="6" dx="-8" dy="-8">1</tspan></text>
<text x="580" y="246.5" font-family="'Liberation Sans', sans-serif" font-size="10.5" font-weight="bold" text-anchor="middle" fill="#111">A<tspan font-size="6" dy="3">1g</tspan></text>
<text x="612" y="292" font-family="'Liberation Sans', sans-serif" font-size="9.5" font-weight="bold" text-anchor="middle" fill="#111">C-1.2 V</text>
<text x="609" y="345" font-family="'Liberation Sans', sans-serif" font-size="9.5" font-weight="bold" text-anchor="middle" fill="#111">D-0.13 V</text>
<text x="617" y="404" font-family="'Liberation Sans', sans-serif" font-size="9.5" font-weight="bold" text-anchor="middle" fill="#111">OCV</text>
<rect x="518.5" y="297" width="4" height="56" fill="url(#harr)"/>
<polygon points="514.5,298 526.5,298 520.5,288" fill="#f0d0d8"/>
<rect x="509.6" y="232.1" width="122.9" height="178.5" fill="none" stroke="#151515" stroke-width="1.3"/>
<line x1="521.7" y1="410.6" x2="521.7" y2="413.6" stroke="#222" stroke-width="1"/>
<text x="521.7" y="424.1" font-family="'Liberation Serif', serif" font-size="10" font-weight="bold" text-anchor="middle" fill="#111">360</text>
<line x1="546.4" y1="410.6" x2="546.4" y2="413.6" stroke="#222" stroke-width="1"/>
<text x="546.4" y="424.1" font-family="'Liberation Serif', serif" font-size="10" font-weight="bold" text-anchor="middle" fill="#111">380</text>
<line x1="571" y1="410.6" x2="571" y2="413.6" stroke="#222" stroke-width="1"/>
<text x="571" y="424.1" font-family="'Liberation Serif', serif" font-size="10" font-weight="bold" text-anchor="middle" fill="#111">400</text>
<line x1="595.7" y1="410.6" x2="595.7" y2="413.6" stroke="#222" stroke-width="1"/>
<text x="595.7" y="424.1" font-family="'Liberation Serif', serif" font-size="10" font-weight="bold" text-anchor="middle" fill="#111">420</text>
<line x1="620.4" y1="410.6" x2="620.4" y2="413.6" stroke="#222" stroke-width="1"/>
<text x="620.4" y="424.1" font-family="'Liberation Serif', serif" font-size="10" font-weight="bold" text-anchor="middle" fill="#111">440</text>
<text x="578.6" y="433" font-family="'Liberation Serif', serif" font-size="10.5" font-weight="bold" text-anchor="middle" fill="#111">Raman shift (cm<tspan font-size="7" dy="-4">-1</tspan><tspan dy="4">)</tspan></text>
<text x="501" y="313" font-family="'Liberation Serif', serif" font-size="10.5" font-weight="bold" text-anchor="middle" fill="#111" transform="rotate(-90 501 313)">Intensity (a.u.)</text>
<text x="493" y="245" font-family="'Liberation Serif', serif" font-size="22" font-weight="bold" text-anchor="start" fill="#111">h</text>
<rect x="31.4" y="450.9" width="125.6" height="181.8" fill="url(#gi)"/>
<polyline points="47.5,625.7 53.6,623.1 58.1,620.5 63.7,617.9 67.4,615.2 73.1,612.6 76.6,610 80.8,607.4 85.2,604.8 89.4,602.2 93.9,599.6 98.8,597 101.6,594.3 105.9,591.7 108.3,589.1 112.4,586.5 115.6,583.9 117.8,581.3 121.3,578.7 123.5,576 125.5,573.4 128,570.8 128.8,568.2" fill="none" stroke="#e878f4" stroke-width="3.4" stroke-linejoin="round" stroke-linecap="round" opacity="0.85"/>
<circle cx="47.5" cy="625.7" r="1.6" fill="#6a44d8"/>
<circle cx="53.6" cy="623.1" r="1.6" fill="#6a44d8"/>
<circle cx="58.1" cy="620.5" r="1.6" fill="#6a44d8"/>
<circle cx="63.7" cy="617.9" r="1.6" fill="#6a44d8"/>
<circle cx="67.4" cy="615.2" r="1.6" fill="#6a44d8"/>
<circle cx="73.1" cy="612.6" r="1.6" fill="#6a44d8"/>
<circle cx="76.6" cy="610" r="1.6" fill="#6a44d8"/>
<circle cx="80.8" cy="607.4" r="1.6" fill="#6a44d8"/>
<circle cx="85.2" cy="604.8" r="1.6" fill="#6a44d8"/>
<circle cx="89.4" cy="602.2" r="1.6" fill="#6a44d8"/>
<circle cx="93.9" cy="599.6" r="1.6" fill="#6a44d8"/>
<circle cx="98.8" cy="597" r="1.6" fill="#6a44d8"/>
<circle cx="101.6" cy="594.3" r="1.6" fill="#6a44d8"/>
<circle cx="105.9" cy="591.7" r="1.6" fill="#6a44d8"/>
<circle cx="108.3" cy="589.1" r="1.6" fill="#6a44d8"/>
<circle cx="112.4" cy="586.5" r="1.6" fill="#6a44d8"/>
<circle cx="115.6" cy="583.9" r="1.6" fill="#6a44d8"/>
<circle cx="117.8" cy="581.3" r="1.6" fill="#6a44d8"/>
<circle cx="121.3" cy="578.7" r="1.6" fill="#6a44d8"/>
<circle cx="123.5" cy="576" r="1.6" fill="#6a44d8"/>
<circle cx="125.5" cy="573.4" r="1.6" fill="#6a44d8"/>
<circle cx="128" cy="570.8" r="1.6" fill="#6a44d8"/>
<circle cx="128.8" cy="568.2" r="1.6" fill="#6a44d8"/>
<polyline points="127.9,568.2 124.3,565.6 120.6,563.1 117.3,560.5 114.3,557.9 111.2,555.4 107.6,552.8 103.8,550.3 99,547.7 96.5,545.1 92.8,542.6 88.7,540 85.9,537.4 81.7,534.9 77.3,532.3 73.8,529.7 70.1,527.2 67.2,524.6 63.6,522.1 60.4,519.5 55.4,516.9 51.8,514.4 49.7,511.8" fill="none" stroke="#e878f4" stroke-width="3.4" stroke-linejoin="round" stroke-linecap="round" opacity="0.85"/>
<circle cx="127.9" cy="568.2" r="1.6" fill="#6a44d8"/>
<circle cx="124.3" cy="565.6" r="1.6" fill="#6a44d8"/>
<circle cx="120.6" cy="563.1" r="1.6" fill="#6a44d8"/>
<circle cx="117.3" cy="560.5" r="1.6" fill="#6a44d8"/>
<circle cx="114.3" cy="557.9" r="1.6" fill="#6a44d8"/>
<circle cx="111.2" cy="555.4" r="1.6" fill="#6a44d8"/>
<circle cx="107.6" cy="552.8" r="1.6" fill="#6a44d8"/>
<circle cx="103.8" cy="550.3" r="1.6" fill="#6a44d8"/>
<circle cx="99" cy="547.7" r="1.6" fill="#6a44d8"/>
<circle cx="96.5" cy="545.1" r="1.6" fill="#6a44d8"/>
<circle cx="92.8" cy="542.6" r="1.6" fill="#6a44d8"/>
<circle cx="88.7" cy="540" r="1.6" fill="#6a44d8"/>
<circle cx="85.9" cy="537.4" r="1.6" fill="#6a44d8"/>
<circle cx="81.7" cy="534.9" r="1.6" fill="#6a44d8"/>
<circle cx="77.3" cy="532.3" r="1.6" fill="#6a44d8"/>
<circle cx="73.8" cy="529.7" r="1.6" fill="#6a44d8"/>
<circle cx="70.1" cy="527.2" r="1.6" fill="#6a44d8"/>
<circle cx="67.2" cy="524.6" r="1.6" fill="#6a44d8"/>
<circle cx="63.6" cy="522.1" r="1.6" fill="#6a44d8"/>
<circle cx="60.4" cy="519.5" r="1.6" fill="#6a44d8"/>
<circle cx="55.4" cy="516.9" r="1.6" fill="#6a44d8"/>
<circle cx="51.8" cy="514.4" r="1.6" fill="#6a44d8"/>
<circle cx="49.7" cy="511.8" r="1.6" fill="#6a44d8"/>
<polyline points="48.6,511.8 52.3,509.3 56.9,506.7 59.3,504.2 64.1,501.7 67.9,499.2 71,496.6 74.8,494.1 77.5,491.6 82.1,489.1 85.8,486.5 89.7,484 93,481.5 96,478.9 99.8,476.4 104.2,473.9 106.9,471.4 110.6,468.8 114.5,466.3 119,463.8 122.3,461.3 125.7,458.7 130.3,456.2" fill="none" stroke="#e878f4" stroke-width="3.4" stroke-linejoin="round" stroke-linecap="round" opacity="0.85"/>
<circle cx="48.6" cy="511.8" r="1.6" fill="#6a44d8"/>
<circle cx="52.3" cy="509.3" r="1.6" fill="#6a44d8"/>
<circle cx="56.9" cy="506.7" r="1.6" fill="#6a44d8"/>
<circle cx="59.3" cy="504.2" r="1.6" fill="#6a44d8"/>
<circle cx="64.1" cy="501.7" r="1.6" fill="#6a44d8"/>
<circle cx="67.9" cy="499.2" r="1.6" fill="#6a44d8"/>
<circle cx="71" cy="496.6" r="1.6" fill="#6a44d8"/>
<circle cx="74.8" cy="494.1" r="1.6" fill="#6a44d8"/>
<circle cx="77.5" cy="491.6" r="1.6" fill="#6a44d8"/>
<circle cx="82.1" cy="489.1" r="1.6" fill="#6a44d8"/>
<circle cx="85.8" cy="486.5" r="1.6" fill="#6a44d8"/>
<circle cx="89.7" cy="484" r="1.6" fill="#6a44d8"/>
<circle cx="93" cy="481.5" r="1.6" fill="#6a44d8"/>
<circle cx="96" cy="478.9" r="1.6" fill="#6a44d8"/>
<circle cx="99.8" cy="476.4" r="1.6" fill="#6a44d8"/>
<circle cx="104.2" cy="473.9" r="1.6" fill="#6a44d8"/>
<circle cx="106.9" cy="471.4" r="1.6" fill="#6a44d8"/>
<circle cx="110.6" cy="468.8" r="1.6" fill="#6a44d8"/>
<circle cx="114.5" cy="466.3" r="1.6" fill="#6a44d8"/>
<circle cx="119" cy="463.8" r="1.6" fill="#6a44d8"/>
<circle cx="122.3" cy="461.3" r="1.6" fill="#6a44d8"/>
<circle cx="125.7" cy="458.7" r="1.6" fill="#6a44d8"/>
<circle cx="130.3" cy="456.2" r="1.6" fill="#6a44d8"/>
<line x1="31.4" y1="456.2" x2="129.6" y2="456.2" stroke="#444" stroke-width="0.9" stroke-dasharray="2 1.2"/>
<circle cx="129.6" cy="456.2" r="4.5" fill="none" stroke="#d04090" stroke-width="1.4"/>
<circle cx="129.6" cy="456.2" r="3" fill="#e070c0" opacity="0.6"/>
<line x1="31.4" y1="511.8" x2="49" y2="511.8" stroke="#444" stroke-width="0.9" stroke-dasharray="2 1.2"/>
<circle cx="49" cy="511.8" r="4.5" fill="none" stroke="#d04090" stroke-width="1.4"/>
<circle cx="49" cy="511.8" r="3" fill="#e070c0" opacity="0.6"/>
<line x1="31.4" y1="568.2" x2="128.5" y2="568.2" stroke="#444" stroke-width="0.9" stroke-dasharray="2 1.2"/>
<circle cx="128.5" cy="568.2" r="4.5" fill="none" stroke="#d04090" stroke-width="1.4"/>
<circle cx="128.5" cy="568.2" r="3" fill="#e070c0" opacity="0.6"/>
<line x1="31.4" y1="625.7" x2="48.1" y2="625.7" stroke="#444" stroke-width="0.9" stroke-dasharray="2 1.2"/>
<circle cx="48.1" cy="625.7" r="4.5" fill="none" stroke="#d04090" stroke-width="1.4"/>
<circle cx="48.1" cy="625.7" r="3" fill="#e070c0" opacity="0.6"/>
<rect x="86" y="452.2" width="22" height="8" fill="#e4dcee" opacity="0.9"/>
<text x="97" y="459.2" font-family="'Liberation Serif', serif" font-size="8.5" font-weight="bold" text-anchor="middle" fill="#333">7.575</text>
<line x1="108" y1="456.2" x2="125.6" y2="456.2" stroke="#e08090" stroke-width="0.9"/>
<rect x="70" y="507.8" width="22" height="8" fill="#e4dcee" opacity="0.9"/>
<text x="81" y="514.8" font-family="'Liberation Serif', serif" font-size="8.5" font-weight="bold" text-anchor="middle" fill="#333">7.185</text>
<line x1="92" y1="511.8" x2="45" y2="511.8" stroke="#e08090" stroke-width="0.9"/>
<rect x="86" y="564.2" width="22" height="8" fill="#e4dcee" opacity="0.9"/>
<text x="97" y="571.2" font-family="'Liberation Serif', serif" font-size="8.5" font-weight="bold" text-anchor="middle" fill="#333">7.570</text>
<line x1="108" y1="568.2" x2="124.5" y2="568.2" stroke="#e08090" stroke-width="0.9"/>
<rect x="70" y="621.7" width="22" height="8" fill="#e4dcee" opacity="0.9"/>
<text x="81" y="628.7" font-family="'Liberation Serif', serif" font-size="8.5" font-weight="bold" text-anchor="middle" fill="#333">7.181</text>
<line x1="92" y1="625.7" x2="44.1" y2="625.7" stroke="#e08090" stroke-width="0.9"/>
<line x1="92" y1="486" x2="126" y2="468" stroke="#6a6a7a" stroke-width="1.1" stroke-dasharray="1.3 1.3"/>
<polygon points="126,468 121.5,468.1 123.4,471.6" fill="#6a6a7a"/>
<line x1="124" y1="548" x2="92" y2="528" stroke="#6a6a7a" stroke-width="1.1" stroke-dasharray="1.3 1.3"/>
<polygon points="92,528 94.3,531.8 96.5,528.4" fill="#6a6a7a"/>
<line x1="94" y1="597" x2="132" y2="577" stroke="#6a6a7a" stroke-width="1.1" stroke-dasharray="1.3 1.3"/>
<polygon points="132,577 127.5,577.1 129.4,580.6" fill="#6a6a7a"/>
<text x="118" y="492" font-family="'Liberation Serif', serif" font-size="9.5" font-weight="bold" text-anchor="middle" fill="#9a9aa8" transform="rotate(-31 118 492)">2nd discharge</text>
<text x="110" y="536" font-family="'Liberation Serif', serif" font-size="9.5" font-weight="bold" text-anchor="middle" fill="#9a9aa8" transform="rotate(31 110 536)">1st charge</text>
<text x="119" y="603" font-family="'Liberation Serif', serif" font-size="9.5" font-weight="bold" text-anchor="middle" fill="#9a9aa8" transform="rotate(-31 119 603)">1st discharge</text>
<rect x="31.4" y="450.9" width="125.6" height="181.8" fill="none" stroke="#151515" stroke-width="1.3"/>
<line x1="27.9" y1="456.2" x2="31.4" y2="456.2" stroke="#222" stroke-width="1"/>
<text x="27.1" y="460.4" font-family="'Liberation Serif', serif" font-size="10" font-weight="bold" text-anchor="end" fill="#111">0.13</text>
<line x1="27.9" y1="511.8" x2="31.4" y2="511.8" stroke="#222" stroke-width="1"/>
<text x="27.1" y="516" font-family="'Liberation Serif', serif" font-size="10" font-weight="bold" text-anchor="end" fill="#111">1.20</text>
<line x1="27.9" y1="568.2" x2="31.4" y2="568.2" stroke="#222" stroke-width="1"/>
<text x="27.1" y="572.4" font-family="'Liberation Serif', serif" font-size="10" font-weight="bold" text-anchor="end" fill="#111">0.13</text>
<line x1="27.9" y1="625.7" x2="31.4" y2="625.7" stroke="#222" stroke-width="1"/>
<text x="27.1" y="629.9" font-family="'Liberation Serif', serif" font-size="10" font-weight="bold" text-anchor="end" fill="#111">OCV</text>
<line x1="31.4" y1="632.7" x2="31.4" y2="635.7" stroke="#222" stroke-width="1"/>
<text x="31.4" y="645.2" font-family="'Liberation Serif', serif" font-size="10.5" font-weight="bold" text-anchor="middle" fill="#111">7.1</text>
<line x1="52.1" y1="632.7" x2="52.1" y2="635.7" stroke="#222" stroke-width="1"/>
<text x="52.1" y="645.2" font-family="'Liberation Serif', serif" font-size="10.5" font-weight="bold" text-anchor="middle" fill="#111">7.2</text>
<line x1="72.7" y1="632.7" x2="72.7" y2="635.7" stroke="#222" stroke-width="1"/>
<text x="72.7" y="645.2" font-family="'Liberation Serif', serif" font-size="10.5" font-weight="bold" text-anchor="middle" fill="#111">7.3</text>
<line x1="93.4" y1="632.7" x2="93.4" y2="635.7" stroke="#222" stroke-width="1"/>
<text x="93.4" y="645.2" font-family="'Liberation Serif', serif" font-size="10.5" font-weight="bold" text-anchor="middle" fill="#111">7.4</text>
<line x1="114.1" y1="632.7" x2="114.1" y2="635.7" stroke="#222" stroke-width="1"/>
<text x="114.1" y="645.2" font-family="'Liberation Serif', serif" font-size="10.5" font-weight="bold" text-anchor="middle" fill="#111">7.5</text>
<line x1="134.7" y1="632.7" x2="134.7" y2="635.7" stroke="#222" stroke-width="1"/>
<text x="134.7" y="645.2" font-family="'Liberation Serif', serif" font-size="10.5" font-weight="bold" text-anchor="middle" fill="#111">7.6</text>
<line x1="155.4" y1="632.7" x2="155.4" y2="635.7" stroke="#222" stroke-width="1"/>
<text x="155.4" y="645.2" font-family="'Liberation Serif', serif" font-size="10.5" font-weight="bold" text-anchor="middle" fill="#111">7.7</text>
<text x="96.3" y="653" font-family="'Liberation Serif', serif" font-size="11.3" font-weight="bold" text-anchor="middle" fill="#111">Interlayer distance (&#197;)</text>
<text x="8.6" y="539" font-family="'Liberation Serif', serif" font-size="9.6" font-weight="bold" text-anchor="middle" fill="#111" transform="rotate(-90 8.6 539)">Voltage (V vs. Zn<tspan font-size="6" dy="-3.5">2+</tspan><tspan dy="3.5">/Zn)</tspan></text>
<text x="2.5" y="463" font-family="'Liberation Serif', serif" font-size="21" font-weight="bold" text-anchor="start" fill="#111">i</text>
<g clip-path="url(#cjt)">
<rect x="166.7" y="450.4" width="95.5" height="97.8" fill="#6a6a6a"/>
<rect x="166.7" y="450.4" width="95.5" height="97.8" filter="url(#temn)" opacity="0.8"/>
<path d="M172.7,450.4 L173.7,456.4 L174.4,462.4 L174.7,468.4 L174.5,474.4 L173.9,480.4 L173,486.4 L172,492.4 L171.2,498.4 L170.7,504.4 L170.8,510.4 L171.3,516.4 L172.1,522.4 L173.1,528.4 L174,534.4 L174.6,540.4 L174.7,546.4 L174.3,552.4 M177.6,450.4 L177.9,456.4 L177.7,462.4 L177.1,468.4 L176.2,474.4 L175.2,480.4 L174.4,486.4 L173.9,492.4 L174,498.4 L174.5,504.4 L175.3,510.4 L176.3,516.4 L177.2,522.4 L177.8,528.4 L177.9,534.4 L177.5,540.4 L176.7,546.4 L175.7,552.4 M180.9,450.4 L180.3,456.4 L179.4,462.4 L178.4,468.4 L177.6,474.4 L177.1,480.4 L177.2,486.4 L177.7,492.4 L178.5,498.4 L179.5,504.4 L180.4,510.4 L181,516.4 L181.1,522.4 L180.7,528.4 L179.9,534.4 L178.9,540.4 L178,546.4 L177.3,552.4 M182.6,450.4 L181.6,456.4 L180.8,462.4 L180.3,468.4 L180.4,474.4 L180.9,480.4 L181.7,486.4 L182.7,492.4 L183.6,498.4 L184.2,504.4 L184.3,510.4 L183.9,516.4 L183.1,522.4 L182.1,528.4 L181.2,534.4 L180.5,540.4 L180.3,546.4 L180.5,552.4 M184,450.4 L183.5,456.4 L183.6,462.4 L184.1,468.4 L184.9,474.4 L185.9,480.4 L186.8,486.4 L187.4,492.4 L187.5,498.4 L187.1,504.4 L186.3,510.4 L185.3,516.4 L184.4,522.4 L183.7,528.4 L183.5,534.4 L183.7,540.4 L184.4,546.4 L185.4,552.4 M186.8,450.4 L187.3,456.4 L188.1,462.4 L189.1,468.4 L190,474.4 L190.6,480.4 L190.7,486.4 L190.3,492.4 L189.5,498.4 L188.5,504.4 L187.6,510.4 L186.9,516.4 L186.7,522.4 L186.9,528.4 L187.6,534.4 L188.6,540.4 L189.5,546.4 L190.3,552.4 M191.3,450.4 L192.3,456.4 L193.2,462.4 L193.8,468.4 L193.9,474.4 L193.5,480.4 L192.7,486.4 L191.7,492.4 L190.8,498.4 L190.1,504.4 L189.9,510.4 L190.1,516.4 L190.8,522.4 L191.8,528.4 L192.7,534.4 L193.5,540.4 L193.9,546.4 L193.8,552.4 M196.4,450.4 L197,456.4 L197.1,462.4 L196.7,468.4 L195.9,474.4 L194.9,480.4 L194,486.4 L193.3,492.4 L193.1,498.4 L193.3,504.4 L194,510.4 L195,516.4 L195.9,522.4 L196.7,528.4 L197.1,534.4 L197,540.4 L196.4,546.4 L195.5,552.4 M200.3,450.4 L199.9,456.4 L199.1,462.4 L198.1,468.4 L197.2,474.4 L196.5,480.4 L196.3,486.4 L196.5,492.4 L197.2,498.4 L198.2,504.4 L199.1,510.4 L199.9,516.4 L200.3,522.4 L200.2,528.4 L199.6,534.4 L198.7,540.4 L197.7,546.4 L196.9,552.4 " fill="none" stroke="#2e2e2e" stroke-width="1.6" opacity="0.5" stroke-linecap="round" filter="url(#blur07)"/>
<path d="M166.7,502.4 L172.7,503.5 L178.7,504.6 L184.7,505.5 L190.7,506.2 L196.7,506.6 L202.7,506.8 L208.7,506.7 L214.7,506.4 L220.7,505.9 L226.7,505.3 L232.7,504.7 L238.7,504.1 L244.7,503.6 L250.7,503.3 L256.7,503.2 L262.7,503.4 L268.7,503.9 M166.7,505.6 L172.7,506.7 L178.7,507.8 L184.7,508.7 L190.7,509.4 L196.7,509.8 L202.7,510 L208.7,509.9 L214.7,509.6 L220.7,509.1 L226.7,508.5 L232.7,507.9 L238.7,507.3 L244.7,506.8 L250.7,506.5 L256.7,506.4 L262.7,506.6 L268.7,507.1 M166.7,508.8 L172.7,509.9 L178.7,511 L184.7,511.9 L190.7,512.6 L196.7,513 L202.7,513.2 L208.7,513.1 L214.7,512.8 L220.7,512.3 L226.7,511.7 L232.7,511.1 L238.7,510.5 L244.7,510 L250.7,509.7 L256.7,509.6 L262.7,509.8 L268.7,510.3 M166.7,512 L172.7,513.1 L178.7,514.2 L184.7,515.1 L190.7,515.8 L196.7,516.2 L202.7,516.4 L208.7,516.3 L214.7,516 L220.7,515.5 L226.7,514.9 L232.7,514.3 L238.7,513.7 L244.7,513.2 L250.7,512.9 L256.7,512.8 L262.7,513 L268.7,513.5 M166.7,515.2 L172.7,516.3 L178.7,517.4 L184.7,518.3 L190.7,519 L196.7,519.4 L202.7,519.6 L208.7,519.5 L214.7,519.2 L220.7,518.7 L226.7,518.1 L232.7,517.5 L238.7,516.9 L244.7,516.4 L250.7,516.1 L256.7,516 L262.7,516.2 L268.7,516.7 M166.7,518.4 L172.7,519.5 L178.7,520.6 L184.7,521.5 L190.7,522.2 L196.7,522.6 L202.7,522.8 L208.7,522.7 L214.7,522.4 L220.7,521.9 L226.7,521.3 L232.7,520.7 L238.7,520.1 L244.7,519.6 L250.7,519.3 L256.7,519.2 L262.7,519.4 L268.7,519.9 M166.7,521.6 L172.7,522.7 L178.7,523.8 L184.7,524.7 L190.7,525.4 L196.7,525.8 L202.7,526 L208.7,525.9 L214.7,525.6 L220.7,525.1 L226.7,524.5 L232.7,523.9 L238.7,523.3 L244.7,522.8 L250.7,522.5 L256.7,522.4 L262.7,522.6 L268.7,523.1 " fill="none" stroke="#2a2a2a" stroke-width="1.7" opacity="0.6" stroke-linecap="round" filter="url(#blur07)"/>
<path d="M221.7,520.4 L225.7,518.8 L229.7,517.2 L233.7,515.6 L237.7,514 L241.7,512.4 L245.7,510.8 L249.7,509.2 L253.7,507.6 L257.7,506 L261.7,504.4 L265.7,502.8 M221.7,523.9 L225.7,522.3 L229.7,520.7 L233.7,519.1 L237.7,517.5 L241.7,515.9 L245.7,514.3 L249.7,512.7 L253.7,511.1 L257.7,509.5 L261.7,507.9 L265.7,506.3 M221.7,527.4 L225.7,525.8 L229.7,524.2 L233.7,522.6 L237.7,521 L241.7,519.4 L245.7,517.8 L249.7,516.2 L253.7,514.6 L257.7,513 L261.7,511.4 L265.7,509.8 M221.7,530.9 L225.7,529.3 L229.7,527.7 L233.7,526.1 L237.7,524.5 L241.7,522.9 L245.7,521.3 L249.7,519.7 L253.7,518.1 L257.7,516.5 L261.7,514.9 L265.7,513.3 M221.7,534.4 L225.7,532.8 L229.7,531.2 L233.7,529.6 L237.7,528 L241.7,526.4 L245.7,524.8 L249.7,523.2 L253.7,521.6 L257.7,520 L261.7,518.4 L265.7,516.8 M221.7,537.9 L225.7,536.3 L229.7,534.7 L233.7,533.1 L237.7,531.5 L241.7,529.9 L245.7,528.3 L249.7,526.7 L253.7,525.1 L257.7,523.5 L261.7,521.9 L265.7,520.3 " fill="none" stroke="#3a3a3a" stroke-width="1.4" opacity="0.5" stroke-linecap="round" filter="url(#blur07)"/>
<rect x="166.7" y="450.4" width="95.5" height="97.8" filter="url(#temw)" opacity="0.3"/>
</g>
<text x="171" y="469" font-family="'Liberation Serif', serif" font-size="22" font-weight="bold" text-anchor="start" fill="#f2f2f2">j</text>
<text x="258" y="461" font-family="'Liberation Sans', sans-serif" font-size="9.5" font-weight="bold" text-anchor="end" fill="#f2f2f2">D-0.13 V</text>
<text x="236.4" y="478" font-family="'Liberation Sans', sans-serif" font-size="9.5" font-weight="bold" text-anchor="middle" fill="#f2f2f2">d=0.75 nm</text>
<text x="233.8" y="490" font-family="'Liberation Sans', sans-serif" font-size="9.5" font-weight="bold" text-anchor="middle" fill="#f2f2f2">(002)</text>
<line x1="193.2" y1="476.5" x2="193.2" y2="496.5" stroke="#f2f2f2" stroke-width="1.3"/>
<line x1="199.9" y1="476.5" x2="199.9" y2="496.5" stroke="#f2f2f2" stroke-width="1.3"/>
<line x1="178.3" y1="487.5" x2="189" y2="487.5" stroke="#f2f2f2" stroke-width="1.3"/>
<polygon points="192,487.5 187,485 187,490" fill="#f2f2f2"/>
<line x1="213" y1="487.5" x2="204" y2="487.5" stroke="#f2f2f2" stroke-width="1.3"/>
<polygon points="201,487.5 206,485 206,490" fill="#f2f2f2"/>
<line x1="223" y1="512" x2="241.4" y2="507.8" stroke="#f2f2f2" stroke-width="1.3"/>
<line x1="224" y1="516.5" x2="242.4" y2="512.3" stroke="#f2f2f2" stroke-width="1.3"/>
<line x1="231.4" y1="494.8" x2="232.2" y2="503" stroke="#f2f2f2" stroke-width="1.2"/>
<polygon points="232.6,507 230,501 235,501" fill="#f2f2f2"/>
<line x1="238" y1="526" x2="236.2" y2="518" stroke="#f2f2f2" stroke-width="1.2"/>
<polygon points="235.7,514.8 233.5,520.5 238.5,519.5" fill="#f2f2f2"/>
<text x="245.7" y="537.5" font-family="'Liberation Sans', sans-serif" font-size="10" font-weight="bold" text-anchor="middle" fill="#f2f2f2">5 nm</text>
<rect x="233.8" y="540" width="25.2" height="3.2" fill="#f2f2f2"/>
<g clip-path="url(#cjb)">
<rect x="166.6" y="554.6" width="94.6" height="97.9" fill="#848484"/>
<rect x="166.6" y="554.6" width="94.6" height="97.9" filter="url(#temn)" opacity="0.7"/>
<path d="M156.6,652.6 L160.2,646.6 L163.6,640.6 L166.7,634.6 L169.3,628.6 L171.5,622.6 L173.3,616.6 L174.6,610.6 L175.5,604.6 L176.4,598.6 L177.2,592.6 L178.2,586.6 L179.5,580.6 L181.3,574.6 L183.5,568.6 L186.2,562.6 L189.3,556.6 L192.7,550.6 M161.1,652.6 L164.7,646.6 L168.1,640.6 L171.2,634.6 L173.8,628.6 L176,622.6 L177.8,616.6 L179.1,610.6 L180,604.6 L180.9,598.6 L181.7,592.6 L182.7,586.6 L184,580.6 L185.8,574.6 L188,568.6 L190.7,562.6 L193.8,556.6 L197.2,550.6 M165.6,652.6 L169.2,646.6 L172.6,640.6 L175.7,634.6 L178.3,628.6 L180.5,622.6 L182.3,616.6 L183.6,610.6 L184.5,604.6 L185.4,598.6 L186.2,592.6 L187.2,586.6 L188.5,580.6 L190.3,574.6 L192.5,568.6 L195.2,562.6 L198.3,556.6 L201.7,550.6 M170.1,652.6 L173.7,646.6 L177.1,640.6 L180.2,634.6 L182.8,628.6 L185,622.6 L186.8,616.6 L188.1,610.6 L189,604.6 L189.9,598.6 L190.7,592.6 L191.7,586.6 L193,580.6 L194.8,574.6 L197,568.6 L199.7,562.6 L202.8,556.6 L206.2,550.6 M174.6,652.6 L178.2,646.6 L181.6,640.6 L184.7,634.6 L187.3,628.6 L189.5,622.6 L191.3,616.6 L192.6,610.6 L193.5,604.6 L194.4,598.6 L195.2,592.6 L196.2,586.6 L197.5,580.6 L199.3,574.6 L201.5,568.6 L204.2,562.6 L207.3,556.6 L210.7,550.6 M179.1,652.6 L182.7,646.6 L186.1,640.6 L189.2,634.6 L191.8,628.6 L194,622.6 L195.8,616.6 L197.1,610.6 L198,604.6 L198.9,598.6 L199.7,592.6 L200.7,586.6 L202,580.6 L203.8,574.6 L206,568.6 L208.7,562.6 L211.8,556.6 L215.2,550.6 M183.6,652.6 L187.2,646.6 L190.6,640.6 L193.7,634.6 L196.3,628.6 L198.5,622.6 L200.3,616.6 L201.6,610.6 L202.5,604.6 L203.4,598.6 L204.2,592.6 L205.2,586.6 L206.5,580.6 L208.3,574.6 L210.5,568.6 L213.2,562.6 L216.3,556.6 L219.7,550.6 M188.1,652.6 L191.7,646.6 L195.1,640.6 L198.2,634.6 L200.8,628.6 L203,622.6 L204.8,616.6 L206.1,610.6 L207,604.6 L207.9,598.6 L208.7,592.6 L209.7,586.6 L211,580.6 L212.8,574.6 L215,568.6 L217.7,562.6 L220.8,556.6 L224.2,550.6 M192.6,652.6 L196.2,646.6 L199.6,640.6 L202.7,634.6 L205.3,628.6 L207.5,622.6 L209.3,616.6 L210.6,610.6 L211.5,604.6 L212.4,598.6 L213.2,592.6 L214.2,586.6 L215.5,580.6 L217.3,574.6 L219.5,568.6 L222.2,562.6 L225.3,556.6 L228.7,550.6 M197.1,652.6 L200.7,646.6 L204.1,640.6 L207.2,634.6 L209.8,628.6 L212,622.6 L213.8,616.6 L215.1,610.6 L216,604.6 L216.9,598.6 L217.7,592.6 L218.7,586.6 L220,580.6 L221.8,574.6 L224,568.6 L226.7,562.6 L229.8,556.6 L233.2,550.6 M201.6,652.6 L205.2,646.6 L208.6,640.6 L211.7,634.6 L214.3,628.6 L216.5,622.6 L218.3,616.6 L219.6,610.6 L220.5,604.6 L221.4,598.6 L222.2,592.6 L223.2,586.6 L224.5,580.6 L226.3,574.6 L228.5,568.6 L231.2,562.6 L234.3,556.6 L237.7,550.6 M206.1,652.6 L209.7,646.6 L213.1,640.6 L216.2,634.6 L218.8,628.6 L221,622.6 L222.8,616.6 L224.1,610.6 L225,604.6 L225.9,598.6 L226.7,592.6 L227.7,586.6 L229,580.6 L230.8,574.6 L233,568.6 L235.7,562.6 L238.8,556.6 L242.2,550.6 M210.6,652.6 L214.2,646.6 L217.6,640.6 L220.7,634.6 L223.3,628.6 L225.5,622.6 L227.3,616.6 L228.6,610.6 L229.5,604.6 L230.4,598.6 L231.2,592.6 L232.2,586.6 L233.5,580.6 L235.3,574.6 L237.5,568.6 L240.2,562.6 L243.3,556.6 L246.7,550.6 M215.1,652.6 L218.7,646.6 L222.1,640.6 L225.2,634.6 L227.8,628.6 L230,622.6 L231.8,616.6 L233.1,610.6 L234,604.6 L234.9,598.6 L235.7,592.6 L236.7,586.6 L238,580.6 L239.8,574.6 L242,568.6 L244.7,562.6 L247.8,556.6 L251.2,550.6 M219.6,652.6 L223.2,646.6 L226.6,640.6 L229.7,634.6 L232.3,628.6 L234.5,622.6 L236.3,616.6 L237.6,610.6 L238.5,604.6 L239.4,598.6 L240.2,592.6 L241.2,586.6 L242.5,580.6 L244.3,574.6 L246.5,568.6 L249.2,562.6 L252.3,556.6 L255.7,550.6 M224.1,652.6 L227.7,646.6 L231.1,640.6 L234.2,634.6 L236.8,628.6 L239,622.6 L240.8,616.6 L242.1,610.6 L243,604.6 L243.9,598.6 L244.7,592.6 L245.7,586.6 L247,580.6 L248.8,574.6 L251,568.6 L253.7,562.6 L256.8,556.6 L260.2,550.6 " fill="none" stroke="#3a3a3a" stroke-width="1.6" opacity="0.5" stroke-linecap="round" filter="url(#blur07)"/>
<path d="M226.6,554.6 L228.1,560.6 L229.6,566.6 L231.1,572.6 L232.6,578.6 L234.1,584.6 L235.6,590.6 L237.1,596.6 L238.6,602.6 L240.1,608.6 L241.6,614.6 L243.1,620.6 L244.6,626.6 L246.1,632.6 L247.6,638.6 L249.1,644.6 L250.6,650.6 L252.1,656.6 M230.6,554.6 L232.1,560.6 L233.6,566.6 L235.1,572.6 L236.6,578.6 L238.1,584.6 L239.6,590.6 L241.1,596.6 L242.6,602.6 L244.1,608.6 L245.6,614.6 L247.1,620.6 L248.6,626.6 L250.1,632.6 L251.6,638.6 L253.1,644.6 L254.6,650.6 L256.1,656.6 M234.6,554.6 L236.1,560.6 L237.6,566.6 L239.1,572.6 L240.6,578.6 L242.1,584.6 L243.6,590.6 L245.1,596.6 L246.6,602.6 L248.1,608.6 L249.6,614.6 L251.1,620.6 L252.6,626.6 L254.1,632.6 L255.6,638.6 L257.1,644.6 L258.6,650.6 L260.1,656.6 M238.6,554.6 L240.1,560.6 L241.6,566.6 L243.1,572.6 L244.6,578.6 L246.1,584.6 L247.6,590.6 L249.1,596.6 L250.6,602.6 L252.1,608.6 L253.6,614.6 L255.1,620.6 L256.6,626.6 L258.1,632.6 L259.6,638.6 L261.1,644.6 L262.6,650.6 L264.1,656.6 M242.6,554.6 L244.1,560.6 L245.6,566.6 L247.1,572.6 L248.6,578.6 L250.1,584.6 L251.6,590.6 L253.1,596.6 L254.6,602.6 L256.1,608.6 L257.6,614.6 L259.1,620.6 L260.6,626.6 L262.1,632.6 L263.6,638.6 L265.1,644.6 L266.6,650.6 L268.1,656.6 M246.6,554.6 L248.1,560.6 L249.6,566.6 L251.1,572.6 L252.6,578.6 L254.1,584.6 L255.6,590.6 L257.1,596.6 L258.6,602.6 L260.1,608.6 L261.6,614.6 L263.1,620.6 L264.6,626.6 L266.1,632.6 L267.6,638.6 L269.1,644.6 L270.6,650.6 L272.1,656.6 " fill="none" stroke="#404040" stroke-width="1.4" opacity="0.5" stroke-linecap="round" filter="url(#blur07)"/>
<rect x="166.6" y="554.6" width="94.6" height="97.9" filter="url(#temw)" opacity="0.25"/>
</g>
<text x="258" y="565" font-family="'Liberation Sans', sans-serif" font-size="9.5" font-weight="bold" text-anchor="end" fill="#f2f2f2">C-1.2 V</text>
<text x="204.9" y="598" font-family="'Liberation Sans', sans-serif" font-size="9.5" font-weight="bold" text-anchor="middle" fill="#f2f2f2">d=0.71 nm</text>
<text x="203.2" y="610" font-family="'Liberation Sans', sans-serif" font-size="9.5" font-weight="bold" text-anchor="middle" fill="#f2f2f2">(002)</text>
<line x1="249.7" y1="612.8" x2="255" y2="592.8" stroke="#f2f2f2" stroke-width="1.2"/>
<line x1="253.5" y1="613.8" x2="258.8" y2="593.8" stroke="#f2f2f2" stroke-width="1.2"/>
<line x1="193" y1="649" x2="201" y2="628" stroke="#f2f2f2" stroke-width="1.3"/>
<line x1="197.5" y1="650" x2="205.5" y2="629" stroke="#f2f2f2" stroke-width="1.3"/>
<line x1="183" y1="633" x2="192" y2="636.5" stroke="#f2f2f2" stroke-width="1.2"/>
<polygon points="195,637.8 190,633.8 189,638.8" fill="#f2f2f2"/>
<line x1="216" y1="646" x2="208" y2="643" stroke="#f2f2f2" stroke-width="1.2"/>
<polygon points="205,642 210,640.5 209,645.5" fill="#f2f2f2"/>
<text x="245.7" y="642.5" font-family="'Liberation Sans', sans-serif" font-size="10" font-weight="bold" text-anchor="middle" fill="#f2f2f2">5 nm</text>
<rect x="233.8" y="645" width="25.2" height="3.2" fill="#f2f2f2"/>
<g clip-path="url(#ckt)">
<rect x="265.5" y="450.4" width="70.6" height="97.8" fill="#a8a8a8"/>
<g transform="rotate(46 265.5 491.4)" filter="url(#blur1)">
<rect x="225.5" y="483.9" width="200" height="9" fill="#e6e6e6"/>
<rect x="225.5" y="476.9" width="200" height="5" fill="#8c8c8c"/>
<rect x="225.5" y="468.4" width="200" height="8" fill="#dadada"/>
<rect x="225.5" y="461.4" width="200" height="6" fill="#8a8a8a"/>
<rect x="225.5" y="451.9" width="200" height="9" fill="#e0e0e0"/>
<rect x="225.5" y="444.4" width="200" height="6" fill="#9a9a9a"/>
<rect x="225.5" y="434.9" width="200" height="9" fill="#d4d4d4"/>
<rect x="225.5" y="426.4" width="200" height="8" fill="#a0a0a0"/>
</g>
<rect x="265.5" y="450.4" width="70.6" height="97.8" filter="url(#temw)" opacity="0.5"/>
<polygon points="265.5,491.4 270.7,495.8 275.7,502.8 280.1,506.7 285.7,513.6 290.9,516.4 295.7,522 300.4,528.3 304.1,532.9 309.9,538.3 316.5,543.1 320.9,547.8 320.5,548.4 265.5,548.4" fill="#0a0a0a"/>
</g>
<text x="271" y="475" font-family="'Liberation Serif', serif" font-size="22" font-weight="bold" text-anchor="start" fill="#111">k</text>
<text x="334" y="461" font-family="'Liberation Sans', sans-serif" font-size="9.5" font-weight="bold" text-anchor="end" fill="#f0f0f0" opacity="0.75">D-0.13 V</text>
<text x="285.5" y="537.5" font-family="'Liberation Sans', sans-serif" font-size="9.5" font-weight="bold" text-anchor="middle" fill="#f4f4f4">100 nm</text>
<rect x="279" y="540" width="12" height="3.2" fill="#f4f4f4"/>
<g clip-path="url(#ckb)">
<rect x="265.5" y="554.6" width="70.1" height="97.9" fill="#c4c4c4"/>
<line x1="273.5" y1="556.6" x2="299.5" y2="652.6" stroke="#7a7a7a" stroke-width="6" filter="url(#blur1)"/>
<line x1="311.5" y1="556.6" x2="275.5" y2="646.6" stroke="#858585" stroke-width="5" filter="url(#blur1)"/>
<line x1="267.5" y1="566.6" x2="289.5" y2="652.6" stroke="#e8e8e8" stroke-width="3" filter="url(#blur1)"/>
<rect x="265.5" y="554.6" width="70.1" height="97.9" filter="url(#temw)" opacity="0.45"/>
<polygon points="308.5,554.6 303.5,578.6 299.5,602.6 308.5,626.6 317.5,652.6 336.5,652.6 336.5,554.6" fill="#070707"/>
</g>
<text x="334" y="565" font-family="'Liberation Sans', sans-serif" font-size="9.5" font-weight="bold" text-anchor="end" fill="#f0f0f0">C-1.2 V</text>
<text x="285.5" y="641.5" font-family="'Liberation Sans', sans-serif" font-size="9.5" font-weight="bold" text-anchor="middle" fill="#111">100 nm</text>
<rect x="277" y="644.5" width="16" height="3.5" fill="#111"/>
<g clip-path="url(#ce00)">
<rect x="340" y="450.5" width="70" height="97.8" fill="#080404"/>
<g opacity="0.3" filter="url(#blur3)">
<polygon points="340,450.5 410,450.5 410,548.5 394,548.5 380,533.5 367,519.5 353,505.5 340,492.5" fill="#e01818"/>
</g>
<g filter="url(#speck)" opacity="0.8">
<polygon points="340,450.5 410,450.5 410,548.5 394,548.5 380,533.5 367,519.5 353,505.5 340,492.5" fill="#e01818"/>
</g>
<g transform="rotate(46 340 492.5)" filter="url(#blur3)" opacity="0.55">
<rect x="300" y="478" width="200" height="5" fill="#000"/>
<rect x="300" y="462.5" width="200" height="6" fill="#000"/>
<rect x="300" y="445.5" width="200" height="6" fill="#000"/>
<rect x="300" y="427.5" width="200" height="8" fill="#000"/>
<rect x="300" y="411" width="200" height="7" fill="#000"/>
</g>
</g>
<text x="346" y="539.3" font-family="'Liberation Sans', sans-serif" font-size="9.5" font-weight="bold" text-anchor="start" fill="#f0f0f0">Mo</text>
<g clip-path="url(#ce01)">
<rect x="340" y="554.6" width="70" height="97.8" fill="#080404"/>
<g opacity="0.3" filter="url(#blur3)">
<polygon points="340,554.6 392,554.6 384,576.6 376,598.6 386,624.6 398,652.6 340,652.6" fill="#e01818"/>
</g>
<g filter="url(#speck)" opacity="0.9">
<polygon points="340,554.6 392,554.6 384,576.6 376,598.6 386,624.6 398,652.6 340,652.6" fill="#e01818"/>
</g>
<line x1="345" y1="549.6" x2="355" y2="654.6" stroke="#000" stroke-width="4" opacity="0.4" filter="url(#blur3)"/>
<line x1="359" y1="549.6" x2="369" y2="654.6" stroke="#000" stroke-width="4" opacity="0.4" filter="url(#blur3)"/>
<line x1="373" y1="549.6" x2="383" y2="654.6" stroke="#000" stroke-width="4" opacity="0.4" filter="url(#blur3)"/>
</g>
<text x="346" y="643.4" font-family="'Liberation Sans', sans-serif" font-size="9.5" font-weight="bold" text-anchor="start" fill="#f0f0f0">Mo</text>
<g clip-path="url(#ce10)">
<rect x="413.5" y="450.5" width="70" height="97.8" fill="#080404"/>
<g opacity="0.3" filter="url(#blur3)">
<polygon points="413.5,450.5 483.5,450.5 483.5,548.5 467.5,548.5 453.5,533.5 440.5,519.5 426.5,505.5 413.5,492.5" fill="#50d028"/>
</g>
<g filter="url(#speck)" opacity="0.8">
<polygon points="413.5,450.5 483.5,450.5 483.5,548.5 467.5,548.5 453.5,533.5 440.5,519.5 426.5,505.5 413.5,492.5" fill="#50d028"/>
</g>
<g transform="rotate(46 413.5 492.5)" filter="url(#blur3)" opacity="0.55">
<rect x="373.5" y="478" width="200" height="5" fill="#000"/>
<rect x="373.5" y="462.5" width="200" height="6" fill="#000"/>
<rect x="373.5" y="445.5" width="200" height="6" fill="#000"/>
<rect x="373.5" y="427.5" width="200" height="8" fill="#000"/>
<rect x="373.5" y="411" width="200" height="7" fill="#000"/>
</g>
</g>
<text x="419.5" y="539.3" font-family="'Liberation Sans', sans-serif" font-size="9.5" font-weight="bold" text-anchor="start" fill="#f0f0f0">S</text>
<g clip-path="url(#ce11)">
<rect x="413.5" y="554.6" width="70" height="97.8" fill="#080404"/>
<g opacity="0.3" filter="url(#blur3)">
<polygon points="413.5,554.6 465.5,554.6 457.5,576.6 449.5,598.6 459.5,624.6 471.5,652.6 413.5,652.6" fill="#50d028"/>
</g>
<g filter="url(#speck)" opacity="0.8">
<polygon points="413.5,554.6 465.5,554.6 457.5,576.6 449.5,598.6 459.5,624.6 471.5,652.6 413.5,652.6" fill="#50d028"/>
</g>
<line x1="418.5" y1="549.6" x2="428.5" y2="654.6" stroke="#000" stroke-width="4" opacity="0.4" filter="url(#blur3)"/>
<line x1="432.5" y1="549.6" x2="442.5" y2="654.6" stroke="#000" stroke-width="4" opacity="0.4" filter="url(#blur3)"/>
<line x1="446.5" y1="549.6" x2="456.5" y2="654.6" stroke="#000" stroke-width="4" opacity="0.4" filter="url(#blur3)"/>
</g>
<text x="419.5" y="643.4" font-family="'Liberation Sans', sans-serif" font-size="9.5" font-weight="bold" text-anchor="start" fill="#f0f0f0">S</text>
<g clip-path="url(#ce20)">
<rect x="487.5" y="450.5" width="70" height="97.8" fill="#080404"/>
<g opacity="0.2" filter="url(#blur3)">
<polygon points="487.5,450.5 557.5,450.5 557.5,548.5 541.5,548.5 527.5,533.5 514.5,519.5 500.5,505.5 487.5,492.5" fill="#b0b030"/>
</g>
<g filter="url(#speck)" opacity="0.5">
<polygon points="487.5,450.5 557.5,450.5 557.5,548.5 541.5,548.5 527.5,533.5 514.5,519.5 500.5,505.5 487.5,492.5" fill="#b0b030"/>
</g>
<g transform="rotate(46 487.5 492.5)" filter="url(#blur3)" opacity="0.55">
<rect x="447.5" y="478" width="200" height="5" fill="#000"/>
<rect x="447.5" y="462.5" width="200" height="6" fill="#000"/>
<rect x="447.5" y="445.5" width="200" height="6" fill="#000"/>
<rect x="447.5" y="427.5" width="200" height="8" fill="#000"/>
<rect x="447.5" y="411" width="200" height="7" fill="#000"/>
</g>
</g>
<text x="493.5" y="539.3" font-family="'Liberation Sans', sans-serif" font-size="9.5" font-weight="bold" text-anchor="start" fill="#f0f0f0">O</text>
<g clip-path="url(#ce21)">
<rect x="487.5" y="554.6" width="70" height="97.8" fill="#080404"/>
<g opacity="0.1" filter="url(#blur3)">
<polygon points="487.5,554.6 539.5,554.6 531.5,576.6 523.5,598.6 533.5,624.6 545.5,652.6 487.5,652.6" fill="#b0b030"/>
</g>
<g filter="url(#speck)" opacity="0.4">
<polygon points="487.5,554.6 539.5,554.6 531.5,576.6 523.5,598.6 533.5,624.6 545.5,652.6 487.5,652.6" fill="#b0b030"/>
</g>
<line x1="492.5" y1="549.6" x2="502.5" y2="654.6" stroke="#000" stroke-width="4" opacity="0.4" filter="url(#blur3)"/>
<line x1="506.5" y1="549.6" x2="516.5" y2="654.6" stroke="#000" stroke-width="4" opacity="0.4" filter="url(#blur3)"/>
<line x1="520.5" y1="549.6" x2="530.5" y2="654.6" stroke="#000" stroke-width="4" opacity="0.4" filter="url(#blur3)"/>
</g>
<text x="493.5" y="643.4" font-family="'Liberation Sans', sans-serif" font-size="9.5" font-weight="bold" text-anchor="start" fill="#f0f0f0">O</text>
<g clip-path="url(#ce30)">
<rect x="561.5" y="450.5" width="70" height="97.8" fill="#080404"/>
<g opacity="0.2" filter="url(#blur3)">
<polygon points="561.5,450.5 631.5,450.5 631.5,548.5 615.5,548.5 601.5,533.5 588.5,519.5 574.5,505.5 561.5,492.5" fill="#c030c0"/>
</g>
<g filter="url(#speck)" opacity="0.6">
<polygon points="561.5,450.5 631.5,450.5 631.5,548.5 615.5,548.5 601.5,533.5 588.5,519.5 574.5,505.5 561.5,492.5" fill="#c030c0"/>
</g>
<g transform="rotate(46 561.5 492.5)" filter="url(#blur3)" opacity="0.55">
<rect x="521.5" y="478" width="200" height="5" fill="#000"/>
<rect x="521.5" y="462.5" width="200" height="6" fill="#000"/>
<rect x="521.5" y="445.5" width="200" height="6" fill="#000"/>
<rect x="521.5" y="427.5" width="200" height="8" fill="#000"/>
<rect x="521.5" y="411" width="200" height="7" fill="#000"/>
</g>
</g>
<text x="567.5" y="539.3" font-family="'Liberation Sans', sans-serif" font-size="9.5" font-weight="bold" text-anchor="start" fill="#f0f0f0">Zn</text>
<g clip-path="url(#ce31)">
<rect x="561.5" y="554.6" width="70" height="97.8" fill="#080404"/>
<g opacity="0" filter="url(#blur3)">
<polygon points="561.5,554.6 613.5,554.6 605.5,576.6 597.5,598.6 607.5,624.6 619.5,652.6 561.5,652.6" fill="#c030c0"/>
</g>
<g filter="url(#speck)" opacity="0.1">
<polygon points="561.5,554.6 613.5,554.6 605.5,576.6 597.5,598.6 607.5,624.6 619.5,652.6 561.5,652.6" fill="#c030c0"/>
</g>
<line x1="566.5" y1="549.6" x2="576.5" y2="654.6" stroke="#000" stroke-width="4" opacity="0.4" filter="url(#blur3)"/>
<line x1="580.5" y1="549.6" x2="590.5" y2="654.6" stroke="#000" stroke-width="4" opacity="0.4" filter="url(#blur3)"/>
<line x1="594.5" y1="549.6" x2="604.5" y2="654.6" stroke="#000" stroke-width="4" opacity="0.4" filter="url(#blur3)"/>
</g>
<text x="567.5" y="643.4" font-family="'Liberation Sans', sans-serif" font-size="9.5" font-weight="bold" text-anchor="start" fill="#f0f0f0">Zn</text>
<rect x="721.5" y="479.3" width="196.2" height="149.1" fill="url(#ger)"/>
<line x1="739.5" y1="479.3" x2="739.5" y2="628.4" stroke="#ffffff" stroke-width="1.5" opacity="0.5"/>
<line x1="766.5" y1="479.3" x2="766.5" y2="628.4" stroke="#ffffff" stroke-width="1.5" opacity="0.5"/>
<line x1="793.5" y1="479.3" x2="793.5" y2="628.4" stroke="#ffffff" stroke-width="1.5" opacity="0.5"/>
<line x1="820.5" y1="479.3" x2="820.5" y2="628.4" stroke="#ffffff" stroke-width="1.5" opacity="0.5"/>
<line x1="847.5" y1="479.3" x2="847.5" y2="628.4" stroke="#ffffff" stroke-width="1.5" opacity="0.5"/>
<line x1="874.5" y1="479.3" x2="874.5" y2="628.4" stroke="#ffffff" stroke-width="1.5" opacity="0.5"/>
<line x1="901.5" y1="479.3" x2="901.5" y2="628.4" stroke="#ffffff" stroke-width="1.5" opacity="0.5"/>
<polyline points="739.5,494.3 757.5,485.3 793.5,486.9 829.5,490.7 865.5,500.5 901.5,516" fill="none" stroke="#f8a898" stroke-width="10" stroke-linejoin="round" stroke-linecap="round" opacity="0.5"/>
<polyline points="739.5,494.3 757.5,485.3 793.5,486.9 829.5,490.7 865.5,500.5 901.5,516" fill="none" stroke="#e04838" stroke-width="2.2" stroke-linejoin="round" stroke-linecap="round"/>
<circle cx="739.5" cy="494.3" r="3.3" fill="#e85848" stroke="#c83828" stroke-width="0.8"/>
<circle cx="757.5" cy="485.3" r="3.3" fill="#e85848" stroke="#c83828" stroke-width="0.8"/>
<circle cx="793.5" cy="486.9" r="3.3" fill="#e85848" stroke="#c83828" stroke-width="0.8"/>
<circle cx="829.5" cy="490.7" r="3.3" fill="#e85848" stroke="#c83828" stroke-width="0.8"/>
<circle cx="865.5" cy="500.5" r="3.3" fill="#e85848" stroke="#c83828" stroke-width="0.8"/>
<circle cx="901.5" cy="516" r="3.3" fill="#e85848" stroke="#c83828" stroke-width="0.8"/>
<g font-family="'Liberation Serif', serif" font-weight="bold" font-size="8.4">
<text x="797" y="487" fill="#e05050">Our work  MoS<tspan font-size="5" dy="2">2</tspan><tspan dy="-2">-DLTs//ZnMn</tspan><tspan font-size="5" dy="2">2</tspan><tspan dy="-2">O</tspan><tspan font-size="5" dy="2">4</tspan></text>
<text x="743" y="502.5" fill="#222222">H<tspan font-size="5" dy="2">2</tspan><tspan dy="-2">Ti</tspan><tspan font-size="5" dy="2">3</tspan><tspan dy="-2">O</tspan><tspan font-size="5" dy="2">7</tspan><tspan dy="-2">&#183;xH</tspan><tspan font-size="5" dy="2">2</tspan><tspan dy="-2">O // Zn</tspan><tspan font-size="5" dy="2">x</tspan><tspan dy="-2">MnO</tspan><tspan font-size="5" dy="2">2</tspan><tspan dy="-2"> Ref. 53</tspan></text>
<text x="743" y="509.8" fill="#e07888">Cu<tspan font-size="5" dy="2">2-x</tspan><tspan dy="-2">Te // Na</tspan><tspan font-size="5" dy="2">3</tspan><tspan dy="-2">V</tspan><tspan font-size="5" dy="2">2</tspan><tspan dy="-2">(PO</tspan><tspan font-size="5" dy="2">4</tspan><tspan dy="-2">)</tspan><tspan font-size="5" dy="2">3</tspan><tspan dy="-2"> Ref. 55</tspan></text>
<text x="775" y="517.5" fill="#7040d0">ZnS@Zn-350 // MnO<tspan font-size="5" dy="2">2</tspan><tspan dy="-2"> Ref. 50</tspan></text>
<text x="722" y="524.5" fill="#802828">Al<tspan font-size="5" dy="2">2</tspan><tspan dy="-2">O</tspan><tspan font-size="5" dy="2">3</tspan><tspan dy="-2">-Zn // MnO</tspan><tspan font-size="5" dy="2">2</tspan><tspan dy="-2"> Ref. 51</tspan></text>
<text x="762" y="532.5" fill="#308a30">PI-COF // MnO<tspan font-size="5" dy="2">2</tspan><tspan dy="-2"> Ref. 49</tspan></text>
<text x="728.7" y="541.5" fill="#a89848">MZn-60 // MnO<tspan font-size="5" dy="2">2</tspan><tspan dy="-2"> Ref. 54</tspan></text>
<text x="728.7" y="550.5" fill="#2030c0">PTCDI/rGO // PB Ref. 17</text>
<text x="724.8" y="562.5" fill="#c848d8">Na<tspan font-size="5" dy="2">0.14</tspan><tspan dy="-2">TiS</tspan><tspan font-size="5" dy="2">2</tspan><tspan dy="-2"> // ZnMn</tspan><tspan font-size="5" dy="2">2</tspan><tspan dy="-2">O</tspan><tspan font-size="5" dy="2">4</tspan><tspan dy="-2">  Ref. 16</tspan></text>
<text x="735" y="592.6" fill="#e09858">502 coated-Zn // V<tspan font-size="5" dy="2">2</tspan><tspan dy="-2">O</tspan><tspan font-size="5" dy="2">5</tspan><tspan dy="-2">&#183;1.6H</tspan><tspan font-size="5" dy="2">2</tspan><tspan dy="-2">O  Ref. 52</tspan></text>
<text x="752" y="624.5" fill="#d0b048">Cu<tspan font-size="5" dy="2">2-x</tspan><tspan dy="-2">Se // MnO</tspan><tspan font-size="5" dy="2">2</tspan><tspan dy="-2">/CNT Ref. 56</tspan></text>
</g>
<rect x="736.5" y="505.7" width="5" height="5" fill="#5a1a1a"/>
<text x="737.7" y="503.5" font-family="'Liberation Sans', sans-serif" font-size="7" font-weight="normal" text-anchor="middle" fill="#e080a0">&#9733;</text>
<polygon points="761.6,510.5 769.6,510.5 765.6,517" fill="#7040d0"/>
<circle cx="756.6" cy="526.8" r="3.3" fill="#30902a"/>
<circle cx="730" cy="531.2" r="2.7" fill="#f0e0a0" stroke="#807040" stroke-width="0.8"/>
<polygon points="723,543.5 727,548 725,548 725,552 721,552 721,548 719,548" fill="#3030c0"/>
<circle cx="730" cy="590" r="2.8" fill="#e09858"/>
<polygon points="747.3,619 750.6,621.4 749.4,625.2 745.2,625.2 744,621.4" fill="#e0c048"/>
<polygon points="755.5,480.8 761.5,488.3 755.5,492.4" fill="#111"/>
<rect x="721.5" y="479.3" width="196.2" height="149.1" fill="none" stroke="#151515" stroke-width="1.3"/>
<line x1="718.5" y1="615.3" x2="721.5" y2="615.3" stroke="#222" stroke-width="1"/>
<text x="716.5" y="619.9" font-family="'Liberation Serif', serif" font-size="11" font-weight="bold" text-anchor="end" fill="#111">50</text>
<line x1="718.5" y1="588.1" x2="721.5" y2="588.1" stroke="#222" stroke-width="1"/>
<text x="716.5" y="592.7" font-family="'Liberation Serif', serif" font-size="11" font-weight="bold" text-anchor="end" fill="#111">60</text>
<line x1="718.5" y1="560.9" x2="721.5" y2="560.9" stroke="#222" stroke-width="1"/>
<text x="716.5" y="565.5" font-family="'Liberation Serif', serif" font-size="11" font-weight="bold" text-anchor="end" fill="#111">70</text>
<line x1="718.5" y1="533.7" x2="721.5" y2="533.7" stroke="#222" stroke-width="1"/>
<text x="716.5" y="538.3" font-family="'Liberation Serif', serif" font-size="11" font-weight="bold" text-anchor="end" fill="#111">80</text>
<line x1="718.5" y1="506.5" x2="721.5" y2="506.5" stroke="#222" stroke-width="1"/>
<text x="716.5" y="511.1" font-family="'Liberation Serif', serif" font-size="11" font-weight="bold" text-anchor="end" fill="#111">90</text>
<line x1="718.5" y1="479.3" x2="721.5" y2="479.3" stroke="#222" stroke-width="1"/>
<text x="716.5" y="483.9" font-family="'Liberation Serif', serif" font-size="11" font-weight="bold" text-anchor="end" fill="#111">100</text>
<line x1="721.5" y1="628.4" x2="721.5" y2="631.4" stroke="#222" stroke-width="1"/>
<text x="721.5" y="642.4" font-family="'Liberation Serif', serif" font-size="11.5" font-weight="bold" text-anchor="middle" fill="#111">0</text>
<line x1="757.5" y1="628.4" x2="757.5" y2="631.4" stroke="#222" stroke-width="1"/>
<text x="757.5" y="642.4" font-family="'Liberation Serif', serif" font-size="11.5" font-weight="bold" text-anchor="middle" fill="#111">2000</text>
<line x1="793.5" y1="628.4" x2="793.5" y2="631.4" stroke="#222" stroke-width="1"/>
<text x="793.5" y="642.4" font-family="'Liberation Serif', serif" font-size="11.5" font-weight="bold" text-anchor="middle" fill="#111">4000</text>
<line x1="829.5" y1="628.4" x2="829.5" y2="631.4" stroke="#222" stroke-width="1"/>
<text x="829.5" y="642.4" font-family="'Liberation Serif', serif" font-size="11.5" font-weight="bold" text-anchor="middle" fill="#111">6000</text>
<line x1="865.5" y1="628.4" x2="865.5" y2="631.4" stroke="#222" stroke-width="1"/>
<text x="865.5" y="642.4" font-family="'Liberation Serif', serif" font-size="11.5" font-weight="bold" text-anchor="middle" fill="#111">8000</text>
<line x1="901.5" y1="628.4" x2="901.5" y2="631.4" stroke="#222" stroke-width="1"/>
<text x="901.5" y="642.4" font-family="'Liberation Serif', serif" font-size="11.5" font-weight="bold" text-anchor="middle" fill="#111">10000</text>
<text x="819" y="652.5" font-family="'Liberation Serif', serif" font-size="12.5" font-weight="bold" text-anchor="middle" fill="#111">Cycle number</text>
<text x="697.5" y="557.7" font-family="'Liberation Serif', serif" font-size="13" font-weight="bold" text-anchor="middle" fill="#111" transform="rotate(-90 697.5 557.7)">Capacity retention (%)</text>
<text x="675" y="487" font-family="'Liberation Serif', serif" font-size="22" font-weight="bold" text-anchor="start" fill="#111">e</text>
<rect x="973.9" y="479.4" width="198.9" height="148.2" fill="#ffffff"/>
<polygon points="973.6,627.6 976.1,502.1 978.6,504.1 981.1,508 983.6,510 986.1,511 988.5,510 991,509.5 993.5,509 996,509 998.5,509 998.5,627.6" fill="#f8dde6"/>
<polygon points="998.5,627.6 998.5,509 1001,513.9 1003.5,518.9 1006,520.4 1008.5,520.9 1011,521.3 1013.4,521.8 1015.9,522.3 1018.4,522.8 1020.9,523.3 1023.4,523.8 1023.4,627.6" fill="#f6dadf"/>
<line x1="998.5" y1="509" x2="998.5" y2="627.6" stroke="#b080a0" stroke-width="1" stroke-dasharray="1.5 2.5"/>
<polygon points="1023.4,627.6 1023.4,523.8 1025.9,531.7 1028.4,536.6 1030.9,537.6 1033.4,538.1 1035.9,538.6 1038.3,539.1 1040.8,539.6 1043.3,540.1 1045.8,540.6 1048.3,541.6 1048.3,627.6" fill="#efd4dc"/>
<line x1="1023.4" y1="523.8" x2="1023.4" y2="627.6" stroke="#b080a0" stroke-width="1" stroke-dasharray="1.5 2.5"/>
<polygon points="1048.3,627.6 1048.3,541.6 1050.8,544.5 1053.3,545.5 1055.8,546 1058.3,546 1060.8,546.5 1063.2,546.5 1065.7,547 1068.2,547.5 1070.7,547.5 1073.2,548.5 1073.2,627.6" fill="#e6d6e6"/>
<line x1="1048.3" y1="541.6" x2="1048.3" y2="627.6" stroke="#b080a0" stroke-width="1" stroke-dasharray="1.5 2.5"/>
<polygon points="1073.2,627.6 1073.2,548.5 1075.7,549.5 1078.2,550.5 1080.7,551 1083.2,551 1085.7,551 1088.1,551 1090.6,551.5 1093.1,551.5 1095.6,551.5 1098.1,552.5 1098.1,627.6" fill="#e2d8ec"/>
<line x1="1073.2" y1="548.5" x2="1073.2" y2="627.6" stroke="#b080a0" stroke-width="1" stroke-dasharray="1.5 2.5"/>
<polygon points="1098.1,627.6 1098.1,552.5 1100.6,556.4 1103.1,558.4 1105.6,558.4 1108.1,559.4 1110.5,559.4 1113,560.4 1115.5,560.4 1118,559.4 1120.5,560.4 1123,561.3 1123,627.6" fill="#d8dcee"/>
<line x1="1098.1" y1="552.5" x2="1098.1" y2="627.6" stroke="#b080a0" stroke-width="1" stroke-dasharray="1.5 2.5"/>
<polygon points="1123,627.6 1123,561.3 1125.5,565.3 1128,566.3 1130.5,566.3 1133,566.3 1135.5,566.3 1137.9,566.3 1140.4,566.3 1142.9,566.3 1145.4,567.3 1147.9,568.2 1147.9,627.6" fill="#c8d8ee"/>
<line x1="1123" y1="561.3" x2="1123" y2="627.6" stroke="#b080a0" stroke-width="1" stroke-dasharray="1.5 2.5"/>
<polygon points="1147.9,627.6 1147.9,568.2 1150.4,550.5 1152.9,529.7 1155.4,530.7 1157.9,531.7 1160.4,532.7 1162.8,534.7 1165.3,536.6 1167.8,538.6 1170.3,540.6 1172.8,543.6 1172.8,627.6" fill="#e8dcea"/>
<line x1="1147.9" y1="568.2" x2="1147.9" y2="627.6" stroke="#b080a0" stroke-width="1" stroke-dasharray="1.5 2.5"/>
<polyline points="976.1,502.1 978.6,504.1 981.1,508 983.6,510 986.1,511 988.5,510 991,509.5 993.5,509 996,509 998.5,509 1001,513.9 1003.5,518.9 1006,520.4 1008.5,520.9 1011,521.3 1013.4,521.8 1015.9,522.3 1018.4,522.8 1020.9,523.3 1023.4,523.8 1025.9,531.7 1028.4,536.6 1030.9,537.6 1033.4,538.1 1035.9,538.6 1038.3,539.1 1040.8,539.6 1043.3,540.1 1045.8,540.6 1048.3,541.6 1050.8,544.5 1053.3,545.5 1055.8,546 1058.3,546 1060.8,546.5 1063.2,546.5 1065.7,547 1068.2,547.5 1070.7,547.5 1073.2,548.5 1075.7,549.5 1078.2,550.5 1080.7,551 1083.2,551 1085.7,551 1088.1,551 1090.6,551.5 1093.1,551.5 1095.6,551.5 1098.1,552.5 1100.6,556.4 1103.1,558.4 1105.6,558.4 1108.1,559.4 1110.5,559.4 1113,560.4 1115.5,560.4 1118,559.4 1120.5,560.4 1123,561.3 1125.5,565.3 1128,566.3 1130.5,566.3 1133,566.3 1135.5,566.3 1137.9,566.3 1140.4,566.3 1142.9,566.3 1145.4,567.3 1147.9,568.2 1150.4,550.5 1152.9,529.7 1155.4,530.7 1157.9,531.7 1160.4,532.7 1162.8,534.7 1165.3,536.6 1167.8,538.6 1170.3,540.6 1172.8,543.6" fill="none" stroke="#3a6a9a" stroke-width="1.3" stroke-linejoin="round" stroke-linecap="round"/>
<circle cx="976.1" cy="502.1" r="2" fill="#b0d0ec" stroke="#3a6a9a" stroke-width="1"/>
<circle cx="978.6" cy="504.1" r="2" fill="#b0d0ec" stroke="#3a6a9a" stroke-width="1"/>
<circle cx="981.1" cy="508" r="2" fill="#b0d0ec" stroke="#3a6a9a" stroke-width="1"/>
<circle cx="983.6" cy="510" r="2" fill="#b0d0ec" stroke="#3a6a9a" stroke-width="1"/>
<circle cx="986.1" cy="511" r="2" fill="#b0d0ec" stroke="#3a6a9a" stroke-width="1"/>
<circle cx="988.5" cy="510" r="2" fill="#b0d0ec" stroke="#3a6a9a" stroke-width="1"/>
<circle cx="991" cy="509.5" r="2" fill="#b0d0ec" stroke="#3a6a9a" stroke-width="1"/>
<circle cx="993.5" cy="509" r="2" fill="#b0d0ec" stroke="#3a6a9a" stroke-width="1"/>
<circle cx="996" cy="509" r="2" fill="#b0d0ec" stroke="#3a6a9a" stroke-width="1"/>
<circle cx="998.5" cy="509" r="2" fill="#b0d0ec" stroke="#3a6a9a" stroke-width="1"/>
<circle cx="1001" cy="513.9" r="2" fill="#b0d0ec" stroke="#3a6a9a" stroke-width="1"/>
<circle cx="1003.5" cy="518.9" r="2" fill="#b0d0ec" stroke="#3a6a9a" stroke-width="1"/>
<circle cx="1006" cy="520.4" r="2" fill="#b0d0ec" stroke="#3a6a9a" stroke-width="1"/>
<circle cx="1008.5" cy="520.9" r="2" fill="#b0d0ec" stroke="#3a6a9a" stroke-width="1"/>
<circle cx="1011" cy="521.3" r="2" fill="#b0d0ec" stroke="#3a6a9a" stroke-width="1"/>
<circle cx="1013.4" cy="521.8" r="2" fill="#b0d0ec" stroke="#3a6a9a" stroke-width="1"/>
<circle cx="1015.9" cy="522.3" r="2" fill="#b0d0ec" stroke="#3a6a9a" stroke-width="1"/>
<circle cx="1018.4" cy="522.8" r="2" fill="#b0d0ec" stroke="#3a6a9a" stroke-width="1"/>
<circle cx="1020.9" cy="523.3" r="2" fill="#b0d0ec" stroke="#3a6a9a" stroke-width="1"/>
<circle cx="1023.4" cy="523.8" r="2" fill="#b0d0ec" stroke="#3a6a9a" stroke-width="1"/>
<circle cx="1025.9" cy="531.7" r="2" fill="#b0d0ec" stroke="#3a6a9a" stroke-width="1"/>
<circle cx="1028.4" cy="536.6" r="2" fill="#b0d0ec" stroke="#3a6a9a" stroke-width="1"/>
<circle cx="1030.9" cy="537.6" r="2" fill="#b0d0ec" stroke="#3a6a9a" stroke-width="1"/>
<circle cx="1033.4" cy="538.1" r="2" fill="#b0d0ec" stroke="#3a6a9a" stroke-width="1"/>
<circle cx="1035.9" cy="538.6" r="2" fill="#b0d0ec" stroke="#3a6a9a" stroke-width="1"/>
<circle cx="1038.3" cy="539.1" r="2" fill="#b0d0ec" stroke="#3a6a9a" stroke-width="1"/>
<circle cx="1040.8" cy="539.6" r="2" fill="#b0d0ec" stroke="#3a6a9a" stroke-width="1"/>
<circle cx="1043.3" cy="540.1" r="2" fill="#b0d0ec" stroke="#3a6a9a" stroke-width="1"/>
<circle cx="1045.8" cy="540.6" r="2" fill="#b0d0ec" stroke="#3a6a9a" stroke-width="1"/>
<circle cx="1048.3" cy="541.6" r="2" fill="#b0d0ec" stroke="#3a6a9a" stroke-width="1"/>
<circle cx="1050.8" cy="544.5" r="2" fill="#b0d0ec" stroke="#3a6a9a" stroke-width="1"/>
<circle cx="1053.3" cy="545.5" r="2" fill="#b0d0ec" stroke="#3a6a9a" stroke-width="1"/>
<circle cx="1055.8" cy="546" r="2" fill="#b0d0ec" stroke="#3a6a9a" stroke-width="1"/>
<circle cx="1058.3" cy="546" r="2" fill="#b0d0ec" stroke="#3a6a9a" stroke-width="1"/>
<circle cx="1060.8" cy="546.5" r="2" fill="#b0d0ec" stroke="#3a6a9a" stroke-width="1"/>
<circle cx="1063.2" cy="546.5" r="2" fill="#b0d0ec" stroke="#3a6a9a" stroke-width="1"/>
<circle cx="1065.7" cy="547" r="2" fill="#b0d0ec" stroke="#3a6a9a" stroke-width="1"/>
<circle cx="1068.2" cy="547.5" r="2" fill="#b0d0ec" stroke="#3a6a9a" stroke-width="1"/>
<circle cx="1070.7" cy="547.5" r="2" fill="#b0d0ec" stroke="#3a6a9a" stroke-width="1"/>
<circle cx="1073.2" cy="548.5" r="2" fill="#b0d0ec" stroke="#3a6a9a" stroke-width="1"/>
<circle cx="1075.7" cy="549.5" r="2" fill="#b0d0ec" stroke="#3a6a9a" stroke-width="1"/>
<circle cx="1078.2" cy="550.5" r="2" fill="#b0d0ec" stroke="#3a6a9a" stroke-width="1"/>
<circle cx="1080.7" cy="551" r="2" fill="#b0d0ec" stroke="#3a6a9a" stroke-width="1"/>
<circle cx="1083.2" cy="551" r="2" fill="#b0d0ec" stroke="#3a6a9a" stroke-width="1"/>
<circle cx="1085.7" cy="551" r="2" fill="#b0d0ec" stroke="#3a6a9a" stroke-width="1"/>
<circle cx="1088.1" cy="551" r="2" fill="#b0d0ec" stroke="#3a6a9a" stroke-width="1"/>
<circle cx="1090.6" cy="551.5" r="2" fill="#b0d0ec" stroke="#3a6a9a" stroke-width="1"/>
<circle cx="1093.1" cy="551.5" r="2" fill="#b0d0ec" stroke="#3a6a9a" stroke-width="1"/>
<circle cx="1095.6" cy="551.5" r="2" fill="#b0d0ec" stroke="#3a6a9a" stroke-width="1"/>
<circle cx="1098.1" cy="552.5" r="2" fill="#b0d0ec" stroke="#3a6a9a" stroke-width="1"/>
<circle cx="1100.6" cy="556.4" r="2" fill="#b0d0ec" stroke="#3a6a9a" stroke-width="1"/>
<circle cx="1103.1" cy="558.4" r="2" fill="#b0d0ec" stroke="#3a6a9a" stroke-width="1"/>
<circle cx="1105.6" cy="558.4" r="2" fill="#b0d0ec" stroke="#3a6a9a" stroke-width="1"/>
<circle cx="1108.1" cy="559.4" r="2" fill="#b0d0ec" stroke="#3a6a9a" stroke-width="1"/>
<circle cx="1110.5" cy="559.4" r="2" fill="#b0d0ec" stroke="#3a6a9a" stroke-width="1"/>
<circle cx="1113" cy="560.4" r="2" fill="#b0d0ec" stroke="#3a6a9a" stroke-width="1"/>
<circle cx="1115.5" cy="560.4" r="2" fill="#b0d0ec" stroke="#3a6a9a" stroke-width="1"/>
<circle cx="1118" cy="559.4" r="2" fill="#b0d0ec" stroke="#3a6a9a" stroke-width="1"/>
<circle cx="1120.5" cy="560.4" r="2" fill="#b0d0ec" stroke="#3a6a9a" stroke-width="1"/>
<circle cx="1123" cy="561.3" r="2" fill="#b0d0ec" stroke="#3a6a9a" stroke-width="1"/>
<circle cx="1125.5" cy="565.3" r="2" fill="#b0d0ec" stroke="#3a6a9a" stroke-width="1"/>
<circle cx="1128" cy="566.3" r="2" fill="#b0d0ec" stroke="#3a6a9a" stroke-width="1"/>
<circle cx="1130.5" cy="566.3" r="2" fill="#b0d0ec" stroke="#3a6a9a" stroke-width="1"/>
<circle cx="1133" cy="566.3" r="2" fill="#b0d0ec" stroke="#3a6a9a" stroke-width="1"/>
<circle cx="1135.5" cy="566.3" r="2" fill="#b0d0ec" stroke="#3a6a9a" stroke-width="1"/>
<circle cx="1137.9" cy="566.3" r="2" fill="#b0d0ec" stroke="#3a6a9a" stroke-width="1"/>
<circle cx="1140.4" cy="566.3" r="2" fill="#b0d0ec" stroke="#3a6a9a" stroke-width="1"/>
<circle cx="1142.9" cy="566.3" r="2" fill="#b0d0ec" stroke="#3a6a9a" stroke-width="1"/>
<circle cx="1145.4" cy="567.3" r="2" fill="#b0d0ec" stroke="#3a6a9a" stroke-width="1"/>
<circle cx="1147.9" cy="568.2" r="2" fill="#b0d0ec" stroke="#3a6a9a" stroke-width="1"/>
<circle cx="1150.4" cy="550.5" r="2" fill="#b0d0ec" stroke="#3a6a9a" stroke-width="1"/>
<circle cx="1152.9" cy="529.7" r="2" fill="#b0d0ec" stroke="#3a6a9a" stroke-width="1"/>
<circle cx="1155.4" cy="530.7" r="2" fill="#b0d0ec" stroke="#3a6a9a" stroke-width="1"/>
<circle cx="1157.9" cy="531.7" r="2" fill="#b0d0ec" stroke="#3a6a9a" stroke-width="1"/>
<circle cx="1160.4" cy="532.7" r="2" fill="#b0d0ec" stroke="#3a6a9a" stroke-width="1"/>
<circle cx="1162.8" cy="534.7" r="2" fill="#b0d0ec" stroke="#3a6a9a" stroke-width="1"/>
<circle cx="1165.3" cy="536.6" r="2" fill="#b0d0ec" stroke="#3a6a9a" stroke-width="1"/>
<circle cx="1167.8" cy="538.6" r="2" fill="#b0d0ec" stroke="#3a6a9a" stroke-width="1"/>
<circle cx="1170.3" cy="540.6" r="2" fill="#b0d0ec" stroke="#3a6a9a" stroke-width="1"/>
<circle cx="1172.8" cy="543.6" r="2" fill="#b0d0ec" stroke="#3a6a9a" stroke-width="1"/>
<rect x="973.9" y="479.4" width="198.9" height="148.2" fill="none" stroke="#151515" stroke-width="1.3"/>
<line x1="970.9" y1="627.5" x2="973.9" y2="627.5" stroke="#222" stroke-width="1"/>
<text x="968.9" y="632.2" font-family="'Liberation Serif', serif" font-size="11.2" font-weight="bold" text-anchor="end" fill="#111">0</text>
<line x1="970.9" y1="607.8" x2="973.9" y2="607.8" stroke="#222" stroke-width="1"/>
<text x="968.9" y="612.5" font-family="'Liberation Serif', serif" font-size="11.2" font-weight="bold" text-anchor="end" fill="#111">20</text>
<line x1="970.9" y1="588" x2="973.9" y2="588" stroke="#222" stroke-width="1"/>
<text x="968.9" y="592.7" font-family="'Liberation Serif', serif" font-size="11.2" font-weight="bold" text-anchor="end" fill="#111">40</text>
<line x1="970.9" y1="568.2" x2="973.9" y2="568.2" stroke="#222" stroke-width="1"/>
<text x="968.9" y="573" font-family="'Liberation Serif', serif" font-size="11.2" font-weight="bold" text-anchor="end" fill="#111">60</text>
<line x1="970.9" y1="548.5" x2="973.9" y2="548.5" stroke="#222" stroke-width="1"/>
<text x="968.9" y="553.2" font-family="'Liberation Serif', serif" font-size="11.2" font-weight="bold" text-anchor="end" fill="#111">80</text>
<line x1="970.9" y1="528.8" x2="973.9" y2="528.8" stroke="#222" stroke-width="1"/>
<text x="968.9" y="533.5" font-family="'Liberation Serif', serif" font-size="11.2" font-weight="bold" text-anchor="end" fill="#111">100</text>
<line x1="970.9" y1="509" x2="973.9" y2="509" stroke="#222" stroke-width="1"/>
<text x="968.9" y="513.7" font-family="'Liberation Serif', serif" font-size="11.2" font-weight="bold" text-anchor="end" fill="#111">120</text>
<line x1="970.9" y1="489.2" x2="973.9" y2="489.2" stroke="#222" stroke-width="1"/>
<text x="968.9" y="494" font-family="'Liberation Serif', serif" font-size="11.2" font-weight="bold" text-anchor="end" fill="#111">140</text>
<line x1="973.6" y1="627.6" x2="973.6" y2="630.6" stroke="#222" stroke-width="1"/>
<text x="973.6" y="641.1" font-family="'Liberation Serif', serif" font-size="12.5" font-weight="bold" text-anchor="middle" fill="#111">0</text>
<line x1="998.5" y1="627.6" x2="998.5" y2="630.6" stroke="#222" stroke-width="1"/>
<text x="998.5" y="641.1" font-family="'Liberation Serif', serif" font-size="12.5" font-weight="bold" text-anchor="middle" fill="#111">10</text>
<line x1="1023.4" y1="627.6" x2="1023.4" y2="630.6" stroke="#222" stroke-width="1"/>
<text x="1023.4" y="641.1" font-family="'Liberation Serif', serif" font-size="12.5" font-weight="bold" text-anchor="middle" fill="#111">20</text>
<line x1="1048.3" y1="627.6" x2="1048.3" y2="630.6" stroke="#222" stroke-width="1"/>
<text x="1048.3" y="641.1" font-family="'Liberation Serif', serif" font-size="12.5" font-weight="bold" text-anchor="middle" fill="#111">30</text>
<line x1="1073.2" y1="627.6" x2="1073.2" y2="630.6" stroke="#222" stroke-width="1"/>
<text x="1073.2" y="641.1" font-family="'Liberation Serif', serif" font-size="12.5" font-weight="bold" text-anchor="middle" fill="#111">40</text>
<line x1="1098.1" y1="627.6" x2="1098.1" y2="630.6" stroke="#222" stroke-width="1"/>
<text x="1098.1" y="641.1" font-family="'Liberation Serif', serif" font-size="12.5" font-weight="bold" text-anchor="middle" fill="#111">50</text>
<line x1="1123" y1="627.6" x2="1123" y2="630.6" stroke="#222" stroke-width="1"/>
<text x="1123" y="641.1" font-family="'Liberation Serif', serif" font-size="12.5" font-weight="bold" text-anchor="middle" fill="#111">60</text>
<line x1="1147.9" y1="627.6" x2="1147.9" y2="630.6" stroke="#222" stroke-width="1"/>
<text x="1147.9" y="641.1" font-family="'Liberation Serif', serif" font-size="12.5" font-weight="bold" text-anchor="middle" fill="#111">70</text>
<line x1="1172.8" y1="627.6" x2="1172.8" y2="630.6" stroke="#222" stroke-width="1"/>
<text x="1172.8" y="641.1" font-family="'Liberation Serif', serif" font-size="12.5" font-weight="bold" text-anchor="middle" fill="#111">80</text>
<text x="1075" y="653.5" font-family="'Liberation Serif', serif" font-size="12.3" font-weight="bold" text-anchor="middle" fill="#111">Cycle number</text>
<text x="946.5" y="554.5" font-family="'Liberation Serif', serif" font-size="11.3" font-weight="bold" text-anchor="middle" fill="#111" transform="rotate(-90 946.5 554.5)">Specific capacity (mAh g<tspan font-size="7.5" dy="-4">-1</tspan><tspan dy="4">)</tspan></text>
<text x="1079" y="497.5" font-family="'Liberation Serif', serif" font-size="13" font-weight="bold" text-anchor="middle" fill="#222">MoS<tspan font-size="8.5" dy="3">2</tspan><tspan dy="-3">-DLTs//ZnMn</tspan><tspan font-size="8.5" dy="3">2</tspan><tspan dy="-3">O</tspan><tspan font-size="8.5" dy="3">4</tspan></text>
<text x="975" y="597" font-family="'Liberation Serif', serif" font-size="14" font-weight="bold" text-anchor="start" fill="#222">Unit: A g<tspan font-size="8" dy="-5">-1</tspan></text>
<text x="986.1" y="620" font-family="'Liberation Serif', serif" font-size="13.5" font-weight="bold" text-anchor="middle" fill="#222">0.1</text>
<text x="1011" y="620" font-family="'Liberation Serif', serif" font-size="13.5" font-weight="bold" text-anchor="middle" fill="#222">0.2</text>
<text x="1035.9" y="620" font-family="'Liberation Serif', serif" font-size="13.5" font-weight="bold" text-anchor="middle" fill="#222">0.5</text>
<text x="1060.8" y="620" font-family="'Liberation Serif', serif" font-size="13.5" font-weight="bold" text-anchor="middle" fill="#222">0.8</text>
<text x="1085.7" y="620" font-family="'Liberation Serif', serif" font-size="13.5" font-weight="bold" text-anchor="middle" fill="#222">1.0</text>
<text x="1110.5" y="620" font-family="'Liberation Serif', serif" font-size="13.5" font-weight="bold" text-anchor="middle" fill="#222">2.0</text>
<text x="1135.5" y="620" font-family="'Liberation Serif', serif" font-size="13.5" font-weight="bold" text-anchor="middle" fill="#222">5.0</text>
<text x="1160.4" y="620" font-family="'Liberation Serif', serif" font-size="13.5" font-weight="bold" text-anchor="middle" fill="#222">0.1</text>
<text x="929" y="494.5" font-family="'Liberation Serif', serif" font-size="22" font-weight="bold" text-anchor="start" fill="#111">f</text>
</svg></body></html>
